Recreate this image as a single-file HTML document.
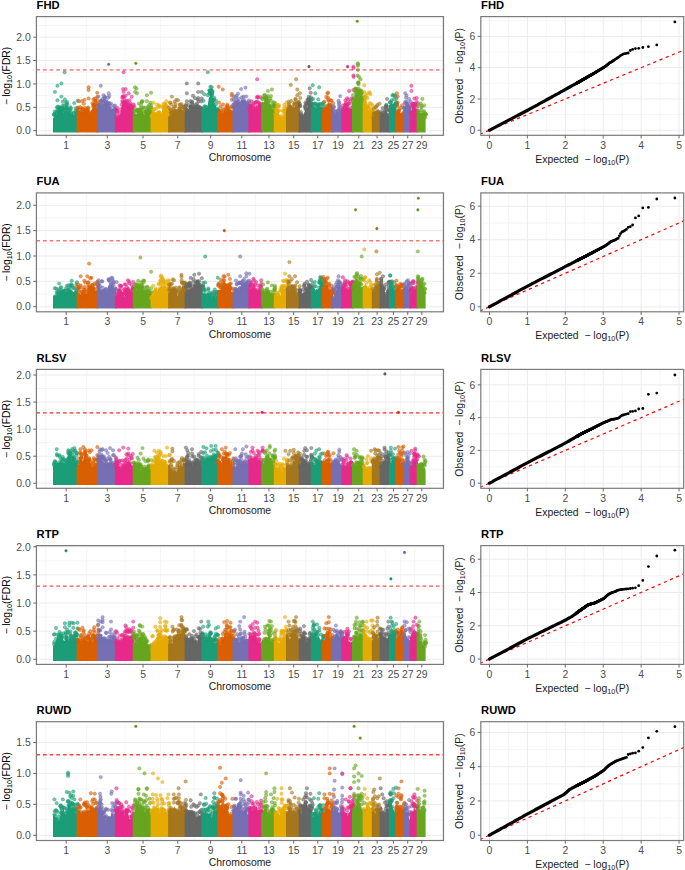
<!DOCTYPE html>
<html><head><meta charset="utf-8"><style>html,body{margin:0;padding:0;background:#fff;}svg{display:block;}.p circle{r:1.7px;fill-opacity:.6;stroke-opacity:.6;stroke-width:.6px}</style></head>
<body><svg width="685" height="870" viewBox="0 0 685 870">
<rect width="685" height="870" fill="#fff"/>
<rect x="36.4" y="16.6" width="407.1" height="118.70000000000002" fill="#fff"/>
<line x1="36.4" x2="443.5" y1="119.01" y2="119.01" stroke="#EBEBEB" stroke-width="0.5"/>
<line x1="36.4" x2="443.5" y1="95.62" y2="95.62" stroke="#EBEBEB" stroke-width="0.5"/>
<line x1="36.4" x2="443.5" y1="72.24" y2="72.24" stroke="#EBEBEB" stroke-width="0.5"/>
<line x1="36.4" x2="443.5" y1="48.85" y2="48.85" stroke="#EBEBEB" stroke-width="0.5"/>
<line x1="36.4" x2="443.5" y1="25.47" y2="25.47" stroke="#EBEBEB" stroke-width="0.5"/>
<line x1="45.70" x2="45.70" y1="16.6" y2="135.3" stroke="#EBEBEB" stroke-width="0.5"/>
<line x1="86.75" x2="86.75" y1="16.6" y2="135.3" stroke="#EBEBEB" stroke-width="0.5"/>
<line x1="125.16" x2="125.16" y1="16.6" y2="135.3" stroke="#EBEBEB" stroke-width="0.5"/>
<line x1="160.39" x2="160.39" y1="16.6" y2="135.3" stroke="#EBEBEB" stroke-width="0.5"/>
<line x1="194.19" x2="194.19" y1="16.6" y2="135.3" stroke="#EBEBEB" stroke-width="0.5"/>
<line x1="226.24" x2="226.24" y1="16.6" y2="135.3" stroke="#EBEBEB" stroke-width="0.5"/>
<line x1="255.38" x2="255.38" y1="16.6" y2="135.3" stroke="#EBEBEB" stroke-width="0.5"/>
<line x1="281.34" x2="281.34" y1="16.6" y2="135.3" stroke="#EBEBEB" stroke-width="0.5"/>
<line x1="305.76" x2="305.76" y1="16.6" y2="135.3" stroke="#EBEBEB" stroke-width="0.5"/>
<line x1="327.88" x2="327.88" y1="16.6" y2="135.3" stroke="#EBEBEB" stroke-width="0.5"/>
<line x1="348.37" x2="348.37" y1="16.6" y2="135.3" stroke="#EBEBEB" stroke-width="0.5"/>
<line x1="367.94" x2="367.94" y1="16.6" y2="135.3" stroke="#EBEBEB" stroke-width="0.5"/>
<line x1="385.28" x2="385.28" y1="16.6" y2="135.3" stroke="#EBEBEB" stroke-width="0.5"/>
<line x1="400.58" x2="400.58" y1="16.6" y2="135.3" stroke="#EBEBEB" stroke-width="0.5"/>
<line x1="414.75" x2="414.75" y1="16.6" y2="135.3" stroke="#EBEBEB" stroke-width="0.5"/>
<line x1="442.32" x2="442.32" y1="16.6" y2="135.3" stroke="#EBEBEB" stroke-width="0.5"/>
<line x1="36.4" x2="443.5" y1="130.70" y2="130.70" stroke="#EBEBEB" stroke-width="1"/>
<line x1="36.4" x2="443.5" y1="107.31" y2="107.31" stroke="#EBEBEB" stroke-width="1"/>
<line x1="36.4" x2="443.5" y1="83.93" y2="83.93" stroke="#EBEBEB" stroke-width="1"/>
<line x1="36.4" x2="443.5" y1="60.54" y2="60.54" stroke="#EBEBEB" stroke-width="1"/>
<line x1="36.4" x2="443.5" y1="37.16" y2="37.16" stroke="#EBEBEB" stroke-width="1"/>
<path d="M53.0,132.4 L53.0,118.3 L54.4,116.8 L55.4,115.3 L56.4,114.5 L57.4,112.4 L58.4,110.7 L59.4,111.7 L60.4,112.0 L61.4,108.5 L62.4,108.1 L63.4,113.3 L64.4,111.2 L65.4,111.1 L66.4,110.2 L67.4,108.4 L68.4,110.9 L69.4,112.3 L70.4,113.6 L71.4,113.9 L72.4,111.9 L73.4,114.9 L74.4,114.5 L75.4,114.4 L76.4,112.0 L77.4,109.2 L78.0,111.9 L78.0,111.9 L78.0,132.4Z" fill="#1B9E77"/><g class="p" fill="#1B9E77" stroke="#1B9E77"><circle cx="70.1" cy="110.1"/><circle cx="75.0" cy="112.2"/><circle cx="71.4" cy="112.1"/><circle cx="67.0" cy="108.8"/><circle cx="59.4" cy="112.1"/><circle cx="77.9" cy="111.8"/><circle cx="57.9" cy="111.7"/><circle cx="59.2" cy="108.5"/><circle cx="76.1" cy="112.8"/><circle cx="63.5" cy="112.6"/><circle cx="75.8" cy="110.5"/><circle cx="68.3" cy="109.6"/><circle cx="74.1" cy="113.2"/><circle cx="59.3" cy="111.4"/><circle cx="65.5" cy="108.4"/><circle cx="78.1" cy="112.8"/><circle cx="57.6" cy="110.4"/><circle cx="62.9" cy="108.3"/><circle cx="55.1" cy="115.5"/><circle cx="62.9" cy="110.7"/><circle cx="59.6" cy="112.2"/><circle cx="66.1" cy="107.8"/><circle cx="59.6" cy="107.8"/><circle cx="54.5" cy="114.4"/><circle cx="59.4" cy="111.3"/><circle cx="61.5" cy="107.6"/><circle cx="65.3" cy="110.4"/><circle cx="54.0" cy="114.8"/><circle cx="58.9" cy="106.9"/><circle cx="77.3" cy="109.3"/><circle cx="61.0" cy="108.8"/><circle cx="54.1" cy="114.2"/><circle cx="70.2" cy="113.9"/><circle cx="62.5" cy="105.7"/><circle cx="55.7" cy="112.6"/><circle cx="61.7" cy="108.9"/><circle cx="67.2" cy="107.5"/><circle cx="58.4" cy="111.6"/><circle cx="64.9" cy="110.0"/><circle cx="62.4" cy="108.9"/><circle cx="56.7" cy="112.8"/><circle cx="75.7" cy="114.3"/><circle cx="58.5" cy="108.7"/><circle cx="68.6" cy="110.8"/><circle cx="70.1" cy="113.4"/><circle cx="62.4" cy="108.5"/><circle cx="60.6" cy="109.5"/><circle cx="57.7" cy="106.6"/><circle cx="64.2" cy="106.0"/><circle cx="70.5" cy="107.3"/><circle cx="62.8" cy="101.7"/><circle cx="66.3" cy="104.7"/><circle cx="75.9" cy="108.1"/><circle cx="56.9" cy="107.6"/><circle cx="54.7" cy="111.4"/><circle cx="66.2" cy="103.0"/><circle cx="71.1" cy="108.5"/><circle cx="67.1" cy="101.9"/><circle cx="64.6" cy="72.2"/><circle cx="61.4" cy="83.5"/><circle cx="57.5" cy="85.8"/><circle cx="54.9" cy="91.9"/><circle cx="61.4" cy="96.6"/><circle cx="64.9" cy="99.4"/><circle cx="57.5" cy="100.3"/><circle cx="74.2" cy="103.1"/><circle cx="77.7" cy="100.8"/><circle cx="67.5" cy="104.5"/></g>
<path d="M76.6,132.4 L76.6,114.9 L78.0,113.4 L79.0,112.2 L80.0,112.6 L81.0,113.3 L82.0,109.5 L83.0,112.2 L84.0,109.8 L85.0,110.3 L86.0,110.6 L87.0,112.1 L88.0,113.0 L89.0,114.1 L90.0,114.8 L91.0,110.4 L92.0,109.1 L93.0,107.6 L94.0,105.1 L95.0,105.9 L96.0,106.6 L97.0,109.3 L98.0,106.1 L98.3,108.0 L98.3,108.0 L98.3,132.4Z" fill="#D95F02"/><g class="p" fill="#D95F02" stroke="#D95F02"><circle cx="93.3" cy="105.3"/><circle cx="98.8" cy="105.6"/><circle cx="87.3" cy="112.7"/><circle cx="77.6" cy="112.3"/><circle cx="86.5" cy="111.4"/><circle cx="92.5" cy="103.3"/><circle cx="80.9" cy="113.1"/><circle cx="85.0" cy="110.1"/><circle cx="86.6" cy="110.5"/><circle cx="97.9" cy="105.8"/><circle cx="89.2" cy="112.2"/><circle cx="94.2" cy="105.0"/><circle cx="79.9" cy="112.4"/><circle cx="93.3" cy="106.9"/><circle cx="94.4" cy="104.8"/><circle cx="82.8" cy="111.3"/><circle cx="96.1" cy="107.0"/><circle cx="79.7" cy="113.4"/><circle cx="98.0" cy="103.9"/><circle cx="87.5" cy="108.4"/><circle cx="86.1" cy="109.6"/><circle cx="88.8" cy="112.5"/><circle cx="89.8" cy="115.6"/><circle cx="90.0" cy="114.1"/><circle cx="82.1" cy="108.1"/><circle cx="98.0" cy="103.4"/><circle cx="87.2" cy="111.3"/><circle cx="82.1" cy="109.2"/><circle cx="87.6" cy="112.6"/><circle cx="85.2" cy="108.0"/><circle cx="78.9" cy="113.1"/><circle cx="87.2" cy="110.8"/><circle cx="88.2" cy="109.4"/><circle cx="97.0" cy="110.2"/><circle cx="95.0" cy="101.2"/><circle cx="95.2" cy="103.9"/><circle cx="82.8" cy="109.4"/><circle cx="79.7" cy="113.3"/><circle cx="79.8" cy="109.6"/><circle cx="98.1" cy="107.8"/><circle cx="77.7" cy="108.2"/><circle cx="84.5" cy="99.9"/><circle cx="95.2" cy="100.6"/><circle cx="95.0" cy="98.5"/><circle cx="88.2" cy="107.4"/><circle cx="93.5" cy="99.2"/><circle cx="80.1" cy="107.2"/><circle cx="78.3" cy="107.7"/><circle cx="81.9" cy="101.1"/><circle cx="83.9" cy="103.7"/><circle cx="88.6" cy="87.2"/><circle cx="88.6" cy="90.0"/><circle cx="88.6" cy="98.4"/><circle cx="97.3" cy="92.8"/><circle cx="97.3" cy="97.0"/><circle cx="97.3" cy="100.8"/><circle cx="78.9" cy="101.2"/><circle cx="93.8" cy="104.5"/></g>
<path d="M96.9,132.4 L96.9,107.4 L98.3,105.9 L99.3,105.0 L100.3,103.0 L101.3,104.4 L102.3,104.2 L103.3,103.7 L104.3,103.4 L105.3,103.5 L106.3,104.3 L107.3,103.4 L108.3,104.5 L109.3,104.3 L110.3,105.6 L111.3,110.4 L112.3,109.3 L113.3,111.8 L114.3,112.3 L115.3,112.2 L116.3,111.8 L116.3,111.8 L116.3,132.4Z" fill="#7570B3"/><g class="p" fill="#7570B3" stroke="#7570B3"><circle cx="106.5" cy="103.6"/><circle cx="106.9" cy="102.2"/><circle cx="115.1" cy="108.9"/><circle cx="108.9" cy="103.2"/><circle cx="105.8" cy="100.3"/><circle cx="103.6" cy="102.3"/><circle cx="106.0" cy="103.3"/><circle cx="99.0" cy="106.0"/><circle cx="106.7" cy="102.9"/><circle cx="104.0" cy="100.7"/><circle cx="101.0" cy="101.8"/><circle cx="114.8" cy="113.0"/><circle cx="100.6" cy="100.6"/><circle cx="104.2" cy="100.6"/><circle cx="116.0" cy="109.7"/><circle cx="106.6" cy="105.0"/><circle cx="105.1" cy="102.7"/><circle cx="114.5" cy="111.6"/><circle cx="111.7" cy="110.9"/><circle cx="114.5" cy="109.0"/><circle cx="101.5" cy="104.7"/><circle cx="107.8" cy="104.7"/><circle cx="101.3" cy="100.8"/><circle cx="111.0" cy="109.1"/><circle cx="99.3" cy="104.8"/><circle cx="107.2" cy="104.0"/><circle cx="111.7" cy="110.8"/><circle cx="101.5" cy="102.0"/><circle cx="115.2" cy="109.1"/><circle cx="110.8" cy="106.2"/><circle cx="98.3" cy="105.7"/><circle cx="115.6" cy="110.1"/><circle cx="109.4" cy="103.2"/><circle cx="113.7" cy="110.9"/><circle cx="113.0" cy="110.9"/><circle cx="111.1" cy="103.6"/><circle cx="113.9" cy="106.0"/><circle cx="102.6" cy="98.8"/><circle cx="108.3" cy="97.7"/><circle cx="115.0" cy="105.4"/><circle cx="104.9" cy="97.5"/><circle cx="104.8" cy="97.5"/><circle cx="104.8" cy="96.8"/><circle cx="100.8" cy="85.8"/><circle cx="108.7" cy="93.3"/><circle cx="103.5" cy="95.2"/><circle cx="98.4" cy="96.6"/><circle cx="109.2" cy="96.1"/></g>
<path d="M114.9,132.4 L114.9,118.8 L116.3,117.3 L117.3,115.8 L118.3,117.1 L119.3,114.4 L120.3,114.0 L121.3,107.4 L122.3,103.7 L123.3,98.9 L124.3,102.7 L125.3,105.4 L126.3,106.0 L127.3,104.5 L128.3,103.0 L129.3,104.5 L130.3,105.6 L131.3,106.3 L132.3,107.4 L133.3,107.5 L134.1,107.6 L134.1,107.6 L134.1,132.4Z" fill="#E7298A"/><g class="p" fill="#E7298A" stroke="#E7298A"><circle cx="130.6" cy="103.4"/><circle cx="122.4" cy="101.1"/><circle cx="127.8" cy="103.7"/><circle cx="129.6" cy="100.2"/><circle cx="121.7" cy="104.7"/><circle cx="116.3" cy="118.2"/><circle cx="124.6" cy="100.9"/><circle cx="124.9" cy="105.0"/><circle cx="130.1" cy="105.0"/><circle cx="126.2" cy="105.9"/><circle cx="124.4" cy="102.9"/><circle cx="127.7" cy="105.2"/><circle cx="130.7" cy="105.6"/><circle cx="127.3" cy="101.5"/><circle cx="131.8" cy="106.9"/><circle cx="124.4" cy="102.6"/><circle cx="119.5" cy="112.6"/><circle cx="126.9" cy="105.0"/><circle cx="125.1" cy="104.1"/><circle cx="132.7" cy="106.7"/><circle cx="132.1" cy="107.6"/><circle cx="118.1" cy="116.5"/><circle cx="123.0" cy="96.2"/><circle cx="117.6" cy="115.8"/><circle cx="126.3" cy="104.2"/><circle cx="125.1" cy="102.4"/><circle cx="130.7" cy="106.6"/><circle cx="120.9" cy="109.3"/><circle cx="126.2" cy="102.8"/><circle cx="123.3" cy="96.8"/><circle cx="134.0" cy="106.3"/><circle cx="117.2" cy="112.3"/><circle cx="122.6" cy="102.1"/><circle cx="126.1" cy="105.3"/><circle cx="133.7" cy="104.5"/><circle cx="117.0" cy="110.7"/><circle cx="123.1" cy="89.1"/><circle cx="122.2" cy="97.5"/><circle cx="126.3" cy="100.5"/><circle cx="117.0" cy="110.0"/><circle cx="124.0" cy="97.5"/><circle cx="128.7" cy="93.4"/><circle cx="131.7" cy="96.7"/><circle cx="123.6" cy="72.2"/><circle cx="125.7" cy="89.1"/><circle cx="123.6" cy="91.9"/><circle cx="125.7" cy="95.6"/><circle cx="117.1" cy="107.8"/></g>
<path d="M132.7,132.4 L132.7,113.5 L134.1,112.0 L135.1,112.9 L136.1,114.2 L137.1,112.9 L138.1,112.0 L139.1,109.5 L140.1,112.5 L141.1,113.1 L142.1,111.1 L143.1,112.9 L144.1,115.0 L145.1,111.2 L146.1,111.2 L147.1,112.5 L148.1,111.0 L149.1,110.8 L150.1,109.9 L151.1,109.7 L152.0,111.5 L152.0,111.5 L152.0,132.4Z" fill="#66A61E"/><g class="p" fill="#66A61E" stroke="#66A61E"><circle cx="138.3" cy="112.5"/><circle cx="145.8" cy="111.1"/><circle cx="151.0" cy="107.4"/><circle cx="147.2" cy="113.0"/><circle cx="146.9" cy="110.8"/><circle cx="148.0" cy="106.8"/><circle cx="141.3" cy="113.5"/><circle cx="151.3" cy="105.4"/><circle cx="148.5" cy="109.8"/><circle cx="151.4" cy="108.5"/><circle cx="142.3" cy="111.0"/><circle cx="142.5" cy="108.4"/><circle cx="138.6" cy="111.1"/><circle cx="146.7" cy="113.2"/><circle cx="145.6" cy="111.4"/><circle cx="140.8" cy="111.9"/><circle cx="137.1" cy="110.2"/><circle cx="145.8" cy="111.9"/><circle cx="142.8" cy="113.8"/><circle cx="148.6" cy="107.5"/><circle cx="148.0" cy="109.8"/><circle cx="138.2" cy="109.7"/><circle cx="134.3" cy="111.2"/><circle cx="139.8" cy="110.4"/><circle cx="152.0" cy="111.8"/><circle cx="150.0" cy="110.4"/><circle cx="137.1" cy="110.1"/><circle cx="138.2" cy="111.1"/><circle cx="139.6" cy="109.7"/><circle cx="135.1" cy="109.1"/><circle cx="139.9" cy="110.4"/><circle cx="148.4" cy="111.7"/><circle cx="139.2" cy="110.1"/><circle cx="145.2" cy="107.7"/><circle cx="136.2" cy="111.1"/><circle cx="138.9" cy="103.6"/><circle cx="141.8" cy="102.2"/><circle cx="142.5" cy="101.1"/><circle cx="143.6" cy="107.4"/><circle cx="141.8" cy="101.6"/><circle cx="150.8" cy="102.8"/><circle cx="140.9" cy="107.8"/><circle cx="149.3" cy="104.7"/><circle cx="135.0" cy="87.2"/><circle cx="136.5" cy="88.6"/><circle cx="135.0" cy="91.9"/><circle cx="137.0" cy="93.3"/><circle cx="146.9" cy="95.2"/><circle cx="151.1" cy="92.8"/><circle cx="146.9" cy="101.2"/><circle cx="141.0" cy="105.0"/></g>
<path d="M150.6,132.4 L150.6,116.9 L152.0,115.4 L153.0,115.8 L154.0,114.8 L155.0,115.1 L156.0,112.8 L157.0,113.1 L158.0,112.5 L159.0,113.7 L160.0,114.1 L161.0,114.3 L162.0,110.8 L163.0,108.6 L164.0,108.3 L165.0,109.6 L166.0,107.4 L167.0,108.8 L168.0,109.8 L169.0,107.0 L169.5,109.6 L169.5,109.6 L169.5,132.4Z" fill="#E6AB02"/><g class="p" fill="#E6AB02" stroke="#E6AB02"><circle cx="158.5" cy="112.5"/><circle cx="169.6" cy="110.5"/><circle cx="152.9" cy="114.1"/><circle cx="162.2" cy="106.4"/><circle cx="163.5" cy="103.8"/><circle cx="151.9" cy="116.2"/><circle cx="154.2" cy="114.0"/><circle cx="153.9" cy="113.1"/><circle cx="152.0" cy="115.6"/><circle cx="164.5" cy="109.9"/><circle cx="159.1" cy="112.6"/><circle cx="164.1" cy="107.4"/><circle cx="165.6" cy="107.2"/><circle cx="164.5" cy="106.6"/><circle cx="154.7" cy="115.7"/><circle cx="153.3" cy="113.3"/><circle cx="153.4" cy="116.1"/><circle cx="151.6" cy="116.1"/><circle cx="166.1" cy="105.9"/><circle cx="166.8" cy="106.7"/><circle cx="167.3" cy="106.6"/><circle cx="165.0" cy="107.5"/><circle cx="154.7" cy="113.8"/><circle cx="159.6" cy="113.5"/><circle cx="166.7" cy="107.0"/><circle cx="159.0" cy="113.0"/><circle cx="165.1" cy="108.4"/><circle cx="153.3" cy="114.9"/><circle cx="165.7" cy="104.8"/><circle cx="157.2" cy="113.5"/><circle cx="158.7" cy="112.2"/><circle cx="164.8" cy="108.8"/><circle cx="155.9" cy="108.8"/><circle cx="163.2" cy="108.0"/><circle cx="152.0" cy="115.6"/><circle cx="152.9" cy="110.1"/><circle cx="166.3" cy="101.3"/><circle cx="154.2" cy="109.2"/><circle cx="156.8" cy="104.4"/><circle cx="164.8" cy="104.0"/><circle cx="158.2" cy="107.2"/><circle cx="169.9" cy="102.7"/><circle cx="158.8" cy="105.3"/><circle cx="153.5" cy="102.6"/><circle cx="165.0" cy="105.0"/><circle cx="160.0" cy="106.4"/></g>
<path d="M168.1,132.4 L168.1,117.1 L169.5,115.6 L170.5,115.2 L171.5,113.0 L172.5,113.4 L173.5,109.1 L174.5,114.0 L175.5,112.4 L176.5,114.0 L177.5,111.3 L178.5,111.1 L179.5,107.7 L180.5,107.6 L181.5,109.3 L182.5,110.0 L183.5,111.0 L184.5,112.0 L185.5,113.7 L186.0,112.8 L186.0,112.8 L186.0,132.4Z" fill="#A6761D"/><g class="p" fill="#A6761D" stroke="#A6761D"><circle cx="186.0" cy="109.0"/><circle cx="174.1" cy="112.2"/><circle cx="176.8" cy="111.7"/><circle cx="171.3" cy="112.9"/><circle cx="182.5" cy="109.8"/><circle cx="177.6" cy="111.5"/><circle cx="185.8" cy="109.4"/><circle cx="171.1" cy="112.2"/><circle cx="175.3" cy="110.8"/><circle cx="176.8" cy="115.0"/><circle cx="179.3" cy="108.4"/><circle cx="174.0" cy="106.7"/><circle cx="171.1" cy="113.6"/><circle cx="179.9" cy="104.8"/><circle cx="174.6" cy="112.6"/><circle cx="170.8" cy="116.0"/><circle cx="173.3" cy="109.0"/><circle cx="183.2" cy="106.7"/><circle cx="177.6" cy="111.3"/><circle cx="174.5" cy="111.4"/><circle cx="176.3" cy="113.0"/><circle cx="176.5" cy="111.4"/><circle cx="174.8" cy="110.8"/><circle cx="171.0" cy="111.2"/><circle cx="179.5" cy="108.1"/><circle cx="184.5" cy="112.7"/><circle cx="186.5" cy="111.1"/><circle cx="184.7" cy="110.6"/><circle cx="184.5" cy="108.0"/><circle cx="180.1" cy="104.8"/><circle cx="174.4" cy="113.1"/><circle cx="182.7" cy="106.6"/><circle cx="175.4" cy="106.6"/><circle cx="171.0" cy="109.4"/><circle cx="181.5" cy="104.1"/><circle cx="175.6" cy="104.1"/><circle cx="185.6" cy="106.4"/><circle cx="171.4" cy="104.4"/><circle cx="185.8" cy="106.0"/><circle cx="169.0" cy="107.8"/><circle cx="171.9" cy="96.6"/><circle cx="176.3" cy="99.8"/><circle cx="174.5" cy="101.7"/><circle cx="170.1" cy="102.6"/><circle cx="183.3" cy="107.3"/><circle cx="178.0" cy="100.3"/></g>
<path d="M184.6,132.4 L184.6,111.9 L186.0,110.4 L187.0,110.3 L188.0,110.8 L189.0,113.2 L190.0,111.1 L191.0,107.8 L192.0,106.6 L193.0,105.5 L194.0,106.6 L195.0,105.9 L196.0,106.5 L197.0,108.0 L198.0,106.8 L199.0,110.0 L200.0,108.9 L201.0,107.6 L202.0,109.1 L202.8,109.1 L202.8,109.1 L202.8,132.4Z" fill="#666666"/><g class="p" fill="#666666" stroke="#666666"><circle cx="196.3" cy="106.8"/><circle cx="197.0" cy="106.6"/><circle cx="189.9" cy="110.1"/><circle cx="189.4" cy="113.4"/><circle cx="189.3" cy="110.5"/><circle cx="200.3" cy="109.4"/><circle cx="187.5" cy="110.6"/><circle cx="191.1" cy="107.4"/><circle cx="200.1" cy="108.6"/><circle cx="197.0" cy="103.6"/><circle cx="190.6" cy="106.8"/><circle cx="191.6" cy="107.1"/><circle cx="199.5" cy="108.1"/><circle cx="197.2" cy="106.7"/><circle cx="201.5" cy="108.5"/><circle cx="192.1" cy="102.4"/><circle cx="196.2" cy="107.5"/><circle cx="198.2" cy="106.2"/><circle cx="199.1" cy="107.4"/><circle cx="190.6" cy="107.1"/><circle cx="200.0" cy="107.3"/><circle cx="199.7" cy="109.4"/><circle cx="191.9" cy="104.0"/><circle cx="189.0" cy="111.0"/><circle cx="190.4" cy="107.4"/><circle cx="194.3" cy="106.4"/><circle cx="192.7" cy="104.8"/><circle cx="186.1" cy="109.0"/><circle cx="189.2" cy="113.8"/><circle cx="199.7" cy="109.3"/><circle cx="190.9" cy="106.7"/><circle cx="195.7" cy="104.6"/><circle cx="201.9" cy="108.4"/><circle cx="197.8" cy="99.6"/><circle cx="198.6" cy="101.4"/><circle cx="192.0" cy="101.4"/><circle cx="185.9" cy="104.8"/><circle cx="195.0" cy="98.2"/><circle cx="201.3" cy="101.3"/><circle cx="188.4" cy="104.9"/><circle cx="193.0" cy="95.7"/><circle cx="186.8" cy="83.5"/><circle cx="186.8" cy="93.3"/><circle cx="198.2" cy="83.5"/><circle cx="198.2" cy="91.9"/><circle cx="201.7" cy="91.9"/><circle cx="186.8" cy="101.2"/><circle cx="190.3" cy="101.2"/><circle cx="198.2" cy="98.0"/><circle cx="201.7" cy="98.4"/></g>
<path d="M201.4,132.4 L201.4,113.7 L202.8,112.2 L203.8,108.6 L204.8,108.7 L205.8,108.7 L206.8,109.5 L207.8,104.7 L208.8,98.0 L209.8,96.3 L210.8,93.1 L211.8,94.4 L212.8,97.8 L213.8,99.6 L214.8,103.2 L215.8,105.3 L216.8,109.3 L217.8,111.7 L218.5,113.3 L218.5,113.3 L218.5,132.4Z" fill="#1B9E77"/><g class="p" fill="#1B9E77" stroke="#1B9E77"><circle cx="211.6" cy="90.3"/><circle cx="202.8" cy="110.1"/><circle cx="206.7" cy="109.4"/><circle cx="204.5" cy="106.3"/><circle cx="209.2" cy="93.4"/><circle cx="207.3" cy="109.1"/><circle cx="218.2" cy="109.4"/><circle cx="206.6" cy="109.6"/><circle cx="214.3" cy="97.7"/><circle cx="210.3" cy="93.1"/><circle cx="212.1" cy="92.8"/><circle cx="218.5" cy="110.3"/><circle cx="211.6" cy="94.8"/><circle cx="211.9" cy="93.4"/><circle cx="216.8" cy="108.6"/><circle cx="213.8" cy="99.7"/><circle cx="206.2" cy="107.0"/><circle cx="218.1" cy="111.2"/><circle cx="211.0" cy="90.6"/><circle cx="217.1" cy="110.0"/><circle cx="202.8" cy="110.3"/><circle cx="207.0" cy="108.2"/><circle cx="214.0" cy="99.6"/><circle cx="204.5" cy="108.6"/><circle cx="211.0" cy="90.5"/><circle cx="211.8" cy="92.3"/><circle cx="205.2" cy="106.4"/><circle cx="210.1" cy="92.9"/><circle cx="211.4" cy="95.1"/><circle cx="216.0" cy="104.3"/><circle cx="211.9" cy="95.1"/><circle cx="203.5" cy="100.7"/><circle cx="209.5" cy="90.6"/><circle cx="209.5" cy="90.3"/><circle cx="207.7" cy="95.2"/><circle cx="212.6" cy="91.5"/><circle cx="211.7" cy="87.2"/><circle cx="216.2" cy="100.9"/><circle cx="207.8" cy="72.2"/><circle cx="210.4" cy="86.7"/><circle cx="204.3" cy="94.2"/><circle cx="210.4" cy="90.9"/></g>
<path d="M217.1,132.4 L217.1,115.7 L218.5,114.2 L219.5,111.6 L220.5,113.7 L221.5,112.2 L222.5,113.2 L223.5,114.3 L224.5,115.8 L225.5,113.5 L226.5,112.7 L227.5,110.7 L228.5,113.0 L229.5,110.8 L230.5,110.6 L231.5,113.0 L232.5,113.9 L233.5,113.1 L233.9,114.8 L233.9,114.8 L233.9,132.4Z" fill="#D95F02"/><g class="p" fill="#D95F02" stroke="#D95F02"><circle cx="229.4" cy="111.3"/><circle cx="228.6" cy="112.5"/><circle cx="230.9" cy="107.5"/><circle cx="227.6" cy="109.6"/><circle cx="229.3" cy="111.7"/><circle cx="227.6" cy="108.0"/><circle cx="225.0" cy="109.9"/><circle cx="225.1" cy="113.2"/><circle cx="219.3" cy="111.4"/><circle cx="231.5" cy="112.6"/><circle cx="225.7" cy="113.5"/><circle cx="225.0" cy="114.5"/><circle cx="226.8" cy="110.9"/><circle cx="224.7" cy="114.4"/><circle cx="226.4" cy="111.2"/><circle cx="231.6" cy="111.8"/><circle cx="229.5" cy="110.6"/><circle cx="223.0" cy="109.2"/><circle cx="228.1" cy="113.1"/><circle cx="218.5" cy="112.9"/><circle cx="224.9" cy="111.8"/><circle cx="229.1" cy="111.4"/><circle cx="221.8" cy="113.0"/><circle cx="232.8" cy="112.6"/><circle cx="226.4" cy="110.6"/><circle cx="221.2" cy="110.4"/><circle cx="219.5" cy="112.5"/><circle cx="233.8" cy="115.3"/><circle cx="222.1" cy="113.0"/><circle cx="232.6" cy="113.1"/><circle cx="231.9" cy="106.2"/><circle cx="228.2" cy="107.1"/><circle cx="233.5" cy="107.5"/><circle cx="227.3" cy="104.6"/><circle cx="220.6" cy="106.4"/><circle cx="226.1" cy="107.4"/><circle cx="223.0" cy="104.5"/><circle cx="218.7" cy="86.7"/><circle cx="222.7" cy="89.5"/><circle cx="219.2" cy="102.6"/><circle cx="227.1" cy="105.9"/><circle cx="231.8" cy="93.8"/><circle cx="231.8" cy="95.6"/><circle cx="231.8" cy="99.8"/></g>
<path d="M232.5,132.4 L232.5,106.6 L233.9,105.1 L234.9,106.0 L235.9,103.3 L236.9,102.1 L237.9,103.3 L238.9,104.0 L239.9,103.4 L240.9,99.5 L241.9,99.5 L242.9,102.2 L243.9,101.9 L244.9,101.5 L245.9,103.6 L246.9,105.1 L247.9,105.4 L248.9,104.0 L249.8,105.1 L249.8,105.1 L249.8,132.4Z" fill="#7570B3"/><g class="p" fill="#7570B3" stroke="#7570B3"><circle cx="249.0" cy="104.2"/><circle cx="247.0" cy="102.6"/><circle cx="243.6" cy="99.5"/><circle cx="234.8" cy="106.8"/><circle cx="235.3" cy="102.7"/><circle cx="249.2" cy="102.1"/><circle cx="234.1" cy="103.6"/><circle cx="246.6" cy="102.9"/><circle cx="243.3" cy="103.0"/><circle cx="242.7" cy="102.7"/><circle cx="247.1" cy="104.8"/><circle cx="243.4" cy="102.1"/><circle cx="238.6" cy="101.7"/><circle cx="236.7" cy="99.8"/><circle cx="238.3" cy="102.3"/><circle cx="238.3" cy="103.6"/><circle cx="234.8" cy="106.5"/><circle cx="248.9" cy="100.4"/><circle cx="238.3" cy="103.8"/><circle cx="247.5" cy="105.2"/><circle cx="233.4" cy="104.8"/><circle cx="236.3" cy="101.6"/><circle cx="235.9" cy="102.7"/><circle cx="234.6" cy="105.8"/><circle cx="239.6" cy="104.1"/><circle cx="244.9" cy="102.4"/><circle cx="244.4" cy="102.4"/><circle cx="244.4" cy="101.1"/><circle cx="242.7" cy="101.8"/><circle cx="241.8" cy="97.4"/><circle cx="246.4" cy="105.3"/><circle cx="235.9" cy="97.1"/><circle cx="233.8" cy="99.7"/><circle cx="233.9" cy="96.4"/><circle cx="238.0" cy="93.6"/><circle cx="246.3" cy="96.5"/><circle cx="238.9" cy="98.6"/><circle cx="243.4" cy="96.5"/><circle cx="241.1" cy="89.1"/><circle cx="245.5" cy="87.7"/><circle cx="236.7" cy="95.6"/></g>
<path d="M248.4,132.4 L248.4,111.2 L249.8,109.7 L250.8,109.7 L251.8,107.5 L252.8,110.5 L253.8,107.4 L254.8,106.0 L255.8,108.0 L256.8,106.4 L257.8,106.3 L258.8,103.5 L259.8,104.5 L260.8,105.7 L261.8,105.7 L262.7,106.6 L262.7,106.6 L262.7,132.4Z" fill="#E7298A"/><g class="p" fill="#E7298A" stroke="#E7298A"><circle cx="260.2" cy="104.6"/><circle cx="253.5" cy="103.1"/><circle cx="252.8" cy="110.8"/><circle cx="255.2" cy="103.1"/><circle cx="249.9" cy="105.7"/><circle cx="255.7" cy="107.1"/><circle cx="250.8" cy="105.5"/><circle cx="251.4" cy="105.7"/><circle cx="259.2" cy="103.0"/><circle cx="257.7" cy="101.6"/><circle cx="249.5" cy="109.7"/><circle cx="249.5" cy="108.1"/><circle cx="252.4" cy="108.6"/><circle cx="250.2" cy="109.2"/><circle cx="249.8" cy="108.1"/><circle cx="259.6" cy="105.4"/><circle cx="251.7" cy="106.1"/><circle cx="259.7" cy="104.3"/><circle cx="262.0" cy="104.0"/><circle cx="262.7" cy="106.9"/><circle cx="257.5" cy="106.4"/><circle cx="253.0" cy="107.2"/><circle cx="251.2" cy="109.6"/><circle cx="250.2" cy="109.4"/><circle cx="262.6" cy="106.1"/><circle cx="258.2" cy="97.6"/><circle cx="260.3" cy="97.2"/><circle cx="256.8" cy="97.4"/><circle cx="255.9" cy="102.3"/><circle cx="256.3" cy="102.2"/><circle cx="252.9" cy="105.0"/><circle cx="257.2" cy="79.3"/><circle cx="251.6" cy="101.2"/><circle cx="257.8" cy="96.6"/></g>
<path d="M261.3,132.4 L261.3,103.2 L262.7,101.7 L263.7,102.5 L264.7,100.7 L265.7,100.3 L266.7,103.0 L267.7,101.1 L268.7,104.3 L269.7,104.3 L270.7,104.0 L271.7,107.4 L272.7,109.0 L273.7,108.3 L274.7,106.5 L275.2,107.9 L275.2,107.9 L275.2,132.4Z" fill="#66A61E"/><g class="p" fill="#66A61E" stroke="#66A61E"><circle cx="269.3" cy="105.0"/><circle cx="266.0" cy="100.2"/><circle cx="265.9" cy="98.1"/><circle cx="273.2" cy="106.2"/><circle cx="274.3" cy="105.6"/><circle cx="267.3" cy="101.4"/><circle cx="275.1" cy="105.7"/><circle cx="262.7" cy="98.1"/><circle cx="271.8" cy="107.3"/><circle cx="268.3" cy="103.0"/><circle cx="266.4" cy="103.1"/><circle cx="266.1" cy="99.7"/><circle cx="265.9" cy="97.9"/><circle cx="262.3" cy="99.2"/><circle cx="275.5" cy="108.1"/><circle cx="264.5" cy="98.2"/><circle cx="267.3" cy="98.8"/><circle cx="273.4" cy="106.3"/><circle cx="268.8" cy="100.9"/><circle cx="275.4" cy="103.5"/><circle cx="266.4" cy="103.1"/><circle cx="271.3" cy="105.9"/><circle cx="266.0" cy="97.5"/><circle cx="270.9" cy="100.8"/><circle cx="273.0" cy="103.4"/><circle cx="267.8" cy="96.0"/><circle cx="266.5" cy="97.0"/><circle cx="264.8" cy="95.0"/><circle cx="270.2" cy="98.4"/><circle cx="273.9" cy="102.3"/><circle cx="267.9" cy="90.9"/><circle cx="271.9" cy="89.5"/><circle cx="264.0" cy="95.6"/><circle cx="271.0" cy="96.1"/></g>
<path d="M273.8,132.4 L273.8,115.2 L275.2,113.7 L276.2,113.5 L277.2,114.3 L278.2,112.1 L279.2,114.9 L280.2,115.8 L281.2,116.9 L282.2,116.3 L283.2,116.0 L284.2,111.8 L285.2,112.7 L286.2,110.9 L287.2,111.8 L287.4,110.2 L287.4,110.2 L287.4,132.4Z" fill="#E6AB02"/><g class="p" fill="#E6AB02" stroke="#E6AB02"><circle cx="281.2" cy="117.6"/><circle cx="285.7" cy="109.0"/><circle cx="283.0" cy="114.9"/><circle cx="287.8" cy="110.7"/><circle cx="279.2" cy="110.7"/><circle cx="284.2" cy="107.8"/><circle cx="278.0" cy="111.1"/><circle cx="274.9" cy="113.9"/><circle cx="287.4" cy="112.5"/><circle cx="287.0" cy="107.1"/><circle cx="276.3" cy="114.4"/><circle cx="277.1" cy="114.7"/><circle cx="275.4" cy="109.9"/><circle cx="287.3" cy="112.7"/><circle cx="276.3" cy="111.3"/><circle cx="285.0" cy="111.9"/><circle cx="284.8" cy="110.8"/><circle cx="283.7" cy="111.1"/><circle cx="287.3" cy="109.6"/><circle cx="287.4" cy="109.8"/><circle cx="287.2" cy="111.4"/><circle cx="277.1" cy="113.4"/><circle cx="277.2" cy="110.8"/><circle cx="279.7" cy="116.1"/><circle cx="278.5" cy="106.9"/><circle cx="277.0" cy="107.5"/><circle cx="284.3" cy="104.7"/><circle cx="279.0" cy="105.2"/><circle cx="282.6" cy="110.7"/><circle cx="278.1" cy="106.4"/><circle cx="277.7" cy="105.0"/><circle cx="286.4" cy="102.6"/></g>
<path d="M286.0,132.4 L286.0,110.4 L287.4,108.9 L288.4,108.2 L289.4,110.5 L290.4,108.2 L291.4,108.1 L292.4,108.4 L293.4,105.8 L294.4,107.5 L295.4,105.8 L296.4,105.4 L297.4,104.5 L298.4,104.7 L299.4,105.2 L300.1,105.2 L300.1,105.2 L300.1,132.4Z" fill="#A6761D"/><g class="p" fill="#A6761D" stroke="#A6761D"><circle cx="299.2" cy="105.2"/><circle cx="291.1" cy="108.0"/><circle cx="289.9" cy="107.0"/><circle cx="299.0" cy="105.3"/><circle cx="297.8" cy="103.1"/><circle cx="290.5" cy="107.9"/><circle cx="288.7" cy="104.9"/><circle cx="294.0" cy="104.0"/><circle cx="296.4" cy="105.8"/><circle cx="298.4" cy="103.5"/><circle cx="298.1" cy="104.2"/><circle cx="292.4" cy="106.7"/><circle cx="294.8" cy="104.3"/><circle cx="299.9" cy="106.0"/><circle cx="297.4" cy="103.8"/><circle cx="296.3" cy="103.7"/><circle cx="298.9" cy="101.8"/><circle cx="298.3" cy="102.3"/><circle cx="290.0" cy="106.9"/><circle cx="288.3" cy="108.4"/><circle cx="289.1" cy="107.8"/><circle cx="297.9" cy="103.5"/><circle cx="289.3" cy="111.0"/><circle cx="290.8" cy="107.9"/><circle cx="299.6" cy="105.7"/><circle cx="295.3" cy="98.9"/><circle cx="294.8" cy="102.2"/><circle cx="291.1" cy="101.0"/><circle cx="295.7" cy="99.4"/><circle cx="289.3" cy="104.1"/><circle cx="288.7" cy="101.6"/><circle cx="296.1" cy="79.3"/><circle cx="290.8" cy="84.9"/><circle cx="297.3" cy="89.5"/><circle cx="299.9" cy="93.3"/><circle cx="297.3" cy="95.2"/><circle cx="300.3" cy="98.0"/></g>
<path d="M298.7,132.4 L298.7,115.3 L300.1,113.8 L301.1,114.9 L302.1,113.5 L303.1,115.1 L304.1,112.8 L305.1,110.6 L306.1,108.6 L307.1,108.2 L308.1,103.6 L309.1,98.9 L310.1,95.0 L311.1,102.3 L312.1,109.0 L312.2,110.3 L312.2,110.3 L312.2,132.4Z" fill="#666666"/><g class="p" fill="#666666" stroke="#666666"><circle cx="311.6" cy="104.9"/><circle cx="311.3" cy="103.3"/><circle cx="310.9" cy="97.4"/><circle cx="312.2" cy="111.2"/><circle cx="308.5" cy="98.9"/><circle cx="305.7" cy="109.1"/><circle cx="305.4" cy="107.3"/><circle cx="311.9" cy="106.6"/><circle cx="308.3" cy="102.0"/><circle cx="310.9" cy="99.9"/><circle cx="300.5" cy="114.3"/><circle cx="307.3" cy="104.4"/><circle cx="305.9" cy="105.0"/><circle cx="301.0" cy="112.1"/><circle cx="312.0" cy="107.0"/><circle cx="304.7" cy="106.3"/><circle cx="308.7" cy="96.8"/><circle cx="308.6" cy="99.4"/><circle cx="311.2" cy="103.2"/><circle cx="307.2" cy="103.4"/><circle cx="308.4" cy="101.6"/><circle cx="305.5" cy="108.8"/><circle cx="308.9" cy="100.3"/><circle cx="301.4" cy="114.6"/><circle cx="309.7" cy="88.3"/><circle cx="299.9" cy="104.0"/><circle cx="306.6" cy="103.2"/><circle cx="310.7" cy="92.8"/><circle cx="307.5" cy="99.8"/><circle cx="299.9" cy="106.1"/><circle cx="305.5" cy="102.6"/></g>
<path d="M310.8,132.4 L310.8,107.5 L312.2,106.0 L313.2,105.8 L314.2,105.9 L315.2,107.0 L316.2,109.0 L317.2,107.1 L318.2,107.9 L319.2,108.3 L320.2,107.6 L321.2,110.0 L322.2,110.4 L323.2,111.9 L323.4,111.6 L323.4,111.6 L323.4,132.4Z" fill="#1B9E77"/><g class="p" fill="#1B9E77" stroke="#1B9E77"><circle cx="323.3" cy="106.7"/><circle cx="317.1" cy="107.1"/><circle cx="318.1" cy="107.7"/><circle cx="320.5" cy="107.7"/><circle cx="316.7" cy="106.3"/><circle cx="315.0" cy="104.1"/><circle cx="322.1" cy="111.2"/><circle cx="313.1" cy="104.5"/><circle cx="320.6" cy="104.1"/><circle cx="318.1" cy="104.7"/><circle cx="323.6" cy="112.2"/><circle cx="323.0" cy="109.1"/><circle cx="320.8" cy="108.4"/><circle cx="319.8" cy="104.2"/><circle cx="319.0" cy="108.4"/><circle cx="314.6" cy="103.4"/><circle cx="323.1" cy="111.8"/><circle cx="318.4" cy="104.5"/><circle cx="312.6" cy="103.7"/><circle cx="321.2" cy="110.8"/><circle cx="318.0" cy="105.5"/><circle cx="321.7" cy="109.4"/><circle cx="311.8" cy="99.4"/><circle cx="322.2" cy="103.9"/><circle cx="316.2" cy="103.6"/><circle cx="323.9" cy="104.8"/><circle cx="323.4" cy="102.5"/><circle cx="312.7" cy="85.3"/><circle cx="319.2" cy="87.2"/><circle cx="315.3" cy="93.3"/><circle cx="313.0" cy="98.9"/><circle cx="318.3" cy="99.4"/></g>
<path d="M322.0,132.4 L322.0,113.6 L323.4,112.1 L324.4,110.6 L325.4,108.8 L326.4,106.8 L327.4,107.4 L328.4,102.6 L329.4,104.9 L330.4,106.6 L331.4,108.5 L332.4,109.6 L333.2,109.1 L333.2,109.1 L333.2,132.4Z" fill="#D95F02"/><g class="p" fill="#D95F02" stroke="#D95F02"><circle cx="331.0" cy="108.5"/><circle cx="332.8" cy="108.1"/><circle cx="327.4" cy="108.2"/><circle cx="325.7" cy="109.1"/><circle cx="329.9" cy="106.4"/><circle cx="330.6" cy="105.4"/><circle cx="330.6" cy="106.9"/><circle cx="328.0" cy="97.6"/><circle cx="324.2" cy="109.2"/><circle cx="326.8" cy="107.1"/><circle cx="323.5" cy="112.5"/><circle cx="328.8" cy="100.8"/><circle cx="327.3" cy="105.8"/><circle cx="323.1" cy="110.0"/><circle cx="329.6" cy="105.2"/><circle cx="328.0" cy="99.6"/><circle cx="329.2" cy="104.3"/><circle cx="332.1" cy="109.4"/><circle cx="330.5" cy="105.3"/><circle cx="331.5" cy="100.7"/><circle cx="328.1" cy="92.7"/><circle cx="330.7" cy="100.3"/><circle cx="333.1" cy="103.1"/><circle cx="327.4" cy="93.3"/><circle cx="326.2" cy="97.0"/><circle cx="324.4" cy="101.7"/></g>
<path d="M331.8,132.4 L331.8,112.9 L333.2,111.4 L334.2,111.1 L335.2,114.0 L336.2,110.9 L337.2,110.5 L338.2,111.4 L339.2,111.3 L340.2,110.5 L341.2,112.3 L342.2,113.5 L342.7,109.8 L342.7,109.8 L342.7,132.4Z" fill="#7570B3"/><g class="p" fill="#7570B3" stroke="#7570B3"><circle cx="337.4" cy="110.9"/><circle cx="342.6" cy="109.5"/><circle cx="339.0" cy="109.0"/><circle cx="332.9" cy="110.3"/><circle cx="340.4" cy="107.4"/><circle cx="335.6" cy="111.3"/><circle cx="341.8" cy="111.2"/><circle cx="334.9" cy="114.6"/><circle cx="342.6" cy="113.1"/><circle cx="334.0" cy="107.2"/><circle cx="342.5" cy="110.5"/><circle cx="339.1" cy="109.9"/><circle cx="335.5" cy="111.8"/><circle cx="340.4" cy="109.9"/><circle cx="342.8" cy="109.1"/><circle cx="341.2" cy="112.7"/><circle cx="342.4" cy="113.3"/><circle cx="332.8" cy="110.2"/><circle cx="342.3" cy="114.2"/><circle cx="339.2" cy="106.1"/><circle cx="338.8" cy="104.1"/><circle cx="333.6" cy="106.0"/><circle cx="339.4" cy="102.7"/><circle cx="340.2" cy="96.1"/><circle cx="338.5" cy="100.8"/></g>
<path d="M341.3,132.4 L341.3,110.3 L342.7,108.8 L343.7,110.1 L344.7,109.7 L345.7,104.5 L346.7,105.3 L347.7,105.7 L348.7,109.1 L349.7,108.9 L350.7,108.6 L351.7,108.4 L352.7,106.0 L353.4,106.8 L353.4,106.8 L353.4,132.4Z" fill="#E7298A"/><g class="p" fill="#E7298A" stroke="#E7298A"><circle cx="353.1" cy="106.3"/><circle cx="350.9" cy="107.9"/><circle cx="345.5" cy="100.2"/><circle cx="344.9" cy="108.5"/><circle cx="353.2" cy="104.0"/><circle cx="345.7" cy="104.6"/><circle cx="345.7" cy="103.0"/><circle cx="347.2" cy="105.9"/><circle cx="348.4" cy="109.4"/><circle cx="345.2" cy="104.9"/><circle cx="342.8" cy="105.4"/><circle cx="345.5" cy="104.8"/><circle cx="348.4" cy="109.6"/><circle cx="347.6" cy="104.6"/><circle cx="344.5" cy="107.5"/><circle cx="348.5" cy="109.4"/><circle cx="344.8" cy="108.6"/><circle cx="346.6" cy="106.0"/><circle cx="344.2" cy="107.7"/><circle cx="348.2" cy="103.8"/><circle cx="343.5" cy="110.5"/><circle cx="348.2" cy="99.8"/><circle cx="347.1" cy="98.3"/><circle cx="353.1" cy="98.7"/><circle cx="350.4" cy="101.5"/><circle cx="349.1" cy="103.6"/><circle cx="353.4" cy="66.6"/><circle cx="353.4" cy="68.0"/><circle cx="353.4" cy="75.5"/><circle cx="353.7" cy="76.9"/><circle cx="349.1" cy="90.9"/><circle cx="353.4" cy="90.0"/><circle cx="351.4" cy="98.4"/></g>
<path d="M352.0,132.4 L352.0,102.8 L353.4,101.3 L354.4,98.6 L355.4,92.4 L356.4,89.7 L357.4,92.4 L358.4,89.5 L359.4,91.8 L360.4,93.8 L361.4,93.1 L362.4,99.0 L363.4,102.8 L364.1,103.4 L364.1,103.4 L364.1,132.4Z" fill="#66A61E"/><g class="p" fill="#66A61E" stroke="#66A61E"><circle cx="357.0" cy="91.3"/><circle cx="360.2" cy="90.6"/><circle cx="355.5" cy="92.6"/><circle cx="363.4" cy="98.1"/><circle cx="364.5" cy="102.3"/><circle cx="358.5" cy="88.5"/><circle cx="355.7" cy="89.0"/><circle cx="362.6" cy="99.8"/><circle cx="361.6" cy="93.3"/><circle cx="362.7" cy="98.4"/><circle cx="355.4" cy="88.4"/><circle cx="361.6" cy="92.8"/><circle cx="353.0" cy="100.7"/><circle cx="361.2" cy="90.6"/><circle cx="355.3" cy="91.1"/><circle cx="364.1" cy="104.3"/><circle cx="358.7" cy="90.8"/><circle cx="353.1" cy="100.3"/><circle cx="354.6" cy="98.1"/><circle cx="355.4" cy="89.8"/><circle cx="362.1" cy="96.1"/><circle cx="364.1" cy="97.4"/><circle cx="353.1" cy="95.2"/><circle cx="358.2" cy="82.4"/><circle cx="362.2" cy="92.3"/><circle cx="358.4" cy="82.8"/><circle cx="357.9" cy="63.4"/><circle cx="357.9" cy="64.3"/><circle cx="357.9" cy="65.7"/><circle cx="357.9" cy="69.9"/><circle cx="357.5" cy="75.5"/><circle cx="359.0" cy="76.9"/><circle cx="360.5" cy="79.3"/><circle cx="358.2" cy="83.0"/><circle cx="358.5" cy="84.4"/><circle cx="356.7" cy="89.1"/><circle cx="359.7" cy="90.5"/></g>
<path d="M362.7,132.4 L362.7,102.2 L364.1,100.7 L365.1,97.9 L366.1,98.4 L367.1,104.4 L368.1,110.2 L369.1,111.1 L370.1,109.8 L371.1,111.3 L372.1,112.5 L373.1,112.9 L373.2,108.7 L373.2,108.7 L373.2,132.4Z" fill="#E6AB02"/><g class="p" fill="#E6AB02" stroke="#E6AB02"><circle cx="365.8" cy="95.0"/><circle cx="365.0" cy="98.4"/><circle cx="371.1" cy="110.5"/><circle cx="367.6" cy="105.4"/><circle cx="373.2" cy="107.8"/><circle cx="365.7" cy="97.6"/><circle cx="370.5" cy="109.0"/><circle cx="372.0" cy="113.1"/><circle cx="367.8" cy="109.7"/><circle cx="365.0" cy="96.9"/><circle cx="368.8" cy="107.0"/><circle cx="370.8" cy="111.9"/><circle cx="371.0" cy="111.5"/><circle cx="367.8" cy="106.8"/><circle cx="365.6" cy="96.6"/><circle cx="372.6" cy="111.7"/><circle cx="367.8" cy="106.8"/><circle cx="371.1" cy="110.3"/><circle cx="372.6" cy="105.3"/><circle cx="371.0" cy="103.7"/><circle cx="367.6" cy="98.0"/><circle cx="369.8" cy="103.2"/><circle cx="364.3" cy="85.3"/><circle cx="364.3" cy="91.9"/><circle cx="369.6" cy="92.3"/><circle cx="370.4" cy="94.2"/><circle cx="368.1" cy="93.3"/></g>
<path d="M371.8,132.4 L371.8,118.2 L373.2,116.7 L374.2,115.8 L375.2,114.6 L376.2,113.4 L377.2,111.7 L378.2,111.9 L379.2,113.3 L380.2,114.3 L381.0,113.3 L381.0,113.3 L381.0,132.4Z" fill="#A6761D"/><g class="p" fill="#A6761D" stroke="#A6761D"><circle cx="375.9" cy="113.1"/><circle cx="378.4" cy="112.3"/><circle cx="377.7" cy="111.0"/><circle cx="375.8" cy="112.7"/><circle cx="373.8" cy="113.3"/><circle cx="374.0" cy="113.6"/><circle cx="377.2" cy="111.9"/><circle cx="374.7" cy="113.3"/><circle cx="380.1" cy="113.6"/><circle cx="373.2" cy="117.0"/><circle cx="375.6" cy="115.1"/><circle cx="379.3" cy="114.1"/><circle cx="380.5" cy="113.9"/><circle cx="374.2" cy="115.2"/><circle cx="379.8" cy="114.3"/><circle cx="377.4" cy="105.0"/><circle cx="374.1" cy="109.0"/><circle cx="375.6" cy="107.4"/><circle cx="379.5" cy="103.6"/><circle cx="376.4" cy="106.4"/></g>
<path d="M379.6,132.4 L379.6,116.3 L381.0,114.8 L382.0,114.8 L383.0,113.0 L384.0,115.5 L385.0,111.9 L386.0,108.0 L387.0,112.2 L388.0,114.0 L389.0,116.6 L390.0,117.1 L390.3,112.0 L390.3,112.0 L390.3,132.4Z" fill="#666666"/><g class="p" fill="#666666" stroke="#666666"><circle cx="382.9" cy="113.7"/><circle cx="384.2" cy="116.3"/><circle cx="381.7" cy="114.8"/><circle cx="384.8" cy="110.9"/><circle cx="383.1" cy="112.3"/><circle cx="389.3" cy="116.8"/><circle cx="390.5" cy="109.8"/><circle cx="386.3" cy="105.9"/><circle cx="386.3" cy="104.7"/><circle cx="380.8" cy="111.9"/><circle cx="386.2" cy="109.0"/><circle cx="388.9" cy="115.0"/><circle cx="383.6" cy="115.1"/><circle cx="384.2" cy="114.6"/><circle cx="382.7" cy="108.3"/><circle cx="388.9" cy="114.9"/><circle cx="385.5" cy="111.8"/><circle cx="386.0" cy="107.9"/><circle cx="389.7" cy="109.8"/><circle cx="387.0" cy="106.6"/><circle cx="388.9" cy="110.6"/><circle cx="389.1" cy="110.3"/><circle cx="387.1" cy="98.9"/><circle cx="385.5" cy="106.4"/></g>
<path d="M388.9,132.4 L388.9,105.4 L390.3,103.9 L391.3,103.8 L392.3,103.9 L393.3,104.6 L394.3,101.7 L395.3,103.9 L396.3,105.1 L396.6,104.3 L396.6,104.3 L396.6,132.4Z" fill="#1B9E77"/><g class="p" fill="#1B9E77" stroke="#1B9E77"><circle cx="390.0" cy="102.3"/><circle cx="396.3" cy="103.3"/><circle cx="391.3" cy="102.5"/><circle cx="396.3" cy="102.3"/><circle cx="395.2" cy="104.0"/><circle cx="393.7" cy="105.5"/><circle cx="396.5" cy="105.4"/><circle cx="391.5" cy="100.3"/><circle cx="397.0" cy="104.2"/><circle cx="396.7" cy="103.3"/><circle cx="394.1" cy="99.3"/><circle cx="390.1" cy="102.5"/><circle cx="396.6" cy="98.6"/><circle cx="395.6" cy="96.1"/><circle cx="393.2" cy="94.7"/><circle cx="392.4" cy="95.6"/><circle cx="394.7" cy="95.6"/></g>
<path d="M395.2,132.4 L395.2,114.1 L396.6,112.6 L397.6,111.2 L398.6,111.7 L399.6,110.2 L400.6,113.9 L401.6,115.2 L402.6,114.8 L403.6,113.5 L404.3,112.5 L404.3,112.5 L404.3,132.4Z" fill="#D95F02"/><g class="p" fill="#D95F02" stroke="#D95F02"><circle cx="398.8" cy="111.1"/><circle cx="404.4" cy="112.2"/><circle cx="396.9" cy="113.1"/><circle cx="404.6" cy="112.6"/><circle cx="401.6" cy="114.7"/><circle cx="402.5" cy="115.1"/><circle cx="399.0" cy="110.8"/><circle cx="402.0" cy="114.2"/><circle cx="404.2" cy="113.1"/><circle cx="399.3" cy="109.2"/><circle cx="397.6" cy="111.8"/><circle cx="396.8" cy="113.0"/><circle cx="402.5" cy="114.5"/><circle cx="402.4" cy="115.0"/><circle cx="404.5" cy="111.9"/><circle cx="401.2" cy="107.7"/><circle cx="402.2" cy="105.2"/><circle cx="397.7" cy="106.0"/><circle cx="396.9" cy="93.3"/><circle cx="397.7" cy="96.6"/><circle cx="397.7" cy="102.6"/></g>
<path d="M402.9,132.4 L402.9,110.6 L404.3,109.1 L405.3,106.0 L406.3,103.4 L407.3,105.5 L408.3,104.1 L409.3,105.8 L410.3,105.2 L411.1,108.9 L411.1,108.9 L411.1,132.4Z" fill="#7570B3"/><g class="p" fill="#7570B3" stroke="#7570B3"><circle cx="406.6" cy="104.3"/><circle cx="411.3" cy="107.3"/><circle cx="404.9" cy="102.9"/><circle cx="406.7" cy="102.0"/><circle cx="404.3" cy="107.9"/><circle cx="404.5" cy="109.2"/><circle cx="405.4" cy="102.0"/><circle cx="408.6" cy="103.6"/><circle cx="404.9" cy="107.4"/><circle cx="411.3" cy="106.9"/><circle cx="410.6" cy="101.4"/><circle cx="406.8" cy="104.1"/><circle cx="404.3" cy="107.9"/><circle cx="406.6" cy="95.5"/><circle cx="406.0" cy="97.7"/><circle cx="409.0" cy="98.9"/><circle cx="405.3" cy="93.3"/></g>
<path d="M409.7,132.4 L409.7,113.0 L411.1,111.5 L412.1,107.5 L413.1,105.0 L414.1,104.2 L415.1,105.8 L416.1,108.7 L417.1,109.1 L418.0,111.5 L418.0,111.5 L418.0,132.4Z" fill="#E7298A"/><g class="p" fill="#E7298A" stroke="#E7298A"><circle cx="412.5" cy="103.6"/><circle cx="414.5" cy="105.0"/><circle cx="417.7" cy="110.7"/><circle cx="414.3" cy="103.6"/><circle cx="413.7" cy="105.2"/><circle cx="414.8" cy="105.3"/><circle cx="413.0" cy="104.0"/><circle cx="415.2" cy="105.4"/><circle cx="410.6" cy="111.9"/><circle cx="414.5" cy="104.5"/><circle cx="417.3" cy="106.9"/><circle cx="415.1" cy="104.4"/><circle cx="414.3" cy="104.8"/><circle cx="411.2" cy="104.9"/><circle cx="414.4" cy="98.5"/><circle cx="417.7" cy="103.6"/><circle cx="411.4" cy="85.8"/><circle cx="411.4" cy="90.9"/><circle cx="416.7" cy="98.0"/><circle cx="416.7" cy="101.7"/></g>
<path d="M416.6,132.4 L416.6,116.5 L418.0,115.0 L419.0,113.1 L420.0,113.1 L421.0,113.3 L422.0,113.2 L423.0,113.8 L424.0,115.0 L425.0,116.7 L425.6,114.1 L425.6,114.1 L425.6,132.4Z" fill="#66A61E"/><g class="p" fill="#66A61E" stroke="#66A61E"><circle cx="425.5" cy="113.8"/><circle cx="423.6" cy="112.3"/><circle cx="421.1" cy="110.1"/><circle cx="425.1" cy="114.7"/><circle cx="426.1" cy="114.3"/><circle cx="424.1" cy="111.3"/><circle cx="420.8" cy="112.5"/><circle cx="423.9" cy="115.2"/><circle cx="418.8" cy="113.4"/><circle cx="423.0" cy="114.5"/><circle cx="417.9" cy="112.7"/><circle cx="417.9" cy="111.0"/><circle cx="425.2" cy="117.5"/><circle cx="425.7" cy="114.3"/><circle cx="418.2" cy="115.5"/><circle cx="421.4" cy="107.5"/><circle cx="420.8" cy="103.5"/><circle cx="421.6" cy="105.7"/><circle cx="422.4" cy="98.9"/><circle cx="418.2" cy="105.0"/><circle cx="424.3" cy="105.4"/></g>
<circle cx="108.70" cy="64.29" r="1.3" fill="#6B67A4" stroke="#6B67A4" stroke-width="0.4"/>
<circle cx="135.80" cy="63.35" r="1.3" fill="#5D981B" stroke="#5D981B" stroke-width="0.4"/>
<circle cx="309.00" cy="66.63" r="1.3" fill="#5D5D5D" stroke="#5D5D5D" stroke-width="0.4"/>
<circle cx="347.60" cy="66.63" r="1.3" fill="#D4257E" stroke="#D4257E" stroke-width="0.4"/>
<circle cx="357.20" cy="21.26" r="1.3" fill="#5D981B" stroke="#5D981B" stroke-width="0.4"/>
<line x1="36.4" x2="443.5" y1="69.85" y2="69.85" stroke="#FF0000" stroke-opacity="0.45" stroke-width="1.9" stroke-dasharray="3.7 2.96" stroke-dashoffset="0.1"/>
<rect x="36.4" y="16.6" width="407.1" height="118.70000000000002" fill="none" stroke="#7A7A7A" stroke-width="1.2"/>
<line x1="33.3" x2="36.4" y1="130.70" y2="130.70" stroke="#666" stroke-width="1"/>
<text x="30.8" y="134.45" text-anchor="end" font-size="10.4" fill="#4D4D4D" font-family="Liberation Sans, sans-serif">0.0</text>
<line x1="33.3" x2="36.4" y1="107.31" y2="107.31" stroke="#666" stroke-width="1"/>
<text x="30.8" y="111.06" text-anchor="end" font-size="10.4" fill="#4D4D4D" font-family="Liberation Sans, sans-serif">0.5</text>
<line x1="33.3" x2="36.4" y1="83.93" y2="83.93" stroke="#666" stroke-width="1"/>
<text x="30.8" y="87.68" text-anchor="end" font-size="10.4" fill="#4D4D4D" font-family="Liberation Sans, sans-serif">1.0</text>
<line x1="33.3" x2="36.4" y1="60.54" y2="60.54" stroke="#666" stroke-width="1"/>
<text x="30.8" y="64.29" text-anchor="end" font-size="10.4" fill="#4D4D4D" font-family="Liberation Sans, sans-serif">1.5</text>
<line x1="33.3" x2="36.4" y1="37.16" y2="37.16" stroke="#666" stroke-width="1"/>
<text x="30.8" y="40.91" text-anchor="end" font-size="10.4" fill="#4D4D4D" font-family="Liberation Sans, sans-serif">2.0</text>
<line x1="66.23" x2="66.23" y1="135.3" y2="138.4" stroke="#666" stroke-width="1"/>
<text x="66.23" y="148.70" text-anchor="middle" font-size="10.4" fill="#4D4D4D" font-family="Liberation Sans, sans-serif">1</text>
<line x1="107.28" x2="107.28" y1="135.3" y2="138.4" stroke="#666" stroke-width="1"/>
<text x="107.28" y="148.70" text-anchor="middle" font-size="10.4" fill="#4D4D4D" font-family="Liberation Sans, sans-serif">3</text>
<line x1="143.05" x2="143.05" y1="135.3" y2="138.4" stroke="#666" stroke-width="1"/>
<text x="143.05" y="148.70" text-anchor="middle" font-size="10.4" fill="#4D4D4D" font-family="Liberation Sans, sans-serif">5</text>
<line x1="177.73" x2="177.73" y1="135.3" y2="138.4" stroke="#666" stroke-width="1"/>
<text x="177.73" y="148.70" text-anchor="middle" font-size="10.4" fill="#4D4D4D" font-family="Liberation Sans, sans-serif">7</text>
<line x1="210.65" x2="210.65" y1="135.3" y2="138.4" stroke="#666" stroke-width="1"/>
<text x="210.65" y="148.70" text-anchor="middle" font-size="10.4" fill="#4D4D4D" font-family="Liberation Sans, sans-serif">9</text>
<line x1="241.82" x2="241.82" y1="135.3" y2="138.4" stroke="#666" stroke-width="1"/>
<text x="241.82" y="148.70" text-anchor="middle" font-size="10.4" fill="#4D4D4D" font-family="Liberation Sans, sans-serif">11</text>
<line x1="268.95" x2="268.95" y1="135.3" y2="138.4" stroke="#666" stroke-width="1"/>
<text x="268.95" y="148.70" text-anchor="middle" font-size="10.4" fill="#4D4D4D" font-family="Liberation Sans, sans-serif">13</text>
<line x1="293.73" x2="293.73" y1="135.3" y2="138.4" stroke="#666" stroke-width="1"/>
<text x="293.73" y="148.70" text-anchor="middle" font-size="10.4" fill="#4D4D4D" font-family="Liberation Sans, sans-serif">15</text>
<line x1="317.79" x2="317.79" y1="135.3" y2="138.4" stroke="#666" stroke-width="1"/>
<text x="317.79" y="148.70" text-anchor="middle" font-size="10.4" fill="#4D4D4D" font-family="Liberation Sans, sans-serif">17</text>
<line x1="337.97" x2="337.97" y1="135.3" y2="138.4" stroke="#666" stroke-width="1"/>
<text x="337.97" y="148.70" text-anchor="middle" font-size="10.4" fill="#4D4D4D" font-family="Liberation Sans, sans-serif">19</text>
<line x1="358.76" x2="358.76" y1="135.3" y2="138.4" stroke="#666" stroke-width="1"/>
<text x="358.76" y="148.70" text-anchor="middle" font-size="10.4" fill="#4D4D4D" font-family="Liberation Sans, sans-serif">21</text>
<line x1="377.12" x2="377.12" y1="135.3" y2="138.4" stroke="#666" stroke-width="1"/>
<text x="377.12" y="148.70" text-anchor="middle" font-size="10.4" fill="#4D4D4D" font-family="Liberation Sans, sans-serif">23</text>
<line x1="393.44" x2="393.44" y1="135.3" y2="138.4" stroke="#666" stroke-width="1"/>
<text x="393.44" y="148.70" text-anchor="middle" font-size="10.4" fill="#4D4D4D" font-family="Liberation Sans, sans-serif">25</text>
<line x1="407.72" x2="407.72" y1="135.3" y2="138.4" stroke="#666" stroke-width="1"/>
<text x="407.72" y="148.70" text-anchor="middle" font-size="10.4" fill="#4D4D4D" font-family="Liberation Sans, sans-serif">27</text>
<line x1="421.79" x2="421.79" y1="135.3" y2="138.4" stroke="#666" stroke-width="1"/>
<text x="421.79" y="148.70" text-anchor="middle" font-size="10.4" fill="#4D4D4D" font-family="Liberation Sans, sans-serif">29</text>
<text x="239.95" y="161.00" text-anchor="middle" font-size="10.4" fill="#1A1A1A" font-family="Liberation Sans, sans-serif">Chromosome</text>
<text transform="translate(9.7,75.95) rotate(-90)" text-anchor="middle" font-size="10.3" fill="#000" font-family="Liberation Sans, sans-serif">−<tspan dx="2.4">log</tspan><tspan font-size="7.3" dy="2.2">10</tspan><tspan dy="-2.2">(FDR)</tspan></text>
<text x="36.6" y="9.10" font-size="11.2" font-weight="bold" fill="#000" font-family="Liberation Sans, sans-serif">FHD</text>
<rect x="480.8" y="16.6" width="202.90000000000003" height="118.70000000000002" fill="#fff"/>
<line x1="480.8" x2="683.7" y1="114.61" y2="114.61" stroke="#EBEBEB" stroke-width="0.5"/>
<line x1="480.8" x2="683.7" y1="83.33" y2="83.33" stroke="#EBEBEB" stroke-width="0.5"/>
<line x1="480.8" x2="683.7" y1="52.05" y2="52.05" stroke="#EBEBEB" stroke-width="0.5"/>
<line x1="480.8" x2="683.7" y1="20.77" y2="20.77" stroke="#EBEBEB" stroke-width="0.5"/>
<line x1="508.41" x2="508.41" y1="16.6" y2="135.3" stroke="#EBEBEB" stroke-width="0.5"/>
<line x1="546.33" x2="546.33" y1="16.6" y2="135.3" stroke="#EBEBEB" stroke-width="0.5"/>
<line x1="584.25" x2="584.25" y1="16.6" y2="135.3" stroke="#EBEBEB" stroke-width="0.5"/>
<line x1="622.17" x2="622.17" y1="16.6" y2="135.3" stroke="#EBEBEB" stroke-width="0.5"/>
<line x1="660.09" x2="660.09" y1="16.6" y2="135.3" stroke="#EBEBEB" stroke-width="0.5"/>
<line x1="480.8" x2="683.7" y1="130.25" y2="130.25" stroke="#EBEBEB" stroke-width="1"/>
<line x1="480.8" x2="683.7" y1="98.97" y2="98.97" stroke="#EBEBEB" stroke-width="1"/>
<line x1="480.8" x2="683.7" y1="67.69" y2="67.69" stroke="#EBEBEB" stroke-width="1"/>
<line x1="480.8" x2="683.7" y1="36.41" y2="36.41" stroke="#EBEBEB" stroke-width="1"/>
<line x1="489.45" x2="489.45" y1="16.6" y2="135.3" stroke="#EBEBEB" stroke-width="1"/>
<line x1="527.37" x2="527.37" y1="16.6" y2="135.3" stroke="#EBEBEB" stroke-width="1"/>
<line x1="565.29" x2="565.29" y1="16.6" y2="135.3" stroke="#EBEBEB" stroke-width="1"/>
<line x1="603.21" x2="603.21" y1="16.6" y2="135.3" stroke="#EBEBEB" stroke-width="1"/>
<line x1="641.13" x2="641.13" y1="16.6" y2="135.3" stroke="#EBEBEB" stroke-width="1"/>
<line x1="679.05" x2="679.05" y1="16.6" y2="135.3" stroke="#EBEBEB" stroke-width="1"/>
<clipPath id="qc0"><rect x="480.8" y="16.6" width="202.90000000000003" height="118.70000000000002"/></clipPath>
<line clip-path="url(#qc0)" x1="470.49" y1="138.07" x2="698.01" y2="44.23" stroke="#FF0000" stroke-width="1.2" stroke-dasharray="3.2 3.5" stroke-dashoffset="3.2"/>
<polyline points="577.4,82.8 575.5,83.9 573.6,84.9 571.7,85.9 569.8,87.0 567.9,88.0 566.0,89.1 564.2,90.1 562.3,91.2 560.4,92.2 558.5,93.3 556.6,94.3 554.7,95.4 552.8,96.4 550.9,97.5 549.0,98.5 547.1,99.5 545.2,100.6 543.3,101.6 541.4,102.7 539.5,103.7 537.6,104.8 535.7,105.8 533.8,106.8 531.9,107.9 530.0,108.9 528.1,110.0 526.2,111.0 524.3,112.0 522.4,113.0 520.5,114.0 518.6,115.0 516.8,115.9 514.9,116.9 513.0,117.9 511.1,118.9 509.2,119.9 507.3,120.9 505.4,121.9 503.5,122.9 501.6,123.9 499.7,124.9 497.8,125.9 495.9,126.9 494.0,127.9 492.1,128.9 490.2,129.9 489.4,130.2" fill="none" stroke="#000" stroke-width="3.2" stroke-linecap="round" stroke-linejoin="round"/>
<g fill="#000"><circle cx="674.9" cy="21.9" r="1.4"/><circle cx="656.8" cy="44.9" r="1.4"/><circle cx="648.4" cy="46.7" r="1.4"/><circle cx="642.8" cy="47.5" r="1.4"/><circle cx="638.7" cy="48.3" r="1.4"/><circle cx="635.4" cy="48.6" r="1.4"/><circle cx="632.6" cy="49.4" r="1.4"/><circle cx="630.3" cy="50.5" r="1.4"/><circle cx="628.2" cy="53.0" r="1.4"/><circle cx="626.4" cy="53.4" r="1.4"/><circle cx="624.7" cy="53.7" r="1.4"/><circle cx="623.2" cy="54.1" r="1.4"/><circle cx="621.9" cy="54.8" r="1.4"/><circle cx="620.6" cy="55.6" r="1.4"/><circle cx="619.4" cy="56.6" r="1.4"/><circle cx="618.3" cy="57.4" r="1.4"/><circle cx="617.3" cy="58.0" r="1.4"/><circle cx="616.3" cy="58.6" r="1.4"/><circle cx="615.4" cy="59.3" r="1.4"/><circle cx="614.5" cy="59.9" r="1.4"/><circle cx="613.7" cy="60.5" r="1.4"/><circle cx="612.9" cy="61.0" r="1.4"/><circle cx="612.2" cy="61.5" r="1.4"/><circle cx="611.5" cy="61.9" r="1.4"/><circle cx="610.8" cy="62.3" r="1.4"/><circle cx="610.1" cy="62.7" r="1.4"/><circle cx="609.5" cy="63.0" r="1.4"/><circle cx="608.9" cy="63.5" r="1.4"/><circle cx="608.3" cy="64.0" r="1.4"/><circle cx="607.7" cy="64.5" r="1.4"/><circle cx="607.2" cy="65.0" r="1.4"/><circle cx="606.6" cy="65.4" r="1.4"/><circle cx="606.1" cy="65.9" r="1.4"/><circle cx="605.6" cy="66.3" r="1.4"/><circle cx="605.1" cy="66.6" r="1.4"/><circle cx="604.7" cy="66.8" r="1.4"/><circle cx="604.2" cy="67.1" r="1.4"/><circle cx="603.8" cy="67.4" r="1.4"/><circle cx="603.3" cy="67.7" r="1.4"/><circle cx="602.9" cy="67.9" r="1.4"/><circle cx="602.5" cy="68.2" r="1.4"/><circle cx="602.1" cy="68.4" r="1.4"/><circle cx="601.7" cy="68.6" r="1.4"/><circle cx="601.3" cy="68.9" r="1.4"/><circle cx="601.0" cy="69.1" r="1.4"/><circle cx="600.6" cy="69.3" r="1.4"/><circle cx="600.2" cy="69.5" r="1.4"/><circle cx="599.9" cy="69.8" r="1.4"/><circle cx="599.5" cy="70.0" r="1.4"/><circle cx="599.2" cy="70.2" r="1.4"/><circle cx="598.9" cy="70.4" r="1.4"/><circle cx="598.5" cy="70.6" r="1.4"/><circle cx="598.2" cy="70.8" r="1.4"/><circle cx="597.9" cy="70.9" r="1.4"/><circle cx="597.6" cy="71.1" r="1.4"/><circle cx="597.3" cy="71.3" r="1.4"/><circle cx="597.0" cy="71.5" r="1.4"/><circle cx="596.7" cy="71.7" r="1.4"/><circle cx="596.4" cy="71.8" r="1.4"/><circle cx="596.2" cy="72.0" r="1.4"/><circle cx="595.9" cy="72.2" r="1.4"/><circle cx="595.6" cy="72.3" r="1.4"/><circle cx="595.4" cy="72.5" r="1.4"/><circle cx="595.1" cy="72.6" r="1.4"/><circle cx="594.8" cy="72.8" r="1.4"/><circle cx="594.6" cy="73.0" r="1.4"/><circle cx="594.3" cy="73.1" r="1.4"/><circle cx="594.1" cy="73.3" r="1.4"/><circle cx="593.8" cy="73.4" r="1.4"/><circle cx="593.6" cy="73.5" r="1.4"/><circle cx="593.4" cy="73.7" r="1.4"/><circle cx="593.1" cy="73.8" r="1.4"/><circle cx="592.9" cy="73.9" r="1.4"/><circle cx="592.7" cy="74.1" r="1.4"/><circle cx="592.5" cy="74.2" r="1.4"/><circle cx="592.2" cy="74.3" r="1.4"/><circle cx="592.0" cy="74.5" r="1.4"/><circle cx="591.8" cy="74.6" r="1.4"/><circle cx="591.6" cy="74.7" r="1.4"/><circle cx="591.4" cy="74.8" r="1.4"/><circle cx="591.2" cy="74.9" r="1.4"/><circle cx="591.0" cy="75.1" r="1.4"/><circle cx="590.8" cy="75.2" r="1.4"/><circle cx="590.6" cy="75.3" r="1.4"/><circle cx="590.4" cy="75.4" r="1.4"/><circle cx="590.2" cy="75.5" r="1.4"/><circle cx="590.0" cy="75.6" r="1.4"/><circle cx="589.8" cy="75.7" r="1.4"/><circle cx="589.6" cy="75.8" r="1.4"/><circle cx="589.4" cy="75.9" r="1.4"/><circle cx="589.3" cy="76.0" r="1.4"/><circle cx="589.1" cy="76.2" r="1.4"/><circle cx="588.9" cy="76.3" r="1.4"/><circle cx="588.7" cy="76.4" r="1.4"/><circle cx="588.6" cy="76.5" r="1.4"/><circle cx="588.4" cy="76.6" r="1.4"/><circle cx="588.2" cy="76.7" r="1.4"/><circle cx="588.0" cy="76.8" r="1.4"/><circle cx="587.9" cy="76.8" r="1.4"/><circle cx="587.7" cy="76.9" r="1.4"/><circle cx="587.5" cy="77.0" r="1.4"/><circle cx="587.4" cy="77.1" r="1.4"/><circle cx="587.2" cy="77.2" r="1.4"/><circle cx="587.1" cy="77.3" r="1.4"/><circle cx="586.9" cy="77.4" r="1.4"/><circle cx="586.7" cy="77.5" r="1.4"/><circle cx="586.6" cy="77.6" r="1.4"/><circle cx="586.4" cy="77.7" r="1.4"/><circle cx="586.3" cy="77.8" r="1.4"/><circle cx="586.1" cy="77.9" r="1.4"/><circle cx="586.0" cy="77.9" r="1.4"/><circle cx="585.8" cy="78.0" r="1.4"/><circle cx="585.7" cy="78.1" r="1.4"/><circle cx="585.5" cy="78.2" r="1.4"/><circle cx="585.4" cy="78.3" r="1.4"/><circle cx="585.2" cy="78.4" r="1.4"/><circle cx="585.1" cy="78.4" r="1.4"/><circle cx="585.0" cy="78.5" r="1.4"/><circle cx="584.8" cy="78.6" r="1.4"/><circle cx="584.7" cy="78.7" r="1.4"/><circle cx="584.5" cy="78.8" r="1.4"/><circle cx="584.4" cy="78.8" r="1.4"/><circle cx="584.3" cy="78.9" r="1.4"/><circle cx="584.1" cy="79.0" r="1.4"/><circle cx="584.0" cy="79.1" r="1.4"/><circle cx="583.9" cy="79.1" r="1.4"/><circle cx="583.7" cy="79.2" r="1.4"/><circle cx="583.6" cy="79.3" r="1.4"/><circle cx="583.5" cy="79.4" r="1.4"/><circle cx="583.4" cy="79.4" r="1.4"/><circle cx="583.2" cy="79.5" r="1.4"/><circle cx="583.1" cy="79.6" r="1.4"/><circle cx="583.0" cy="79.7" r="1.4"/><circle cx="582.9" cy="79.7" r="1.4"/><circle cx="582.7" cy="79.8" r="1.4"/><circle cx="582.6" cy="79.9" r="1.4"/><circle cx="582.5" cy="79.9" r="1.4"/><circle cx="582.4" cy="80.0" r="1.4"/><circle cx="582.3" cy="80.1" r="1.4"/><circle cx="582.1" cy="80.1" r="1.4"/><circle cx="582.0" cy="80.2" r="1.4"/><circle cx="581.9" cy="80.3" r="1.4"/><circle cx="581.8" cy="80.3" r="1.4"/><circle cx="581.7" cy="80.4" r="1.4"/><circle cx="581.6" cy="80.5" r="1.4"/><circle cx="581.4" cy="80.5" r="1.4"/><circle cx="581.3" cy="80.6" r="1.4"/><circle cx="581.2" cy="80.7" r="1.4"/><circle cx="581.1" cy="80.7" r="1.4"/><circle cx="581.0" cy="80.8" r="1.4"/><circle cx="580.9" cy="80.9" r="1.4"/><circle cx="580.8" cy="80.9" r="1.4"/><circle cx="580.7" cy="81.0" r="1.4"/><circle cx="580.6" cy="81.1" r="1.4"/><circle cx="580.5" cy="81.1" r="1.4"/><circle cx="580.3" cy="81.2" r="1.4"/><circle cx="580.2" cy="81.2" r="1.4"/><circle cx="580.1" cy="81.3" r="1.4"/><circle cx="580.0" cy="81.4" r="1.4"/><circle cx="579.9" cy="81.4" r="1.4"/><circle cx="579.8" cy="81.5" r="1.4"/><circle cx="579.7" cy="81.5" r="1.4"/><circle cx="579.6" cy="81.6" r="1.4"/><circle cx="579.5" cy="81.7" r="1.4"/><circle cx="579.4" cy="81.7" r="1.4"/><circle cx="579.3" cy="81.8" r="1.4"/><circle cx="579.2" cy="81.8" r="1.4"/><circle cx="579.1" cy="81.9" r="1.4"/><circle cx="579.0" cy="81.9" r="1.4"/><circle cx="578.9" cy="82.0" r="1.4"/><circle cx="578.8" cy="82.0" r="1.4"/><circle cx="578.7" cy="82.1" r="1.4"/><circle cx="578.6" cy="82.1" r="1.4"/><circle cx="578.5" cy="82.2" r="1.4"/><circle cx="578.4" cy="82.2" r="1.4"/><circle cx="578.4" cy="82.3" r="1.4"/><circle cx="578.3" cy="82.3" r="1.4"/><circle cx="578.2" cy="82.4" r="1.4"/><circle cx="578.1" cy="82.5" r="1.4"/><circle cx="578.0" cy="82.5" r="1.4"/><circle cx="577.9" cy="82.6" r="1.4"/><circle cx="577.8" cy="82.6" r="1.4"/><circle cx="577.7" cy="82.7" r="1.4"/><circle cx="577.6" cy="82.7" r="1.4"/><circle cx="577.5" cy="82.7" r="1.4"/><circle cx="577.4" cy="82.8" r="1.4"/><circle cx="577.4" cy="82.8" r="1.4"/><circle cx="577.3" cy="82.9" r="1.4"/><circle cx="577.2" cy="82.9" r="1.4"/><circle cx="577.1" cy="83.0" r="1.4"/><circle cx="577.0" cy="83.0" r="1.4"/><circle cx="576.9" cy="83.1" r="1.4"/><circle cx="576.8" cy="83.1" r="1.4"/><circle cx="576.7" cy="83.2" r="1.4"/></g>
<rect x="480.8" y="16.6" width="202.90000000000003" height="118.70000000000002" fill="none" stroke="#7A7A7A" stroke-width="1.2"/>
<line x1="477.7" x2="480.8" y1="130.25" y2="130.25" stroke="#666" stroke-width="1"/>
<text x="475.40" y="134.00" text-anchor="end" font-size="10.4" fill="#4D4D4D" font-family="Liberation Sans, sans-serif">0</text>
<line x1="477.7" x2="480.8" y1="98.97" y2="98.97" stroke="#666" stroke-width="1"/>
<text x="475.40" y="102.72" text-anchor="end" font-size="10.4" fill="#4D4D4D" font-family="Liberation Sans, sans-serif">2</text>
<line x1="477.7" x2="480.8" y1="67.69" y2="67.69" stroke="#666" stroke-width="1"/>
<text x="475.40" y="71.44" text-anchor="end" font-size="10.4" fill="#4D4D4D" font-family="Liberation Sans, sans-serif">4</text>
<line x1="477.7" x2="480.8" y1="36.41" y2="36.41" stroke="#666" stroke-width="1"/>
<text x="475.40" y="40.16" text-anchor="end" font-size="10.4" fill="#4D4D4D" font-family="Liberation Sans, sans-serif">6</text>
<line x1="489.45" x2="489.45" y1="135.3" y2="138.4" stroke="#666" stroke-width="1"/>
<text x="489.45" y="148.70" text-anchor="middle" font-size="10.4" fill="#4D4D4D" font-family="Liberation Sans, sans-serif">0</text>
<line x1="527.37" x2="527.37" y1="135.3" y2="138.4" stroke="#666" stroke-width="1"/>
<text x="527.37" y="148.70" text-anchor="middle" font-size="10.4" fill="#4D4D4D" font-family="Liberation Sans, sans-serif">1</text>
<line x1="565.29" x2="565.29" y1="135.3" y2="138.4" stroke="#666" stroke-width="1"/>
<text x="565.29" y="148.70" text-anchor="middle" font-size="10.4" fill="#4D4D4D" font-family="Liberation Sans, sans-serif">2</text>
<line x1="603.21" x2="603.21" y1="135.3" y2="138.4" stroke="#666" stroke-width="1"/>
<text x="603.21" y="148.70" text-anchor="middle" font-size="10.4" fill="#4D4D4D" font-family="Liberation Sans, sans-serif">3</text>
<line x1="641.13" x2="641.13" y1="135.3" y2="138.4" stroke="#666" stroke-width="1"/>
<text x="641.13" y="148.70" text-anchor="middle" font-size="10.4" fill="#4D4D4D" font-family="Liberation Sans, sans-serif">4</text>
<line x1="679.05" x2="679.05" y1="135.3" y2="138.4" stroke="#666" stroke-width="1"/>
<text x="679.05" y="148.70" text-anchor="middle" font-size="10.4" fill="#4D4D4D" font-family="Liberation Sans, sans-serif">5</text>
<text x="582.25" y="162.50" text-anchor="middle" font-size="10.4" fill="#1A1A1A" font-family="Liberation Sans, sans-serif" xml:space="preserve">Expected  − log<tspan font-size="7.3" dy="2.2">10</tspan><tspan dy="-2.2">(P)</tspan></text>
<text transform="translate(462.5,75.95) rotate(-90)" text-anchor="middle" font-size="10.4" fill="#1A1A1A" font-family="Liberation Sans, sans-serif" xml:space="preserve">Observed  − log<tspan font-size="7.3" dy="2.2">10</tspan><tspan dy="-2.2">(P)</tspan></text>
<text x="481.1" y="9.10" font-size="11.2" font-weight="bold" fill="#000" font-family="Liberation Sans, sans-serif">FHD</text>
<rect x="36.4" y="192.9" width="407.1" height="118.9" fill="#fff"/>
<line x1="36.4" x2="443.5" y1="294.02" y2="294.02" stroke="#EBEBEB" stroke-width="0.5"/>
<line x1="36.4" x2="443.5" y1="268.67" y2="268.67" stroke="#EBEBEB" stroke-width="0.5"/>
<line x1="36.4" x2="443.5" y1="243.32" y2="243.32" stroke="#EBEBEB" stroke-width="0.5"/>
<line x1="36.4" x2="443.5" y1="217.97" y2="217.97" stroke="#EBEBEB" stroke-width="0.5"/>
<line x1="45.70" x2="45.70" y1="192.9" y2="311.8" stroke="#EBEBEB" stroke-width="0.5"/>
<line x1="86.75" x2="86.75" y1="192.9" y2="311.8" stroke="#EBEBEB" stroke-width="0.5"/>
<line x1="125.16" x2="125.16" y1="192.9" y2="311.8" stroke="#EBEBEB" stroke-width="0.5"/>
<line x1="160.39" x2="160.39" y1="192.9" y2="311.8" stroke="#EBEBEB" stroke-width="0.5"/>
<line x1="194.19" x2="194.19" y1="192.9" y2="311.8" stroke="#EBEBEB" stroke-width="0.5"/>
<line x1="226.24" x2="226.24" y1="192.9" y2="311.8" stroke="#EBEBEB" stroke-width="0.5"/>
<line x1="255.38" x2="255.38" y1="192.9" y2="311.8" stroke="#EBEBEB" stroke-width="0.5"/>
<line x1="281.34" x2="281.34" y1="192.9" y2="311.8" stroke="#EBEBEB" stroke-width="0.5"/>
<line x1="305.76" x2="305.76" y1="192.9" y2="311.8" stroke="#EBEBEB" stroke-width="0.5"/>
<line x1="327.88" x2="327.88" y1="192.9" y2="311.8" stroke="#EBEBEB" stroke-width="0.5"/>
<line x1="348.37" x2="348.37" y1="192.9" y2="311.8" stroke="#EBEBEB" stroke-width="0.5"/>
<line x1="367.94" x2="367.94" y1="192.9" y2="311.8" stroke="#EBEBEB" stroke-width="0.5"/>
<line x1="385.28" x2="385.28" y1="192.9" y2="311.8" stroke="#EBEBEB" stroke-width="0.5"/>
<line x1="400.58" x2="400.58" y1="192.9" y2="311.8" stroke="#EBEBEB" stroke-width="0.5"/>
<line x1="414.75" x2="414.75" y1="192.9" y2="311.8" stroke="#EBEBEB" stroke-width="0.5"/>
<line x1="442.32" x2="442.32" y1="192.9" y2="311.8" stroke="#EBEBEB" stroke-width="0.5"/>
<line x1="36.4" x2="443.5" y1="306.70" y2="306.70" stroke="#EBEBEB" stroke-width="1"/>
<line x1="36.4" x2="443.5" y1="281.35" y2="281.35" stroke="#EBEBEB" stroke-width="1"/>
<line x1="36.4" x2="443.5" y1="256.00" y2="256.00" stroke="#EBEBEB" stroke-width="1"/>
<line x1="36.4" x2="443.5" y1="230.65" y2="230.65" stroke="#EBEBEB" stroke-width="1"/>
<line x1="36.4" x2="443.5" y1="205.30" y2="205.30" stroke="#EBEBEB" stroke-width="1"/>
<path d="M53.0,308.4 L53.0,297.1 L54.4,295.6 L55.4,297.5 L56.4,295.6 L57.4,294.7 L58.4,295.3 L59.4,293.0 L60.4,292.6 L61.4,291.8 L62.4,294.0 L63.4,293.6 L64.4,294.1 L65.4,291.8 L66.4,291.6 L67.4,292.0 L68.4,292.4 L69.4,290.8 L70.4,291.6 L71.4,291.5 L72.4,293.3 L73.4,293.1 L74.4,294.1 L75.4,293.3 L76.4,291.7 L77.4,290.3 L78.0,295.1 L78.0,295.1 L78.0,308.4Z" fill="#1B9E77"/><g class="p" fill="#1B9E77" stroke="#1B9E77"><circle cx="70.9" cy="292.1"/><circle cx="68.6" cy="289.0"/><circle cx="72.4" cy="293.9"/><circle cx="63.5" cy="290.6"/><circle cx="58.4" cy="293.7"/><circle cx="56.6" cy="292.1"/><circle cx="64.1" cy="293.5"/><circle cx="57.3" cy="293.6"/><circle cx="59.0" cy="289.8"/><circle cx="67.3" cy="290.3"/><circle cx="71.0" cy="292.2"/><circle cx="63.5" cy="293.2"/><circle cx="68.5" cy="292.2"/><circle cx="58.4" cy="293.6"/><circle cx="77.5" cy="289.3"/><circle cx="64.5" cy="291.1"/><circle cx="62.5" cy="293.3"/><circle cx="70.1" cy="292.3"/><circle cx="76.6" cy="290.6"/><circle cx="63.3" cy="293.8"/><circle cx="55.6" cy="297.6"/><circle cx="74.1" cy="294.4"/><circle cx="61.6" cy="292.8"/><circle cx="72.4" cy="294.0"/><circle cx="77.9" cy="295.9"/><circle cx="55.0" cy="296.3"/><circle cx="55.1" cy="298.0"/><circle cx="68.8" cy="293.1"/><circle cx="75.6" cy="292.4"/><circle cx="63.0" cy="291.4"/><circle cx="71.0" cy="288.8"/><circle cx="61.4" cy="291.1"/><circle cx="61.0" cy="292.0"/><circle cx="55.7" cy="296.9"/><circle cx="61.5" cy="292.6"/><circle cx="75.8" cy="292.4"/><circle cx="61.2" cy="287.3"/><circle cx="73.1" cy="293.7"/><circle cx="64.2" cy="291.1"/><circle cx="74.9" cy="294.1"/><circle cx="58.0" cy="290.9"/><circle cx="65.9" cy="288.5"/><circle cx="68.8" cy="291.8"/><circle cx="68.9" cy="292.1"/><circle cx="68.0" cy="289.8"/><circle cx="62.0" cy="294.8"/><circle cx="75.0" cy="293.6"/><circle cx="74.1" cy="287.9"/><circle cx="59.1" cy="283.6"/><circle cx="71.4" cy="285.8"/><circle cx="74.3" cy="288.1"/><circle cx="76.9" cy="282.3"/><circle cx="70.4" cy="286.0"/><circle cx="72.1" cy="285.5"/><circle cx="54.8" cy="288.2"/><circle cx="66.9" cy="285.7"/><circle cx="56.3" cy="288.4"/><circle cx="71.7" cy="280.8"/><circle cx="60.5" cy="287.9"/><circle cx="68.4" cy="285.4"/><circle cx="71.0" cy="284.4"/><circle cx="76.3" cy="284.4"/></g>
<path d="M76.6,308.4 L76.6,292.4 L78.0,290.9 L79.0,294.4 L80.0,296.3 L81.0,293.8 L82.0,291.8 L83.0,292.7 L84.0,290.7 L85.0,293.7 L86.0,295.1 L87.0,293.1 L88.0,288.6 L89.0,284.5 L90.0,288.7 L91.0,287.4 L92.0,286.0 L93.0,288.7 L94.0,291.1 L95.0,290.3 L96.0,291.0 L97.0,290.0 L98.0,288.7 L98.3,290.9 L98.3,290.9 L98.3,308.4Z" fill="#D95F02"/><g class="p" fill="#D95F02" stroke="#D95F02"><circle cx="93.5" cy="288.7"/><circle cx="92.8" cy="289.1"/><circle cx="97.3" cy="288.3"/><circle cx="93.1" cy="287.6"/><circle cx="83.1" cy="292.5"/><circle cx="85.3" cy="293.3"/><circle cx="80.3" cy="295.0"/><circle cx="98.5" cy="284.9"/><circle cx="92.5" cy="285.2"/><circle cx="91.8" cy="285.4"/><circle cx="93.8" cy="288.9"/><circle cx="98.1" cy="287.6"/><circle cx="84.7" cy="294.9"/><circle cx="88.3" cy="287.4"/><circle cx="92.1" cy="285.3"/><circle cx="90.5" cy="288.1"/><circle cx="88.6" cy="282.5"/><circle cx="89.6" cy="288.7"/><circle cx="96.1" cy="291.9"/><circle cx="86.5" cy="291.3"/><circle cx="88.1" cy="284.9"/><circle cx="89.6" cy="287.7"/><circle cx="79.3" cy="291.4"/><circle cx="77.6" cy="286.6"/><circle cx="86.1" cy="295.6"/><circle cx="93.8" cy="291.7"/><circle cx="83.4" cy="292.9"/><circle cx="81.1" cy="291.4"/><circle cx="89.7" cy="288.0"/><circle cx="82.9" cy="292.4"/><circle cx="85.7" cy="295.4"/><circle cx="78.6" cy="294.8"/><circle cx="98.3" cy="291.4"/><circle cx="79.6" cy="296.8"/><circle cx="90.5" cy="287.2"/><circle cx="86.3" cy="290.1"/><circle cx="93.4" cy="289.3"/><circle cx="84.2" cy="289.8"/><circle cx="78.3" cy="288.3"/><circle cx="83.7" cy="289.4"/><circle cx="78.8" cy="288.0"/><circle cx="94.4" cy="283.5"/><circle cx="90.2" cy="278.3"/><circle cx="84.4" cy="280.6"/><circle cx="97.8" cy="282.3"/><circle cx="85.3" cy="282.6"/><circle cx="80.8" cy="287.2"/><circle cx="84.5" cy="287.0"/><circle cx="87.8" cy="282.4"/><circle cx="78.2" cy="284.6"/><circle cx="89.1" cy="263.6"/><circle cx="80.7" cy="276.3"/><circle cx="87.3" cy="276.3"/><circle cx="91.4" cy="277.8"/><circle cx="80.7" cy="285.4"/><circle cx="95.6" cy="284.4"/><circle cx="97.3" cy="281.9"/></g>
<path d="M96.9,308.4 L96.9,290.1 L98.3,288.6 L99.3,287.7 L100.3,288.3 L101.3,292.2 L102.3,291.0 L103.3,292.4 L104.3,293.3 L105.3,294.0 L106.3,294.1 L107.3,290.5 L108.3,286.3 L109.3,286.1 L110.3,286.4 L111.3,285.6 L112.3,283.5 L113.3,285.1 L114.3,289.2 L115.3,288.8 L116.3,291.6 L116.3,291.6 L116.3,308.4Z" fill="#7570B3"/><g class="p" fill="#7570B3" stroke="#7570B3"><circle cx="106.5" cy="294.8"/><circle cx="110.8" cy="284.3"/><circle cx="105.8" cy="292.1"/><circle cx="104.3" cy="293.9"/><circle cx="102.2" cy="291.2"/><circle cx="113.3" cy="282.6"/><circle cx="102.9" cy="292.0"/><circle cx="103.7" cy="291.6"/><circle cx="110.1" cy="286.3"/><circle cx="105.1" cy="290.1"/><circle cx="115.8" cy="289.4"/><circle cx="101.2" cy="291.3"/><circle cx="113.6" cy="285.0"/><circle cx="104.8" cy="294.5"/><circle cx="105.8" cy="289.4"/><circle cx="107.2" cy="289.3"/><circle cx="106.7" cy="291.9"/><circle cx="102.8" cy="287.8"/><circle cx="112.8" cy="280.4"/><circle cx="115.4" cy="288.7"/><circle cx="98.0" cy="285.6"/><circle cx="102.8" cy="291.9"/><circle cx="98.2" cy="285.1"/><circle cx="103.7" cy="292.0"/><circle cx="104.4" cy="293.7"/><circle cx="111.6" cy="285.4"/><circle cx="105.7" cy="289.2"/><circle cx="103.7" cy="293.1"/><circle cx="101.3" cy="291.6"/><circle cx="104.0" cy="291.3"/><circle cx="115.7" cy="288.4"/><circle cx="100.5" cy="286.4"/><circle cx="99.1" cy="288.0"/><circle cx="99.1" cy="283.8"/><circle cx="110.7" cy="286.5"/><circle cx="112.5" cy="278.0"/><circle cx="116.7" cy="282.1"/><circle cx="101.9" cy="281.3"/><circle cx="109.2" cy="280.4"/><circle cx="102.1" cy="281.4"/><circle cx="111.2" cy="277.9"/><circle cx="108.6" cy="279.2"/><circle cx="108.7" cy="279.9"/><circle cx="98.5" cy="280.3"/><circle cx="110.5" cy="282.4"/><circle cx="114.0" cy="281.9"/></g>
<path d="M114.9,308.4 L114.9,297.3 L116.3,295.8 L117.3,293.5 L118.3,295.2 L119.3,292.9 L120.3,293.6 L121.3,294.4 L122.3,294.0 L123.3,293.6 L124.3,296.7 L125.3,293.3 L126.3,293.1 L127.3,291.8 L128.3,290.5 L129.3,289.8 L130.3,292.5 L131.3,291.1 L132.3,287.6 L133.3,289.6 L134.1,291.1 L134.1,291.1 L134.1,308.4Z" fill="#E7298A"/><g class="p" fill="#E7298A" stroke="#E7298A"><circle cx="126.4" cy="290.5"/><circle cx="129.7" cy="290.5"/><circle cx="118.5" cy="291.0"/><circle cx="130.1" cy="291.4"/><circle cx="120.1" cy="292.7"/><circle cx="123.5" cy="293.5"/><circle cx="119.6" cy="292.9"/><circle cx="125.3" cy="291.1"/><circle cx="125.8" cy="291.3"/><circle cx="117.7" cy="293.6"/><circle cx="118.4" cy="295.6"/><circle cx="125.5" cy="292.5"/><circle cx="120.1" cy="292.8"/><circle cx="126.5" cy="291.4"/><circle cx="126.2" cy="293.3"/><circle cx="126.9" cy="287.2"/><circle cx="133.4" cy="287.0"/><circle cx="133.0" cy="289.0"/><circle cx="123.0" cy="294.1"/><circle cx="118.0" cy="295.6"/><circle cx="133.1" cy="288.5"/><circle cx="127.6" cy="289.9"/><circle cx="126.5" cy="293.3"/><circle cx="120.9" cy="292.3"/><circle cx="127.2" cy="289.8"/><circle cx="120.1" cy="290.6"/><circle cx="122.0" cy="293.8"/><circle cx="130.3" cy="293.1"/><circle cx="119.3" cy="290.1"/><circle cx="119.2" cy="290.7"/><circle cx="128.1" cy="288.8"/><circle cx="123.6" cy="293.8"/><circle cx="118.0" cy="292.8"/><circle cx="132.6" cy="288.3"/><circle cx="126.3" cy="290.3"/><circle cx="124.4" cy="289.3"/><circle cx="125.9" cy="284.4"/><circle cx="120.8" cy="285.7"/><circle cx="120.3" cy="287.4"/><circle cx="124.1" cy="289.6"/><circle cx="129.1" cy="281.7"/><circle cx="121.2" cy="286.2"/><circle cx="129.4" cy="283.4"/><circle cx="128.0" cy="280.3"/><circle cx="124.5" cy="284.4"/><circle cx="119.7" cy="285.4"/><circle cx="133.2" cy="281.9"/><circle cx="131.5" cy="284.9"/></g>
<path d="M132.7,308.4 L132.7,294.0 L134.1,292.5 L135.1,294.3 L136.1,290.8 L137.1,290.2 L138.1,287.0 L139.1,288.5 L140.1,290.5 L141.1,288.1 L142.1,286.9 L143.1,288.4 L144.1,290.6 L145.1,290.4 L146.1,291.7 L147.1,289.2 L148.1,292.7 L149.1,292.0 L150.1,292.1 L151.1,294.0 L152.0,291.6 L152.0,291.6 L152.0,308.4Z" fill="#66A61E"/><g class="p" fill="#66A61E" stroke="#66A61E"><circle cx="142.4" cy="287.8"/><circle cx="148.5" cy="290.4"/><circle cx="136.4" cy="288.2"/><circle cx="147.0" cy="286.8"/><circle cx="135.3" cy="294.9"/><circle cx="139.6" cy="289.1"/><circle cx="149.2" cy="292.2"/><circle cx="136.3" cy="289.0"/><circle cx="148.8" cy="290.7"/><circle cx="145.6" cy="291.2"/><circle cx="134.3" cy="290.2"/><circle cx="146.2" cy="291.6"/><circle cx="139.1" cy="285.3"/><circle cx="141.6" cy="287.1"/><circle cx="133.9" cy="291.3"/><circle cx="138.1" cy="287.0"/><circle cx="135.3" cy="295.1"/><circle cx="147.6" cy="287.3"/><circle cx="144.7" cy="287.5"/><circle cx="138.2" cy="286.1"/><circle cx="135.1" cy="291.7"/><circle cx="143.1" cy="289.0"/><circle cx="136.6" cy="285.5"/><circle cx="138.9" cy="285.3"/><circle cx="136.1" cy="287.5"/><circle cx="135.5" cy="293.9"/><circle cx="152.4" cy="292.3"/><circle cx="140.2" cy="288.5"/><circle cx="139.1" cy="287.8"/><circle cx="134.7" cy="292.2"/><circle cx="140.2" cy="287.6"/><circle cx="142.0" cy="285.8"/><circle cx="150.9" cy="292.6"/><circle cx="146.3" cy="290.5"/><circle cx="140.7" cy="288.3"/><circle cx="138.2" cy="280.8"/><circle cx="151.1" cy="288.2"/><circle cx="143.6" cy="282.2"/><circle cx="135.6" cy="284.8"/><circle cx="136.5" cy="284.3"/><circle cx="141.3" cy="282.3"/><circle cx="143.4" cy="280.6"/><circle cx="144.1" cy="280.6"/><circle cx="140.4" cy="257.5"/><circle cx="151.1" cy="271.7"/><circle cx="142.0" cy="284.4"/><circle cx="135.0" cy="284.4"/></g>
<path d="M150.6,308.4 L150.6,299.8 L152.0,298.3 L153.0,296.4 L154.0,297.2 L155.0,293.0 L156.0,295.5 L157.0,292.9 L158.0,289.8 L159.0,285.8 L160.0,288.0 L161.0,283.0 L162.0,285.7 L163.0,287.7 L164.0,286.4 L165.0,283.9 L166.0,286.8 L167.0,289.2 L168.0,288.3 L169.0,288.7 L169.5,290.1 L169.5,290.1 L169.5,308.4Z" fill="#E6AB02"/><g class="p" fill="#E6AB02" stroke="#E6AB02"><circle cx="168.3" cy="284.0"/><circle cx="154.2" cy="297.3"/><circle cx="156.0" cy="294.8"/><circle cx="168.5" cy="289.3"/><circle cx="155.0" cy="293.2"/><circle cx="155.3" cy="290.2"/><circle cx="156.5" cy="292.2"/><circle cx="165.6" cy="284.2"/><circle cx="169.2" cy="286.9"/><circle cx="153.0" cy="296.5"/><circle cx="161.2" cy="283.0"/><circle cx="156.8" cy="292.6"/><circle cx="160.6" cy="280.2"/><circle cx="152.7" cy="296.0"/><circle cx="169.4" cy="290.0"/><circle cx="151.7" cy="297.9"/><circle cx="168.3" cy="287.4"/><circle cx="151.9" cy="296.9"/><circle cx="154.2" cy="297.5"/><circle cx="169.2" cy="289.2"/><circle cx="160.6" cy="280.4"/><circle cx="168.6" cy="285.5"/><circle cx="158.8" cy="284.2"/><circle cx="153.3" cy="293.0"/><circle cx="168.3" cy="284.1"/><circle cx="151.5" cy="297.7"/><circle cx="155.4" cy="289.9"/><circle cx="159.0" cy="283.6"/><circle cx="162.8" cy="287.2"/><circle cx="162.9" cy="285.9"/><circle cx="151.5" cy="298.7"/><circle cx="163.5" cy="283.1"/><circle cx="156.3" cy="295.1"/><circle cx="166.8" cy="288.5"/><circle cx="156.4" cy="293.3"/><circle cx="169.2" cy="280.9"/><circle cx="163.8" cy="280.9"/><circle cx="168.0" cy="280.2"/><circle cx="161.1" cy="275.5"/><circle cx="155.9" cy="288.7"/><circle cx="163.0" cy="281.6"/><circle cx="153.2" cy="285.7"/><circle cx="160.8" cy="276.7"/><circle cx="162.3" cy="277.8"/><circle cx="163.1" cy="279.3"/><circle cx="165.8" cy="281.9"/></g>
<path d="M168.1,308.4 L168.1,293.3 L169.5,291.8 L170.5,292.1 L171.5,291.6 L172.5,290.1 L173.5,289.5 L174.5,290.9 L175.5,290.3 L176.5,292.1 L177.5,296.6 L178.5,294.1 L179.5,291.8 L180.5,290.2 L181.5,289.2 L182.5,285.6 L183.5,287.9 L184.5,288.8 L185.5,290.3 L186.0,291.2 L186.0,291.2 L186.0,308.4Z" fill="#A6761D"/><g class="p" fill="#A6761D" stroke="#A6761D"><circle cx="174.3" cy="288.6"/><circle cx="169.6" cy="290.5"/><circle cx="177.4" cy="294.1"/><circle cx="174.0" cy="290.1"/><circle cx="175.4" cy="290.8"/><circle cx="175.7" cy="291.4"/><circle cx="169.4" cy="289.0"/><circle cx="178.5" cy="291.4"/><circle cx="176.2" cy="287.7"/><circle cx="180.8" cy="290.6"/><circle cx="183.2" cy="288.6"/><circle cx="186.0" cy="290.4"/><circle cx="182.0" cy="282.8"/><circle cx="172.3" cy="290.6"/><circle cx="173.1" cy="289.4"/><circle cx="185.6" cy="290.5"/><circle cx="171.9" cy="290.9"/><circle cx="184.3" cy="286.9"/><circle cx="170.3" cy="287.1"/><circle cx="186.0" cy="288.6"/><circle cx="179.8" cy="287.3"/><circle cx="179.2" cy="288.4"/><circle cx="185.4" cy="287.3"/><circle cx="185.7" cy="287.9"/><circle cx="185.9" cy="287.3"/><circle cx="182.1" cy="282.8"/><circle cx="172.4" cy="291.0"/><circle cx="173.4" cy="290.3"/><circle cx="173.4" cy="288.1"/><circle cx="178.6" cy="292.5"/><circle cx="175.6" cy="290.9"/><circle cx="183.7" cy="285.0"/><circle cx="184.3" cy="283.1"/><circle cx="170.8" cy="284.1"/><circle cx="169.4" cy="284.5"/><circle cx="184.8" cy="282.5"/><circle cx="186.0" cy="283.4"/><circle cx="172.0" cy="283.7"/><circle cx="177.1" cy="290.4"/><circle cx="172.7" cy="279.4"/><circle cx="181.5" cy="274.8"/><circle cx="181.5" cy="276.8"/><circle cx="174.0" cy="280.3"/><circle cx="181.5" cy="280.3"/><circle cx="183.3" cy="282.9"/></g>
<path d="M184.6,308.4 L184.6,292.9 L186.0,291.4 L187.0,291.5 L188.0,292.2 L189.0,291.9 L190.0,289.0 L191.0,288.4 L192.0,286.7 L193.0,288.8 L194.0,283.6 L195.0,286.8 L196.0,285.6 L197.0,285.0 L198.0,284.6 L199.0,284.0 L200.0,287.8 L201.0,288.3 L202.0,288.2 L202.8,287.1 L202.8,287.1 L202.8,308.4Z" fill="#666666"/><g class="p" fill="#666666" stroke="#666666"><circle cx="188.0" cy="291.0"/><circle cx="200.9" cy="287.2"/><circle cx="189.3" cy="292.2"/><circle cx="203.2" cy="286.8"/><circle cx="199.2" cy="285.0"/><circle cx="201.8" cy="286.7"/><circle cx="189.5" cy="286.4"/><circle cx="188.9" cy="289.8"/><circle cx="192.5" cy="289.6"/><circle cx="200.1" cy="286.6"/><circle cx="192.8" cy="286.0"/><circle cx="194.9" cy="286.0"/><circle cx="189.7" cy="284.5"/><circle cx="195.6" cy="285.6"/><circle cx="195.7" cy="284.0"/><circle cx="198.3" cy="284.3"/><circle cx="189.8" cy="285.7"/><circle cx="189.4" cy="291.9"/><circle cx="202.2" cy="289.2"/><circle cx="200.5" cy="285.9"/><circle cx="197.0" cy="285.3"/><circle cx="201.7" cy="286.7"/><circle cx="195.7" cy="281.4"/><circle cx="186.9" cy="291.9"/><circle cx="199.7" cy="284.7"/><circle cx="197.6" cy="281.3"/><circle cx="190.3" cy="284.8"/><circle cx="197.5" cy="282.8"/><circle cx="203.3" cy="285.4"/><circle cx="197.3" cy="282.2"/><circle cx="185.5" cy="286.9"/><circle cx="197.4" cy="282.7"/><circle cx="190.7" cy="287.8"/><circle cx="188.3" cy="285.8"/><circle cx="189.5" cy="283.3"/><circle cx="193.5" cy="278.9"/><circle cx="186.9" cy="284.2"/><circle cx="189.2" cy="284.4"/><circle cx="189.7" cy="282.6"/><circle cx="190.7" cy="277.9"/><circle cx="201.8" cy="278.3"/><circle cx="194.3" cy="274.8"/><circle cx="199.0" cy="273.7"/><circle cx="199.0" cy="281.3"/><circle cx="193.0" cy="281.9"/><circle cx="187.1" cy="285.4"/></g>
<path d="M201.4,308.4 L201.4,294.9 L202.8,293.4 L203.8,296.6 L204.8,295.4 L205.8,296.5 L206.8,296.2 L207.8,295.4 L208.8,293.6 L209.8,298.1 L210.8,299.3 L211.8,299.8 L212.8,295.4 L213.8,295.5 L214.8,295.4 L215.8,298.0 L216.8,295.2 L217.8,293.7 L218.5,295.5 L218.5,295.5 L218.5,308.4Z" fill="#1B9E77"/><g class="p" fill="#1B9E77" stroke="#1B9E77"><circle cx="211.1" cy="297.3"/><circle cx="216.4" cy="295.2"/><circle cx="212.1" cy="294.7"/><circle cx="208.5" cy="289.7"/><circle cx="202.9" cy="294.2"/><circle cx="206.9" cy="295.4"/><circle cx="210.2" cy="296.0"/><circle cx="209.1" cy="292.7"/><circle cx="214.6" cy="294.5"/><circle cx="212.2" cy="299.2"/><circle cx="217.2" cy="292.1"/><circle cx="214.8" cy="292.0"/><circle cx="205.6" cy="295.9"/><circle cx="207.6" cy="295.3"/><circle cx="217.5" cy="291.8"/><circle cx="205.2" cy="291.0"/><circle cx="204.4" cy="295.4"/><circle cx="209.6" cy="298.5"/><circle cx="209.6" cy="294.7"/><circle cx="216.2" cy="298.3"/><circle cx="210.7" cy="297.7"/><circle cx="215.6" cy="296.6"/><circle cx="212.6" cy="292.2"/><circle cx="217.1" cy="292.9"/><circle cx="210.5" cy="299.4"/><circle cx="214.3" cy="293.1"/><circle cx="208.0" cy="294.7"/><circle cx="204.5" cy="294.6"/><circle cx="210.9" cy="296.3"/><circle cx="203.8" cy="295.7"/><circle cx="203.6" cy="296.5"/><circle cx="203.3" cy="287.3"/><circle cx="203.7" cy="288.3"/><circle cx="210.9" cy="293.6"/><circle cx="203.4" cy="289.6"/><circle cx="203.3" cy="282.8"/><circle cx="214.7" cy="289.4"/><circle cx="204.6" cy="289.7"/><circle cx="205.2" cy="256.5"/><circle cx="205.2" cy="282.4"/><circle cx="208.3" cy="288.4"/><circle cx="217.8" cy="277.8"/><circle cx="218.3" cy="283.9"/></g>
<path d="M217.1,308.4 L217.1,293.7 L218.5,292.2 L219.5,291.1 L220.5,289.3 L221.5,286.6 L222.5,285.7 L223.5,285.8 L224.5,284.8 L225.5,287.7 L226.5,283.4 L227.5,285.2 L228.5,286.1 L229.5,287.0 L230.5,288.6 L231.5,291.5 L232.5,293.8 L233.5,292.6 L233.9,289.5 L233.9,289.5 L233.9,308.4Z" fill="#D95F02"/><g class="p" fill="#D95F02" stroke="#D95F02"><circle cx="229.7" cy="284.0"/><circle cx="230.4" cy="288.5"/><circle cx="228.6" cy="285.3"/><circle cx="233.3" cy="293.1"/><circle cx="225.5" cy="286.2"/><circle cx="226.0" cy="285.7"/><circle cx="230.1" cy="287.8"/><circle cx="234.0" cy="290.3"/><circle cx="218.9" cy="291.5"/><circle cx="224.7" cy="284.8"/><circle cx="228.3" cy="285.5"/><circle cx="223.5" cy="282.9"/><circle cx="224.1" cy="280.4"/><circle cx="229.7" cy="286.8"/><circle cx="230.8" cy="283.7"/><circle cx="223.5" cy="285.4"/><circle cx="230.5" cy="288.7"/><circle cx="224.1" cy="284.6"/><circle cx="234.0" cy="293.7"/><circle cx="220.2" cy="287.4"/><circle cx="232.5" cy="294.8"/><circle cx="227.5" cy="285.5"/><circle cx="232.7" cy="288.5"/><circle cx="221.6" cy="286.6"/><circle cx="221.6" cy="284.4"/><circle cx="228.6" cy="286.5"/><circle cx="224.3" cy="284.1"/><circle cx="223.1" cy="286.8"/><circle cx="219.2" cy="291.8"/><circle cx="221.0" cy="286.9"/><circle cx="223.5" cy="280.1"/><circle cx="218.8" cy="284.8"/><circle cx="218.1" cy="285.8"/><circle cx="221.0" cy="279.6"/><circle cx="220.3" cy="282.8"/><circle cx="224.6" cy="276.6"/><circle cx="229.9" cy="278.9"/><circle cx="228.3" cy="274.8"/><circle cx="223.6" cy="276.3"/></g>
<path d="M232.5,308.4 L232.5,292.9 L233.9,291.4 L234.9,290.2 L235.9,289.9 L236.9,290.8 L237.9,292.9 L238.9,290.4 L239.9,287.6 L240.9,286.1 L241.9,283.5 L242.9,284.9 L243.9,287.5 L244.9,286.8 L245.9,283.8 L246.9,283.3 L247.9,285.6 L248.9,283.5 L249.8,287.0 L249.8,287.0 L249.8,308.4Z" fill="#7570B3"/><g class="p" fill="#7570B3" stroke="#7570B3"><circle cx="240.9" cy="282.7"/><circle cx="244.8" cy="286.8"/><circle cx="249.3" cy="284.6"/><circle cx="242.6" cy="281.8"/><circle cx="246.5" cy="283.8"/><circle cx="237.4" cy="293.1"/><circle cx="238.5" cy="289.9"/><circle cx="248.4" cy="280.6"/><circle cx="235.9" cy="290.3"/><circle cx="243.1" cy="284.9"/><circle cx="237.4" cy="293.7"/><circle cx="235.4" cy="288.8"/><circle cx="237.7" cy="291.7"/><circle cx="244.6" cy="285.1"/><circle cx="243.9" cy="288.3"/><circle cx="240.0" cy="288.1"/><circle cx="242.8" cy="284.7"/><circle cx="246.9" cy="281.8"/><circle cx="239.6" cy="288.3"/><circle cx="244.3" cy="286.2"/><circle cx="247.7" cy="282.5"/><circle cx="237.0" cy="290.1"/><circle cx="242.9" cy="280.7"/><circle cx="245.1" cy="286.0"/><circle cx="245.8" cy="283.5"/><circle cx="236.0" cy="289.1"/><circle cx="245.6" cy="283.7"/><circle cx="250.1" cy="284.7"/><circle cx="241.5" cy="283.6"/><circle cx="238.9" cy="290.3"/><circle cx="238.6" cy="291.6"/><circle cx="246.3" cy="273.3"/><circle cx="239.3" cy="283.2"/><circle cx="236.0" cy="280.4"/><circle cx="250.1" cy="281.2"/><circle cx="236.6" cy="283.8"/><circle cx="244.2" cy="279.0"/><circle cx="239.0" cy="283.0"/><circle cx="240.2" cy="256.5"/><circle cx="240.2" cy="276.3"/><circle cx="246.4" cy="276.3"/><circle cx="249.5" cy="273.7"/><circle cx="237.0" cy="284.4"/><circle cx="239.6" cy="282.4"/></g>
<path d="M248.4,308.4 L248.4,291.4 L249.8,289.9 L250.8,289.1 L251.8,288.0 L252.8,288.8 L253.8,289.1 L254.8,290.5 L255.8,292.0 L256.8,293.6 L257.8,291.8 L258.8,289.2 L259.8,290.2 L260.8,289.4 L261.8,290.8 L262.7,289.0 L262.7,289.0 L262.7,308.4Z" fill="#E7298A"/><g class="p" fill="#E7298A" stroke="#E7298A"><circle cx="260.9" cy="285.8"/><circle cx="255.4" cy="291.1"/><circle cx="254.3" cy="291.2"/><circle cx="250.6" cy="285.6"/><circle cx="259.8" cy="289.5"/><circle cx="257.5" cy="292.0"/><circle cx="260.0" cy="291.0"/><circle cx="250.1" cy="288.2"/><circle cx="254.8" cy="289.4"/><circle cx="258.0" cy="292.1"/><circle cx="252.7" cy="288.8"/><circle cx="261.1" cy="287.5"/><circle cx="255.7" cy="291.6"/><circle cx="254.6" cy="290.6"/><circle cx="253.8" cy="287.0"/><circle cx="253.1" cy="288.9"/><circle cx="253.8" cy="285.8"/><circle cx="257.9" cy="291.9"/><circle cx="253.0" cy="284.8"/><circle cx="249.5" cy="289.7"/><circle cx="250.5" cy="286.0"/><circle cx="260.5" cy="286.2"/><circle cx="255.5" cy="291.9"/><circle cx="254.5" cy="289.3"/><circle cx="258.0" cy="289.2"/><circle cx="250.7" cy="283.5"/><circle cx="257.7" cy="285.5"/><circle cx="255.2" cy="284.2"/><circle cx="251.4" cy="282.5"/><circle cx="261.2" cy="283.8"/><circle cx="254.1" cy="280.4"/><circle cx="253.4" cy="278.8"/><circle cx="261.2" cy="280.3"/><circle cx="256.0" cy="281.9"/></g>
<path d="M261.3,308.4 L261.3,292.8 L262.7,291.3 L263.7,290.8 L264.7,292.8 L265.7,293.1 L266.7,293.0 L267.7,291.4 L268.7,294.1 L269.7,295.8 L270.7,293.9 L271.7,296.3 L272.7,295.0 L273.7,293.9 L274.7,296.2 L275.2,298.1 L275.2,298.1 L275.2,308.4Z" fill="#66A61E"/><g class="p" fill="#66A61E" stroke="#66A61E"><circle cx="274.8" cy="296.2"/><circle cx="267.9" cy="291.1"/><circle cx="266.4" cy="289.6"/><circle cx="272.8" cy="295.7"/><circle cx="269.6" cy="294.2"/><circle cx="274.7" cy="294.8"/><circle cx="267.1" cy="293.8"/><circle cx="266.5" cy="291.7"/><circle cx="262.6" cy="292.2"/><circle cx="262.3" cy="289.3"/><circle cx="269.3" cy="295.6"/><circle cx="267.5" cy="291.9"/><circle cx="270.6" cy="291.8"/><circle cx="275.4" cy="297.5"/><circle cx="263.9" cy="290.8"/><circle cx="273.1" cy="294.4"/><circle cx="266.0" cy="294.1"/><circle cx="264.8" cy="292.8"/><circle cx="267.8" cy="292.4"/><circle cx="273.9" cy="290.7"/><circle cx="267.3" cy="288.8"/><circle cx="269.7" cy="294.9"/><circle cx="269.5" cy="294.2"/><circle cx="272.4" cy="294.3"/><circle cx="274.8" cy="285.6"/><circle cx="263.2" cy="284.4"/><circle cx="274.6" cy="289.6"/><circle cx="274.4" cy="288.7"/><circle cx="275.3" cy="287.5"/><circle cx="274.8" cy="290.6"/><circle cx="267.9" cy="282.4"/><circle cx="271.9" cy="285.4"/></g>
<path d="M273.8,308.4 L273.8,296.5 L275.2,295.0 L276.2,294.5 L277.2,296.1 L278.2,294.4 L279.2,292.6 L280.2,295.7 L281.2,291.8 L282.2,288.6 L283.2,286.4 L284.2,289.2 L285.2,288.3 L286.2,288.9 L287.2,287.6 L287.4,287.7 L287.4,287.7 L287.4,308.4Z" fill="#E6AB02"/><g class="p" fill="#E6AB02" stroke="#E6AB02"><circle cx="275.9" cy="295.6"/><circle cx="277.5" cy="295.2"/><circle cx="277.1" cy="292.5"/><circle cx="287.2" cy="288.3"/><circle cx="286.4" cy="288.9"/><circle cx="279.3" cy="292.1"/><circle cx="281.5" cy="289.9"/><circle cx="281.0" cy="291.0"/><circle cx="275.9" cy="294.9"/><circle cx="282.9" cy="286.1"/><circle cx="282.2" cy="289.4"/><circle cx="285.7" cy="286.5"/><circle cx="287.6" cy="283.6"/><circle cx="276.9" cy="294.9"/><circle cx="281.6" cy="287.6"/><circle cx="287.0" cy="287.6"/><circle cx="283.6" cy="286.0"/><circle cx="281.7" cy="289.1"/><circle cx="285.7" cy="289.8"/><circle cx="281.6" cy="286.2"/><circle cx="276.5" cy="295.1"/><circle cx="276.7" cy="294.4"/><circle cx="286.8" cy="286.0"/><circle cx="281.4" cy="290.9"/><circle cx="286.9" cy="281.4"/><circle cx="283.1" cy="280.7"/><circle cx="284.0" cy="281.3"/><circle cx="286.2" cy="280.3"/><circle cx="287.8" cy="280.2"/><circle cx="280.4" cy="289.1"/><circle cx="285.0" cy="273.7"/></g>
<path d="M286.0,308.4 L286.0,290.8 L287.4,289.3 L288.4,290.6 L289.4,290.8 L290.4,288.3 L291.4,287.3 L292.4,291.2 L293.4,291.0 L294.4,290.6 L295.4,291.4 L296.4,295.1 L297.4,292.6 L298.4,291.5 L299.4,293.6 L300.1,292.2 L300.1,292.2 L300.1,308.4Z" fill="#A6761D"/><g class="p" fill="#A6761D" stroke="#A6761D"><circle cx="288.5" cy="288.4"/><circle cx="291.8" cy="286.6"/><circle cx="299.0" cy="293.5"/><circle cx="294.6" cy="286.9"/><circle cx="289.7" cy="287.8"/><circle cx="287.9" cy="289.0"/><circle cx="294.8" cy="288.7"/><circle cx="295.5" cy="292.3"/><circle cx="292.6" cy="286.6"/><circle cx="296.0" cy="294.0"/><circle cx="287.7" cy="289.9"/><circle cx="296.4" cy="295.2"/><circle cx="295.6" cy="289.7"/><circle cx="299.0" cy="293.2"/><circle cx="295.3" cy="290.9"/><circle cx="293.4" cy="289.2"/><circle cx="287.9" cy="289.9"/><circle cx="292.7" cy="288.5"/><circle cx="293.0" cy="289.1"/><circle cx="293.0" cy="286.2"/><circle cx="292.2" cy="291.7"/><circle cx="293.3" cy="291.4"/><circle cx="288.7" cy="286.5"/><circle cx="291.6" cy="286.1"/><circle cx="298.9" cy="289.4"/><circle cx="299.7" cy="286.2"/><circle cx="288.4" cy="281.7"/><circle cx="289.8" cy="281.4"/><circle cx="288.9" cy="283.4"/><circle cx="297.1" cy="282.3"/><circle cx="291.8" cy="279.2"/><circle cx="289.4" cy="262.1"/><circle cx="289.4" cy="276.3"/><circle cx="295.0" cy="276.3"/><circle cx="295.5" cy="285.4"/></g>
<path d="M298.7,308.4 L298.7,293.3 L300.1,291.8 L301.1,294.2 L302.1,294.1 L303.1,292.8 L304.1,292.1 L305.1,290.9 L306.1,290.2 L307.1,291.0 L308.1,291.0 L309.1,292.3 L310.1,289.7 L311.1,288.3 L312.1,289.2 L312.2,292.5 L312.2,292.5 L312.2,308.4Z" fill="#666666"/><g class="p" fill="#666666" stroke="#666666"><circle cx="300.5" cy="291.5"/><circle cx="300.9" cy="294.2"/><circle cx="308.9" cy="289.2"/><circle cx="306.1" cy="289.1"/><circle cx="303.2" cy="289.2"/><circle cx="308.5" cy="289.3"/><circle cx="310.0" cy="289.2"/><circle cx="300.6" cy="293.3"/><circle cx="299.6" cy="291.1"/><circle cx="309.0" cy="291.7"/><circle cx="306.4" cy="288.8"/><circle cx="307.6" cy="290.5"/><circle cx="311.0" cy="287.0"/><circle cx="312.5" cy="287.8"/><circle cx="310.5" cy="286.9"/><circle cx="305.5" cy="288.0"/><circle cx="308.4" cy="287.8"/><circle cx="312.1" cy="289.8"/><circle cx="305.1" cy="291.2"/><circle cx="310.5" cy="289.8"/><circle cx="300.1" cy="290.3"/><circle cx="300.2" cy="290.2"/><circle cx="308.4" cy="289.6"/><circle cx="311.7" cy="291.2"/><circle cx="311.1" cy="279.9"/><circle cx="308.8" cy="284.7"/><circle cx="307.0" cy="281.8"/><circle cx="304.0" cy="286.0"/><circle cx="309.1" cy="285.8"/><circle cx="304.8" cy="283.8"/><circle cx="304.3" cy="284.9"/><circle cx="308.7" cy="284.9"/><circle cx="311.3" cy="285.9"/></g>
<path d="M310.8,308.4 L310.8,292.4 L312.2,290.9 L313.2,291.0 L314.2,292.4 L315.2,293.4 L316.2,288.9 L317.2,290.1 L318.2,289.6 L319.2,287.5 L320.2,283.8 L321.2,283.0 L322.2,281.7 L323.2,286.5 L323.4,284.7 L323.4,284.7 L323.4,308.4Z" fill="#1B9E77"/><g class="p" fill="#1B9E77" stroke="#1B9E77"><circle cx="315.4" cy="292.6"/><circle cx="323.6" cy="285.1"/><circle cx="319.1" cy="282.7"/><circle cx="323.7" cy="281.3"/><circle cx="314.0" cy="291.0"/><circle cx="317.3" cy="290.8"/><circle cx="322.6" cy="278.9"/><circle cx="312.6" cy="289.7"/><circle cx="320.8" cy="278.8"/><circle cx="321.8" cy="282.4"/><circle cx="320.8" cy="283.6"/><circle cx="311.8" cy="290.6"/><circle cx="314.2" cy="292.7"/><circle cx="315.2" cy="292.4"/><circle cx="319.9" cy="281.3"/><circle cx="312.7" cy="290.2"/><circle cx="319.9" cy="282.5"/><circle cx="323.2" cy="285.0"/><circle cx="313.3" cy="289.9"/><circle cx="319.2" cy="287.5"/><circle cx="321.4" cy="283.8"/><circle cx="315.3" cy="294.1"/><circle cx="315.7" cy="286.4"/><circle cx="312.6" cy="283.2"/><circle cx="314.6" cy="285.9"/><circle cx="319.5" cy="280.7"/><circle cx="320.2" cy="277.0"/><circle cx="321.0" cy="277.8"/><circle cx="314.8" cy="281.9"/></g>
<path d="M322.0,308.4 L322.0,287.2 L323.4,285.7 L324.4,284.1 L325.4,284.7 L326.4,285.1 L327.4,283.9 L328.4,287.7 L329.4,290.3 L330.4,290.8 L331.4,291.1 L332.4,293.1 L333.2,292.5 L333.2,292.5 L333.2,308.4Z" fill="#D95F02"/><g class="p" fill="#D95F02" stroke="#D95F02"><circle cx="325.8" cy="282.1"/><circle cx="332.8" cy="289.8"/><circle cx="330.2" cy="291.6"/><circle cx="331.8" cy="285.9"/><circle cx="332.7" cy="290.5"/><circle cx="333.5" cy="292.9"/><circle cx="332.6" cy="291.9"/><circle cx="331.6" cy="291.8"/><circle cx="324.6" cy="280.0"/><circle cx="331.0" cy="289.0"/><circle cx="325.9" cy="284.8"/><circle cx="332.6" cy="291.5"/><circle cx="332.6" cy="292.5"/><circle cx="326.1" cy="282.6"/><circle cx="333.2" cy="290.3"/><circle cx="324.3" cy="281.7"/><circle cx="333.0" cy="293.2"/><circle cx="328.8" cy="286.9"/><circle cx="329.8" cy="291.2"/><circle cx="326.6" cy="279.1"/><circle cx="329.4" cy="283.8"/><circle cx="323.3" cy="276.9"/><circle cx="327.8" cy="277.7"/><circle cx="324.4" cy="278.8"/><circle cx="328.8" cy="284.9"/></g>
<path d="M331.8,308.4 L331.8,299.5 L333.2,298.0 L334.2,294.4 L335.2,291.9 L336.2,289.9 L337.2,288.3 L338.2,286.8 L339.2,284.7 L340.2,286.2 L341.2,287.5 L342.2,288.3 L342.7,286.8 L342.7,286.8 L342.7,308.4Z" fill="#7570B3"/><g class="p" fill="#7570B3" stroke="#7570B3"><circle cx="334.4" cy="289.5"/><circle cx="342.4" cy="286.0"/><circle cx="339.5" cy="282.0"/><circle cx="334.3" cy="289.3"/><circle cx="335.2" cy="291.4"/><circle cx="332.9" cy="297.6"/><circle cx="339.0" cy="282.2"/><circle cx="340.8" cy="287.5"/><circle cx="340.0" cy="282.7"/><circle cx="342.4" cy="284.2"/><circle cx="337.9" cy="286.9"/><circle cx="337.6" cy="287.6"/><circle cx="341.7" cy="288.9"/><circle cx="337.1" cy="286.5"/><circle cx="338.7" cy="284.9"/><circle cx="336.5" cy="287.4"/><circle cx="333.5" cy="298.8"/><circle cx="343.1" cy="286.6"/><circle cx="339.1" cy="284.7"/><circle cx="338.0" cy="280.2"/><circle cx="333.6" cy="287.6"/><circle cx="337.0" cy="282.4"/><circle cx="338.6" cy="276.3"/><circle cx="335.8" cy="284.4"/></g>
<path d="M341.3,308.4 L341.3,291.0 L342.7,289.5 L343.7,288.9 L344.7,288.2 L345.7,289.2 L346.7,287.6 L347.7,290.1 L348.7,290.3 L349.7,287.6 L350.7,284.4 L351.7,286.4 L352.7,289.2 L353.4,288.2 L353.4,288.2 L353.4,308.4Z" fill="#E7298A"/><g class="p" fill="#E7298A" stroke="#E7298A"><circle cx="343.3" cy="289.5"/><circle cx="343.2" cy="286.1"/><circle cx="352.5" cy="287.3"/><circle cx="344.7" cy="285.1"/><circle cx="342.9" cy="290.4"/><circle cx="349.4" cy="283.3"/><circle cx="350.3" cy="284.3"/><circle cx="343.1" cy="288.2"/><circle cx="353.0" cy="287.7"/><circle cx="348.2" cy="289.1"/><circle cx="344.8" cy="283.4"/><circle cx="351.9" cy="287.0"/><circle cx="346.4" cy="286.5"/><circle cx="350.7" cy="284.8"/><circle cx="353.3" cy="289.2"/><circle cx="344.1" cy="289.1"/><circle cx="348.9" cy="289.3"/><circle cx="351.3" cy="287.2"/><circle cx="345.7" cy="284.9"/><circle cx="350.7" cy="285.4"/><circle cx="344.5" cy="288.3"/><circle cx="352.8" cy="281.8"/><circle cx="352.8" cy="283.3"/><circle cx="353.1" cy="281.6"/><circle cx="348.6" cy="282.6"/><circle cx="345.1" cy="282.3"/><circle cx="342.8" cy="277.3"/><circle cx="347.6" cy="281.3"/><circle cx="351.6" cy="282.4"/><circle cx="345.0" cy="280.3"/></g>
<path d="M352.0,308.4 L352.0,290.1 L353.4,288.6 L354.4,285.5 L355.4,284.0 L356.4,281.5 L357.4,283.8 L358.4,285.4 L359.4,284.3 L360.4,285.7 L361.4,287.5 L362.4,286.9 L363.4,285.8 L364.1,286.4 L364.1,286.4 L364.1,308.4Z" fill="#66A61E"/><g class="p" fill="#66A61E" stroke="#66A61E"><circle cx="358.8" cy="284.9"/><circle cx="353.1" cy="286.2"/><circle cx="361.5" cy="288.5"/><circle cx="359.8" cy="281.2"/><circle cx="356.2" cy="280.8"/><circle cx="355.2" cy="285.0"/><circle cx="359.8" cy="283.5"/><circle cx="356.9" cy="281.1"/><circle cx="355.8" cy="282.3"/><circle cx="354.4" cy="283.6"/><circle cx="356.4" cy="278.9"/><circle cx="355.2" cy="284.4"/><circle cx="353.0" cy="288.9"/><circle cx="359.0" cy="283.8"/><circle cx="353.8" cy="287.0"/><circle cx="361.4" cy="284.2"/><circle cx="357.2" cy="284.3"/><circle cx="358.1" cy="284.9"/><circle cx="360.3" cy="284.1"/><circle cx="357.7" cy="282.7"/><circle cx="355.1" cy="283.2"/><circle cx="360.9" cy="275.9"/><circle cx="355.9" cy="276.8"/><circle cx="363.3" cy="279.2"/><circle cx="363.3" cy="278.9"/><circle cx="359.8" cy="278.5"/><circle cx="361.7" cy="256.5"/><circle cx="356.7" cy="274.3"/><circle cx="358.2" cy="276.3"/><circle cx="354.4" cy="276.8"/><circle cx="357.0" cy="273.2"/><circle cx="361.0" cy="278.8"/></g>
<path d="M362.7,308.4 L362.7,287.8 L364.1,286.3 L365.1,283.3 L366.1,284.6 L367.1,287.3 L368.1,290.3 L369.1,290.3 L370.1,288.5 L371.1,287.3 L372.1,288.7 L373.1,291.4 L373.2,288.7 L373.2,288.7 L373.2,308.4Z" fill="#E6AB02"/><g class="p" fill="#E6AB02" stroke="#E6AB02"><circle cx="371.3" cy="286.1"/><circle cx="373.6" cy="284.7"/><circle cx="368.6" cy="290.5"/><circle cx="369.7" cy="287.8"/><circle cx="372.8" cy="292.1"/><circle cx="368.7" cy="290.4"/><circle cx="372.9" cy="289.5"/><circle cx="372.9" cy="292.3"/><circle cx="373.0" cy="291.3"/><circle cx="371.1" cy="285.0"/><circle cx="368.7" cy="290.2"/><circle cx="372.9" cy="291.6"/><circle cx="366.8" cy="287.6"/><circle cx="373.1" cy="292.2"/><circle cx="367.6" cy="289.6"/><circle cx="368.8" cy="289.8"/><circle cx="368.5" cy="290.6"/><circle cx="366.4" cy="282.6"/><circle cx="365.0" cy="277.3"/><circle cx="365.3" cy="277.5"/><circle cx="370.3" cy="282.0"/><circle cx="363.8" cy="280.3"/><circle cx="364.3" cy="249.4"/><circle cx="369.2" cy="280.3"/></g>
<path d="M371.8,308.4 L371.8,292.0 L373.2,290.5 L374.2,292.7 L375.2,291.6 L376.2,287.7 L377.2,288.3 L378.2,284.8 L379.2,285.0 L380.2,285.5 L381.0,286.4 L381.0,286.4 L381.0,308.4Z" fill="#A6761D"/><g class="p" fill="#A6761D" stroke="#A6761D"><circle cx="378.5" cy="283.1"/><circle cx="375.4" cy="290.7"/><circle cx="373.0" cy="288.8"/><circle cx="377.5" cy="286.9"/><circle cx="376.3" cy="287.3"/><circle cx="381.0" cy="285.0"/><circle cx="378.9" cy="285.1"/><circle cx="376.6" cy="287.9"/><circle cx="375.0" cy="292.3"/><circle cx="375.7" cy="288.2"/><circle cx="377.0" cy="285.8"/><circle cx="376.2" cy="287.3"/><circle cx="380.2" cy="284.4"/><circle cx="379.7" cy="283.4"/><circle cx="374.0" cy="290.4"/><circle cx="376.8" cy="281.5"/><circle cx="375.5" cy="284.4"/><circle cx="376.7" cy="279.9"/><circle cx="376.4" cy="251.4"/><circle cx="379.8" cy="272.7"/><circle cx="376.9" cy="274.3"/><circle cx="377.0" cy="278.8"/></g>
<path d="M379.6,308.4 L379.6,287.6 L381.0,286.1 L382.0,288.0 L383.0,287.7 L384.0,288.0 L385.0,291.8 L386.0,295.1 L387.0,290.3 L388.0,291.1 L389.0,288.9 L390.0,284.8 L390.3,285.5 L390.3,285.5 L390.3,308.4Z" fill="#666666"/><g class="p" fill="#666666" stroke="#666666"><circle cx="390.0" cy="281.7"/><circle cx="387.9" cy="292.1"/><circle cx="384.3" cy="289.2"/><circle cx="381.7" cy="286.7"/><circle cx="383.3" cy="288.7"/><circle cx="381.3" cy="282.1"/><circle cx="383.0" cy="287.5"/><circle cx="388.3" cy="291.1"/><circle cx="388.8" cy="288.1"/><circle cx="390.5" cy="282.2"/><circle cx="381.3" cy="281.2"/><circle cx="381.4" cy="285.6"/><circle cx="384.6" cy="287.3"/><circle cx="385.8" cy="294.0"/><circle cx="388.2" cy="291.1"/><circle cx="388.6" cy="285.5"/><circle cx="382.1" cy="284.8"/><circle cx="389.1" cy="289.6"/><circle cx="386.0" cy="284.4"/><circle cx="388.6" cy="282.4"/><circle cx="389.1" cy="281.8"/><circle cx="381.3" cy="279.2"/><circle cx="381.0" cy="278.8"/><circle cx="383.0" cy="276.3"/></g>
<path d="M388.9,308.4 L388.9,287.7 L390.3,286.2 L391.3,286.1 L392.3,288.3 L393.3,287.7 L394.3,288.9 L395.3,290.4 L396.3,289.5 L396.6,291.4 L396.6,291.4 L396.6,308.4Z" fill="#1B9E77"/><g class="p" fill="#1B9E77" stroke="#1B9E77"><circle cx="396.4" cy="290.3"/><circle cx="393.4" cy="287.6"/><circle cx="391.1" cy="285.4"/><circle cx="391.5" cy="285.5"/><circle cx="392.8" cy="287.4"/><circle cx="391.1" cy="285.3"/><circle cx="391.7" cy="282.3"/><circle cx="397.1" cy="289.6"/><circle cx="393.8" cy="287.0"/><circle cx="396.7" cy="287.2"/><circle cx="391.8" cy="285.0"/><circle cx="390.6" cy="284.2"/><circle cx="390.1" cy="275.5"/><circle cx="394.1" cy="282.5"/><circle cx="390.2" cy="275.5"/><circle cx="392.0" cy="281.3"/></g>
<path d="M395.2,308.4 L395.2,289.6 L396.6,288.1 L397.6,288.9 L398.6,289.2 L399.6,289.2 L400.6,289.6 L401.6,290.6 L402.6,293.2 L403.6,293.2 L404.3,292.7 L404.3,292.7 L404.3,308.4Z" fill="#D95F02"/><g class="p" fill="#D95F02" stroke="#D95F02"><circle cx="403.4" cy="293.9"/><circle cx="396.3" cy="285.2"/><circle cx="403.4" cy="290.2"/><circle cx="399.0" cy="287.8"/><circle cx="396.7" cy="285.4"/><circle cx="401.7" cy="286.0"/><circle cx="404.0" cy="292.2"/><circle cx="401.1" cy="286.4"/><circle cx="400.0" cy="287.8"/><circle cx="404.8" cy="289.4"/><circle cx="399.2" cy="286.6"/><circle cx="402.9" cy="291.0"/><circle cx="398.4" cy="290.1"/><circle cx="398.6" cy="287.1"/><circle cx="401.7" cy="290.8"/><circle cx="403.9" cy="286.6"/><circle cx="401.3" cy="284.6"/><circle cx="396.4" cy="280.6"/><circle cx="400.0" cy="283.9"/><circle cx="402.0" cy="284.4"/></g>
<path d="M402.9,308.4 L402.9,292.6 L404.3,291.1 L405.3,289.8 L406.3,289.4 L407.3,287.6 L408.3,289.6 L409.3,285.7 L410.3,288.8 L411.1,289.1 L411.1,289.1 L411.1,308.4Z" fill="#7570B3"/><g class="p" fill="#7570B3" stroke="#7570B3"><circle cx="409.1" cy="285.0"/><circle cx="409.0" cy="283.5"/><circle cx="406.3" cy="286.9"/><circle cx="407.6" cy="285.9"/><circle cx="407.3" cy="288.6"/><circle cx="405.0" cy="288.5"/><circle cx="408.8" cy="283.3"/><circle cx="411.1" cy="290.1"/><circle cx="405.3" cy="290.4"/><circle cx="404.2" cy="292.1"/><circle cx="407.3" cy="287.0"/><circle cx="411.1" cy="286.8"/><circle cx="405.2" cy="288.5"/><circle cx="404.2" cy="284.8"/><circle cx="405.0" cy="283.4"/><circle cx="410.4" cy="282.9"/><circle cx="406.8" cy="281.3"/><circle cx="408.0" cy="280.3"/></g>
<path d="M409.7,308.4 L409.7,293.9 L411.1,292.4 L412.1,289.9 L413.1,288.5 L414.1,289.5 L415.1,288.4 L416.1,288.7 L417.1,288.0 L418.0,286.7 L418.0,286.7 L418.0,308.4Z" fill="#E7298A"/><g class="p" fill="#E7298A" stroke="#E7298A"><circle cx="418.0" cy="284.6"/><circle cx="417.5" cy="289.0"/><circle cx="413.0" cy="288.2"/><circle cx="417.3" cy="287.1"/><circle cx="411.0" cy="291.3"/><circle cx="415.8" cy="287.3"/><circle cx="410.8" cy="289.5"/><circle cx="417.9" cy="287.4"/><circle cx="413.6" cy="288.4"/><circle cx="411.6" cy="287.9"/><circle cx="417.8" cy="282.6"/><circle cx="410.9" cy="290.2"/><circle cx="412.0" cy="289.2"/><circle cx="418.2" cy="280.9"/><circle cx="413.0" cy="281.2"/><circle cx="413.7" cy="283.1"/><circle cx="413.6" cy="281.3"/><circle cx="412.0" cy="283.4"/></g>
<path d="M416.6,308.4 L416.6,286.3 L418.0,284.8 L419.0,283.1 L420.0,284.4 L421.0,283.1 L422.0,283.4 L423.0,286.9 L424.0,291.2 L425.0,292.4 L425.6,292.0 L425.6,292.0 L425.6,308.4Z" fill="#66A61E"/><g class="p" fill="#66A61E" stroke="#66A61E"><circle cx="424.7" cy="292.7"/><circle cx="418.0" cy="282.0"/><circle cx="423.3" cy="285.0"/><circle cx="423.9" cy="291.8"/><circle cx="419.1" cy="279.6"/><circle cx="423.2" cy="287.8"/><circle cx="420.9" cy="283.1"/><circle cx="425.1" cy="289.0"/><circle cx="422.7" cy="287.2"/><circle cx="424.7" cy="289.2"/><circle cx="421.2" cy="282.7"/><circle cx="421.7" cy="279.6"/><circle cx="420.3" cy="283.9"/><circle cx="421.0" cy="284.0"/><circle cx="421.9" cy="281.1"/><circle cx="418.4" cy="277.2"/><circle cx="424.4" cy="283.7"/><circle cx="417.8" cy="278.9"/><circle cx="417.9" cy="251.4"/><circle cx="417.9" cy="276.3"/><circle cx="422.5" cy="278.8"/></g>
<circle cx="224.30" cy="230.65" r="1.3" fill="#C75701" stroke="#C75701" stroke-width="0.4"/>
<circle cx="355.60" cy="209.86" r="1.3" fill="#5D981B" stroke="#5D981B" stroke-width="0.4"/>
<circle cx="376.90" cy="228.62" r="1.3" fill="#986C1A" stroke="#986C1A" stroke-width="0.4"/>
<circle cx="418.30" cy="198.20" r="1.3" fill="#5D981B" stroke="#5D981B" stroke-width="0.4"/>
<circle cx="417.90" cy="209.86" r="1.3" fill="#5D981B" stroke="#5D981B" stroke-width="0.4"/>
<line x1="36.4" x2="443.5" y1="240.74" y2="240.74" stroke="#FF0000" stroke-opacity="0.55" stroke-width="1.7" stroke-dasharray="3.7 2.96" stroke-dashoffset="0.1"/>
<rect x="36.4" y="192.9" width="407.1" height="118.9" fill="none" stroke="#7A7A7A" stroke-width="1.2"/>
<line x1="33.3" x2="36.4" y1="306.70" y2="306.70" stroke="#666" stroke-width="1"/>
<text x="30.8" y="310.45" text-anchor="end" font-size="10.4" fill="#4D4D4D" font-family="Liberation Sans, sans-serif">0.0</text>
<line x1="33.3" x2="36.4" y1="281.35" y2="281.35" stroke="#666" stroke-width="1"/>
<text x="30.8" y="285.10" text-anchor="end" font-size="10.4" fill="#4D4D4D" font-family="Liberation Sans, sans-serif">0.5</text>
<line x1="33.3" x2="36.4" y1="256.00" y2="256.00" stroke="#666" stroke-width="1"/>
<text x="30.8" y="259.75" text-anchor="end" font-size="10.4" fill="#4D4D4D" font-family="Liberation Sans, sans-serif">1.0</text>
<line x1="33.3" x2="36.4" y1="230.65" y2="230.65" stroke="#666" stroke-width="1"/>
<text x="30.8" y="234.40" text-anchor="end" font-size="10.4" fill="#4D4D4D" font-family="Liberation Sans, sans-serif">1.5</text>
<line x1="33.3" x2="36.4" y1="205.30" y2="205.30" stroke="#666" stroke-width="1"/>
<text x="30.8" y="209.05" text-anchor="end" font-size="10.4" fill="#4D4D4D" font-family="Liberation Sans, sans-serif">2.0</text>
<line x1="66.23" x2="66.23" y1="311.8" y2="314.90000000000003" stroke="#666" stroke-width="1"/>
<text x="66.23" y="325.20" text-anchor="middle" font-size="10.4" fill="#4D4D4D" font-family="Liberation Sans, sans-serif">1</text>
<line x1="107.28" x2="107.28" y1="311.8" y2="314.90000000000003" stroke="#666" stroke-width="1"/>
<text x="107.28" y="325.20" text-anchor="middle" font-size="10.4" fill="#4D4D4D" font-family="Liberation Sans, sans-serif">3</text>
<line x1="143.05" x2="143.05" y1="311.8" y2="314.90000000000003" stroke="#666" stroke-width="1"/>
<text x="143.05" y="325.20" text-anchor="middle" font-size="10.4" fill="#4D4D4D" font-family="Liberation Sans, sans-serif">5</text>
<line x1="177.73" x2="177.73" y1="311.8" y2="314.90000000000003" stroke="#666" stroke-width="1"/>
<text x="177.73" y="325.20" text-anchor="middle" font-size="10.4" fill="#4D4D4D" font-family="Liberation Sans, sans-serif">7</text>
<line x1="210.65" x2="210.65" y1="311.8" y2="314.90000000000003" stroke="#666" stroke-width="1"/>
<text x="210.65" y="325.20" text-anchor="middle" font-size="10.4" fill="#4D4D4D" font-family="Liberation Sans, sans-serif">9</text>
<line x1="241.82" x2="241.82" y1="311.8" y2="314.90000000000003" stroke="#666" stroke-width="1"/>
<text x="241.82" y="325.20" text-anchor="middle" font-size="10.4" fill="#4D4D4D" font-family="Liberation Sans, sans-serif">11</text>
<line x1="268.95" x2="268.95" y1="311.8" y2="314.90000000000003" stroke="#666" stroke-width="1"/>
<text x="268.95" y="325.20" text-anchor="middle" font-size="10.4" fill="#4D4D4D" font-family="Liberation Sans, sans-serif">13</text>
<line x1="293.73" x2="293.73" y1="311.8" y2="314.90000000000003" stroke="#666" stroke-width="1"/>
<text x="293.73" y="325.20" text-anchor="middle" font-size="10.4" fill="#4D4D4D" font-family="Liberation Sans, sans-serif">15</text>
<line x1="317.79" x2="317.79" y1="311.8" y2="314.90000000000003" stroke="#666" stroke-width="1"/>
<text x="317.79" y="325.20" text-anchor="middle" font-size="10.4" fill="#4D4D4D" font-family="Liberation Sans, sans-serif">17</text>
<line x1="337.97" x2="337.97" y1="311.8" y2="314.90000000000003" stroke="#666" stroke-width="1"/>
<text x="337.97" y="325.20" text-anchor="middle" font-size="10.4" fill="#4D4D4D" font-family="Liberation Sans, sans-serif">19</text>
<line x1="358.76" x2="358.76" y1="311.8" y2="314.90000000000003" stroke="#666" stroke-width="1"/>
<text x="358.76" y="325.20" text-anchor="middle" font-size="10.4" fill="#4D4D4D" font-family="Liberation Sans, sans-serif">21</text>
<line x1="377.12" x2="377.12" y1="311.8" y2="314.90000000000003" stroke="#666" stroke-width="1"/>
<text x="377.12" y="325.20" text-anchor="middle" font-size="10.4" fill="#4D4D4D" font-family="Liberation Sans, sans-serif">23</text>
<line x1="393.44" x2="393.44" y1="311.8" y2="314.90000000000003" stroke="#666" stroke-width="1"/>
<text x="393.44" y="325.20" text-anchor="middle" font-size="10.4" fill="#4D4D4D" font-family="Liberation Sans, sans-serif">25</text>
<line x1="407.72" x2="407.72" y1="311.8" y2="314.90000000000003" stroke="#666" stroke-width="1"/>
<text x="407.72" y="325.20" text-anchor="middle" font-size="10.4" fill="#4D4D4D" font-family="Liberation Sans, sans-serif">27</text>
<line x1="421.79" x2="421.79" y1="311.8" y2="314.90000000000003" stroke="#666" stroke-width="1"/>
<text x="421.79" y="325.20" text-anchor="middle" font-size="10.4" fill="#4D4D4D" font-family="Liberation Sans, sans-serif">29</text>
<text x="239.95" y="337.50" text-anchor="middle" font-size="10.4" fill="#1A1A1A" font-family="Liberation Sans, sans-serif">Chromosome</text>
<text transform="translate(9.7,252.35) rotate(-90)" text-anchor="middle" font-size="10.3" fill="#000" font-family="Liberation Sans, sans-serif">−<tspan dx="2.4">log</tspan><tspan font-size="7.3" dy="2.2">10</tspan><tspan dy="-2.2">(FDR)</tspan></text>
<text x="36.6" y="185.40" font-size="11.2" font-weight="bold" fill="#000" font-family="Liberation Sans, sans-serif">FUA</text>
<rect x="480.8" y="192.9" width="202.90000000000003" height="118.9" fill="#fff"/>
<line x1="480.8" x2="683.7" y1="290.03" y2="290.03" stroke="#EBEBEB" stroke-width="0.5"/>
<line x1="480.8" x2="683.7" y1="256.49" y2="256.49" stroke="#EBEBEB" stroke-width="0.5"/>
<line x1="480.8" x2="683.7" y1="222.95" y2="222.95" stroke="#EBEBEB" stroke-width="0.5"/>
<line x1="508.41" x2="508.41" y1="192.9" y2="311.8" stroke="#EBEBEB" stroke-width="0.5"/>
<line x1="546.33" x2="546.33" y1="192.9" y2="311.8" stroke="#EBEBEB" stroke-width="0.5"/>
<line x1="584.25" x2="584.25" y1="192.9" y2="311.8" stroke="#EBEBEB" stroke-width="0.5"/>
<line x1="622.17" x2="622.17" y1="192.9" y2="311.8" stroke="#EBEBEB" stroke-width="0.5"/>
<line x1="660.09" x2="660.09" y1="192.9" y2="311.8" stroke="#EBEBEB" stroke-width="0.5"/>
<line x1="480.8" x2="683.7" y1="306.80" y2="306.80" stroke="#EBEBEB" stroke-width="1"/>
<line x1="480.8" x2="683.7" y1="273.26" y2="273.26" stroke="#EBEBEB" stroke-width="1"/>
<line x1="480.8" x2="683.7" y1="239.72" y2="239.72" stroke="#EBEBEB" stroke-width="1"/>
<line x1="480.8" x2="683.7" y1="206.18" y2="206.18" stroke="#EBEBEB" stroke-width="1"/>
<line x1="489.45" x2="489.45" y1="192.9" y2="311.8" stroke="#EBEBEB" stroke-width="1"/>
<line x1="527.37" x2="527.37" y1="192.9" y2="311.8" stroke="#EBEBEB" stroke-width="1"/>
<line x1="565.29" x2="565.29" y1="192.9" y2="311.8" stroke="#EBEBEB" stroke-width="1"/>
<line x1="603.21" x2="603.21" y1="192.9" y2="311.8" stroke="#EBEBEB" stroke-width="1"/>
<line x1="641.13" x2="641.13" y1="192.9" y2="311.8" stroke="#EBEBEB" stroke-width="1"/>
<line x1="679.05" x2="679.05" y1="192.9" y2="311.8" stroke="#EBEBEB" stroke-width="1"/>
<clipPath id="qc1"><rect x="480.8" y="192.9" width="202.90000000000003" height="118.9"/></clipPath>
<line clip-path="url(#qc1)" x1="470.49" y1="315.19" x2="698.01" y2="214.56" stroke="#FF0000" stroke-width="1.2" stroke-dasharray="3.2 3.5" stroke-dashoffset="3.2"/>
<polyline points="577.4,260.4 575.5,261.4 573.6,262.4 571.7,263.3 569.8,264.3 567.9,265.2 566.0,266.2 564.2,267.2 562.3,268.2 560.4,269.1 558.5,270.1 556.6,271.1 554.7,272.1 552.8,273.1 550.9,274.0 549.0,275.0 547.1,276.0 545.2,277.0 543.3,278.0 541.4,278.9 539.5,279.9 537.6,280.9 535.7,281.9 533.8,282.9 531.9,283.8 530.0,284.8 528.1,285.8 526.2,286.8 524.3,287.9 522.4,288.9 520.5,289.9 518.6,290.9 516.8,292.0 514.9,293.0 513.0,294.0 511.1,295.1 509.2,296.1 507.3,297.1 505.4,298.2 503.5,299.2 501.6,300.2 499.7,301.2 497.8,302.3 495.9,303.3 494.0,304.3 492.1,305.4 490.2,306.4 489.4,306.8" fill="none" stroke="#000" stroke-width="3.2" stroke-linecap="round" stroke-linejoin="round"/>
<g fill="#000"><circle cx="674.9" cy="198.0" r="1.4"/><circle cx="656.8" cy="199.0" r="1.4"/><circle cx="648.4" cy="207.4" r="1.4"/><circle cx="642.8" cy="207.9" r="1.4"/><circle cx="638.7" cy="215.9" r="1.4"/><circle cx="635.4" cy="217.9" r="1.4"/><circle cx="632.6" cy="225.0" r="1.4"/><circle cx="630.3" cy="226.7" r="1.4"/><circle cx="628.2" cy="227.4" r="1.4"/><circle cx="626.4" cy="229.4" r="1.4"/><circle cx="624.7" cy="230.5" r="1.4"/><circle cx="623.2" cy="231.4" r="1.4"/><circle cx="621.9" cy="232.0" r="1.4"/><circle cx="620.6" cy="233.6" r="1.4"/><circle cx="619.4" cy="235.8" r="1.4"/><circle cx="618.3" cy="238.1" r="1.4"/><circle cx="617.3" cy="238.7" r="1.4"/><circle cx="616.3" cy="239.3" r="1.4"/><circle cx="615.4" cy="239.8" r="1.4"/><circle cx="614.5" cy="240.2" r="1.4"/><circle cx="613.7" cy="240.5" r="1.4"/><circle cx="612.9" cy="240.8" r="1.4"/><circle cx="612.2" cy="241.1" r="1.4"/><circle cx="611.5" cy="241.3" r="1.4"/><circle cx="610.8" cy="241.6" r="1.4"/><circle cx="610.1" cy="242.1" r="1.4"/><circle cx="609.5" cy="242.7" r="1.4"/><circle cx="608.9" cy="243.2" r="1.4"/><circle cx="608.3" cy="243.7" r="1.4"/><circle cx="607.7" cy="244.1" r="1.4"/><circle cx="607.2" cy="244.5" r="1.4"/><circle cx="606.6" cy="244.9" r="1.4"/><circle cx="606.1" cy="245.2" r="1.4"/><circle cx="605.6" cy="245.5" r="1.4"/><circle cx="605.1" cy="245.8" r="1.4"/><circle cx="604.7" cy="246.1" r="1.4"/><circle cx="604.2" cy="246.4" r="1.4"/><circle cx="603.8" cy="246.7" r="1.4"/><circle cx="603.3" cy="246.9" r="1.4"/><circle cx="602.9" cy="247.1" r="1.4"/><circle cx="602.5" cy="247.3" r="1.4"/><circle cx="602.1" cy="247.6" r="1.4"/><circle cx="601.7" cy="247.8" r="1.4"/><circle cx="601.3" cy="248.0" r="1.4"/><circle cx="601.0" cy="248.2" r="1.4"/><circle cx="600.6" cy="248.4" r="1.4"/><circle cx="600.2" cy="248.5" r="1.4"/><circle cx="599.9" cy="248.7" r="1.4"/><circle cx="599.5" cy="248.9" r="1.4"/><circle cx="599.2" cy="249.1" r="1.4"/><circle cx="598.9" cy="249.3" r="1.4"/><circle cx="598.5" cy="249.4" r="1.4"/><circle cx="598.2" cy="249.6" r="1.4"/><circle cx="597.9" cy="249.8" r="1.4"/><circle cx="597.6" cy="249.9" r="1.4"/><circle cx="597.3" cy="250.1" r="1.4"/><circle cx="597.0" cy="250.2" r="1.4"/><circle cx="596.7" cy="250.4" r="1.4"/><circle cx="596.4" cy="250.5" r="1.4"/><circle cx="596.2" cy="250.7" r="1.4"/><circle cx="595.9" cy="250.8" r="1.4"/><circle cx="595.6" cy="251.0" r="1.4"/><circle cx="595.4" cy="251.1" r="1.4"/><circle cx="595.1" cy="251.3" r="1.4"/><circle cx="594.8" cy="251.4" r="1.4"/><circle cx="594.6" cy="251.5" r="1.4"/><circle cx="594.3" cy="251.7" r="1.4"/><circle cx="594.1" cy="251.8" r="1.4"/><circle cx="593.8" cy="251.9" r="1.4"/><circle cx="593.6" cy="252.0" r="1.4"/><circle cx="593.4" cy="252.2" r="1.4"/><circle cx="593.1" cy="252.3" r="1.4"/><circle cx="592.9" cy="252.4" r="1.4"/><circle cx="592.7" cy="252.5" r="1.4"/><circle cx="592.5" cy="252.6" r="1.4"/><circle cx="592.2" cy="252.8" r="1.4"/><circle cx="592.0" cy="252.9" r="1.4"/><circle cx="591.8" cy="253.0" r="1.4"/><circle cx="591.6" cy="253.1" r="1.4"/><circle cx="591.4" cy="253.2" r="1.4"/><circle cx="591.2" cy="253.3" r="1.4"/><circle cx="591.0" cy="253.4" r="1.4"/><circle cx="590.8" cy="253.5" r="1.4"/><circle cx="590.6" cy="253.6" r="1.4"/><circle cx="590.4" cy="253.7" r="1.4"/><circle cx="590.2" cy="253.8" r="1.4"/><circle cx="590.0" cy="253.9" r="1.4"/><circle cx="589.8" cy="254.0" r="1.4"/><circle cx="589.6" cy="254.1" r="1.4"/><circle cx="589.4" cy="254.2" r="1.4"/><circle cx="589.3" cy="254.3" r="1.4"/><circle cx="589.1" cy="254.4" r="1.4"/><circle cx="588.9" cy="254.5" r="1.4"/><circle cx="588.7" cy="254.6" r="1.4"/><circle cx="588.6" cy="254.7" r="1.4"/><circle cx="588.4" cy="254.8" r="1.4"/><circle cx="588.2" cy="254.9" r="1.4"/><circle cx="588.0" cy="255.0" r="1.4"/><circle cx="587.9" cy="255.1" r="1.4"/><circle cx="587.7" cy="255.2" r="1.4"/><circle cx="587.5" cy="255.3" r="1.4"/><circle cx="587.4" cy="255.3" r="1.4"/><circle cx="587.2" cy="255.4" r="1.4"/><circle cx="587.1" cy="255.5" r="1.4"/><circle cx="586.9" cy="255.6" r="1.4"/><circle cx="586.7" cy="255.7" r="1.4"/><circle cx="586.6" cy="255.8" r="1.4"/><circle cx="586.4" cy="255.8" r="1.4"/><circle cx="586.3" cy="255.9" r="1.4"/><circle cx="586.1" cy="256.0" r="1.4"/><circle cx="586.0" cy="256.1" r="1.4"/><circle cx="585.8" cy="256.2" r="1.4"/><circle cx="585.7" cy="256.2" r="1.4"/><circle cx="585.5" cy="256.3" r="1.4"/><circle cx="585.4" cy="256.4" r="1.4"/><circle cx="585.2" cy="256.5" r="1.4"/><circle cx="585.1" cy="256.5" r="1.4"/><circle cx="585.0" cy="256.6" r="1.4"/><circle cx="584.8" cy="256.7" r="1.4"/><circle cx="584.7" cy="256.8" r="1.4"/><circle cx="584.5" cy="256.8" r="1.4"/><circle cx="584.4" cy="256.9" r="1.4"/><circle cx="584.3" cy="257.0" r="1.4"/><circle cx="584.1" cy="257.0" r="1.4"/><circle cx="584.0" cy="257.1" r="1.4"/><circle cx="583.9" cy="257.2" r="1.4"/><circle cx="583.7" cy="257.2" r="1.4"/><circle cx="583.6" cy="257.3" r="1.4"/><circle cx="583.5" cy="257.4" r="1.4"/><circle cx="583.4" cy="257.4" r="1.4"/><circle cx="583.2" cy="257.5" r="1.4"/><circle cx="583.1" cy="257.6" r="1.4"/><circle cx="583.0" cy="257.6" r="1.4"/><circle cx="582.9" cy="257.7" r="1.4"/><circle cx="582.7" cy="257.8" r="1.4"/><circle cx="582.6" cy="257.8" r="1.4"/><circle cx="582.5" cy="257.9" r="1.4"/><circle cx="582.4" cy="257.9" r="1.4"/><circle cx="582.3" cy="258.0" r="1.4"/><circle cx="582.1" cy="258.1" r="1.4"/><circle cx="582.0" cy="258.1" r="1.4"/><circle cx="581.9" cy="258.2" r="1.4"/><circle cx="581.8" cy="258.2" r="1.4"/><circle cx="581.7" cy="258.3" r="1.4"/><circle cx="581.6" cy="258.4" r="1.4"/><circle cx="581.4" cy="258.4" r="1.4"/><circle cx="581.3" cy="258.5" r="1.4"/><circle cx="581.2" cy="258.5" r="1.4"/><circle cx="581.1" cy="258.6" r="1.4"/><circle cx="581.0" cy="258.6" r="1.4"/><circle cx="580.9" cy="258.7" r="1.4"/><circle cx="580.8" cy="258.7" r="1.4"/><circle cx="580.7" cy="258.8" r="1.4"/><circle cx="580.6" cy="258.9" r="1.4"/><circle cx="580.5" cy="258.9" r="1.4"/><circle cx="580.3" cy="259.0" r="1.4"/><circle cx="580.2" cy="259.0" r="1.4"/><circle cx="580.1" cy="259.1" r="1.4"/><circle cx="580.0" cy="259.1" r="1.4"/><circle cx="579.9" cy="259.2" r="1.4"/><circle cx="579.8" cy="259.2" r="1.4"/><circle cx="579.7" cy="259.3" r="1.4"/><circle cx="579.6" cy="259.3" r="1.4"/><circle cx="579.5" cy="259.4" r="1.4"/><circle cx="579.4" cy="259.4" r="1.4"/><circle cx="579.3" cy="259.5" r="1.4"/><circle cx="579.2" cy="259.5" r="1.4"/><circle cx="579.1" cy="259.6" r="1.4"/><circle cx="579.0" cy="259.6" r="1.4"/><circle cx="578.9" cy="259.7" r="1.4"/><circle cx="578.8" cy="259.7" r="1.4"/><circle cx="578.7" cy="259.8" r="1.4"/><circle cx="578.6" cy="259.8" r="1.4"/><circle cx="578.5" cy="259.9" r="1.4"/><circle cx="578.4" cy="259.9" r="1.4"/><circle cx="578.4" cy="260.0" r="1.4"/><circle cx="578.3" cy="260.0" r="1.4"/><circle cx="578.2" cy="260.1" r="1.4"/><circle cx="578.1" cy="260.1" r="1.4"/><circle cx="578.0" cy="260.2" r="1.4"/><circle cx="577.9" cy="260.2" r="1.4"/><circle cx="577.8" cy="260.3" r="1.4"/><circle cx="577.7" cy="260.3" r="1.4"/><circle cx="577.6" cy="260.3" r="1.4"/><circle cx="577.5" cy="260.4" r="1.4"/><circle cx="577.4" cy="260.4" r="1.4"/><circle cx="577.4" cy="260.5" r="1.4"/><circle cx="577.3" cy="260.5" r="1.4"/><circle cx="577.2" cy="260.6" r="1.4"/><circle cx="577.1" cy="260.6" r="1.4"/><circle cx="577.0" cy="260.7" r="1.4"/><circle cx="576.9" cy="260.7" r="1.4"/><circle cx="576.8" cy="260.7" r="1.4"/><circle cx="576.7" cy="260.8" r="1.4"/></g>
<rect x="480.8" y="192.9" width="202.90000000000003" height="118.9" fill="none" stroke="#7A7A7A" stroke-width="1.2"/>
<line x1="477.7" x2="480.8" y1="306.80" y2="306.80" stroke="#666" stroke-width="1"/>
<text x="475.40" y="310.55" text-anchor="end" font-size="10.4" fill="#4D4D4D" font-family="Liberation Sans, sans-serif">0</text>
<line x1="477.7" x2="480.8" y1="273.26" y2="273.26" stroke="#666" stroke-width="1"/>
<text x="475.40" y="277.01" text-anchor="end" font-size="10.4" fill="#4D4D4D" font-family="Liberation Sans, sans-serif">2</text>
<line x1="477.7" x2="480.8" y1="239.72" y2="239.72" stroke="#666" stroke-width="1"/>
<text x="475.40" y="243.47" text-anchor="end" font-size="10.4" fill="#4D4D4D" font-family="Liberation Sans, sans-serif">4</text>
<line x1="477.7" x2="480.8" y1="206.18" y2="206.18" stroke="#666" stroke-width="1"/>
<text x="475.40" y="209.93" text-anchor="end" font-size="10.4" fill="#4D4D4D" font-family="Liberation Sans, sans-serif">6</text>
<line x1="489.45" x2="489.45" y1="311.8" y2="314.90000000000003" stroke="#666" stroke-width="1"/>
<text x="489.45" y="325.20" text-anchor="middle" font-size="10.4" fill="#4D4D4D" font-family="Liberation Sans, sans-serif">0</text>
<line x1="527.37" x2="527.37" y1="311.8" y2="314.90000000000003" stroke="#666" stroke-width="1"/>
<text x="527.37" y="325.20" text-anchor="middle" font-size="10.4" fill="#4D4D4D" font-family="Liberation Sans, sans-serif">1</text>
<line x1="565.29" x2="565.29" y1="311.8" y2="314.90000000000003" stroke="#666" stroke-width="1"/>
<text x="565.29" y="325.20" text-anchor="middle" font-size="10.4" fill="#4D4D4D" font-family="Liberation Sans, sans-serif">2</text>
<line x1="603.21" x2="603.21" y1="311.8" y2="314.90000000000003" stroke="#666" stroke-width="1"/>
<text x="603.21" y="325.20" text-anchor="middle" font-size="10.4" fill="#4D4D4D" font-family="Liberation Sans, sans-serif">3</text>
<line x1="641.13" x2="641.13" y1="311.8" y2="314.90000000000003" stroke="#666" stroke-width="1"/>
<text x="641.13" y="325.20" text-anchor="middle" font-size="10.4" fill="#4D4D4D" font-family="Liberation Sans, sans-serif">4</text>
<line x1="679.05" x2="679.05" y1="311.8" y2="314.90000000000003" stroke="#666" stroke-width="1"/>
<text x="679.05" y="325.20" text-anchor="middle" font-size="10.4" fill="#4D4D4D" font-family="Liberation Sans, sans-serif">5</text>
<text x="582.25" y="339.00" text-anchor="middle" font-size="10.4" fill="#1A1A1A" font-family="Liberation Sans, sans-serif" xml:space="preserve">Expected  − log<tspan font-size="7.3" dy="2.2">10</tspan><tspan dy="-2.2">(P)</tspan></text>
<text transform="translate(462.5,252.35) rotate(-90)" text-anchor="middle" font-size="10.4" fill="#1A1A1A" font-family="Liberation Sans, sans-serif" xml:space="preserve">Observed  − log<tspan font-size="7.3" dy="2.2">10</tspan><tspan dy="-2.2">(P)</tspan></text>
<text x="481.1" y="185.40" font-size="11.2" font-weight="bold" fill="#000" font-family="Liberation Sans, sans-serif">FUA</text>
<rect x="36.4" y="369.4" width="407.1" height="118.90000000000003" fill="#fff"/>
<line x1="36.4" x2="443.5" y1="469.76" y2="469.76" stroke="#EBEBEB" stroke-width="0.5"/>
<line x1="36.4" x2="443.5" y1="442.69" y2="442.69" stroke="#EBEBEB" stroke-width="0.5"/>
<line x1="36.4" x2="443.5" y1="415.61" y2="415.61" stroke="#EBEBEB" stroke-width="0.5"/>
<line x1="36.4" x2="443.5" y1="388.54" y2="388.54" stroke="#EBEBEB" stroke-width="0.5"/>
<line x1="45.70" x2="45.70" y1="369.4" y2="488.3" stroke="#EBEBEB" stroke-width="0.5"/>
<line x1="86.75" x2="86.75" y1="369.4" y2="488.3" stroke="#EBEBEB" stroke-width="0.5"/>
<line x1="125.16" x2="125.16" y1="369.4" y2="488.3" stroke="#EBEBEB" stroke-width="0.5"/>
<line x1="160.39" x2="160.39" y1="369.4" y2="488.3" stroke="#EBEBEB" stroke-width="0.5"/>
<line x1="194.19" x2="194.19" y1="369.4" y2="488.3" stroke="#EBEBEB" stroke-width="0.5"/>
<line x1="226.24" x2="226.24" y1="369.4" y2="488.3" stroke="#EBEBEB" stroke-width="0.5"/>
<line x1="255.38" x2="255.38" y1="369.4" y2="488.3" stroke="#EBEBEB" stroke-width="0.5"/>
<line x1="281.34" x2="281.34" y1="369.4" y2="488.3" stroke="#EBEBEB" stroke-width="0.5"/>
<line x1="305.76" x2="305.76" y1="369.4" y2="488.3" stroke="#EBEBEB" stroke-width="0.5"/>
<line x1="327.88" x2="327.88" y1="369.4" y2="488.3" stroke="#EBEBEB" stroke-width="0.5"/>
<line x1="348.37" x2="348.37" y1="369.4" y2="488.3" stroke="#EBEBEB" stroke-width="0.5"/>
<line x1="367.94" x2="367.94" y1="369.4" y2="488.3" stroke="#EBEBEB" stroke-width="0.5"/>
<line x1="385.28" x2="385.28" y1="369.4" y2="488.3" stroke="#EBEBEB" stroke-width="0.5"/>
<line x1="400.58" x2="400.58" y1="369.4" y2="488.3" stroke="#EBEBEB" stroke-width="0.5"/>
<line x1="414.75" x2="414.75" y1="369.4" y2="488.3" stroke="#EBEBEB" stroke-width="0.5"/>
<line x1="442.32" x2="442.32" y1="369.4" y2="488.3" stroke="#EBEBEB" stroke-width="0.5"/>
<line x1="36.4" x2="443.5" y1="483.30" y2="483.30" stroke="#EBEBEB" stroke-width="1"/>
<line x1="36.4" x2="443.5" y1="456.23" y2="456.23" stroke="#EBEBEB" stroke-width="1"/>
<line x1="36.4" x2="443.5" y1="429.15" y2="429.15" stroke="#EBEBEB" stroke-width="1"/>
<line x1="36.4" x2="443.5" y1="402.08" y2="402.08" stroke="#EBEBEB" stroke-width="1"/>
<line x1="36.4" x2="443.5" y1="375.00" y2="375.00" stroke="#EBEBEB" stroke-width="1"/>
<path d="M53.0,485.0 L53.0,466.5 L54.4,465.0 L55.4,465.5 L56.4,463.0 L57.4,462.4 L58.4,463.0 L59.4,462.1 L60.4,465.4 L61.4,465.2 L62.4,464.9 L63.4,464.2 L64.4,464.9 L65.4,464.5 L66.4,464.2 L67.4,462.0 L68.4,459.5 L69.4,458.4 L70.4,456.6 L71.4,459.5 L72.4,456.0 L73.4,458.0 L74.4,457.7 L75.4,461.8 L76.4,460.5 L77.4,461.5 L78.0,462.0 L78.0,462.0 L78.0,485.0Z" fill="#1B9E77"/><g class="p" fill="#1B9E77" stroke="#1B9E77"><circle cx="54.5" cy="461.9"/><circle cx="68.8" cy="459.6"/><circle cx="64.5" cy="459.9"/><circle cx="72.8" cy="455.2"/><circle cx="54.9" cy="464.7"/><circle cx="54.0" cy="463.9"/><circle cx="54.2" cy="463.7"/><circle cx="68.4" cy="458.3"/><circle cx="61.4" cy="463.2"/><circle cx="62.2" cy="464.0"/><circle cx="67.2" cy="462.4"/><circle cx="64.2" cy="464.7"/><circle cx="65.3" cy="464.3"/><circle cx="69.5" cy="457.8"/><circle cx="55.2" cy="461.1"/><circle cx="75.0" cy="461.5"/><circle cx="65.0" cy="461.6"/><circle cx="73.5" cy="457.6"/><circle cx="59.1" cy="462.5"/><circle cx="76.5" cy="455.3"/><circle cx="77.4" cy="462.0"/><circle cx="68.2" cy="458.5"/><circle cx="69.7" cy="456.5"/><circle cx="69.2" cy="453.8"/><circle cx="66.2" cy="464.3"/><circle cx="70.7" cy="456.5"/><circle cx="61.8" cy="461.6"/><circle cx="68.6" cy="460.1"/><circle cx="70.1" cy="452.8"/><circle cx="74.5" cy="458.7"/><circle cx="73.7" cy="457.7"/><circle cx="61.5" cy="466.3"/><circle cx="55.5" cy="462.4"/><circle cx="66.3" cy="460.7"/><circle cx="54.1" cy="465.5"/><circle cx="59.6" cy="456.8"/><circle cx="77.8" cy="461.8"/><circle cx="69.4" cy="455.0"/><circle cx="74.9" cy="458.7"/><circle cx="66.9" cy="461.5"/><circle cx="71.2" cy="457.5"/><circle cx="72.0" cy="452.6"/><circle cx="55.8" cy="465.2"/><circle cx="70.0" cy="454.2"/><circle cx="64.0" cy="464.9"/><circle cx="60.9" cy="465.3"/><circle cx="61.3" cy="463.2"/><circle cx="62.7" cy="457.0"/><circle cx="72.4" cy="448.9"/><circle cx="76.1" cy="453.2"/><circle cx="56.8" cy="454.1"/><circle cx="77.1" cy="453.0"/><circle cx="60.9" cy="459.6"/><circle cx="68.4" cy="451.8"/><circle cx="57.2" cy="455.5"/><circle cx="64.0" cy="459.2"/><circle cx="68.3" cy="453.3"/><circle cx="74.4" cy="450.9"/><circle cx="56.7" cy="449.2"/><circle cx="68.4" cy="450.3"/><circle cx="74.5" cy="448.1"/><circle cx="75.4" cy="450.8"/><circle cx="59.6" cy="455.1"/><circle cx="62.3" cy="458.9"/><circle cx="71.0" cy="450.8"/></g>
<path d="M76.6,485.0 L76.6,466.8 L78.0,465.3 L79.0,461.2 L80.0,455.7 L81.0,457.4 L82.0,460.7 L83.0,461.2 L84.0,457.1 L85.0,456.0 L86.0,457.9 L87.0,460.1 L88.0,462.8 L89.0,461.4 L90.0,462.7 L91.0,463.1 L92.0,467.3 L93.0,467.4 L94.0,465.1 L95.0,466.1 L96.0,468.1 L97.0,467.0 L98.0,466.0 L98.3,470.0 L98.3,470.0 L98.3,485.0Z" fill="#D95F02"/><g class="p" fill="#D95F02" stroke="#D95F02"><circle cx="81.5" cy="454.9"/><circle cx="89.5" cy="459.7"/><circle cx="81.4" cy="458.2"/><circle cx="93.1" cy="466.7"/><circle cx="95.6" cy="465.2"/><circle cx="97.9" cy="470.0"/><circle cx="97.2" cy="464.5"/><circle cx="98.0" cy="465.1"/><circle cx="87.4" cy="461.7"/><circle cx="86.6" cy="455.5"/><circle cx="78.8" cy="458.8"/><circle cx="84.8" cy="451.9"/><circle cx="89.1" cy="458.2"/><circle cx="94.1" cy="460.4"/><circle cx="91.9" cy="465.8"/><circle cx="86.0" cy="458.3"/><circle cx="85.5" cy="458.4"/><circle cx="85.3" cy="452.7"/><circle cx="80.1" cy="452.4"/><circle cx="97.9" cy="466.9"/><circle cx="85.7" cy="455.6"/><circle cx="96.4" cy="467.3"/><circle cx="98.1" cy="468.8"/><circle cx="86.8" cy="459.7"/><circle cx="88.2" cy="460.4"/><circle cx="84.7" cy="454.3"/><circle cx="82.3" cy="461.6"/><circle cx="96.1" cy="466.1"/><circle cx="81.0" cy="457.7"/><circle cx="96.4" cy="467.5"/><circle cx="85.3" cy="454.9"/><circle cx="89.8" cy="460.3"/><circle cx="96.1" cy="463.9"/><circle cx="81.5" cy="457.5"/><circle cx="85.6" cy="455.9"/><circle cx="80.4" cy="453.8"/><circle cx="90.3" cy="462.3"/><circle cx="93.4" cy="463.0"/><circle cx="92.8" cy="463.1"/><circle cx="88.1" cy="459.1"/><circle cx="97.7" cy="459.9"/><circle cx="85.5" cy="451.3"/><circle cx="81.8" cy="453.7"/><circle cx="97.3" cy="459.7"/><circle cx="93.9" cy="458.2"/><circle cx="94.9" cy="459.5"/><circle cx="89.8" cy="452.2"/><circle cx="84.8" cy="449.2"/><circle cx="88.9" cy="450.4"/><circle cx="80.4" cy="449.3"/><circle cx="83.3" cy="447.0"/><circle cx="91.5" cy="450.3"/><circle cx="97.3" cy="447.0"/><circle cx="97.3" cy="455.1"/><circle cx="97.3" cy="460.0"/></g>
<path d="M96.9,485.0 L96.9,458.8 L98.3,457.3 L99.3,456.5 L100.3,457.0 L101.3,457.1 L102.3,460.7 L103.3,461.1 L104.3,463.0 L105.3,461.0 L106.3,464.3 L107.3,462.3 L108.3,464.5 L109.3,466.4 L110.3,463.3 L111.3,463.8 L112.3,465.6 L113.3,465.6 L114.3,463.6 L115.3,461.7 L116.3,466.2 L116.3,466.2 L116.3,485.0Z" fill="#7570B3"/><g class="p" fill="#7570B3" stroke="#7570B3"><circle cx="110.4" cy="464.1"/><circle cx="100.5" cy="457.2"/><circle cx="116.7" cy="461.6"/><circle cx="110.1" cy="459.4"/><circle cx="106.0" cy="463.5"/><circle cx="102.3" cy="460.4"/><circle cx="112.8" cy="465.0"/><circle cx="109.2" cy="465.4"/><circle cx="107.8" cy="464.5"/><circle cx="103.5" cy="458.6"/><circle cx="110.7" cy="464.4"/><circle cx="101.5" cy="456.9"/><circle cx="101.5" cy="454.4"/><circle cx="99.5" cy="457.4"/><circle cx="98.7" cy="457.5"/><circle cx="105.8" cy="461.1"/><circle cx="102.3" cy="456.3"/><circle cx="98.1" cy="456.9"/><circle cx="104.4" cy="459.1"/><circle cx="99.5" cy="451.5"/><circle cx="110.7" cy="460.7"/><circle cx="104.8" cy="459.5"/><circle cx="100.9" cy="457.2"/><circle cx="113.0" cy="465.7"/><circle cx="114.0" cy="462.5"/><circle cx="111.8" cy="463.2"/><circle cx="112.0" cy="465.3"/><circle cx="106.3" cy="460.8"/><circle cx="98.8" cy="454.9"/><circle cx="103.1" cy="457.2"/><circle cx="112.1" cy="465.2"/><circle cx="108.2" cy="464.0"/><circle cx="111.0" cy="464.3"/><circle cx="113.6" cy="465.0"/><circle cx="110.2" cy="463.4"/><circle cx="101.9" cy="449.9"/><circle cx="104.0" cy="456.5"/><circle cx="109.2" cy="457.0"/><circle cx="116.4" cy="458.8"/><circle cx="116.1" cy="460.0"/><circle cx="113.9" cy="455.2"/><circle cx="107.7" cy="453.1"/><circle cx="100.1" cy="449.4"/><circle cx="102.6" cy="449.2"/><circle cx="110.0" cy="448.1"/><circle cx="113.1" cy="450.3"/><circle cx="106.0" cy="450.3"/><circle cx="113.1" cy="455.1"/><circle cx="107.0" cy="458.9"/><circle cx="110.5" cy="458.9"/></g>
<path d="M114.9,485.0 L114.9,467.4 L116.3,465.9 L117.3,467.3 L118.3,467.1 L119.3,468.0 L120.3,468.9 L121.3,469.4 L122.3,468.1 L123.3,468.7 L124.3,465.1 L125.3,465.1 L126.3,462.6 L127.3,462.7 L128.3,459.7 L129.3,462.5 L130.3,462.8 L131.3,464.6 L132.3,465.2 L133.3,466.2 L134.1,463.3 L134.1,463.3 L134.1,485.0Z" fill="#E7298A"/><g class="p" fill="#E7298A" stroke="#E7298A"><circle cx="116.3" cy="463.2"/><circle cx="125.5" cy="462.7"/><circle cx="119.4" cy="468.9"/><circle cx="121.0" cy="464.4"/><circle cx="126.8" cy="458.5"/><circle cx="124.2" cy="464.8"/><circle cx="123.7" cy="468.8"/><circle cx="128.8" cy="463.6"/><circle cx="118.6" cy="467.8"/><circle cx="127.8" cy="455.1"/><circle cx="123.4" cy="467.5"/><circle cx="124.2" cy="465.2"/><circle cx="127.2" cy="462.2"/><circle cx="118.0" cy="467.7"/><circle cx="122.5" cy="468.1"/><circle cx="116.1" cy="465.7"/><circle cx="134.3" cy="463.9"/><circle cx="117.1" cy="465.0"/><circle cx="115.9" cy="465.3"/><circle cx="116.6" cy="463.6"/><circle cx="124.2" cy="465.9"/><circle cx="118.5" cy="467.2"/><circle cx="130.3" cy="462.9"/><circle cx="120.0" cy="468.9"/><circle cx="125.5" cy="459.7"/><circle cx="116.3" cy="463.8"/><circle cx="124.0" cy="461.1"/><circle cx="118.5" cy="463.1"/><circle cx="116.6" cy="461.7"/><circle cx="121.1" cy="467.9"/><circle cx="123.3" cy="469.6"/><circle cx="116.5" cy="464.5"/><circle cx="123.3" cy="466.0"/><circle cx="129.5" cy="459.3"/><circle cx="128.9" cy="463.6"/><circle cx="130.5" cy="455.7"/><circle cx="126.5" cy="454.3"/><circle cx="115.8" cy="457.5"/><circle cx="119.6" cy="460.8"/><circle cx="122.2" cy="460.4"/><circle cx="131.9" cy="458.6"/><circle cx="119.2" cy="461.3"/><circle cx="132.7" cy="454.0"/><circle cx="123.2" cy="447.6"/><circle cx="119.2" cy="450.3"/><circle cx="128.3" cy="448.6"/><circle cx="128.3" cy="453.5"/><circle cx="131.5" cy="457.3"/></g>
<path d="M132.7,485.0 L132.7,467.3 L134.1,465.8 L135.1,464.6 L136.1,465.3 L137.1,466.4 L138.1,466.9 L139.1,467.4 L140.1,470.0 L141.1,469.0 L142.1,467.0 L143.1,467.1 L144.1,469.0 L145.1,468.7 L146.1,469.7 L147.1,469.8 L148.1,467.7 L149.1,468.0 L150.1,467.4 L151.1,465.6 L152.0,466.3 L152.0,466.3 L152.0,485.0Z" fill="#66A61E"/><g class="p" fill="#66A61E" stroke="#66A61E"><circle cx="133.8" cy="463.1"/><circle cx="138.3" cy="464.8"/><circle cx="143.9" cy="469.3"/><circle cx="149.7" cy="467.2"/><circle cx="135.3" cy="464.0"/><circle cx="148.6" cy="465.4"/><circle cx="145.1" cy="469.8"/><circle cx="144.5" cy="466.8"/><circle cx="136.8" cy="467.2"/><circle cx="148.0" cy="466.5"/><circle cx="134.0" cy="462.4"/><circle cx="149.8" cy="466.3"/><circle cx="140.2" cy="467.3"/><circle cx="147.6" cy="470.2"/><circle cx="138.4" cy="464.3"/><circle cx="139.2" cy="467.8"/><circle cx="140.6" cy="466.2"/><circle cx="151.7" cy="467.0"/><circle cx="148.4" cy="467.1"/><circle cx="140.8" cy="466.2"/><circle cx="140.9" cy="464.7"/><circle cx="152.2" cy="467.2"/><circle cx="136.3" cy="465.3"/><circle cx="136.6" cy="463.1"/><circle cx="145.2" cy="468.7"/><circle cx="147.5" cy="468.3"/><circle cx="146.1" cy="470.5"/><circle cx="137.4" cy="465.7"/><circle cx="138.3" cy="465.6"/><circle cx="140.4" cy="469.4"/><circle cx="137.8" cy="467.6"/><circle cx="136.6" cy="466.1"/><circle cx="144.9" cy="469.2"/><circle cx="152.4" cy="465.9"/><circle cx="140.2" cy="466.0"/><circle cx="138.8" cy="459.9"/><circle cx="137.5" cy="457.7"/><circle cx="145.3" cy="461.0"/><circle cx="147.9" cy="461.2"/><circle cx="143.5" cy="458.6"/><circle cx="139.6" cy="463.6"/><circle cx="148.3" cy="459.4"/><circle cx="151.7" cy="460.1"/><circle cx="142.5" cy="448.1"/><circle cx="140.6" cy="453.5"/><circle cx="148.1" cy="460.6"/></g>
<path d="M150.6,485.0 L150.6,469.8 L152.0,468.3 L153.0,464.5 L154.0,464.4 L155.0,461.1 L156.0,460.7 L157.0,459.8 L158.0,462.5 L159.0,463.3 L160.0,461.7 L161.0,459.6 L162.0,461.1 L163.0,462.0 L164.0,463.7 L165.0,464.4 L166.0,467.4 L167.0,467.7 L168.0,465.3 L169.0,464.2 L169.5,463.7 L169.5,463.7 L169.5,485.0Z" fill="#E6AB02"/><g class="p" fill="#E6AB02" stroke="#E6AB02"><circle cx="155.6" cy="459.0"/><circle cx="151.7" cy="466.7"/><circle cx="151.9" cy="464.1"/><circle cx="166.4" cy="466.6"/><circle cx="166.6" cy="465.5"/><circle cx="160.2" cy="460.9"/><circle cx="165.9" cy="464.6"/><circle cx="157.5" cy="462.6"/><circle cx="156.1" cy="461.4"/><circle cx="156.8" cy="458.3"/><circle cx="164.5" cy="463.5"/><circle cx="160.4" cy="462.2"/><circle cx="164.1" cy="462.4"/><circle cx="164.3" cy="462.3"/><circle cx="161.8" cy="461.0"/><circle cx="157.3" cy="456.7"/><circle cx="167.5" cy="466.2"/><circle cx="157.3" cy="460.3"/><circle cx="154.8" cy="457.1"/><circle cx="163.7" cy="463.3"/><circle cx="169.4" cy="462.1"/><circle cx="156.5" cy="457.2"/><circle cx="162.4" cy="460.8"/><circle cx="158.2" cy="458.7"/><circle cx="152.1" cy="467.5"/><circle cx="155.0" cy="461.5"/><circle cx="158.3" cy="462.6"/><circle cx="164.6" cy="461.6"/><circle cx="158.8" cy="463.5"/><circle cx="153.9" cy="461.1"/><circle cx="158.7" cy="464.0"/><circle cx="157.5" cy="463.1"/><circle cx="165.0" cy="462.1"/><circle cx="159.2" cy="458.8"/><circle cx="151.5" cy="467.8"/><circle cx="169.8" cy="454.7"/><circle cx="166.0" cy="456.1"/><circle cx="156.8" cy="452.8"/><circle cx="160.6" cy="451.9"/><circle cx="163.3" cy="455.9"/><circle cx="160.7" cy="453.5"/><circle cx="159.4" cy="455.4"/><circle cx="169.4" cy="455.2"/><circle cx="167.0" cy="447.6"/><circle cx="154.4" cy="450.8"/><circle cx="158.8" cy="450.8"/><circle cx="159.6" cy="455.1"/><circle cx="157.9" cy="458.9"/></g>
<path d="M168.1,485.0 L168.1,465.6 L169.5,464.1 L170.5,467.9 L171.5,467.2 L172.5,471.0 L173.5,470.4 L174.5,469.8 L175.5,470.8 L176.5,472.8 L177.5,470.1 L178.5,468.2 L179.5,468.5 L180.5,469.0 L181.5,467.9 L182.5,465.4 L183.5,461.3 L184.5,465.7 L185.5,468.6 L186.0,467.2 L186.0,467.2 L186.0,485.0Z" fill="#A6761D"/><g class="p" fill="#A6761D" stroke="#A6761D"><circle cx="176.1" cy="474.3"/><circle cx="176.2" cy="472.5"/><circle cx="185.9" cy="469.5"/><circle cx="183.9" cy="460.4"/><circle cx="179.7" cy="465.4"/><circle cx="185.2" cy="469.0"/><circle cx="177.2" cy="467.2"/><circle cx="171.4" cy="461.9"/><circle cx="180.2" cy="467.8"/><circle cx="177.3" cy="465.3"/><circle cx="182.1" cy="465.5"/><circle cx="185.7" cy="469.2"/><circle cx="173.0" cy="472.2"/><circle cx="177.7" cy="469.7"/><circle cx="171.4" cy="466.4"/><circle cx="169.9" cy="460.9"/><circle cx="185.6" cy="464.1"/><circle cx="185.7" cy="467.3"/><circle cx="183.4" cy="459.7"/><circle cx="171.2" cy="465.2"/><circle cx="186.0" cy="467.0"/><circle cx="181.1" cy="469.1"/><circle cx="183.7" cy="460.7"/><circle cx="186.0" cy="465.2"/><circle cx="186.4" cy="467.9"/><circle cx="180.9" cy="468.6"/><circle cx="174.2" cy="468.6"/><circle cx="173.8" cy="469.4"/><circle cx="179.6" cy="467.0"/><circle cx="186.1" cy="468.2"/><circle cx="185.8" cy="468.1"/><circle cx="180.9" cy="469.3"/><circle cx="180.9" cy="462.5"/><circle cx="172.0" cy="458.9"/><circle cx="174.0" cy="461.0"/><circle cx="177.6" cy="463.0"/><circle cx="171.6" cy="459.6"/><circle cx="184.8" cy="459.3"/><circle cx="179.4" cy="461.9"/><circle cx="182.0" cy="458.1"/><circle cx="172.4" cy="448.6"/><circle cx="172.4" cy="451.4"/><circle cx="181.5" cy="460.0"/><circle cx="185.0" cy="460.0"/></g>
<path d="M184.6,485.0 L184.6,464.5 L186.0,463.0 L187.0,464.0 L188.0,463.9 L189.0,462.8 L190.0,464.3 L191.0,462.6 L192.0,463.4 L193.0,465.8 L194.0,463.2 L195.0,463.5 L196.0,462.2 L197.0,460.6 L198.0,461.8 L199.0,463.0 L200.0,462.9 L201.0,465.2 L202.0,467.2 L202.8,464.6 L202.8,464.6 L202.8,485.0Z" fill="#666666"/><g class="p" fill="#666666" stroke="#666666"><circle cx="195.2" cy="459.3"/><circle cx="189.8" cy="464.0"/><circle cx="190.0" cy="462.8"/><circle cx="189.1" cy="459.9"/><circle cx="196.0" cy="460.1"/><circle cx="188.8" cy="463.1"/><circle cx="186.0" cy="464.1"/><circle cx="187.2" cy="461.2"/><circle cx="201.1" cy="465.7"/><circle cx="186.5" cy="464.7"/><circle cx="201.8" cy="463.6"/><circle cx="192.9" cy="466.0"/><circle cx="195.4" cy="463.3"/><circle cx="202.2" cy="467.3"/><circle cx="192.4" cy="462.3"/><circle cx="199.3" cy="463.7"/><circle cx="187.1" cy="463.9"/><circle cx="197.3" cy="459.6"/><circle cx="197.3" cy="460.4"/><circle cx="195.0" cy="464.1"/><circle cx="187.9" cy="463.2"/><circle cx="195.6" cy="462.2"/><circle cx="195.5" cy="463.2"/><circle cx="197.6" cy="461.2"/><circle cx="200.2" cy="461.2"/><circle cx="189.2" cy="462.1"/><circle cx="193.3" cy="463.8"/><circle cx="201.3" cy="462.3"/><circle cx="187.1" cy="463.8"/><circle cx="199.4" cy="461.4"/><circle cx="193.9" cy="462.5"/><circle cx="186.5" cy="460.3"/><circle cx="190.0" cy="465.1"/><circle cx="192.1" cy="456.5"/><circle cx="187.5" cy="456.6"/><circle cx="194.1" cy="456.5"/><circle cx="201.2" cy="457.3"/><circle cx="186.9" cy="457.2"/><circle cx="201.0" cy="458.1"/><circle cx="188.0" cy="455.5"/><circle cx="198.7" cy="454.1"/><circle cx="185.9" cy="447.6"/><circle cx="187.3" cy="450.3"/><circle cx="192.0" cy="449.2"/><circle cx="192.0" cy="453.5"/><circle cx="188.2" cy="453.0"/><circle cx="198.7" cy="455.7"/><circle cx="201.2" cy="451.9"/></g>
<path d="M201.4,485.0 L201.4,462.4 L202.8,460.9 L203.8,460.1 L204.8,461.3 L205.8,459.7 L206.8,459.5 L207.8,460.3 L208.8,460.2 L209.8,458.6 L210.8,458.5 L211.8,460.3 L212.8,459.4 L213.8,457.8 L214.8,458.3 L215.8,456.6 L216.8,457.0 L217.8,460.4 L218.5,457.7 L218.5,457.7 L218.5,485.0Z" fill="#1B9E77"/><g class="p" fill="#1B9E77" stroke="#1B9E77"><circle cx="213.8" cy="454.4"/><circle cx="213.4" cy="458.0"/><circle cx="207.9" cy="461.2"/><circle cx="207.7" cy="459.0"/><circle cx="203.4" cy="460.6"/><circle cx="212.7" cy="456.9"/><circle cx="216.2" cy="455.7"/><circle cx="213.2" cy="459.5"/><circle cx="207.7" cy="459.9"/><circle cx="218.3" cy="455.3"/><circle cx="211.5" cy="461.1"/><circle cx="206.9" cy="455.5"/><circle cx="209.2" cy="460.5"/><circle cx="212.3" cy="458.8"/><circle cx="215.7" cy="457.0"/><circle cx="211.5" cy="460.1"/><circle cx="203.2" cy="459.0"/><circle cx="204.8" cy="461.0"/><circle cx="206.5" cy="459.1"/><circle cx="210.4" cy="456.8"/><circle cx="211.6" cy="460.0"/><circle cx="202.9" cy="460.6"/><circle cx="209.4" cy="457.8"/><circle cx="216.3" cy="456.3"/><circle cx="202.7" cy="459.7"/><circle cx="214.3" cy="457.7"/><circle cx="203.9" cy="457.5"/><circle cx="214.4" cy="455.6"/><circle cx="211.8" cy="457.7"/><circle cx="204.7" cy="462.1"/><circle cx="207.6" cy="458.8"/><circle cx="210.8" cy="451.1"/><circle cx="206.5" cy="448.3"/><circle cx="213.5" cy="449.8"/><circle cx="204.9" cy="452.3"/><circle cx="203.1" cy="453.1"/><circle cx="217.5" cy="452.5"/><circle cx="216.0" cy="449.9"/><circle cx="203.4" cy="447.0"/><circle cx="211.3" cy="445.9"/><circle cx="215.7" cy="445.9"/><circle cx="218.3" cy="453.0"/></g>
<path d="M217.1,485.0 L217.1,464.6 L218.5,463.1 L219.5,462.0 L220.5,459.9 L221.5,462.6 L222.5,461.7 L223.5,460.0 L224.5,459.0 L225.5,455.0 L226.5,454.0 L227.5,457.6 L228.5,461.8 L229.5,459.4 L230.5,464.6 L231.5,461.5 L232.5,465.3 L233.5,467.7 L233.9,463.7 L233.9,463.7 L233.9,485.0Z" fill="#D95F02"/><g class="p" fill="#D95F02" stroke="#D95F02"><circle cx="228.1" cy="459.3"/><circle cx="218.3" cy="462.5"/><circle cx="223.2" cy="459.9"/><circle cx="223.8" cy="457.6"/><circle cx="233.6" cy="468.8"/><circle cx="230.4" cy="462.1"/><circle cx="224.1" cy="461.4"/><circle cx="232.6" cy="461.0"/><circle cx="228.0" cy="459.9"/><circle cx="223.7" cy="458.7"/><circle cx="225.8" cy="453.8"/><circle cx="233.6" cy="464.1"/><circle cx="233.5" cy="468.6"/><circle cx="228.6" cy="462.3"/><circle cx="229.8" cy="460.1"/><circle cx="232.8" cy="463.6"/><circle cx="221.0" cy="457.0"/><circle cx="228.6" cy="462.9"/><circle cx="224.6" cy="459.6"/><circle cx="218.2" cy="461.3"/><circle cx="224.0" cy="459.3"/><circle cx="227.2" cy="454.4"/><circle cx="223.5" cy="458.5"/><circle cx="223.2" cy="460.5"/><circle cx="233.2" cy="468.1"/><circle cx="223.4" cy="460.2"/><circle cx="226.9" cy="454.0"/><circle cx="218.6" cy="458.8"/><circle cx="218.3" cy="464.1"/><circle cx="218.5" cy="461.9"/><circle cx="224.7" cy="451.7"/><circle cx="219.2" cy="455.9"/><circle cx="219.1" cy="454.8"/><circle cx="223.7" cy="453.6"/><circle cx="228.9" cy="454.7"/><circle cx="229.9" cy="453.0"/><circle cx="233.4" cy="458.4"/><circle cx="221.8" cy="449.2"/><circle cx="225.7" cy="447.6"/><circle cx="227.1" cy="455.1"/></g>
<path d="M232.5,485.0 L232.5,469.8 L233.9,468.3 L234.9,469.0 L235.9,466.8 L236.9,463.9 L237.9,463.1 L238.9,467.2 L239.9,463.3 L240.9,463.3 L241.9,463.9 L242.9,463.5 L243.9,464.9 L244.9,463.3 L245.9,464.2 L246.9,463.1 L247.9,463.0 L248.9,461.9 L249.8,460.9 L249.8,460.9 L249.8,485.0Z" fill="#7570B3"/><g class="p" fill="#7570B3" stroke="#7570B3"><circle cx="244.6" cy="461.2"/><circle cx="238.1" cy="460.8"/><circle cx="249.6" cy="461.8"/><circle cx="237.1" cy="463.6"/><circle cx="238.4" cy="464.6"/><circle cx="241.0" cy="464.3"/><circle cx="250.2" cy="461.5"/><circle cx="242.7" cy="463.4"/><circle cx="249.7" cy="460.7"/><circle cx="247.2" cy="464.1"/><circle cx="242.7" cy="462.6"/><circle cx="240.0" cy="462.8"/><circle cx="248.1" cy="460.7"/><circle cx="238.7" cy="467.3"/><circle cx="240.0" cy="461.0"/><circle cx="243.6" cy="464.9"/><circle cx="239.1" cy="465.2"/><circle cx="245.5" cy="461.2"/><circle cx="237.5" cy="461.3"/><circle cx="244.5" cy="463.8"/><circle cx="248.7" cy="462.5"/><circle cx="241.0" cy="462.9"/><circle cx="246.5" cy="457.4"/><circle cx="250.0" cy="456.1"/><circle cx="244.0" cy="465.7"/><circle cx="236.6" cy="460.3"/><circle cx="233.9" cy="466.3"/><circle cx="241.1" cy="459.4"/><circle cx="245.6" cy="463.3"/><circle cx="238.2" cy="464.2"/><circle cx="234.9" cy="467.9"/><circle cx="241.4" cy="455.7"/><circle cx="240.9" cy="456.2"/><circle cx="248.0" cy="456.7"/><circle cx="233.9" cy="460.0"/><circle cx="234.9" cy="462.5"/><circle cx="245.7" cy="454.3"/><circle cx="240.0" cy="456.7"/><circle cx="235.3" cy="449.2"/><circle cx="242.9" cy="449.2"/><circle cx="246.4" cy="446.5"/><circle cx="242.0" cy="453.5"/><circle cx="235.8" cy="458.4"/></g>
<path d="M248.4,485.0 L248.4,462.3 L249.8,460.8 L250.8,462.1 L251.8,462.5 L252.8,463.1 L253.8,462.2 L254.8,461.4 L255.8,458.1 L256.8,460.4 L257.8,461.2 L258.8,459.3 L259.8,459.4 L260.8,461.0 L261.8,461.6 L262.7,457.1 L262.7,457.1 L262.7,485.0Z" fill="#E7298A"/><g class="p" fill="#E7298A" stroke="#E7298A"><circle cx="258.5" cy="459.9"/><circle cx="261.0" cy="459.8"/><circle cx="250.3" cy="461.5"/><circle cx="251.3" cy="459.7"/><circle cx="251.1" cy="460.4"/><circle cx="253.4" cy="460.6"/><circle cx="250.6" cy="461.7"/><circle cx="252.9" cy="463.5"/><circle cx="255.3" cy="459.5"/><circle cx="259.6" cy="457.6"/><circle cx="252.7" cy="458.0"/><circle cx="254.4" cy="459.5"/><circle cx="256.0" cy="455.8"/><circle cx="253.3" cy="461.4"/><circle cx="250.0" cy="457.9"/><circle cx="256.8" cy="461.3"/><circle cx="255.5" cy="459.2"/><circle cx="252.4" cy="462.7"/><circle cx="256.0" cy="457.7"/><circle cx="251.5" cy="463.1"/><circle cx="256.4" cy="458.8"/><circle cx="253.5" cy="460.2"/><circle cx="252.7" cy="462.5"/><circle cx="259.5" cy="454.0"/><circle cx="250.1" cy="460.8"/><circle cx="253.8" cy="453.1"/><circle cx="258.2" cy="455.1"/><circle cx="258.7" cy="452.1"/><circle cx="250.8" cy="451.9"/><circle cx="263.2" cy="450.6"/><circle cx="262.5" cy="450.8"/><circle cx="252.5" cy="447.6"/><circle cx="252.5" cy="450.8"/><circle cx="262.6" cy="447.6"/><circle cx="257.7" cy="450.8"/><circle cx="262.1" cy="451.4"/></g>
<path d="M261.3,485.0 L261.3,465.2 L262.7,463.7 L263.7,463.1 L264.7,460.0 L265.7,458.2 L266.7,457.7 L267.7,458.9 L268.7,460.9 L269.7,461.2 L270.7,461.5 L271.7,462.9 L272.7,463.8 L273.7,458.4 L274.7,458.5 L275.2,458.8 L275.2,458.8 L275.2,485.0Z" fill="#66A61E"/><g class="p" fill="#66A61E" stroke="#66A61E"><circle cx="270.9" cy="460.2"/><circle cx="268.9" cy="460.9"/><circle cx="269.5" cy="461.9"/><circle cx="271.6" cy="462.8"/><circle cx="263.1" cy="460.3"/><circle cx="275.2" cy="457.3"/><circle cx="271.5" cy="463.5"/><circle cx="273.7" cy="456.8"/><circle cx="262.8" cy="462.1"/><circle cx="269.1" cy="458.6"/><circle cx="267.2" cy="456.7"/><circle cx="267.3" cy="456.8"/><circle cx="264.5" cy="459.8"/><circle cx="274.9" cy="457.2"/><circle cx="266.4" cy="458.2"/><circle cx="274.9" cy="455.1"/><circle cx="268.8" cy="461.2"/><circle cx="270.0" cy="459.8"/><circle cx="268.9" cy="460.1"/><circle cx="272.0" cy="462.9"/><circle cx="274.1" cy="457.6"/><circle cx="274.7" cy="458.5"/><circle cx="267.6" cy="455.8"/><circle cx="271.0" cy="460.2"/><circle cx="272.5" cy="455.3"/><circle cx="274.5" cy="451.0"/><circle cx="265.0" cy="451.9"/><circle cx="265.0" cy="453.2"/><circle cx="266.9" cy="450.5"/><circle cx="275.2" cy="449.7"/><circle cx="269.8" cy="445.9"/><circle cx="269.8" cy="447.6"/><circle cx="269.3" cy="453.5"/><circle cx="272.8" cy="456.2"/></g>
<path d="M273.8,485.0 L273.8,469.4 L275.2,467.9 L276.2,467.8 L277.2,466.9 L278.2,471.0 L279.2,471.4 L280.2,473.3 L281.2,470.4 L282.2,471.6 L283.2,471.0 L284.2,468.4 L285.2,468.2 L286.2,465.8 L287.2,461.2 L287.4,464.0 L287.4,464.0 L287.4,485.0Z" fill="#E6AB02"/><g class="p" fill="#E6AB02" stroke="#E6AB02"><circle cx="278.2" cy="470.0"/><circle cx="283.9" cy="468.9"/><circle cx="280.9" cy="466.4"/><circle cx="276.8" cy="464.4"/><circle cx="285.8" cy="464.7"/><circle cx="280.2" cy="471.3"/><circle cx="284.0" cy="469.0"/><circle cx="283.0" cy="471.1"/><circle cx="275.1" cy="467.3"/><circle cx="282.4" cy="470.8"/><circle cx="287.5" cy="460.4"/><circle cx="278.2" cy="470.9"/><circle cx="284.2" cy="468.1"/><circle cx="279.2" cy="468.4"/><circle cx="280.1" cy="471.8"/><circle cx="287.1" cy="461.8"/><circle cx="279.1" cy="471.6"/><circle cx="279.7" cy="469.8"/><circle cx="277.5" cy="467.8"/><circle cx="287.3" cy="461.9"/><circle cx="282.3" cy="469.0"/><circle cx="274.8" cy="464.2"/><circle cx="286.8" cy="459.5"/><circle cx="279.4" cy="470.7"/><circle cx="284.0" cy="458.8"/><circle cx="282.5" cy="464.1"/><circle cx="280.6" cy="466.1"/><circle cx="282.8" cy="465.2"/><circle cx="279.6" cy="463.9"/><circle cx="277.8" cy="463.9"/><circle cx="276.3" cy="460.6"/></g>
<path d="M286.0,485.0 L286.0,467.7 L287.4,466.2 L288.4,468.1 L289.4,468.3 L290.4,466.1 L291.4,467.3 L292.4,463.6 L293.4,460.5 L294.4,460.4 L295.4,457.7 L296.4,457.8 L297.4,461.3 L298.4,459.4 L299.4,456.6 L300.1,462.0 L300.1,462.0 L300.1,485.0Z" fill="#A6761D"/><g class="p" fill="#A6761D" stroke="#A6761D"><circle cx="298.1" cy="457.2"/><circle cx="299.8" cy="462.6"/><circle cx="297.2" cy="461.6"/><circle cx="296.6" cy="458.2"/><circle cx="298.1" cy="455.2"/><circle cx="291.1" cy="464.4"/><circle cx="287.9" cy="467.0"/><circle cx="288.1" cy="466.1"/><circle cx="295.6" cy="458.5"/><circle cx="292.6" cy="461.5"/><circle cx="296.4" cy="455.7"/><circle cx="293.1" cy="458.1"/><circle cx="299.3" cy="456.0"/><circle cx="290.7" cy="466.0"/><circle cx="298.4" cy="457.9"/><circle cx="297.0" cy="460.0"/><circle cx="296.6" cy="457.9"/><circle cx="296.1" cy="458.4"/><circle cx="296.2" cy="457.5"/><circle cx="300.5" cy="461.1"/><circle cx="291.1" cy="467.3"/><circle cx="296.2" cy="456.7"/><circle cx="287.5" cy="464.4"/><circle cx="295.7" cy="456.3"/><circle cx="287.9" cy="466.9"/><circle cx="293.8" cy="449.8"/><circle cx="289.4" cy="460.5"/><circle cx="299.9" cy="453.7"/><circle cx="293.8" cy="453.0"/><circle cx="298.2" cy="452.5"/><circle cx="292.6" cy="457.3"/><circle cx="285.4" cy="450.8"/><circle cx="290.3" cy="450.8"/><circle cx="288.5" cy="454.1"/><circle cx="294.7" cy="456.2"/><circle cx="292.0" cy="458.4"/></g>
<path d="M298.7,485.0 L298.7,468.5 L300.1,467.0 L301.1,466.7 L302.1,465.8 L303.1,463.7 L304.1,462.5 L305.1,460.6 L306.1,460.6 L307.1,464.1 L308.1,464.0 L309.1,464.2 L310.1,462.1 L311.1,462.2 L312.1,464.1 L312.2,461.1 L312.2,461.1 L312.2,485.0Z" fill="#666666"/><g class="p" fill="#666666" stroke="#666666"><circle cx="300.4" cy="466.7"/><circle cx="305.8" cy="461.7"/><circle cx="309.3" cy="464.0"/><circle cx="311.8" cy="464.8"/><circle cx="311.7" cy="457.7"/><circle cx="308.4" cy="463.8"/><circle cx="301.8" cy="464.4"/><circle cx="300.4" cy="465.1"/><circle cx="303.3" cy="464.6"/><circle cx="300.9" cy="466.4"/><circle cx="299.9" cy="467.0"/><circle cx="303.2" cy="463.4"/><circle cx="310.8" cy="459.8"/><circle cx="302.5" cy="464.8"/><circle cx="306.3" cy="456.6"/><circle cx="303.7" cy="461.2"/><circle cx="312.1" cy="457.3"/><circle cx="303.9" cy="460.9"/><circle cx="308.6" cy="463.3"/><circle cx="302.3" cy="461.5"/><circle cx="305.8" cy="460.2"/><circle cx="310.9" cy="461.6"/><circle cx="304.4" cy="462.9"/><circle cx="303.3" cy="463.8"/><circle cx="301.7" cy="459.2"/><circle cx="301.8" cy="457.4"/><circle cx="300.7" cy="459.3"/><circle cx="302.4" cy="459.4"/><circle cx="307.4" cy="456.8"/><circle cx="311.4" cy="455.8"/><circle cx="305.2" cy="448.1"/><circle cx="311.3" cy="448.1"/><circle cx="304.3" cy="450.8"/><circle cx="306.9" cy="450.3"/><circle cx="311.3" cy="454.6"/><circle cx="304.0" cy="454.6"/></g>
<path d="M310.8,485.0 L310.8,465.4 L312.2,463.9 L313.2,463.9 L314.2,465.0 L315.2,464.3 L316.2,462.0 L317.2,462.9 L318.2,462.9 L319.2,461.2 L320.2,463.9 L321.2,463.4 L322.2,462.4 L323.2,466.9 L323.4,465.7 L323.4,465.7 L323.4,485.0Z" fill="#1B9E77"/><g class="p" fill="#1B9E77" stroke="#1B9E77"><circle cx="318.7" cy="463.8"/><circle cx="316.5" cy="459.9"/><circle cx="321.2" cy="463.4"/><circle cx="311.9" cy="463.5"/><circle cx="317.8" cy="461.6"/><circle cx="319.4" cy="460.7"/><circle cx="317.9" cy="463.7"/><circle cx="312.2" cy="464.4"/><circle cx="319.3" cy="461.8"/><circle cx="316.9" cy="461.1"/><circle cx="322.0" cy="462.4"/><circle cx="315.1" cy="459.0"/><circle cx="320.4" cy="462.2"/><circle cx="319.2" cy="457.0"/><circle cx="315.7" cy="464.4"/><circle cx="318.0" cy="461.6"/><circle cx="316.0" cy="460.6"/><circle cx="318.0" cy="461.7"/><circle cx="317.6" cy="463.7"/><circle cx="314.6" cy="461.9"/><circle cx="321.5" cy="462.6"/><circle cx="311.9" cy="463.9"/><circle cx="319.8" cy="457.7"/><circle cx="312.3" cy="456.9"/><circle cx="313.8" cy="459.0"/><circle cx="316.4" cy="450.5"/><circle cx="320.8" cy="454.1"/><circle cx="319.2" cy="449.2"/><circle cx="314.8" cy="453.5"/><circle cx="322.3" cy="453.5"/></g>
<path d="M322.0,485.0 L322.0,462.0 L323.4,460.5 L324.4,462.0 L325.4,461.7 L326.4,461.5 L327.4,463.0 L328.4,460.5 L329.4,462.1 L330.4,465.2 L331.4,466.4 L332.4,465.4 L333.2,464.1 L333.2,464.1 L333.2,485.0Z" fill="#D95F02"/><g class="p" fill="#D95F02" stroke="#D95F02"><circle cx="327.3" cy="461.2"/><circle cx="327.0" cy="461.0"/><circle cx="323.9" cy="462.4"/><circle cx="325.1" cy="459.9"/><circle cx="331.8" cy="465.6"/><circle cx="328.9" cy="459.7"/><circle cx="324.0" cy="462.8"/><circle cx="328.6" cy="460.3"/><circle cx="326.2" cy="456.1"/><circle cx="328.7" cy="455.7"/><circle cx="329.8" cy="459.0"/><circle cx="331.8" cy="466.6"/><circle cx="330.1" cy="463.8"/><circle cx="330.1" cy="464.9"/><circle cx="330.4" cy="464.9"/><circle cx="332.3" cy="461.3"/><circle cx="328.3" cy="460.3"/><circle cx="331.1" cy="466.3"/><circle cx="333.3" cy="464.1"/><circle cx="329.7" cy="455.0"/><circle cx="327.2" cy="454.5"/><circle cx="333.4" cy="453.2"/><circle cx="328.0" cy="451.7"/><circle cx="328.0" cy="452.4"/><circle cx="324.4" cy="453.5"/></g>
<path d="M331.8,485.0 L331.8,466.0 L333.2,464.5 L334.2,464.7 L335.2,464.0 L336.2,462.0 L337.2,464.7 L338.2,462.4 L339.2,462.9 L340.2,463.9 L341.2,464.9 L342.2,466.4 L342.7,462.1 L342.7,462.1 L342.7,485.0Z" fill="#7570B3"/><g class="p" fill="#7570B3" stroke="#7570B3"><circle cx="342.4" cy="466.4"/><circle cx="334.7" cy="463.8"/><circle cx="335.1" cy="461.2"/><circle cx="337.7" cy="463.5"/><circle cx="336.6" cy="461.0"/><circle cx="337.0" cy="464.4"/><circle cx="335.8" cy="461.0"/><circle cx="342.5" cy="466.4"/><circle cx="333.1" cy="463.3"/><circle cx="335.6" cy="463.7"/><circle cx="338.1" cy="461.2"/><circle cx="333.8" cy="465.2"/><circle cx="333.1" cy="462.4"/><circle cx="339.3" cy="460.5"/><circle cx="335.0" cy="461.4"/><circle cx="335.9" cy="459.5"/><circle cx="338.8" cy="464.0"/><circle cx="338.6" cy="457.5"/><circle cx="334.0" cy="464.8"/><circle cx="341.7" cy="459.5"/><circle cx="338.4" cy="455.3"/><circle cx="340.5" cy="457.3"/><circle cx="342.3" cy="459.7"/><circle cx="339.3" cy="449.7"/><circle cx="339.3" cy="451.9"/></g>
<path d="M341.3,485.0 L341.3,468.9 L342.7,467.4 L343.7,467.1 L344.7,467.3 L345.7,466.7 L346.7,466.4 L347.7,463.8 L348.7,467.3 L349.7,466.1 L350.7,465.3 L351.7,466.7 L352.7,469.1 L353.4,468.3 L353.4,468.3 L353.4,485.0Z" fill="#E7298A"/><g class="p" fill="#E7298A" stroke="#E7298A"><circle cx="349.4" cy="466.9"/><circle cx="350.9" cy="466.4"/><circle cx="351.8" cy="463.0"/><circle cx="346.4" cy="467.5"/><circle cx="344.7" cy="463.9"/><circle cx="345.5" cy="467.1"/><circle cx="343.3" cy="462.7"/><circle cx="343.9" cy="467.2"/><circle cx="351.1" cy="462.4"/><circle cx="350.7" cy="462.3"/><circle cx="349.1" cy="467.1"/><circle cx="350.9" cy="462.8"/><circle cx="348.8" cy="463.4"/><circle cx="353.3" cy="468.8"/><circle cx="342.5" cy="464.4"/><circle cx="353.7" cy="466.7"/><circle cx="347.9" cy="463.7"/><circle cx="344.9" cy="467.7"/><circle cx="350.6" cy="464.0"/><circle cx="347.9" cy="464.7"/><circle cx="350.0" cy="467.3"/><circle cx="343.9" cy="460.8"/><circle cx="346.2" cy="460.2"/><circle cx="347.3" cy="457.1"/><circle cx="346.6" cy="455.1"/><circle cx="350.6" cy="458.8"/><circle cx="344.0" cy="458.9"/></g>
<path d="M352.0,485.0 L352.0,465.1 L353.4,463.6 L354.4,464.2 L355.4,463.8 L356.4,466.2 L357.4,462.5 L358.4,464.5 L359.4,464.7 L360.4,464.2 L361.4,464.9 L362.4,461.4 L363.4,467.7 L364.1,469.8 L364.1,469.8 L364.1,485.0Z" fill="#66A61E"/><g class="p" fill="#66A61E" stroke="#66A61E"><circle cx="361.2" cy="460.8"/><circle cx="359.5" cy="464.4"/><circle cx="356.3" cy="466.7"/><circle cx="361.0" cy="465.2"/><circle cx="358.0" cy="463.1"/><circle cx="355.4" cy="464.7"/><circle cx="361.4" cy="465.2"/><circle cx="364.5" cy="469.6"/><circle cx="356.7" cy="463.0"/><circle cx="363.0" cy="465.0"/><circle cx="360.0" cy="462.9"/><circle cx="362.7" cy="458.3"/><circle cx="363.5" cy="468.3"/><circle cx="362.5" cy="461.9"/><circle cx="353.3" cy="464.5"/><circle cx="364.4" cy="469.4"/><circle cx="356.4" cy="462.2"/><circle cx="358.5" cy="462.7"/><circle cx="361.9" cy="464.8"/><circle cx="363.4" cy="468.2"/><circle cx="360.3" cy="461.6"/><circle cx="356.8" cy="454.7"/><circle cx="359.4" cy="456.9"/><circle cx="355.2" cy="457.3"/><circle cx="354.7" cy="457.9"/><circle cx="361.8" cy="458.8"/><circle cx="354.0" cy="449.2"/><circle cx="356.7" cy="450.8"/><circle cx="354.0" cy="453.5"/><circle cx="355.2" cy="456.2"/><circle cx="359.7" cy="457.8"/><circle cx="362.0" cy="457.3"/></g>
<path d="M362.7,485.0 L362.7,467.7 L364.1,466.2 L365.1,466.0 L366.1,470.1 L367.1,469.0 L368.1,470.0 L369.1,470.0 L370.1,469.3 L371.1,469.9 L372.1,469.9 L373.1,470.1 L373.2,468.3 L373.2,468.3 L373.2,485.0Z" fill="#E6AB02"/><g class="p" fill="#E6AB02" stroke="#E6AB02"><circle cx="371.8" cy="469.2"/><circle cx="369.3" cy="469.0"/><circle cx="368.7" cy="468.8"/><circle cx="373.6" cy="465.8"/><circle cx="372.8" cy="470.6"/><circle cx="372.0" cy="468.8"/><circle cx="368.6" cy="468.0"/><circle cx="373.5" cy="468.0"/><circle cx="363.9" cy="466.4"/><circle cx="366.4" cy="469.3"/><circle cx="371.1" cy="470.8"/><circle cx="373.6" cy="468.9"/><circle cx="370.2" cy="468.2"/><circle cx="370.6" cy="468.4"/><circle cx="363.8" cy="466.8"/><circle cx="371.3" cy="469.2"/><circle cx="371.4" cy="468.6"/><circle cx="367.2" cy="468.3"/><circle cx="367.4" cy="462.8"/><circle cx="371.1" cy="461.0"/><circle cx="372.8" cy="461.8"/><circle cx="366.5" cy="463.6"/><circle cx="367.8" cy="456.2"/><circle cx="371.1" cy="458.4"/><circle cx="366.6" cy="459.5"/></g>
<path d="M371.8,485.0 L371.8,462.8 L373.2,461.3 L374.2,462.4 L375.2,460.3 L376.2,458.9 L377.2,457.6 L378.2,458.0 L379.2,461.4 L380.2,461.2 L381.0,460.7 L381.0,460.7 L381.0,485.0Z" fill="#A6761D"/><g class="p" fill="#A6761D" stroke="#A6761D"><circle cx="372.9" cy="462.2"/><circle cx="379.5" cy="459.8"/><circle cx="378.8" cy="457.8"/><circle cx="373.2" cy="461.2"/><circle cx="372.8" cy="461.0"/><circle cx="380.9" cy="458.4"/><circle cx="377.6" cy="457.3"/><circle cx="379.5" cy="458.5"/><circle cx="379.6" cy="458.2"/><circle cx="378.2" cy="457.3"/><circle cx="379.6" cy="462.0"/><circle cx="373.2" cy="461.9"/><circle cx="374.4" cy="458.4"/><circle cx="373.5" cy="459.9"/><circle cx="375.8" cy="459.4"/><circle cx="378.0" cy="450.3"/><circle cx="379.0" cy="455.0"/><circle cx="375.8" cy="450.3"/><circle cx="374.6" cy="449.2"/><circle cx="371.1" cy="450.8"/><circle cx="379.2" cy="450.8"/><circle cx="375.2" cy="453.5"/><circle cx="377.2" cy="455.1"/></g>
<path d="M379.6,485.0 L379.6,467.6 L381.0,466.1 L382.0,463.5 L383.0,462.7 L384.0,462.6 L385.0,459.4 L386.0,459.8 L387.0,461.1 L388.0,459.3 L389.0,458.0 L390.0,458.4 L390.3,458.6 L390.3,458.6 L390.3,485.0Z" fill="#666666"/><g class="p" fill="#666666" stroke="#666666"><circle cx="381.2" cy="466.6"/><circle cx="381.1" cy="467.1"/><circle cx="382.1" cy="463.9"/><circle cx="388.3" cy="455.4"/><circle cx="388.6" cy="458.7"/><circle cx="385.7" cy="457.2"/><circle cx="382.8" cy="460.9"/><circle cx="383.7" cy="463.2"/><circle cx="387.9" cy="456.2"/><circle cx="387.8" cy="458.0"/><circle cx="387.9" cy="457.7"/><circle cx="383.6" cy="462.9"/><circle cx="388.1" cy="459.4"/><circle cx="382.1" cy="463.7"/><circle cx="384.9" cy="456.3"/><circle cx="385.7" cy="457.9"/><circle cx="384.2" cy="463.1"/><circle cx="386.1" cy="459.9"/><circle cx="384.6" cy="449.5"/><circle cx="386.6" cy="451.4"/><circle cx="381.7" cy="456.1"/><circle cx="388.4" cy="452.8"/><circle cx="384.5" cy="447.6"/><circle cx="381.0" cy="453.5"/><circle cx="384.8" cy="454.1"/><circle cx="388.3" cy="455.1"/></g>
<path d="M388.9,485.0 L388.9,464.3 L390.3,462.8 L391.3,462.8 L392.3,459.0 L393.3,459.2 L394.3,460.4 L395.3,460.8 L396.3,462.5 L396.6,464.3 L396.6,464.3 L396.6,485.0Z" fill="#1B9E77"/><g class="p" fill="#1B9E77" stroke="#1B9E77"><circle cx="393.0" cy="458.4"/><circle cx="395.3" cy="461.0"/><circle cx="396.7" cy="464.8"/><circle cx="396.5" cy="463.5"/><circle cx="396.6" cy="461.5"/><circle cx="391.4" cy="463.0"/><circle cx="395.6" cy="459.1"/><circle cx="395.6" cy="461.9"/><circle cx="390.8" cy="460.0"/><circle cx="395.7" cy="460.6"/><circle cx="394.1" cy="458.4"/><circle cx="392.8" cy="454.2"/><circle cx="390.4" cy="455.5"/><circle cx="389.9" cy="455.0"/><circle cx="396.1" cy="457.5"/><circle cx="390.9" cy="447.6"/><circle cx="395.0" cy="448.6"/><circle cx="390.9" cy="450.8"/><circle cx="390.9" cy="453.5"/><circle cx="393.1" cy="457.8"/></g>
<path d="M395.2,485.0 L395.2,462.4 L396.6,460.9 L397.6,462.7 L398.6,459.6 L399.6,462.0 L400.6,463.5 L401.6,461.2 L402.6,462.8 L403.6,459.7 L404.3,461.7 L404.3,461.7 L404.3,485.0Z" fill="#D95F02"/><g class="p" fill="#D95F02" stroke="#D95F02"><circle cx="399.5" cy="461.1"/><circle cx="399.5" cy="460.6"/><circle cx="398.1" cy="458.0"/><circle cx="399.8" cy="459.5"/><circle cx="404.5" cy="462.4"/><circle cx="403.4" cy="460.4"/><circle cx="400.4" cy="463.0"/><circle cx="396.5" cy="460.1"/><circle cx="401.8" cy="459.5"/><circle cx="397.8" cy="461.3"/><circle cx="399.1" cy="457.9"/><circle cx="398.2" cy="454.6"/><circle cx="397.5" cy="460.9"/><circle cx="397.8" cy="462.0"/><circle cx="401.6" cy="455.8"/><circle cx="401.2" cy="454.0"/><circle cx="403.4" cy="453.3"/><circle cx="400.0" cy="452.8"/><circle cx="398.4" cy="447.0"/><circle cx="402.2" cy="447.6"/><circle cx="403.5" cy="446.5"/><circle cx="399.2" cy="450.8"/><circle cx="402.2" cy="450.8"/></g>
<path d="M402.9,485.0 L402.9,465.9 L404.3,464.4 L405.3,464.1 L406.3,461.3 L407.3,460.5 L408.3,462.0 L409.3,463.2 L410.3,464.1 L411.1,464.8 L411.1,464.8 L411.1,485.0Z" fill="#7570B3"/><g class="p" fill="#7570B3" stroke="#7570B3"><circle cx="410.9" cy="464.1"/><circle cx="409.6" cy="462.3"/><circle cx="407.5" cy="459.5"/><circle cx="408.0" cy="456.4"/><circle cx="407.9" cy="462.9"/><circle cx="407.4" cy="458.8"/><circle cx="409.0" cy="462.8"/><circle cx="407.3" cy="458.4"/><circle cx="404.1" cy="463.6"/><circle cx="407.6" cy="460.6"/><circle cx="407.7" cy="457.8"/><circle cx="406.9" cy="460.5"/><circle cx="404.1" cy="464.5"/><circle cx="407.6" cy="452.2"/><circle cx="406.2" cy="455.4"/><circle cx="404.9" cy="452.8"/><circle cx="409.8" cy="453.5"/></g>
<path d="M409.7,485.0 L409.7,467.1 L411.1,465.6 L412.1,463.0 L413.1,460.6 L414.1,457.9 L415.1,460.9 L416.1,458.7 L417.1,459.5 L418.0,462.7 L418.0,462.7 L418.0,485.0Z" fill="#E7298A"/><g class="p" fill="#E7298A" stroke="#E7298A"><circle cx="416.0" cy="454.5"/><circle cx="414.5" cy="453.5"/><circle cx="417.1" cy="459.2"/><circle cx="414.3" cy="456.8"/><circle cx="415.8" cy="456.5"/><circle cx="416.9" cy="456.6"/><circle cx="412.7" cy="462.4"/><circle cx="416.5" cy="459.9"/><circle cx="414.9" cy="460.4"/><circle cx="413.3" cy="460.9"/><circle cx="413.3" cy="459.9"/><circle cx="414.3" cy="454.0"/><circle cx="414.0" cy="454.1"/><circle cx="417.5" cy="454.5"/><circle cx="417.6" cy="455.6"/><circle cx="415.1" cy="450.4"/><circle cx="411.4" cy="450.8"/><circle cx="415.2" cy="448.6"/><circle cx="415.5" cy="456.2"/><circle cx="419.0" cy="456.2"/></g>
<path d="M416.6,485.0 L416.6,467.4 L418.0,465.9 L419.0,465.1 L420.0,465.7 L421.0,464.8 L422.0,464.9 L423.0,466.9 L424.0,468.0 L425.0,468.1 L425.6,470.5 L425.6,470.5 L425.6,485.0Z" fill="#66A61E"/><g class="p" fill="#66A61E" stroke="#66A61E"><circle cx="417.7" cy="464.9"/><circle cx="422.2" cy="465.6"/><circle cx="425.1" cy="462.3"/><circle cx="422.3" cy="464.0"/><circle cx="422.0" cy="465.0"/><circle cx="422.2" cy="465.7"/><circle cx="422.3" cy="465.5"/><circle cx="421.2" cy="464.3"/><circle cx="421.2" cy="465.2"/><circle cx="419.9" cy="465.5"/><circle cx="422.8" cy="467.7"/><circle cx="424.7" cy="465.5"/><circle cx="420.6" cy="464.5"/><circle cx="418.9" cy="465.9"/><circle cx="424.4" cy="464.4"/><circle cx="423.5" cy="456.5"/><circle cx="424.7" cy="459.7"/><circle cx="425.4" cy="461.3"/></g>
<circle cx="262.10" cy="412.36" r="1.3" fill="#D4257E" stroke="#D4257E" stroke-width="0.4"/>
<circle cx="384.90" cy="373.92" r="1.3" fill="#5D5D5D" stroke="#5D5D5D" stroke-width="0.4"/>
<circle cx="398.40" cy="412.36" r="1.3" fill="#C75701" stroke="#C75701" stroke-width="0.4"/>
<line x1="36.4" x2="443.5" y1="412.85" y2="412.85" stroke="#FF0000" stroke-opacity="0.62" stroke-width="1.55" stroke-dasharray="3.7 2.96" stroke-dashoffset="0.1"/>
<rect x="36.4" y="369.4" width="407.1" height="118.90000000000003" fill="none" stroke="#7A7A7A" stroke-width="1.2"/>
<line x1="33.3" x2="36.4" y1="483.30" y2="483.30" stroke="#666" stroke-width="1"/>
<text x="30.8" y="487.05" text-anchor="end" font-size="10.4" fill="#4D4D4D" font-family="Liberation Sans, sans-serif">0.0</text>
<line x1="33.3" x2="36.4" y1="456.23" y2="456.23" stroke="#666" stroke-width="1"/>
<text x="30.8" y="459.98" text-anchor="end" font-size="10.4" fill="#4D4D4D" font-family="Liberation Sans, sans-serif">0.5</text>
<line x1="33.3" x2="36.4" y1="429.15" y2="429.15" stroke="#666" stroke-width="1"/>
<text x="30.8" y="432.90" text-anchor="end" font-size="10.4" fill="#4D4D4D" font-family="Liberation Sans, sans-serif">1.0</text>
<line x1="33.3" x2="36.4" y1="402.08" y2="402.08" stroke="#666" stroke-width="1"/>
<text x="30.8" y="405.83" text-anchor="end" font-size="10.4" fill="#4D4D4D" font-family="Liberation Sans, sans-serif">1.5</text>
<line x1="33.3" x2="36.4" y1="375.00" y2="375.00" stroke="#666" stroke-width="1"/>
<text x="30.8" y="378.75" text-anchor="end" font-size="10.4" fill="#4D4D4D" font-family="Liberation Sans, sans-serif">2.0</text>
<line x1="66.23" x2="66.23" y1="488.3" y2="491.40000000000003" stroke="#666" stroke-width="1"/>
<text x="66.23" y="501.70" text-anchor="middle" font-size="10.4" fill="#4D4D4D" font-family="Liberation Sans, sans-serif">1</text>
<line x1="107.28" x2="107.28" y1="488.3" y2="491.40000000000003" stroke="#666" stroke-width="1"/>
<text x="107.28" y="501.70" text-anchor="middle" font-size="10.4" fill="#4D4D4D" font-family="Liberation Sans, sans-serif">3</text>
<line x1="143.05" x2="143.05" y1="488.3" y2="491.40000000000003" stroke="#666" stroke-width="1"/>
<text x="143.05" y="501.70" text-anchor="middle" font-size="10.4" fill="#4D4D4D" font-family="Liberation Sans, sans-serif">5</text>
<line x1="177.73" x2="177.73" y1="488.3" y2="491.40000000000003" stroke="#666" stroke-width="1"/>
<text x="177.73" y="501.70" text-anchor="middle" font-size="10.4" fill="#4D4D4D" font-family="Liberation Sans, sans-serif">7</text>
<line x1="210.65" x2="210.65" y1="488.3" y2="491.40000000000003" stroke="#666" stroke-width="1"/>
<text x="210.65" y="501.70" text-anchor="middle" font-size="10.4" fill="#4D4D4D" font-family="Liberation Sans, sans-serif">9</text>
<line x1="241.82" x2="241.82" y1="488.3" y2="491.40000000000003" stroke="#666" stroke-width="1"/>
<text x="241.82" y="501.70" text-anchor="middle" font-size="10.4" fill="#4D4D4D" font-family="Liberation Sans, sans-serif">11</text>
<line x1="268.95" x2="268.95" y1="488.3" y2="491.40000000000003" stroke="#666" stroke-width="1"/>
<text x="268.95" y="501.70" text-anchor="middle" font-size="10.4" fill="#4D4D4D" font-family="Liberation Sans, sans-serif">13</text>
<line x1="293.73" x2="293.73" y1="488.3" y2="491.40000000000003" stroke="#666" stroke-width="1"/>
<text x="293.73" y="501.70" text-anchor="middle" font-size="10.4" fill="#4D4D4D" font-family="Liberation Sans, sans-serif">15</text>
<line x1="317.79" x2="317.79" y1="488.3" y2="491.40000000000003" stroke="#666" stroke-width="1"/>
<text x="317.79" y="501.70" text-anchor="middle" font-size="10.4" fill="#4D4D4D" font-family="Liberation Sans, sans-serif">17</text>
<line x1="337.97" x2="337.97" y1="488.3" y2="491.40000000000003" stroke="#666" stroke-width="1"/>
<text x="337.97" y="501.70" text-anchor="middle" font-size="10.4" fill="#4D4D4D" font-family="Liberation Sans, sans-serif">19</text>
<line x1="358.76" x2="358.76" y1="488.3" y2="491.40000000000003" stroke="#666" stroke-width="1"/>
<text x="358.76" y="501.70" text-anchor="middle" font-size="10.4" fill="#4D4D4D" font-family="Liberation Sans, sans-serif">21</text>
<line x1="377.12" x2="377.12" y1="488.3" y2="491.40000000000003" stroke="#666" stroke-width="1"/>
<text x="377.12" y="501.70" text-anchor="middle" font-size="10.4" fill="#4D4D4D" font-family="Liberation Sans, sans-serif">23</text>
<line x1="393.44" x2="393.44" y1="488.3" y2="491.40000000000003" stroke="#666" stroke-width="1"/>
<text x="393.44" y="501.70" text-anchor="middle" font-size="10.4" fill="#4D4D4D" font-family="Liberation Sans, sans-serif">25</text>
<line x1="407.72" x2="407.72" y1="488.3" y2="491.40000000000003" stroke="#666" stroke-width="1"/>
<text x="407.72" y="501.70" text-anchor="middle" font-size="10.4" fill="#4D4D4D" font-family="Liberation Sans, sans-serif">27</text>
<line x1="421.79" x2="421.79" y1="488.3" y2="491.40000000000003" stroke="#666" stroke-width="1"/>
<text x="421.79" y="501.70" text-anchor="middle" font-size="10.4" fill="#4D4D4D" font-family="Liberation Sans, sans-serif">29</text>
<text x="239.95" y="514.00" text-anchor="middle" font-size="10.4" fill="#1A1A1A" font-family="Liberation Sans, sans-serif">Chromosome</text>
<text transform="translate(9.7,428.85) rotate(-90)" text-anchor="middle" font-size="10.3" fill="#000" font-family="Liberation Sans, sans-serif">−<tspan dx="2.4">log</tspan><tspan font-size="7.3" dy="2.2">10</tspan><tspan dy="-2.2">(FDR)</tspan></text>
<text x="36.6" y="361.90" font-size="11.2" font-weight="bold" fill="#000" font-family="Liberation Sans, sans-serif">RLSV</text>
<rect x="480.8" y="369.4" width="202.90000000000003" height="118.90000000000003" fill="#fff"/>
<line x1="480.8" x2="683.7" y1="466.81" y2="466.81" stroke="#EBEBEB" stroke-width="0.5"/>
<line x1="480.8" x2="683.7" y1="434.03" y2="434.03" stroke="#EBEBEB" stroke-width="0.5"/>
<line x1="480.8" x2="683.7" y1="401.25" y2="401.25" stroke="#EBEBEB" stroke-width="0.5"/>
<line x1="508.41" x2="508.41" y1="369.4" y2="488.3" stroke="#EBEBEB" stroke-width="0.5"/>
<line x1="546.33" x2="546.33" y1="369.4" y2="488.3" stroke="#EBEBEB" stroke-width="0.5"/>
<line x1="584.25" x2="584.25" y1="369.4" y2="488.3" stroke="#EBEBEB" stroke-width="0.5"/>
<line x1="622.17" x2="622.17" y1="369.4" y2="488.3" stroke="#EBEBEB" stroke-width="0.5"/>
<line x1="660.09" x2="660.09" y1="369.4" y2="488.3" stroke="#EBEBEB" stroke-width="0.5"/>
<line x1="480.8" x2="683.7" y1="483.20" y2="483.20" stroke="#EBEBEB" stroke-width="1"/>
<line x1="480.8" x2="683.7" y1="450.42" y2="450.42" stroke="#EBEBEB" stroke-width="1"/>
<line x1="480.8" x2="683.7" y1="417.64" y2="417.64" stroke="#EBEBEB" stroke-width="1"/>
<line x1="480.8" x2="683.7" y1="384.86" y2="384.86" stroke="#EBEBEB" stroke-width="1"/>
<line x1="489.45" x2="489.45" y1="369.4" y2="488.3" stroke="#EBEBEB" stroke-width="1"/>
<line x1="527.37" x2="527.37" y1="369.4" y2="488.3" stroke="#EBEBEB" stroke-width="1"/>
<line x1="565.29" x2="565.29" y1="369.4" y2="488.3" stroke="#EBEBEB" stroke-width="1"/>
<line x1="603.21" x2="603.21" y1="369.4" y2="488.3" stroke="#EBEBEB" stroke-width="1"/>
<line x1="641.13" x2="641.13" y1="369.4" y2="488.3" stroke="#EBEBEB" stroke-width="1"/>
<line x1="679.05" x2="679.05" y1="369.4" y2="488.3" stroke="#EBEBEB" stroke-width="1"/>
<clipPath id="qc2"><rect x="480.8" y="369.4" width="202.90000000000003" height="118.90000000000003"/></clipPath>
<line clip-path="url(#qc2)" x1="470.49" y1="491.39" x2="698.01" y2="393.05" stroke="#FF0000" stroke-width="1.2" stroke-dasharray="3.2 3.5" stroke-dashoffset="3.2"/>
<polyline points="577.4,436.1 575.5,437.2 573.6,438.3 571.7,439.4 569.8,440.5 567.9,441.6 566.0,442.7 564.2,443.7 562.3,444.7 560.4,445.6 558.5,446.6 556.6,447.6 554.7,448.6 552.8,449.6 550.9,450.6 549.0,451.5 547.1,452.5 545.2,453.5 543.3,454.5 541.4,455.5 539.5,456.5 537.6,457.4 535.7,458.4 533.8,459.4 531.9,460.4 530.0,461.4 528.1,462.4 526.2,463.4 524.3,464.4 522.4,465.4 520.5,466.4 518.6,467.5 516.8,468.5 514.9,469.5 513.0,470.5 511.1,471.5 509.2,472.6 507.3,473.6 505.4,474.6 503.5,475.6 501.6,476.7 499.7,477.7 497.8,478.7 495.9,479.7 494.0,480.7 492.1,481.8 490.2,482.8 489.4,483.2" fill="none" stroke="#000" stroke-width="3.2" stroke-linecap="round" stroke-linejoin="round"/>
<g fill="#000"><circle cx="674.9" cy="375.0" r="1.4"/><circle cx="656.8" cy="393.1" r="1.4"/><circle cx="648.4" cy="394.3" r="1.4"/><circle cx="642.8" cy="408.5" r="1.4"/><circle cx="638.7" cy="409.0" r="1.4"/><circle cx="635.4" cy="410.9" r="1.4"/><circle cx="632.6" cy="411.4" r="1.4"/><circle cx="630.3" cy="411.6" r="1.4"/><circle cx="628.2" cy="413.7" r="1.4"/><circle cx="626.4" cy="414.1" r="1.4"/><circle cx="624.7" cy="414.6" r="1.4"/><circle cx="623.2" cy="415.0" r="1.4"/><circle cx="621.9" cy="415.4" r="1.4"/><circle cx="620.6" cy="416.3" r="1.4"/><circle cx="619.4" cy="417.5" r="1.4"/><circle cx="618.3" cy="418.1" r="1.4"/><circle cx="617.3" cy="418.4" r="1.4"/><circle cx="616.3" cy="418.7" r="1.4"/><circle cx="615.4" cy="418.9" r="1.4"/><circle cx="614.5" cy="419.1" r="1.4"/><circle cx="613.7" cy="419.2" r="1.4"/><circle cx="612.9" cy="419.4" r="1.4"/><circle cx="612.2" cy="419.5" r="1.4"/><circle cx="611.5" cy="419.6" r="1.4"/><circle cx="610.8" cy="419.8" r="1.4"/><circle cx="610.1" cy="420.0" r="1.4"/><circle cx="609.5" cy="420.3" r="1.4"/><circle cx="608.9" cy="420.6" r="1.4"/><circle cx="608.3" cy="420.8" r="1.4"/><circle cx="607.7" cy="421.0" r="1.4"/><circle cx="607.2" cy="421.3" r="1.4"/><circle cx="606.6" cy="421.5" r="1.4"/><circle cx="606.1" cy="421.7" r="1.4"/><circle cx="605.6" cy="421.9" r="1.4"/><circle cx="605.1" cy="422.1" r="1.4"/><circle cx="604.7" cy="422.3" r="1.4"/><circle cx="604.2" cy="422.5" r="1.4"/><circle cx="603.8" cy="422.6" r="1.4"/><circle cx="603.3" cy="422.8" r="1.4"/><circle cx="602.9" cy="423.1" r="1.4"/><circle cx="602.5" cy="423.3" r="1.4"/><circle cx="602.1" cy="423.5" r="1.4"/><circle cx="601.7" cy="423.7" r="1.4"/><circle cx="601.3" cy="423.9" r="1.4"/><circle cx="601.0" cy="424.1" r="1.4"/><circle cx="600.6" cy="424.3" r="1.4"/><circle cx="600.2" cy="424.4" r="1.4"/><circle cx="599.9" cy="424.6" r="1.4"/><circle cx="599.5" cy="424.8" r="1.4"/><circle cx="599.2" cy="425.0" r="1.4"/><circle cx="598.9" cy="425.1" r="1.4"/><circle cx="598.5" cy="425.3" r="1.4"/><circle cx="598.2" cy="425.5" r="1.4"/><circle cx="597.9" cy="425.6" r="1.4"/><circle cx="597.6" cy="425.8" r="1.4"/><circle cx="597.3" cy="425.9" r="1.4"/><circle cx="597.0" cy="426.1" r="1.4"/><circle cx="596.7" cy="426.2" r="1.4"/><circle cx="596.4" cy="426.4" r="1.4"/><circle cx="596.2" cy="426.5" r="1.4"/><circle cx="595.9" cy="426.7" r="1.4"/><circle cx="595.6" cy="426.8" r="1.4"/><circle cx="595.4" cy="426.9" r="1.4"/><circle cx="595.1" cy="427.1" r="1.4"/><circle cx="594.8" cy="427.2" r="1.4"/><circle cx="594.6" cy="427.3" r="1.4"/><circle cx="594.3" cy="427.5" r="1.4"/><circle cx="594.1" cy="427.6" r="1.4"/><circle cx="593.8" cy="427.7" r="1.4"/><circle cx="593.6" cy="427.8" r="1.4"/><circle cx="593.4" cy="428.0" r="1.4"/><circle cx="593.1" cy="428.1" r="1.4"/><circle cx="592.9" cy="428.2" r="1.4"/><circle cx="592.7" cy="428.3" r="1.4"/><circle cx="592.5" cy="428.4" r="1.4"/><circle cx="592.2" cy="428.5" r="1.4"/><circle cx="592.0" cy="428.7" r="1.4"/><circle cx="591.8" cy="428.8" r="1.4"/><circle cx="591.6" cy="428.9" r="1.4"/><circle cx="591.4" cy="429.0" r="1.4"/><circle cx="591.2" cy="429.1" r="1.4"/><circle cx="591.0" cy="429.2" r="1.4"/><circle cx="590.8" cy="429.3" r="1.4"/><circle cx="590.6" cy="429.4" r="1.4"/><circle cx="590.4" cy="429.5" r="1.4"/><circle cx="590.2" cy="429.6" r="1.4"/><circle cx="590.0" cy="429.7" r="1.4"/><circle cx="589.8" cy="429.7" r="1.4"/><circle cx="589.6" cy="429.8" r="1.4"/><circle cx="589.4" cy="429.9" r="1.4"/><circle cx="589.3" cy="430.0" r="1.4"/><circle cx="589.1" cy="430.1" r="1.4"/><circle cx="588.9" cy="430.2" r="1.4"/><circle cx="588.7" cy="430.3" r="1.4"/><circle cx="588.6" cy="430.4" r="1.4"/><circle cx="588.4" cy="430.4" r="1.4"/><circle cx="588.2" cy="430.5" r="1.4"/><circle cx="588.0" cy="430.6" r="1.4"/><circle cx="587.9" cy="430.7" r="1.4"/><circle cx="587.7" cy="430.8" r="1.4"/><circle cx="587.5" cy="430.8" r="1.4"/><circle cx="587.4" cy="430.9" r="1.4"/><circle cx="587.2" cy="431.0" r="1.4"/><circle cx="587.1" cy="431.1" r="1.4"/><circle cx="586.9" cy="431.2" r="1.4"/><circle cx="586.7" cy="431.2" r="1.4"/><circle cx="586.6" cy="431.3" r="1.4"/><circle cx="586.4" cy="431.4" r="1.4"/><circle cx="586.3" cy="431.5" r="1.4"/><circle cx="586.1" cy="431.5" r="1.4"/><circle cx="586.0" cy="431.6" r="1.4"/><circle cx="585.8" cy="431.7" r="1.4"/><circle cx="585.7" cy="431.7" r="1.4"/><circle cx="585.5" cy="431.8" r="1.4"/><circle cx="585.4" cy="431.9" r="1.4"/><circle cx="585.2" cy="432.0" r="1.4"/><circle cx="585.1" cy="432.0" r="1.4"/><circle cx="585.0" cy="432.1" r="1.4"/><circle cx="584.8" cy="432.2" r="1.4"/><circle cx="584.7" cy="432.2" r="1.4"/><circle cx="584.5" cy="432.3" r="1.4"/><circle cx="584.4" cy="432.4" r="1.4"/><circle cx="584.3" cy="432.4" r="1.4"/><circle cx="584.1" cy="432.5" r="1.4"/><circle cx="584.0" cy="432.6" r="1.4"/><circle cx="583.9" cy="432.6" r="1.4"/><circle cx="583.7" cy="432.7" r="1.4"/><circle cx="583.6" cy="432.7" r="1.4"/><circle cx="583.5" cy="432.8" r="1.4"/><circle cx="583.4" cy="432.9" r="1.4"/><circle cx="583.2" cy="432.9" r="1.4"/><circle cx="583.1" cy="433.0" r="1.4"/><circle cx="583.0" cy="433.0" r="1.4"/><circle cx="582.9" cy="433.1" r="1.4"/><circle cx="582.7" cy="433.2" r="1.4"/><circle cx="582.6" cy="433.2" r="1.4"/><circle cx="582.5" cy="433.3" r="1.4"/><circle cx="582.4" cy="433.3" r="1.4"/><circle cx="582.3" cy="433.4" r="1.4"/><circle cx="582.1" cy="433.5" r="1.4"/><circle cx="582.0" cy="433.5" r="1.4"/><circle cx="581.9" cy="433.6" r="1.4"/><circle cx="581.8" cy="433.6" r="1.4"/><circle cx="581.7" cy="433.7" r="1.4"/><circle cx="581.6" cy="433.8" r="1.4"/><circle cx="581.4" cy="433.8" r="1.4"/><circle cx="581.3" cy="433.9" r="1.4"/><circle cx="581.2" cy="434.0" r="1.4"/><circle cx="581.1" cy="434.0" r="1.4"/><circle cx="581.0" cy="434.1" r="1.4"/><circle cx="580.9" cy="434.2" r="1.4"/><circle cx="580.8" cy="434.2" r="1.4"/><circle cx="580.7" cy="434.3" r="1.4"/><circle cx="580.6" cy="434.3" r="1.4"/><circle cx="580.5" cy="434.4" r="1.4"/><circle cx="580.3" cy="434.5" r="1.4"/><circle cx="580.2" cy="434.5" r="1.4"/><circle cx="580.1" cy="434.6" r="1.4"/><circle cx="580.0" cy="434.7" r="1.4"/><circle cx="579.9" cy="434.7" r="1.4"/><circle cx="579.8" cy="434.8" r="1.4"/><circle cx="579.7" cy="434.8" r="1.4"/><circle cx="579.6" cy="434.9" r="1.4"/><circle cx="579.5" cy="434.9" r="1.4"/><circle cx="579.4" cy="435.0" r="1.4"/><circle cx="579.3" cy="435.1" r="1.4"/><circle cx="579.2" cy="435.1" r="1.4"/><circle cx="579.1" cy="435.2" r="1.4"/><circle cx="579.0" cy="435.2" r="1.4"/><circle cx="578.9" cy="435.3" r="1.4"/><circle cx="578.8" cy="435.3" r="1.4"/><circle cx="578.7" cy="435.4" r="1.4"/><circle cx="578.6" cy="435.4" r="1.4"/><circle cx="578.5" cy="435.5" r="1.4"/><circle cx="578.4" cy="435.6" r="1.4"/><circle cx="578.4" cy="435.6" r="1.4"/><circle cx="578.3" cy="435.7" r="1.4"/><circle cx="578.2" cy="435.7" r="1.4"/><circle cx="578.1" cy="435.8" r="1.4"/><circle cx="578.0" cy="435.8" r="1.4"/><circle cx="577.9" cy="435.9" r="1.4"/><circle cx="577.8" cy="435.9" r="1.4"/><circle cx="577.7" cy="436.0" r="1.4"/><circle cx="577.6" cy="436.0" r="1.4"/><circle cx="577.5" cy="436.1" r="1.4"/><circle cx="577.4" cy="436.1" r="1.4"/><circle cx="577.4" cy="436.2" r="1.4"/><circle cx="577.3" cy="436.2" r="1.4"/><circle cx="577.2" cy="436.3" r="1.4"/><circle cx="577.1" cy="436.3" r="1.4"/><circle cx="577.0" cy="436.4" r="1.4"/><circle cx="576.9" cy="436.4" r="1.4"/><circle cx="576.8" cy="436.5" r="1.4"/><circle cx="576.7" cy="436.5" r="1.4"/></g>
<rect x="480.8" y="369.4" width="202.90000000000003" height="118.90000000000003" fill="none" stroke="#7A7A7A" stroke-width="1.2"/>
<line x1="477.7" x2="480.8" y1="483.20" y2="483.20" stroke="#666" stroke-width="1"/>
<text x="475.40" y="486.95" text-anchor="end" font-size="10.4" fill="#4D4D4D" font-family="Liberation Sans, sans-serif">0</text>
<line x1="477.7" x2="480.8" y1="450.42" y2="450.42" stroke="#666" stroke-width="1"/>
<text x="475.40" y="454.17" text-anchor="end" font-size="10.4" fill="#4D4D4D" font-family="Liberation Sans, sans-serif">2</text>
<line x1="477.7" x2="480.8" y1="417.64" y2="417.64" stroke="#666" stroke-width="1"/>
<text x="475.40" y="421.39" text-anchor="end" font-size="10.4" fill="#4D4D4D" font-family="Liberation Sans, sans-serif">4</text>
<line x1="477.7" x2="480.8" y1="384.86" y2="384.86" stroke="#666" stroke-width="1"/>
<text x="475.40" y="388.61" text-anchor="end" font-size="10.4" fill="#4D4D4D" font-family="Liberation Sans, sans-serif">6</text>
<line x1="489.45" x2="489.45" y1="488.3" y2="491.40000000000003" stroke="#666" stroke-width="1"/>
<text x="489.45" y="501.70" text-anchor="middle" font-size="10.4" fill="#4D4D4D" font-family="Liberation Sans, sans-serif">0</text>
<line x1="527.37" x2="527.37" y1="488.3" y2="491.40000000000003" stroke="#666" stroke-width="1"/>
<text x="527.37" y="501.70" text-anchor="middle" font-size="10.4" fill="#4D4D4D" font-family="Liberation Sans, sans-serif">1</text>
<line x1="565.29" x2="565.29" y1="488.3" y2="491.40000000000003" stroke="#666" stroke-width="1"/>
<text x="565.29" y="501.70" text-anchor="middle" font-size="10.4" fill="#4D4D4D" font-family="Liberation Sans, sans-serif">2</text>
<line x1="603.21" x2="603.21" y1="488.3" y2="491.40000000000003" stroke="#666" stroke-width="1"/>
<text x="603.21" y="501.70" text-anchor="middle" font-size="10.4" fill="#4D4D4D" font-family="Liberation Sans, sans-serif">3</text>
<line x1="641.13" x2="641.13" y1="488.3" y2="491.40000000000003" stroke="#666" stroke-width="1"/>
<text x="641.13" y="501.70" text-anchor="middle" font-size="10.4" fill="#4D4D4D" font-family="Liberation Sans, sans-serif">4</text>
<line x1="679.05" x2="679.05" y1="488.3" y2="491.40000000000003" stroke="#666" stroke-width="1"/>
<text x="679.05" y="501.70" text-anchor="middle" font-size="10.4" fill="#4D4D4D" font-family="Liberation Sans, sans-serif">5</text>
<text x="582.25" y="515.50" text-anchor="middle" font-size="10.4" fill="#1A1A1A" font-family="Liberation Sans, sans-serif" xml:space="preserve">Expected  − log<tspan font-size="7.3" dy="2.2">10</tspan><tspan dy="-2.2">(P)</tspan></text>
<text transform="translate(462.5,428.85) rotate(-90)" text-anchor="middle" font-size="10.4" fill="#1A1A1A" font-family="Liberation Sans, sans-serif" xml:space="preserve">Observed  − log<tspan font-size="7.3" dy="2.2">10</tspan><tspan dy="-2.2">(P)</tspan></text>
<text x="481.1" y="361.90" font-size="11.2" font-weight="bold" fill="#000" font-family="Liberation Sans, sans-serif">RLSV</text>
<rect x="36.4" y="545.6" width="407.1" height="118.79999999999995" fill="#fff"/>
<line x1="36.4" x2="443.5" y1="645.24" y2="645.24" stroke="#EBEBEB" stroke-width="0.5"/>
<line x1="36.4" x2="443.5" y1="617.11" y2="617.11" stroke="#EBEBEB" stroke-width="0.5"/>
<line x1="36.4" x2="443.5" y1="588.99" y2="588.99" stroke="#EBEBEB" stroke-width="0.5"/>
<line x1="36.4" x2="443.5" y1="560.86" y2="560.86" stroke="#EBEBEB" stroke-width="0.5"/>
<line x1="45.70" x2="45.70" y1="545.6" y2="664.4" stroke="#EBEBEB" stroke-width="0.5"/>
<line x1="86.75" x2="86.75" y1="545.6" y2="664.4" stroke="#EBEBEB" stroke-width="0.5"/>
<line x1="125.16" x2="125.16" y1="545.6" y2="664.4" stroke="#EBEBEB" stroke-width="0.5"/>
<line x1="160.39" x2="160.39" y1="545.6" y2="664.4" stroke="#EBEBEB" stroke-width="0.5"/>
<line x1="194.19" x2="194.19" y1="545.6" y2="664.4" stroke="#EBEBEB" stroke-width="0.5"/>
<line x1="226.24" x2="226.24" y1="545.6" y2="664.4" stroke="#EBEBEB" stroke-width="0.5"/>
<line x1="255.38" x2="255.38" y1="545.6" y2="664.4" stroke="#EBEBEB" stroke-width="0.5"/>
<line x1="281.34" x2="281.34" y1="545.6" y2="664.4" stroke="#EBEBEB" stroke-width="0.5"/>
<line x1="305.76" x2="305.76" y1="545.6" y2="664.4" stroke="#EBEBEB" stroke-width="0.5"/>
<line x1="327.88" x2="327.88" y1="545.6" y2="664.4" stroke="#EBEBEB" stroke-width="0.5"/>
<line x1="348.37" x2="348.37" y1="545.6" y2="664.4" stroke="#EBEBEB" stroke-width="0.5"/>
<line x1="367.94" x2="367.94" y1="545.6" y2="664.4" stroke="#EBEBEB" stroke-width="0.5"/>
<line x1="385.28" x2="385.28" y1="545.6" y2="664.4" stroke="#EBEBEB" stroke-width="0.5"/>
<line x1="400.58" x2="400.58" y1="545.6" y2="664.4" stroke="#EBEBEB" stroke-width="0.5"/>
<line x1="414.75" x2="414.75" y1="545.6" y2="664.4" stroke="#EBEBEB" stroke-width="0.5"/>
<line x1="442.32" x2="442.32" y1="545.6" y2="664.4" stroke="#EBEBEB" stroke-width="0.5"/>
<line x1="36.4" x2="443.5" y1="659.30" y2="659.30" stroke="#EBEBEB" stroke-width="1"/>
<line x1="36.4" x2="443.5" y1="631.17" y2="631.17" stroke="#EBEBEB" stroke-width="1"/>
<line x1="36.4" x2="443.5" y1="603.05" y2="603.05" stroke="#EBEBEB" stroke-width="1"/>
<line x1="36.4" x2="443.5" y1="574.92" y2="574.92" stroke="#EBEBEB" stroke-width="1"/>
<line x1="36.4" x2="443.5" y1="546.80" y2="546.80" stroke="#EBEBEB" stroke-width="1"/>
<path d="M53.0,661.0 L53.0,646.0 L54.4,644.5 L55.4,641.7 L56.4,639.6 L57.4,636.1 L58.4,638.0 L59.4,634.9 L60.4,636.9 L61.4,638.2 L62.4,638.0 L63.4,639.9 L64.4,641.1 L65.4,638.4 L66.4,637.7 L67.4,637.9 L68.4,640.3 L69.4,641.0 L70.4,637.0 L71.4,639.6 L72.4,640.6 L73.4,639.9 L74.4,640.5 L75.4,635.4 L76.4,642.4 L77.4,642.3 L78.0,641.6 L78.0,641.6 L78.0,661.0Z" fill="#1B9E77"/><g class="p" fill="#1B9E77" stroke="#1B9E77"><circle cx="56.1" cy="638.8"/><circle cx="66.7" cy="637.1"/><circle cx="77.9" cy="640.9"/><circle cx="71.9" cy="638.4"/><circle cx="76.0" cy="640.3"/><circle cx="59.8" cy="635.7"/><circle cx="73.3" cy="637.1"/><circle cx="78.3" cy="641.0"/><circle cx="69.5" cy="640.9"/><circle cx="74.4" cy="641.4"/><circle cx="57.6" cy="634.7"/><circle cx="77.6" cy="641.7"/><circle cx="61.4" cy="636.0"/><circle cx="73.5" cy="637.2"/><circle cx="70.7" cy="636.7"/><circle cx="61.8" cy="636.0"/><circle cx="61.6" cy="637.1"/><circle cx="59.6" cy="632.0"/><circle cx="68.8" cy="638.7"/><circle cx="75.3" cy="634.9"/><circle cx="76.2" cy="641.6"/><circle cx="77.7" cy="640.0"/><circle cx="74.5" cy="639.4"/><circle cx="77.6" cy="641.5"/><circle cx="58.9" cy="636.5"/><circle cx="74.0" cy="635.9"/><circle cx="75.1" cy="632.8"/><circle cx="76.1" cy="637.4"/><circle cx="54.3" cy="642.0"/><circle cx="70.5" cy="634.4"/><circle cx="61.7" cy="637.4"/><circle cx="65.5" cy="634.2"/><circle cx="72.6" cy="640.3"/><circle cx="70.8" cy="635.5"/><circle cx="70.3" cy="631.5"/><circle cx="75.3" cy="635.4"/><circle cx="72.8" cy="640.6"/><circle cx="64.9" cy="638.0"/><circle cx="66.4" cy="637.9"/><circle cx="71.0" cy="639.5"/><circle cx="75.6" cy="632.2"/><circle cx="67.6" cy="632.9"/><circle cx="75.3" cy="635.8"/><circle cx="60.8" cy="634.0"/><circle cx="54.0" cy="643.9"/><circle cx="59.1" cy="634.9"/><circle cx="66.4" cy="636.6"/><circle cx="76.3" cy="634.7"/><circle cx="63.5" cy="633.4"/><circle cx="77.7" cy="635.0"/><circle cx="76.1" cy="635.4"/><circle cx="67.1" cy="629.5"/><circle cx="68.0" cy="631.8"/><circle cx="65.9" cy="632.2"/><circle cx="54.6" cy="634.1"/><circle cx="76.4" cy="633.7"/><circle cx="56.0" cy="628.0"/><circle cx="54.0" cy="634.6"/><circle cx="64.9" cy="623.3"/><circle cx="69.3" cy="622.7"/><circle cx="71.9" cy="622.7"/><circle cx="73.7" cy="623.3"/><circle cx="77.5" cy="622.7"/><circle cx="64.9" cy="627.2"/><circle cx="69.3" cy="625.5"/><circle cx="73.3" cy="627.8"/><circle cx="77.5" cy="628.4"/></g>
<path d="M76.6,661.0 L76.6,643.7 L78.0,642.2 L79.0,642.3 L80.0,641.7 L81.0,641.2 L82.0,643.8 L83.0,638.9 L84.0,640.6 L85.0,640.2 L86.0,640.0 L87.0,640.8 L88.0,640.5 L89.0,642.0 L90.0,639.8 L91.0,641.0 L92.0,642.1 L93.0,643.1 L94.0,638.3 L95.0,639.9 L96.0,640.4 L97.0,638.4 L98.0,637.0 L98.3,634.0 L98.3,634.0 L98.3,661.0Z" fill="#D95F02"/><g class="p" fill="#D95F02" stroke="#D95F02"><circle cx="92.3" cy="638.6"/><circle cx="89.9" cy="638.7"/><circle cx="86.0" cy="638.6"/><circle cx="80.6" cy="637.7"/><circle cx="82.1" cy="641.3"/><circle cx="98.4" cy="635.6"/><circle cx="82.6" cy="639.7"/><circle cx="95.3" cy="635.6"/><circle cx="95.7" cy="639.2"/><circle cx="84.4" cy="638.1"/><circle cx="81.1" cy="635.9"/><circle cx="84.0" cy="637.7"/><circle cx="90.1" cy="639.9"/><circle cx="85.2" cy="641.5"/><circle cx="92.2" cy="639.1"/><circle cx="78.1" cy="640.0"/><circle cx="88.0" cy="636.5"/><circle cx="96.1" cy="640.9"/><circle cx="88.3" cy="636.1"/><circle cx="98.0" cy="633.6"/><circle cx="92.2" cy="642.4"/><circle cx="92.1" cy="641.3"/><circle cx="83.9" cy="640.4"/><circle cx="95.6" cy="638.7"/><circle cx="89.5" cy="638.8"/><circle cx="87.9" cy="636.6"/><circle cx="98.5" cy="631.1"/><circle cx="84.6" cy="634.7"/><circle cx="96.8" cy="639.5"/><circle cx="94.7" cy="636.8"/><circle cx="94.9" cy="637.8"/><circle cx="89.1" cy="642.7"/><circle cx="94.2" cy="635.9"/><circle cx="79.0" cy="641.6"/><circle cx="80.7" cy="640.8"/><circle cx="87.1" cy="637.9"/><circle cx="82.1" cy="642.3"/><circle cx="87.9" cy="638.6"/><circle cx="87.4" cy="640.1"/><circle cx="77.6" cy="640.6"/><circle cx="81.2" cy="635.0"/><circle cx="94.3" cy="631.9"/><circle cx="83.5" cy="631.9"/><circle cx="98.4" cy="629.4"/><circle cx="89.2" cy="633.8"/><circle cx="79.9" cy="629.9"/><circle cx="83.7" cy="630.5"/><circle cx="98.0" cy="625.2"/><circle cx="93.3" cy="636.1"/><circle cx="92.8" cy="636.0"/><circle cx="78.6" cy="628.9"/><circle cx="82.4" cy="627.8"/><circle cx="90.3" cy="631.2"/><circle cx="93.8" cy="630.0"/><circle cx="94.3" cy="627.2"/><circle cx="92.0" cy="634.5"/></g>
<path d="M96.9,661.0 L96.9,641.2 L98.3,639.7 L99.3,637.4 L100.3,638.2 L101.3,638.9 L102.3,639.1 L103.3,637.7 L104.3,639.5 L105.3,638.6 L106.3,639.8 L107.3,639.3 L108.3,640.5 L109.3,642.8 L110.3,641.8 L111.3,641.7 L112.3,641.3 L113.3,640.5 L114.3,639.1 L115.3,639.8 L116.3,639.6 L116.3,639.6 L116.3,661.0Z" fill="#7570B3"/><g class="p" fill="#7570B3" stroke="#7570B3"><circle cx="111.6" cy="641.8"/><circle cx="101.5" cy="638.8"/><circle cx="113.8" cy="637.0"/><circle cx="98.3" cy="635.5"/><circle cx="101.0" cy="639.5"/><circle cx="100.7" cy="635.9"/><circle cx="110.1" cy="642.4"/><circle cx="108.9" cy="642.8"/><circle cx="108.2" cy="640.4"/><circle cx="100.7" cy="637.9"/><circle cx="110.5" cy="641.7"/><circle cx="113.2" cy="640.3"/><circle cx="114.3" cy="637.4"/><circle cx="97.8" cy="638.6"/><circle cx="98.9" cy="638.4"/><circle cx="114.3" cy="638.9"/><circle cx="103.7" cy="638.5"/><circle cx="111.7" cy="638.9"/><circle cx="100.2" cy="635.8"/><circle cx="109.8" cy="640.8"/><circle cx="101.7" cy="639.0"/><circle cx="100.3" cy="635.5"/><circle cx="112.1" cy="640.6"/><circle cx="110.1" cy="641.1"/><circle cx="108.7" cy="641.5"/><circle cx="105.4" cy="639.3"/><circle cx="111.6" cy="637.5"/><circle cx="110.5" cy="636.8"/><circle cx="100.5" cy="638.7"/><circle cx="115.1" cy="640.5"/><circle cx="98.2" cy="640.0"/><circle cx="108.9" cy="640.9"/><circle cx="104.4" cy="638.1"/><circle cx="107.4" cy="638.6"/><circle cx="114.5" cy="635.2"/><circle cx="115.2" cy="631.9"/><circle cx="106.1" cy="632.8"/><circle cx="99.7" cy="630.1"/><circle cx="100.2" cy="630.4"/><circle cx="99.2" cy="630.6"/><circle cx="112.2" cy="634.2"/><circle cx="109.6" cy="632.2"/><circle cx="109.2" cy="636.4"/><circle cx="102.6" cy="617.1"/><circle cx="102.6" cy="619.9"/><circle cx="102.6" cy="622.2"/><circle cx="100.8" cy="621.6"/><circle cx="98.2" cy="620.5"/><circle cx="98.2" cy="624.4"/><circle cx="102.6" cy="627.2"/><circle cx="111.0" cy="621.6"/><circle cx="111.0" cy="629.5"/><circle cx="106.0" cy="632.9"/></g>
<path d="M114.9,661.0 L114.9,643.3 L116.3,641.8 L117.3,639.8 L118.3,641.4 L119.3,639.7 L120.3,641.9 L121.3,642.6 L122.3,641.0 L123.3,638.2 L124.3,633.7 L125.3,637.4 L126.3,637.2 L127.3,638.2 L128.3,638.1 L129.3,635.7 L130.3,639.7 L131.3,636.7 L132.3,637.4 L133.3,639.5 L134.1,640.1 L134.1,640.1 L134.1,661.0Z" fill="#E7298A"/><g class="p" fill="#E7298A" stroke="#E7298A"><circle cx="128.2" cy="637.4"/><circle cx="116.6" cy="640.5"/><circle cx="131.2" cy="637.2"/><circle cx="134.5" cy="636.4"/><circle cx="122.2" cy="640.3"/><circle cx="133.8" cy="636.3"/><circle cx="115.9" cy="642.7"/><circle cx="133.6" cy="637.5"/><circle cx="118.6" cy="642.3"/><circle cx="119.7" cy="635.6"/><circle cx="120.0" cy="642.7"/><circle cx="118.3" cy="642.5"/><circle cx="127.9" cy="632.0"/><circle cx="128.5" cy="637.3"/><circle cx="134.2" cy="638.7"/><circle cx="123.6" cy="637.0"/><circle cx="126.0" cy="635.4"/><circle cx="125.6" cy="637.2"/><circle cx="122.4" cy="635.1"/><circle cx="122.2" cy="641.3"/><circle cx="120.4" cy="642.7"/><circle cx="125.0" cy="637.7"/><circle cx="129.6" cy="631.0"/><circle cx="128.3" cy="638.6"/><circle cx="124.7" cy="633.3"/><circle cx="121.0" cy="639.6"/><circle cx="131.0" cy="637.4"/><circle cx="127.9" cy="639.0"/><circle cx="132.6" cy="633.4"/><circle cx="118.2" cy="641.4"/><circle cx="117.3" cy="638.3"/><circle cx="132.3" cy="637.7"/><circle cx="129.7" cy="631.9"/><circle cx="127.0" cy="638.3"/><circle cx="131.5" cy="637.6"/><circle cx="127.4" cy="630.3"/><circle cx="129.3" cy="629.3"/><circle cx="127.9" cy="630.9"/><circle cx="125.4" cy="625.5"/><circle cx="125.2" cy="631.1"/><circle cx="126.6" cy="631.2"/><circle cx="131.4" cy="630.4"/><circle cx="116.9" cy="632.8"/><circle cx="126.2" cy="627.2"/><circle cx="130.6" cy="631.2"/><circle cx="133.2" cy="621.6"/><circle cx="133.2" cy="627.8"/><circle cx="116.2" cy="631.2"/><circle cx="121.8" cy="635.1"/></g>
<path d="M132.7,661.0 L132.7,643.2 L134.1,641.7 L135.1,642.3 L136.1,643.4 L137.1,641.5 L138.1,640.6 L139.1,638.4 L140.1,636.9 L141.1,641.5 L142.1,638.0 L143.1,639.1 L144.1,640.9 L145.1,638.6 L146.1,640.7 L147.1,643.8 L148.1,644.7 L149.1,646.4 L150.1,651.4 L151.1,648.1 L152.0,645.0 L152.0,645.0 L152.0,661.0Z" fill="#66A61E"/><g class="p" fill="#66A61E" stroke="#66A61E"><circle cx="136.6" cy="641.7"/><circle cx="141.4" cy="639.1"/><circle cx="147.4" cy="641.1"/><circle cx="138.2" cy="641.1"/><circle cx="135.9" cy="641.8"/><circle cx="149.7" cy="647.5"/><circle cx="141.1" cy="640.4"/><circle cx="143.3" cy="638.3"/><circle cx="148.9" cy="646.2"/><circle cx="143.1" cy="634.5"/><circle cx="133.9" cy="637.2"/><circle cx="134.0" cy="638.8"/><circle cx="150.3" cy="650.7"/><circle cx="141.7" cy="635.6"/><circle cx="144.7" cy="638.7"/><circle cx="151.5" cy="646.3"/><circle cx="136.8" cy="639.3"/><circle cx="146.1" cy="640.2"/><circle cx="151.4" cy="646.9"/><circle cx="146.0" cy="641.9"/><circle cx="141.4" cy="638.8"/><circle cx="139.7" cy="632.1"/><circle cx="146.2" cy="641.4"/><circle cx="150.8" cy="648.2"/><circle cx="146.8" cy="644.4"/><circle cx="150.7" cy="645.3"/><circle cx="139.1" cy="638.7"/><circle cx="140.9" cy="638.7"/><circle cx="139.5" cy="639.1"/><circle cx="140.2" cy="634.0"/><circle cx="142.9" cy="634.0"/><circle cx="142.3" cy="637.0"/><circle cx="137.9" cy="636.0"/><circle cx="145.5" cy="638.5"/><circle cx="137.2" cy="639.9"/><circle cx="138.9" cy="630.5"/><circle cx="139.7" cy="625.1"/><circle cx="133.9" cy="631.8"/><circle cx="136.6" cy="634.6"/><circle cx="142.3" cy="626.6"/><circle cx="140.1" cy="625.8"/><circle cx="136.1" cy="636.7"/><circle cx="133.8" cy="634.0"/><circle cx="136.7" cy="635.7"/><circle cx="144.6" cy="636.2"/></g>
<path d="M150.6,661.0 L150.6,646.3 L152.0,644.8 L153.0,644.8 L154.0,643.4 L155.0,646.3 L156.0,645.0 L157.0,641.7 L158.0,639.4 L159.0,636.4 L160.0,638.0 L161.0,634.9 L162.0,636.8 L163.0,637.9 L164.0,639.7 L165.0,637.5 L166.0,638.3 L167.0,638.1 L168.0,640.7 L169.0,639.8 L169.5,638.5 L169.5,638.5 L169.5,661.0Z" fill="#E6AB02"/><g class="p" fill="#E6AB02" stroke="#E6AB02"><circle cx="168.9" cy="639.1"/><circle cx="159.0" cy="635.3"/><circle cx="166.4" cy="638.1"/><circle cx="165.0" cy="636.2"/><circle cx="159.0" cy="635.0"/><circle cx="154.9" cy="644.8"/><circle cx="156.5" cy="640.8"/><circle cx="158.5" cy="638.1"/><circle cx="158.1" cy="638.0"/><circle cx="157.2" cy="639.7"/><circle cx="159.7" cy="638.8"/><circle cx="166.3" cy="638.4"/><circle cx="159.7" cy="638.5"/><circle cx="156.5" cy="643.6"/><circle cx="166.0" cy="637.5"/><circle cx="152.4" cy="644.4"/><circle cx="160.7" cy="632.1"/><circle cx="165.2" cy="638.2"/><circle cx="159.8" cy="633.5"/><circle cx="162.2" cy="637.7"/><circle cx="169.4" cy="638.1"/><circle cx="160.6" cy="635.7"/><circle cx="158.5" cy="638.7"/><circle cx="154.7" cy="642.3"/><circle cx="165.5" cy="638.3"/><circle cx="153.3" cy="644.3"/><circle cx="158.7" cy="635.1"/><circle cx="154.8" cy="642.8"/><circle cx="164.0" cy="638.4"/><circle cx="161.8" cy="636.1"/><circle cx="168.1" cy="641.7"/><circle cx="158.5" cy="639.2"/><circle cx="157.2" cy="641.2"/><circle cx="155.2" cy="645.3"/><circle cx="158.6" cy="635.2"/><circle cx="166.7" cy="631.0"/><circle cx="165.4" cy="630.2"/><circle cx="157.3" cy="630.9"/><circle cx="157.4" cy="630.2"/><circle cx="152.7" cy="636.1"/><circle cx="152.4" cy="636.2"/><circle cx="165.1" cy="625.9"/><circle cx="165.6" cy="626.5"/><circle cx="160.2" cy="618.2"/><circle cx="160.2" cy="622.2"/><circle cx="164.9" cy="621.6"/><circle cx="166.6" cy="622.2"/><circle cx="155.3" cy="626.7"/><circle cx="160.2" cy="626.7"/><circle cx="161.4" cy="630.0"/><circle cx="164.9" cy="630.0"/><circle cx="167.5" cy="630.0"/></g>
<path d="M168.1,661.0 L168.1,645.0 L169.5,643.5 L170.5,642.5 L171.5,643.3 L172.5,643.3 L173.5,638.4 L174.5,638.4 L175.5,638.7 L176.5,637.9 L177.5,635.0 L178.5,635.6 L179.5,635.0 L180.5,633.8 L181.5,632.5 L182.5,630.5 L183.5,632.0 L184.5,631.5 L185.5,635.2 L186.0,636.4 L186.0,636.4 L186.0,661.0Z" fill="#A6761D"/><g class="p" fill="#A6761D" stroke="#A6761D"><circle cx="174.2" cy="637.6"/><circle cx="176.7" cy="638.3"/><circle cx="184.2" cy="628.4"/><circle cx="175.7" cy="636.2"/><circle cx="178.7" cy="635.6"/><circle cx="179.2" cy="636.3"/><circle cx="184.8" cy="631.0"/><circle cx="184.9" cy="631.7"/><circle cx="184.2" cy="630.2"/><circle cx="184.2" cy="630.8"/><circle cx="175.8" cy="638.6"/><circle cx="178.4" cy="631.7"/><circle cx="178.7" cy="630.9"/><circle cx="174.2" cy="636.6"/><circle cx="169.9" cy="643.7"/><circle cx="180.9" cy="633.0"/><circle cx="172.8" cy="640.1"/><circle cx="183.4" cy="631.2"/><circle cx="177.3" cy="636.2"/><circle cx="183.3" cy="630.3"/><circle cx="177.0" cy="639.3"/><circle cx="178.2" cy="635.1"/><circle cx="186.3" cy="635.5"/><circle cx="174.4" cy="639.1"/><circle cx="170.4" cy="637.3"/><circle cx="182.9" cy="627.9"/><circle cx="178.7" cy="633.1"/><circle cx="170.2" cy="640.7"/><circle cx="180.4" cy="630.3"/><circle cx="171.1" cy="641.5"/><circle cx="175.6" cy="637.5"/><circle cx="177.2" cy="636.6"/><circle cx="179.2" cy="625.2"/><circle cx="169.5" cy="637.2"/><circle cx="173.3" cy="629.9"/><circle cx="172.8" cy="631.5"/><circle cx="181.4" cy="624.7"/><circle cx="182.2" cy="620.3"/><circle cx="181.3" cy="626.0"/><circle cx="177.2" cy="629.5"/><circle cx="181.5" cy="617.1"/><circle cx="181.5" cy="619.9"/><circle cx="182.4" cy="626.7"/><circle cx="172.4" cy="626.7"/><circle cx="174.2" cy="629.5"/><circle cx="187.1" cy="629.5"/></g>
<path d="M184.6,661.0 L184.6,642.5 L186.0,641.0 L187.0,639.0 L188.0,640.2 L189.0,641.1 L190.0,638.3 L191.0,640.5 L192.0,641.8 L193.0,640.2 L194.0,641.3 L195.0,640.4 L196.0,637.7 L197.0,644.5 L198.0,640.9 L199.0,638.8 L200.0,639.8 L201.0,641.2 L202.0,642.0 L202.8,637.9 L202.8,637.9 L202.8,661.0Z" fill="#666666"/><g class="p" fill="#666666" stroke="#666666"><circle cx="185.8" cy="640.3"/><circle cx="193.2" cy="641.1"/><circle cx="190.8" cy="638.8"/><circle cx="193.9" cy="641.7"/><circle cx="198.1" cy="637.3"/><circle cx="192.1" cy="641.2"/><circle cx="199.3" cy="636.9"/><circle cx="199.7" cy="640.5"/><circle cx="202.4" cy="633.3"/><circle cx="199.2" cy="637.1"/><circle cx="200.0" cy="638.4"/><circle cx="201.7" cy="643.1"/><circle cx="186.6" cy="639.2"/><circle cx="191.0" cy="640.8"/><circle cx="199.7" cy="639.5"/><circle cx="201.8" cy="639.9"/><circle cx="200.3" cy="636.3"/><circle cx="188.3" cy="639.9"/><circle cx="202.8" cy="635.1"/><circle cx="196.5" cy="642.5"/><circle cx="187.0" cy="639.3"/><circle cx="202.9" cy="638.8"/><circle cx="197.0" cy="641.9"/><circle cx="188.7" cy="639.7"/><circle cx="186.3" cy="637.0"/><circle cx="191.5" cy="638.2"/><circle cx="199.6" cy="636.9"/><circle cx="193.6" cy="638.7"/><circle cx="191.1" cy="640.7"/><circle cx="202.4" cy="638.9"/><circle cx="192.1" cy="638.8"/><circle cx="199.9" cy="638.9"/><circle cx="202.4" cy="638.4"/><circle cx="193.9" cy="631.1"/><circle cx="200.2" cy="629.0"/><circle cx="189.4" cy="634.3"/><circle cx="200.4" cy="632.7"/><circle cx="186.4" cy="629.3"/><circle cx="201.5" cy="634.4"/><circle cx="198.7" cy="628.2"/><circle cx="196.6" cy="634.4"/><circle cx="201.3" cy="621.6"/><circle cx="192.0" cy="635.7"/><circle cx="195.5" cy="636.2"/></g>
<path d="M201.4,661.0 L201.4,644.0 L202.8,642.5 L203.8,641.5 L204.8,640.6 L205.8,639.4 L206.8,639.1 L207.8,637.5 L208.8,633.6 L209.8,633.7 L210.8,635.7 L211.8,637.5 L212.8,639.5 L213.8,642.5 L214.8,643.0 L215.8,642.6 L216.8,642.2 L217.8,640.6 L218.5,638.9 L218.5,638.9 L218.5,661.0Z" fill="#1B9E77"/><g class="p" fill="#1B9E77" stroke="#1B9E77"><circle cx="215.3" cy="639.7"/><circle cx="205.9" cy="634.4"/><circle cx="210.2" cy="634.2"/><circle cx="210.9" cy="633.5"/><circle cx="203.6" cy="638.0"/><circle cx="213.9" cy="642.1"/><circle cx="210.1" cy="633.4"/><circle cx="205.0" cy="640.1"/><circle cx="202.6" cy="642.3"/><circle cx="213.2" cy="640.3"/><circle cx="203.3" cy="641.4"/><circle cx="204.7" cy="640.3"/><circle cx="218.1" cy="635.0"/><circle cx="214.5" cy="637.6"/><circle cx="203.7" cy="638.8"/><circle cx="216.6" cy="640.9"/><circle cx="207.2" cy="640.1"/><circle cx="213.5" cy="641.0"/><circle cx="214.4" cy="639.7"/><circle cx="216.4" cy="639.5"/><circle cx="212.6" cy="639.4"/><circle cx="210.4" cy="632.2"/><circle cx="203.6" cy="641.2"/><circle cx="202.9" cy="641.0"/><circle cx="207.6" cy="638.5"/><circle cx="215.4" cy="639.7"/><circle cx="211.0" cy="633.1"/><circle cx="207.6" cy="636.2"/><circle cx="205.5" cy="637.1"/><circle cx="205.3" cy="638.8"/><circle cx="206.2" cy="639.0"/><circle cx="215.9" cy="633.8"/><circle cx="214.7" cy="636.3"/><circle cx="209.1" cy="624.9"/><circle cx="218.2" cy="627.1"/><circle cx="202.8" cy="635.3"/><circle cx="216.9" cy="635.3"/><circle cx="203.3" cy="633.9"/><circle cx="208.3" cy="621.6"/><circle cx="203.1" cy="626.7"/><circle cx="207.8" cy="626.7"/><circle cx="215.7" cy="628.4"/><circle cx="217.4" cy="634.5"/></g>
<path d="M217.1,661.0 L217.1,643.1 L218.5,641.6 L219.5,643.9 L220.5,645.8 L221.5,640.2 L222.5,638.3 L223.5,640.5 L224.5,633.3 L225.5,634.8 L226.5,636.8 L227.5,635.9 L228.5,634.3 L229.5,635.7 L230.5,634.9 L231.5,635.2 L232.5,637.2 L233.5,639.0 L233.9,639.0 L233.9,639.0 L233.9,661.0Z" fill="#D95F02"/><g class="p" fill="#D95F02" stroke="#D95F02"><circle cx="219.8" cy="644.4"/><circle cx="223.0" cy="640.4"/><circle cx="225.3" cy="629.8"/><circle cx="231.4" cy="630.8"/><circle cx="227.3" cy="633.1"/><circle cx="233.1" cy="638.7"/><circle cx="223.4" cy="639.8"/><circle cx="226.3" cy="633.4"/><circle cx="229.8" cy="632.5"/><circle cx="234.2" cy="640.0"/><circle cx="223.4" cy="640.9"/><circle cx="230.9" cy="635.0"/><circle cx="231.2" cy="631.1"/><circle cx="222.8" cy="638.4"/><circle cx="219.7" cy="641.3"/><circle cx="233.9" cy="639.6"/><circle cx="222.0" cy="641.4"/><circle cx="219.4" cy="638.8"/><circle cx="222.1" cy="638.8"/><circle cx="229.7" cy="635.7"/><circle cx="227.1" cy="636.5"/><circle cx="232.0" cy="635.5"/><circle cx="229.2" cy="634.4"/><circle cx="234.0" cy="635.7"/><circle cx="225.8" cy="634.9"/><circle cx="233.1" cy="638.5"/><circle cx="220.3" cy="643.6"/><circle cx="218.3" cy="641.7"/><circle cx="234.3" cy="639.4"/><circle cx="224.3" cy="632.3"/><circle cx="230.3" cy="626.9"/><circle cx="227.1" cy="627.5"/><circle cx="224.2" cy="622.1"/><circle cx="233.9" cy="632.0"/><circle cx="234.2" cy="631.0"/><circle cx="226.7" cy="624.9"/><circle cx="226.8" cy="630.0"/><circle cx="227.1" cy="621.0"/><circle cx="230.6" cy="622.7"/><circle cx="227.1" cy="626.1"/><circle cx="229.7" cy="627.8"/><circle cx="222.7" cy="634.0"/></g>
<path d="M232.5,661.0 L232.5,639.3 L233.9,637.8 L234.9,639.4 L235.9,642.1 L236.9,640.7 L237.9,641.6 L238.9,642.5 L239.9,642.5 L240.9,640.0 L241.9,639.3 L242.9,640.7 L243.9,639.9 L244.9,640.9 L245.9,641.1 L246.9,643.3 L247.9,643.9 L248.9,644.2 L249.8,645.0 L249.8,645.0 L249.8,661.0Z" fill="#7570B3"/><g class="p" fill="#7570B3" stroke="#7570B3"><circle cx="247.0" cy="642.6"/><circle cx="246.2" cy="640.5"/><circle cx="237.3" cy="641.7"/><circle cx="246.3" cy="640.7"/><circle cx="242.7" cy="641.7"/><circle cx="242.9" cy="641.7"/><circle cx="248.2" cy="643.4"/><circle cx="246.8" cy="640.7"/><circle cx="241.8" cy="640.1"/><circle cx="238.8" cy="643.5"/><circle cx="247.5" cy="642.5"/><circle cx="238.0" cy="639.2"/><circle cx="250.2" cy="643.7"/><circle cx="243.5" cy="640.1"/><circle cx="248.4" cy="642.3"/><circle cx="239.2" cy="639.2"/><circle cx="247.8" cy="640.8"/><circle cx="241.9" cy="638.4"/><circle cx="236.6" cy="640.7"/><circle cx="236.4" cy="639.6"/><circle cx="241.9" cy="638.9"/><circle cx="243.1" cy="637.6"/><circle cx="248.6" cy="641.1"/><circle cx="235.7" cy="639.8"/><circle cx="250.2" cy="645.9"/><circle cx="242.9" cy="641.6"/><circle cx="249.5" cy="645.4"/><circle cx="243.1" cy="637.6"/><circle cx="243.3" cy="640.7"/><circle cx="239.2" cy="643.1"/><circle cx="241.0" cy="640.8"/><circle cx="244.7" cy="633.9"/><circle cx="249.2" cy="633.9"/><circle cx="239.1" cy="636.2"/><circle cx="237.3" cy="634.2"/><circle cx="244.5" cy="631.8"/><circle cx="241.0" cy="633.4"/><circle cx="235.0" cy="629.6"/><circle cx="244.1" cy="617.1"/><circle cx="240.2" cy="621.6"/><circle cx="239.3" cy="626.1"/><circle cx="240.2" cy="629.5"/><circle cx="240.2" cy="634.0"/><circle cx="245.5" cy="636.8"/></g>
<path d="M248.4,661.0 L248.4,637.1 L249.8,635.6 L250.8,636.7 L251.8,638.1 L252.8,636.1 L253.8,636.4 L254.8,637.4 L255.8,639.1 L256.8,642.9 L257.8,642.5 L258.8,642.7 L259.8,641.2 L260.8,643.3 L261.8,647.9 L262.7,645.6 L262.7,645.6 L262.7,661.0Z" fill="#E7298A"/><g class="p" fill="#E7298A" stroke="#E7298A"><circle cx="258.8" cy="643.5"/><circle cx="253.7" cy="637.1"/><circle cx="254.7" cy="633.6"/><circle cx="256.1" cy="634.9"/><circle cx="254.3" cy="638.5"/><circle cx="253.9" cy="636.9"/><circle cx="251.2" cy="637.5"/><circle cx="252.0" cy="637.4"/><circle cx="257.3" cy="639.3"/><circle cx="262.9" cy="645.5"/><circle cx="256.4" cy="641.6"/><circle cx="259.6" cy="639.2"/><circle cx="259.3" cy="640.9"/><circle cx="250.7" cy="635.4"/><circle cx="254.5" cy="638.4"/><circle cx="255.1" cy="637.7"/><circle cx="253.8" cy="632.4"/><circle cx="262.3" cy="643.9"/><circle cx="255.3" cy="639.3"/><circle cx="256.7" cy="642.2"/><circle cx="253.1" cy="634.6"/><circle cx="253.4" cy="637.5"/><circle cx="250.4" cy="634.0"/><circle cx="257.4" cy="642.6"/><circle cx="258.8" cy="639.2"/><circle cx="258.4" cy="630.8"/><circle cx="252.6" cy="624.3"/><circle cx="259.3" cy="633.7"/><circle cx="252.0" cy="629.3"/><circle cx="258.3" cy="634.7"/><circle cx="250.1" cy="626.3"/><circle cx="255.1" cy="621.6"/><circle cx="257.2" cy="622.7"/><circle cx="251.1" cy="627.8"/><circle cx="255.1" cy="627.8"/><circle cx="257.7" cy="627.8"/><circle cx="255.1" cy="634.0"/></g>
<path d="M261.3,661.0 L261.3,641.2 L262.7,639.7 L263.7,639.9 L264.7,638.0 L265.7,637.6 L266.7,639.5 L267.7,639.4 L268.7,633.7 L269.7,635.6 L270.7,641.2 L271.7,641.4 L272.7,643.3 L273.7,642.7 L274.7,643.6 L275.2,639.2 L275.2,639.2 L275.2,661.0Z" fill="#66A61E"/><g class="p" fill="#66A61E" stroke="#66A61E"><circle cx="269.7" cy="635.9"/><circle cx="273.0" cy="641.9"/><circle cx="266.4" cy="638.6"/><circle cx="265.1" cy="638.6"/><circle cx="269.7" cy="630.9"/><circle cx="266.5" cy="640.7"/><circle cx="273.8" cy="640.4"/><circle cx="274.8" cy="639.5"/><circle cx="272.1" cy="642.6"/><circle cx="268.3" cy="634.0"/><circle cx="275.4" cy="637.8"/><circle cx="274.4" cy="641.7"/><circle cx="270.8" cy="642.2"/><circle cx="267.4" cy="640.0"/><circle cx="275.6" cy="638.4"/><circle cx="266.6" cy="639.6"/><circle cx="268.2" cy="639.3"/><circle cx="268.9" cy="633.5"/><circle cx="270.1" cy="635.5"/><circle cx="269.1" cy="630.1"/><circle cx="263.9" cy="639.7"/><circle cx="264.5" cy="632.9"/><circle cx="270.4" cy="639.4"/><circle cx="273.1" cy="639.6"/><circle cx="274.7" cy="633.9"/><circle cx="275.3" cy="631.4"/><circle cx="271.7" cy="632.9"/><circle cx="265.0" cy="626.6"/><circle cx="268.0" cy="631.9"/><circle cx="270.1" cy="628.0"/><circle cx="269.3" cy="621.0"/><circle cx="271.0" cy="621.6"/><circle cx="267.5" cy="625.5"/><circle cx="271.9" cy="626.1"/><circle cx="265.4" cy="629.5"/><circle cx="271.0" cy="629.5"/><circle cx="269.0" cy="625.5"/></g>
<path d="M273.8,661.0 L273.8,643.7 L275.2,642.2 L276.2,641.6 L277.2,643.8 L278.2,643.4 L279.2,644.2 L280.2,641.5 L281.2,639.8 L282.2,637.9 L283.2,635.7 L284.2,637.5 L285.2,635.4 L286.2,637.0 L287.2,638.5 L287.4,639.1 L287.4,639.1 L287.4,661.0Z" fill="#E6AB02"/><g class="p" fill="#E6AB02" stroke="#E6AB02"><circle cx="275.3" cy="638.7"/><circle cx="284.7" cy="635.3"/><circle cx="282.0" cy="633.0"/><circle cx="287.6" cy="634.0"/><circle cx="279.8" cy="639.5"/><circle cx="284.9" cy="634.4"/><circle cx="286.9" cy="637.6"/><circle cx="279.2" cy="644.8"/><circle cx="283.5" cy="631.0"/><circle cx="275.4" cy="642.1"/><circle cx="281.0" cy="636.2"/><circle cx="277.6" cy="639.9"/><circle cx="277.3" cy="643.5"/><circle cx="283.5" cy="631.8"/><circle cx="287.8" cy="637.9"/><circle cx="287.5" cy="639.0"/><circle cx="281.1" cy="639.8"/><circle cx="287.4" cy="636.4"/><circle cx="278.2" cy="642.6"/><circle cx="287.5" cy="638.9"/><circle cx="279.3" cy="639.2"/><circle cx="286.3" cy="636.4"/><circle cx="287.0" cy="638.7"/><circle cx="275.7" cy="641.6"/><circle cx="275.2" cy="635.7"/><circle cx="276.2" cy="629.9"/><circle cx="281.2" cy="633.3"/><circle cx="285.9" cy="630.1"/><circle cx="286.0" cy="630.3"/><circle cx="281.7" cy="630.8"/><circle cx="285.0" cy="617.1"/><circle cx="285.9" cy="626.7"/><circle cx="281.5" cy="631.2"/></g>
<path d="M286.0,661.0 L286.0,635.2 L287.4,633.7 L288.4,636.3 L289.4,640.2 L290.4,639.0 L291.4,636.5 L292.4,636.2 L293.4,634.4 L294.4,632.9 L295.4,631.7 L296.4,634.3 L297.4,634.3 L298.4,637.3 L299.4,640.9 L300.1,638.8 L300.1,638.8 L300.1,661.0Z" fill="#A6761D"/><g class="p" fill="#A6761D" stroke="#A6761D"><circle cx="298.4" cy="634.0"/><circle cx="292.9" cy="635.6"/><circle cx="289.4" cy="635.1"/><circle cx="289.9" cy="639.9"/><circle cx="292.2" cy="636.3"/><circle cx="294.7" cy="632.5"/><circle cx="291.0" cy="634.7"/><circle cx="295.7" cy="632.1"/><circle cx="289.4" cy="640.5"/><circle cx="300.4" cy="639.6"/><circle cx="291.1" cy="635.8"/><circle cx="292.2" cy="635.9"/><circle cx="294.8" cy="630.2"/><circle cx="292.9" cy="632.2"/><circle cx="297.3" cy="632.4"/><circle cx="292.8" cy="636.1"/><circle cx="294.6" cy="632.0"/><circle cx="299.5" cy="640.0"/><circle cx="292.1" cy="634.4"/><circle cx="295.7" cy="630.7"/><circle cx="292.0" cy="636.1"/><circle cx="291.1" cy="632.8"/><circle cx="300.1" cy="635.9"/><circle cx="287.8" cy="632.4"/><circle cx="293.7" cy="632.5"/><circle cx="290.8" cy="629.8"/><circle cx="294.7" cy="620.9"/><circle cx="288.6" cy="629.9"/><circle cx="298.0" cy="629.4"/><circle cx="292.3" cy="629.4"/><circle cx="293.2" cy="626.7"/><circle cx="296.1" cy="617.1"/><circle cx="293.8" cy="621.0"/><circle cx="288.5" cy="621.6"/><circle cx="295.5" cy="622.2"/><circle cx="289.4" cy="625.5"/><circle cx="295.5" cy="626.1"/><circle cx="296.4" cy="628.4"/><circle cx="297.3" cy="630.6"/></g>
<path d="M298.7,661.0 L298.7,639.9 L300.1,638.4 L301.1,639.6 L302.1,641.7 L303.1,639.9 L304.1,640.1 L305.1,642.5 L306.1,639.7 L307.1,642.3 L308.1,641.1 L309.1,640.0 L310.1,638.3 L311.1,640.2 L312.1,640.9 L312.2,640.4 L312.2,640.4 L312.2,661.0Z" fill="#666666"/><g class="p" fill="#666666" stroke="#666666"><circle cx="305.4" cy="643.3"/><circle cx="305.2" cy="639.5"/><circle cx="308.4" cy="639.1"/><circle cx="303.5" cy="640.3"/><circle cx="304.4" cy="637.7"/><circle cx="308.6" cy="639.4"/><circle cx="312.4" cy="640.0"/><circle cx="310.1" cy="639.1"/><circle cx="301.1" cy="640.7"/><circle cx="303.1" cy="637.2"/><circle cx="304.3" cy="640.3"/><circle cx="304.4" cy="640.9"/><circle cx="308.7" cy="640.9"/><circle cx="308.6" cy="640.5"/><circle cx="301.5" cy="639.7"/><circle cx="312.0" cy="636.8"/><circle cx="302.9" cy="639.3"/><circle cx="303.1" cy="636.7"/><circle cx="310.0" cy="633.0"/><circle cx="303.2" cy="637.1"/><circle cx="305.6" cy="638.1"/><circle cx="310.0" cy="637.5"/><circle cx="301.5" cy="635.8"/><circle cx="311.4" cy="637.3"/><circle cx="304.8" cy="633.5"/><circle cx="300.1" cy="631.2"/><circle cx="300.3" cy="628.7"/><circle cx="304.9" cy="633.8"/><circle cx="301.8" cy="633.8"/><circle cx="304.1" cy="632.5"/><circle cx="304.0" cy="626.1"/><circle cx="309.5" cy="634.0"/></g>
<path d="M310.8,661.0 L310.8,638.2 L312.2,636.7 L313.2,633.1 L314.2,635.9 L315.2,635.3 L316.2,636.1 L317.2,638.8 L318.2,636.0 L319.2,637.2 L320.2,640.3 L321.2,640.1 L322.2,639.7 L323.2,637.6 L323.4,638.5 L323.4,638.5 L323.4,661.0Z" fill="#1B9E77"/><g class="p" fill="#1B9E77" stroke="#1B9E77"><circle cx="316.5" cy="631.9"/><circle cx="318.1" cy="635.1"/><circle cx="312.1" cy="634.3"/><circle cx="323.5" cy="636.5"/><circle cx="323.3" cy="637.6"/><circle cx="312.8" cy="627.8"/><circle cx="316.4" cy="633.9"/><circle cx="314.7" cy="636.6"/><circle cx="321.0" cy="634.4"/><circle cx="313.2" cy="633.9"/><circle cx="317.0" cy="638.3"/><circle cx="316.0" cy="634.6"/><circle cx="313.1" cy="630.6"/><circle cx="314.2" cy="636.2"/><circle cx="321.6" cy="640.7"/><circle cx="317.7" cy="638.7"/><circle cx="323.7" cy="636.0"/><circle cx="323.3" cy="635.9"/><circle cx="312.0" cy="635.0"/><circle cx="315.6" cy="633.6"/><circle cx="315.9" cy="634.0"/><circle cx="323.1" cy="639.2"/><circle cx="314.2" cy="624.1"/><circle cx="319.3" cy="628.0"/><circle cx="317.6" cy="631.7"/><circle cx="319.4" cy="630.6"/><circle cx="313.5" cy="625.4"/><circle cx="312.7" cy="621.6"/><circle cx="317.1" cy="624.4"/><circle cx="313.9" cy="625.5"/><circle cx="314.5" cy="629.5"/><circle cx="316.6" cy="633.4"/></g>
<path d="M322.0,661.0 L322.0,642.2 L323.4,640.7 L324.4,641.2 L325.4,637.9 L326.4,635.1 L327.4,635.8 L328.4,635.2 L329.4,635.5 L330.4,640.1 L331.4,639.5 L332.4,637.4 L333.2,642.5 L333.2,642.5 L333.2,661.0Z" fill="#D95F02"/><g class="p" fill="#D95F02" stroke="#D95F02"><circle cx="330.0" cy="636.2"/><circle cx="332.4" cy="634.9"/><circle cx="326.1" cy="635.7"/><circle cx="332.0" cy="638.1"/><circle cx="330.1" cy="640.9"/><circle cx="331.9" cy="640.6"/><circle cx="333.5" cy="642.7"/><circle cx="328.5" cy="632.7"/><circle cx="330.4" cy="638.4"/><circle cx="333.0" cy="640.8"/><circle cx="329.8" cy="633.9"/><circle cx="324.2" cy="641.9"/><circle cx="332.4" cy="638.1"/><circle cx="326.7" cy="635.1"/><circle cx="324.3" cy="641.7"/><circle cx="330.8" cy="641.3"/><circle cx="327.5" cy="633.6"/><circle cx="327.6" cy="632.5"/><circle cx="325.3" cy="636.1"/><circle cx="326.4" cy="623.2"/><circle cx="329.0" cy="628.6"/><circle cx="326.5" cy="628.8"/><circle cx="330.6" cy="629.5"/><circle cx="328.8" cy="617.1"/><circle cx="328.8" cy="622.2"/><circle cx="324.4" cy="628.4"/><circle cx="329.7" cy="631.7"/></g>
<path d="M331.8,661.0 L331.8,639.7 L333.2,638.2 L334.2,639.2 L335.2,635.5 L336.2,633.6 L337.2,634.7 L338.2,635.3 L339.2,638.2 L340.2,634.3 L341.2,632.9 L342.2,640.7 L342.7,639.0 L342.7,639.0 L342.7,661.0Z" fill="#7570B3"/><g class="p" fill="#7570B3" stroke="#7570B3"><circle cx="337.0" cy="630.6"/><circle cx="343.2" cy="637.1"/><circle cx="340.1" cy="635.2"/><circle cx="341.0" cy="631.1"/><circle cx="342.6" cy="641.4"/><circle cx="334.5" cy="636.6"/><circle cx="341.9" cy="635.7"/><circle cx="339.3" cy="638.9"/><circle cx="343.1" cy="638.9"/><circle cx="340.6" cy="632.0"/><circle cx="337.9" cy="634.2"/><circle cx="333.3" cy="638.7"/><circle cx="335.1" cy="636.4"/><circle cx="342.4" cy="641.2"/><circle cx="340.4" cy="632.2"/><circle cx="337.1" cy="635.7"/><circle cx="337.0" cy="632.5"/><circle cx="341.8" cy="641.3"/><circle cx="339.5" cy="638.0"/><circle cx="342.4" cy="633.8"/><circle cx="335.9" cy="625.6"/><circle cx="333.7" cy="629.8"/><circle cx="341.9" cy="633.2"/><circle cx="335.0" cy="631.2"/><circle cx="340.6" cy="632.3"/></g>
<path d="M341.3,661.0 L341.3,639.6 L342.7,638.1 L343.7,640.4 L344.7,638.4 L345.7,639.8 L346.7,638.0 L347.7,636.4 L348.7,641.4 L349.7,641.5 L350.7,643.2 L351.7,645.6 L352.7,644.6 L353.4,647.1 L353.4,647.1 L353.4,661.0Z" fill="#E7298A"/><g class="p" fill="#E7298A" stroke="#E7298A"><circle cx="351.4" cy="645.3"/><circle cx="350.6" cy="643.1"/><circle cx="353.0" cy="644.8"/><circle cx="343.6" cy="637.9"/><circle cx="344.0" cy="639.1"/><circle cx="350.7" cy="638.8"/><circle cx="343.4" cy="640.8"/><circle cx="347.1" cy="634.3"/><circle cx="348.4" cy="638.5"/><circle cx="352.6" cy="643.5"/><circle cx="351.9" cy="644.3"/><circle cx="353.1" cy="647.6"/><circle cx="346.9" cy="637.1"/><circle cx="345.4" cy="638.0"/><circle cx="346.9" cy="634.2"/><circle cx="347.4" cy="634.4"/><circle cx="347.7" cy="635.8"/><circle cx="343.6" cy="641.0"/><circle cx="353.4" cy="646.2"/><circle cx="345.6" cy="637.4"/><circle cx="352.8" cy="645.5"/><circle cx="348.3" cy="633.9"/><circle cx="348.8" cy="631.4"/><circle cx="346.9" cy="631.5"/><circle cx="351.7" cy="639.2"/><circle cx="347.4" cy="628.6"/><circle cx="344.5" cy="631.7"/></g>
<path d="M352.0,661.0 L352.0,641.6 L353.4,640.1 L354.4,638.4 L355.4,638.8 L356.4,637.4 L357.4,638.8 L358.4,638.3 L359.4,633.9 L360.4,634.7 L361.4,637.0 L362.4,634.0 L363.4,637.3 L364.1,638.7 L364.1,638.7 L364.1,661.0Z" fill="#66A61E"/><g class="p" fill="#66A61E" stroke="#66A61E"><circle cx="357.6" cy="636.1"/><circle cx="360.6" cy="635.4"/><circle cx="355.9" cy="637.8"/><circle cx="361.0" cy="637.8"/><circle cx="354.8" cy="637.6"/><circle cx="354.9" cy="639.0"/><circle cx="354.2" cy="637.0"/><circle cx="359.8" cy="630.6"/><circle cx="362.1" cy="630.3"/><circle cx="360.4" cy="633.9"/><circle cx="363.3" cy="634.2"/><circle cx="356.9" cy="633.7"/><circle cx="354.2" cy="636.5"/><circle cx="357.6" cy="638.3"/><circle cx="356.0" cy="632.8"/><circle cx="359.1" cy="629.3"/><circle cx="356.6" cy="632.6"/><circle cx="361.3" cy="636.5"/><circle cx="363.5" cy="631.5"/><circle cx="360.2" cy="635.7"/><circle cx="356.7" cy="637.0"/><circle cx="360.6" cy="626.2"/><circle cx="363.0" cy="630.2"/><circle cx="362.6" cy="625.3"/><circle cx="362.7" cy="622.2"/><circle cx="354.6" cy="628.2"/><circle cx="356.7" cy="617.7"/><circle cx="356.0" cy="621.6"/><circle cx="359.7" cy="622.2"/><circle cx="362.8" cy="621.6"/><circle cx="356.0" cy="624.4"/><circle cx="354.4" cy="625.0"/><circle cx="359.7" cy="625.5"/><circle cx="356.7" cy="628.4"/></g>
<path d="M362.7,661.0 L362.7,636.5 L364.1,635.0 L365.1,634.5 L366.1,636.5 L367.1,636.0 L368.1,639.4 L369.1,641.9 L370.1,641.1 L371.1,641.5 L372.1,641.5 L373.1,641.8 L373.2,641.1 L373.2,641.1 L373.2,661.0Z" fill="#E6AB02"/><g class="p" fill="#E6AB02" stroke="#E6AB02"><circle cx="365.5" cy="635.4"/><circle cx="373.4" cy="641.8"/><circle cx="373.2" cy="642.2"/><circle cx="373.0" cy="642.7"/><circle cx="364.1" cy="634.4"/><circle cx="371.7" cy="640.1"/><circle cx="368.1" cy="640.2"/><circle cx="364.0" cy="631.3"/><circle cx="372.3" cy="639.7"/><circle cx="367.6" cy="639.4"/><circle cx="370.1" cy="638.8"/><circle cx="369.1" cy="642.0"/><circle cx="371.3" cy="641.8"/><circle cx="368.7" cy="638.8"/><circle cx="369.5" cy="640.1"/><circle cx="365.1" cy="634.6"/><circle cx="368.6" cy="642.0"/><circle cx="367.2" cy="637.1"/><circle cx="373.0" cy="629.4"/><circle cx="370.1" cy="632.9"/><circle cx="373.3" cy="634.2"/><circle cx="367.2" cy="627.6"/><circle cx="366.6" cy="621.6"/><circle cx="371.1" cy="620.5"/><circle cx="372.6" cy="620.5"/><circle cx="364.3" cy="625.5"/><circle cx="372.6" cy="625.5"/><circle cx="365.0" cy="627.8"/><circle cx="367.3" cy="631.2"/><circle cx="370.4" cy="631.2"/></g>
<path d="M371.8,661.0 L371.8,640.8 L373.2,639.3 L374.2,638.0 L375.2,636.9 L376.2,637.9 L377.2,638.8 L378.2,638.1 L379.2,636.2 L380.2,637.5 L381.0,638.4 L381.0,638.4 L381.0,661.0Z" fill="#A6761D"/><g class="p" fill="#A6761D" stroke="#A6761D"><circle cx="375.4" cy="636.6"/><circle cx="373.4" cy="637.6"/><circle cx="373.6" cy="633.4"/><circle cx="379.5" cy="634.5"/><circle cx="375.6" cy="635.4"/><circle cx="381.4" cy="638.8"/><circle cx="381.3" cy="638.3"/><circle cx="374.7" cy="637.8"/><circle cx="379.3" cy="635.2"/><circle cx="376.8" cy="639.0"/><circle cx="376.7" cy="637.6"/><circle cx="376.1" cy="635.5"/><circle cx="373.8" cy="636.5"/><circle cx="375.8" cy="636.7"/><circle cx="373.9" cy="636.5"/><circle cx="372.9" cy="632.7"/><circle cx="377.6" cy="631.7"/><circle cx="379.9" cy="628.9"/><circle cx="377.6" cy="617.7"/><circle cx="377.2" cy="621.6"/><circle cx="377.2" cy="625.5"/><circle cx="380.2" cy="628.4"/><circle cx="374.2" cy="627.2"/></g>
<path d="M379.6,661.0 L379.6,635.4 L381.0,633.9 L382.0,633.3 L383.0,637.5 L384.0,638.0 L385.0,639.6 L386.0,641.6 L387.0,640.5 L388.0,637.6 L389.0,635.6 L390.0,635.8 L390.3,638.5 L390.3,638.5 L390.3,661.0Z" fill="#666666"/><g class="p" fill="#666666" stroke="#666666"><circle cx="383.9" cy="636.8"/><circle cx="386.8" cy="640.3"/><circle cx="390.0" cy="635.5"/><circle cx="382.0" cy="632.4"/><circle cx="389.8" cy="639.0"/><circle cx="385.5" cy="640.3"/><circle cx="388.8" cy="634.6"/><circle cx="384.4" cy="638.8"/><circle cx="383.0" cy="638.2"/><circle cx="380.6" cy="633.5"/><circle cx="390.1" cy="639.2"/><circle cx="390.7" cy="636.6"/><circle cx="386.4" cy="640.7"/><circle cx="385.8" cy="641.1"/><circle cx="380.7" cy="634.9"/><circle cx="384.2" cy="634.1"/><circle cx="381.2" cy="633.6"/><circle cx="386.7" cy="639.2"/><circle cx="386.0" cy="633.6"/><circle cx="383.1" cy="629.8"/><circle cx="386.3" cy="635.2"/><circle cx="387.4" cy="628.8"/><circle cx="388.3" cy="621.6"/><circle cx="388.6" cy="626.7"/><circle cx="388.6" cy="632.9"/><circle cx="381.7" cy="629.5"/></g>
<path d="M388.9,661.0 L388.9,638.2 L390.3,636.7 L391.3,634.1 L392.3,634.5 L393.3,633.7 L394.3,633.7 L395.3,633.6 L396.3,636.0 L396.6,635.9 L396.6,635.9 L396.6,661.0Z" fill="#1B9E77"/><g class="p" fill="#1B9E77" stroke="#1B9E77"><circle cx="391.9" cy="634.0"/><circle cx="394.7" cy="634.9"/><circle cx="392.3" cy="632.2"/><circle cx="393.4" cy="632.2"/><circle cx="389.9" cy="636.4"/><circle cx="396.4" cy="632.7"/><circle cx="393.9" cy="633.6"/><circle cx="391.5" cy="631.2"/><circle cx="393.6" cy="634.6"/><circle cx="390.5" cy="637.6"/><circle cx="396.8" cy="633.7"/><circle cx="394.1" cy="629.7"/><circle cx="391.7" cy="625.9"/><circle cx="392.3" cy="622.7"/><circle cx="393.9" cy="626.0"/><circle cx="390.6" cy="617.7"/><circle cx="391.6" cy="621.6"/><circle cx="396.2" cy="623.9"/><circle cx="390.6" cy="629.5"/><circle cx="395.9" cy="631.2"/></g>
<path d="M395.2,661.0 L395.2,640.1 L396.6,638.6 L397.6,636.7 L398.6,636.0 L399.6,635.0 L400.6,634.3 L401.6,631.8 L402.6,634.9 L403.6,637.2 L404.3,636.5 L404.3,636.5 L404.3,661.0Z" fill="#D95F02"/><g class="p" fill="#D95F02" stroke="#D95F02"><circle cx="396.7" cy="636.6"/><circle cx="403.3" cy="633.5"/><circle cx="401.1" cy="630.7"/><circle cx="403.7" cy="635.1"/><circle cx="398.5" cy="633.4"/><circle cx="401.3" cy="632.3"/><circle cx="400.9" cy="633.1"/><circle cx="402.2" cy="635.2"/><circle cx="404.0" cy="636.4"/><circle cx="401.8" cy="631.6"/><circle cx="398.9" cy="636.6"/><circle cx="404.0" cy="632.4"/><circle cx="401.6" cy="629.5"/><circle cx="399.4" cy="634.2"/><circle cx="399.6" cy="632.8"/><circle cx="402.3" cy="627.3"/><circle cx="402.5" cy="628.0"/><circle cx="396.6" cy="631.5"/><circle cx="397.7" cy="629.5"/></g>
<path d="M402.9,661.0 L402.9,642.4 L404.3,640.9 L405.3,641.2 L406.3,639.4 L407.3,640.3 L408.3,638.8 L409.3,640.0 L410.3,640.8 L411.1,642.7 L411.1,642.7 L411.1,661.0Z" fill="#7570B3"/><g class="p" fill="#7570B3" stroke="#7570B3"><circle cx="409.8" cy="636.9"/><circle cx="405.6" cy="639.1"/><circle cx="405.8" cy="640.4"/><circle cx="404.3" cy="636.0"/><circle cx="407.7" cy="637.8"/><circle cx="404.5" cy="637.4"/><circle cx="405.6" cy="640.0"/><circle cx="404.5" cy="637.2"/><circle cx="411.3" cy="641.6"/><circle cx="410.7" cy="643.2"/><circle cx="406.2" cy="639.4"/><circle cx="405.6" cy="639.3"/><circle cx="404.0" cy="641.4"/><circle cx="410.5" cy="632.2"/><circle cx="404.0" cy="634.5"/><circle cx="405.7" cy="630.2"/><circle cx="404.5" cy="621.6"/><circle cx="406.8" cy="622.2"/><circle cx="404.5" cy="625.5"/><circle cx="405.7" cy="630.0"/><circle cx="409.1" cy="628.4"/><circle cx="409.8" cy="630.0"/></g>
<path d="M409.7,661.0 L409.7,637.2 L411.1,635.7 L412.1,637.5 L413.1,635.0 L414.1,635.0 L415.1,633.9 L416.1,634.3 L417.1,636.3 L418.0,633.8 L418.0,633.8 L418.0,661.0Z" fill="#E7298A"/><g class="p" fill="#E7298A" stroke="#E7298A"><circle cx="415.2" cy="633.7"/><circle cx="413.3" cy="635.3"/><circle cx="413.8" cy="632.3"/><circle cx="417.5" cy="633.8"/><circle cx="417.4" cy="637.0"/><circle cx="417.2" cy="634.7"/><circle cx="411.9" cy="638.4"/><circle cx="415.6" cy="633.2"/><circle cx="413.2" cy="635.0"/><circle cx="417.5" cy="634.0"/><circle cx="413.3" cy="635.4"/><circle cx="413.1" cy="634.4"/><circle cx="413.3" cy="629.9"/><circle cx="416.8" cy="624.6"/><circle cx="410.8" cy="628.8"/><circle cx="418.2" cy="626.0"/><circle cx="415.5" cy="617.7"/><circle cx="413.6" cy="621.6"/><circle cx="413.2" cy="626.1"/><circle cx="414.4" cy="632.3"/></g>
<path d="M416.6,661.0 L416.6,636.7 L418.0,635.2 L419.0,634.0 L420.0,641.2 L421.0,639.5 L422.0,641.9 L423.0,645.7 L424.0,645.0 L425.0,647.7 L425.6,642.7 L425.6,642.7 L425.6,661.0Z" fill="#66A61E"/><g class="p" fill="#66A61E" stroke="#66A61E"><circle cx="425.2" cy="642.8"/><circle cx="425.6" cy="639.8"/><circle cx="417.9" cy="634.5"/><circle cx="423.6" cy="644.5"/><circle cx="425.6" cy="643.5"/><circle cx="423.2" cy="645.4"/><circle cx="425.0" cy="646.5"/><circle cx="418.6" cy="629.3"/><circle cx="425.4" cy="643.0"/><circle cx="418.4" cy="631.9"/><circle cx="426.0" cy="642.4"/><circle cx="425.5" cy="642.6"/><circle cx="420.6" cy="638.4"/><circle cx="422.5" cy="641.6"/><circle cx="421.0" cy="638.4"/><circle cx="419.0" cy="626.1"/><circle cx="420.4" cy="635.4"/><circle cx="420.2" cy="635.2"/><circle cx="419.4" cy="621.6"/><circle cx="420.5" cy="631.2"/><circle cx="425.0" cy="635.1"/></g>
<circle cx="66.00" cy="550.74" r="1.3" fill="#18916D" stroke="#18916D" stroke-width="0.4"/>
<circle cx="390.90" cy="578.86" r="1.3" fill="#18916D" stroke="#18916D" stroke-width="0.4"/>
<circle cx="404.50" cy="552.42" r="1.3" fill="#6B67A4" stroke="#6B67A4" stroke-width="0.4"/>
<line x1="36.4" x2="443.5" y1="586.12" y2="586.12" stroke="#FF0000" stroke-opacity="0.7" stroke-width="1.45" stroke-dasharray="3.7 2.96" stroke-dashoffset="0.1"/>
<rect x="36.4" y="545.6" width="407.1" height="118.79999999999995" fill="none" stroke="#7A7A7A" stroke-width="1.2"/>
<line x1="33.3" x2="36.4" y1="659.30" y2="659.30" stroke="#666" stroke-width="1"/>
<text x="30.8" y="663.05" text-anchor="end" font-size="10.4" fill="#4D4D4D" font-family="Liberation Sans, sans-serif">0.0</text>
<line x1="33.3" x2="36.4" y1="631.17" y2="631.17" stroke="#666" stroke-width="1"/>
<text x="30.8" y="634.92" text-anchor="end" font-size="10.4" fill="#4D4D4D" font-family="Liberation Sans, sans-serif">0.5</text>
<line x1="33.3" x2="36.4" y1="603.05" y2="603.05" stroke="#666" stroke-width="1"/>
<text x="30.8" y="606.80" text-anchor="end" font-size="10.4" fill="#4D4D4D" font-family="Liberation Sans, sans-serif">1.0</text>
<line x1="33.3" x2="36.4" y1="574.92" y2="574.92" stroke="#666" stroke-width="1"/>
<text x="30.8" y="578.67" text-anchor="end" font-size="10.4" fill="#4D4D4D" font-family="Liberation Sans, sans-serif">1.5</text>
<line x1="33.3" x2="36.4" y1="546.80" y2="546.80" stroke="#666" stroke-width="1"/>
<text x="30.8" y="550.55" text-anchor="end" font-size="10.4" fill="#4D4D4D" font-family="Liberation Sans, sans-serif">2.0</text>
<line x1="66.23" x2="66.23" y1="664.4" y2="667.5" stroke="#666" stroke-width="1"/>
<text x="66.23" y="677.80" text-anchor="middle" font-size="10.4" fill="#4D4D4D" font-family="Liberation Sans, sans-serif">1</text>
<line x1="107.28" x2="107.28" y1="664.4" y2="667.5" stroke="#666" stroke-width="1"/>
<text x="107.28" y="677.80" text-anchor="middle" font-size="10.4" fill="#4D4D4D" font-family="Liberation Sans, sans-serif">3</text>
<line x1="143.05" x2="143.05" y1="664.4" y2="667.5" stroke="#666" stroke-width="1"/>
<text x="143.05" y="677.80" text-anchor="middle" font-size="10.4" fill="#4D4D4D" font-family="Liberation Sans, sans-serif">5</text>
<line x1="177.73" x2="177.73" y1="664.4" y2="667.5" stroke="#666" stroke-width="1"/>
<text x="177.73" y="677.80" text-anchor="middle" font-size="10.4" fill="#4D4D4D" font-family="Liberation Sans, sans-serif">7</text>
<line x1="210.65" x2="210.65" y1="664.4" y2="667.5" stroke="#666" stroke-width="1"/>
<text x="210.65" y="677.80" text-anchor="middle" font-size="10.4" fill="#4D4D4D" font-family="Liberation Sans, sans-serif">9</text>
<line x1="241.82" x2="241.82" y1="664.4" y2="667.5" stroke="#666" stroke-width="1"/>
<text x="241.82" y="677.80" text-anchor="middle" font-size="10.4" fill="#4D4D4D" font-family="Liberation Sans, sans-serif">11</text>
<line x1="268.95" x2="268.95" y1="664.4" y2="667.5" stroke="#666" stroke-width="1"/>
<text x="268.95" y="677.80" text-anchor="middle" font-size="10.4" fill="#4D4D4D" font-family="Liberation Sans, sans-serif">13</text>
<line x1="293.73" x2="293.73" y1="664.4" y2="667.5" stroke="#666" stroke-width="1"/>
<text x="293.73" y="677.80" text-anchor="middle" font-size="10.4" fill="#4D4D4D" font-family="Liberation Sans, sans-serif">15</text>
<line x1="317.79" x2="317.79" y1="664.4" y2="667.5" stroke="#666" stroke-width="1"/>
<text x="317.79" y="677.80" text-anchor="middle" font-size="10.4" fill="#4D4D4D" font-family="Liberation Sans, sans-serif">17</text>
<line x1="337.97" x2="337.97" y1="664.4" y2="667.5" stroke="#666" stroke-width="1"/>
<text x="337.97" y="677.80" text-anchor="middle" font-size="10.4" fill="#4D4D4D" font-family="Liberation Sans, sans-serif">19</text>
<line x1="358.76" x2="358.76" y1="664.4" y2="667.5" stroke="#666" stroke-width="1"/>
<text x="358.76" y="677.80" text-anchor="middle" font-size="10.4" fill="#4D4D4D" font-family="Liberation Sans, sans-serif">21</text>
<line x1="377.12" x2="377.12" y1="664.4" y2="667.5" stroke="#666" stroke-width="1"/>
<text x="377.12" y="677.80" text-anchor="middle" font-size="10.4" fill="#4D4D4D" font-family="Liberation Sans, sans-serif">23</text>
<line x1="393.44" x2="393.44" y1="664.4" y2="667.5" stroke="#666" stroke-width="1"/>
<text x="393.44" y="677.80" text-anchor="middle" font-size="10.4" fill="#4D4D4D" font-family="Liberation Sans, sans-serif">25</text>
<line x1="407.72" x2="407.72" y1="664.4" y2="667.5" stroke="#666" stroke-width="1"/>
<text x="407.72" y="677.80" text-anchor="middle" font-size="10.4" fill="#4D4D4D" font-family="Liberation Sans, sans-serif">27</text>
<line x1="421.79" x2="421.79" y1="664.4" y2="667.5" stroke="#666" stroke-width="1"/>
<text x="421.79" y="677.80" text-anchor="middle" font-size="10.4" fill="#4D4D4D" font-family="Liberation Sans, sans-serif">29</text>
<text x="239.95" y="690.10" text-anchor="middle" font-size="10.4" fill="#1A1A1A" font-family="Liberation Sans, sans-serif">Chromosome</text>
<text transform="translate(9.7,605.00) rotate(-90)" text-anchor="middle" font-size="10.3" fill="#000" font-family="Liberation Sans, sans-serif">−<tspan dx="2.4">log</tspan><tspan font-size="7.3" dy="2.2">10</tspan><tspan dy="-2.2">(FDR)</tspan></text>
<text x="36.6" y="538.10" font-size="11.2" font-weight="bold" fill="#000" font-family="Liberation Sans, sans-serif">RTP</text>
<rect x="480.8" y="545.6" width="202.90000000000003" height="118.79999999999995" fill="#fff"/>
<line x1="480.8" x2="683.7" y1="642.45" y2="642.45" stroke="#EBEBEB" stroke-width="0.5"/>
<line x1="480.8" x2="683.7" y1="609.15" y2="609.15" stroke="#EBEBEB" stroke-width="0.5"/>
<line x1="480.8" x2="683.7" y1="575.85" y2="575.85" stroke="#EBEBEB" stroke-width="0.5"/>
<line x1="508.41" x2="508.41" y1="545.6" y2="664.4" stroke="#EBEBEB" stroke-width="0.5"/>
<line x1="546.33" x2="546.33" y1="545.6" y2="664.4" stroke="#EBEBEB" stroke-width="0.5"/>
<line x1="584.25" x2="584.25" y1="545.6" y2="664.4" stroke="#EBEBEB" stroke-width="0.5"/>
<line x1="622.17" x2="622.17" y1="545.6" y2="664.4" stroke="#EBEBEB" stroke-width="0.5"/>
<line x1="660.09" x2="660.09" y1="545.6" y2="664.4" stroke="#EBEBEB" stroke-width="0.5"/>
<line x1="480.8" x2="683.7" y1="659.10" y2="659.10" stroke="#EBEBEB" stroke-width="1"/>
<line x1="480.8" x2="683.7" y1="625.80" y2="625.80" stroke="#EBEBEB" stroke-width="1"/>
<line x1="480.8" x2="683.7" y1="592.50" y2="592.50" stroke="#EBEBEB" stroke-width="1"/>
<line x1="480.8" x2="683.7" y1="559.20" y2="559.20" stroke="#EBEBEB" stroke-width="1"/>
<line x1="489.45" x2="489.45" y1="545.6" y2="664.4" stroke="#EBEBEB" stroke-width="1"/>
<line x1="527.37" x2="527.37" y1="545.6" y2="664.4" stroke="#EBEBEB" stroke-width="1"/>
<line x1="565.29" x2="565.29" y1="545.6" y2="664.4" stroke="#EBEBEB" stroke-width="1"/>
<line x1="603.21" x2="603.21" y1="545.6" y2="664.4" stroke="#EBEBEB" stroke-width="1"/>
<line x1="641.13" x2="641.13" y1="545.6" y2="664.4" stroke="#EBEBEB" stroke-width="1"/>
<line x1="679.05" x2="679.05" y1="545.6" y2="664.4" stroke="#EBEBEB" stroke-width="1"/>
<clipPath id="qc3"><rect x="480.8" y="545.6" width="202.90000000000003" height="118.79999999999995"/></clipPath>
<line clip-path="url(#qc3)" x1="470.49" y1="667.43" x2="698.01" y2="567.53" stroke="#FF0000" stroke-width="1.2" stroke-dasharray="3.2 3.5" stroke-dashoffset="3.2"/>
<polyline points="577.4,612.5 575.5,613.9 573.6,615.3 571.7,616.6 569.8,617.6 567.9,618.7 566.0,619.8 564.2,620.7 562.3,621.7 560.4,622.6 558.5,623.5 556.6,624.4 554.7,625.4 552.8,626.3 550.9,627.2 549.0,628.2 547.1,629.1 545.2,630.0 543.3,631.0 541.4,631.9 539.5,632.8 537.6,633.8 535.7,634.7 533.8,635.6 531.9,636.6 530.0,637.5 528.1,638.4 526.2,639.4 524.3,640.4 522.4,641.5 520.5,642.5 518.6,643.5 516.8,644.5 514.9,645.5 513.0,646.5 511.1,647.5 509.2,648.6 507.3,649.6 505.4,650.6 503.5,651.6 501.6,652.6 499.7,653.6 497.8,654.6 495.9,655.7 494.0,656.7 492.1,657.7 490.2,658.7 489.4,659.1" fill="none" stroke="#000" stroke-width="3.2" stroke-linecap="round" stroke-linejoin="round"/>
<g fill="#000"><circle cx="674.9" cy="550.2" r="1.4"/><circle cx="656.8" cy="556.0" r="1.4"/><circle cx="648.4" cy="566.6" r="1.4"/><circle cx="642.8" cy="580.4" r="1.4"/><circle cx="638.7" cy="585.7" r="1.4"/><circle cx="635.4" cy="587.8" r="1.4"/><circle cx="632.6" cy="588.2" r="1.4"/><circle cx="630.3" cy="588.5" r="1.4"/><circle cx="628.2" cy="588.8" r="1.4"/><circle cx="626.4" cy="589.0" r="1.4"/><circle cx="624.7" cy="589.2" r="1.4"/><circle cx="623.2" cy="589.3" r="1.4"/><circle cx="621.9" cy="589.5" r="1.4"/><circle cx="620.6" cy="589.7" r="1.4"/><circle cx="619.4" cy="589.9" r="1.4"/><circle cx="618.3" cy="590.1" r="1.4"/><circle cx="617.3" cy="590.5" r="1.4"/><circle cx="616.3" cy="591.0" r="1.4"/><circle cx="615.4" cy="591.5" r="1.4"/><circle cx="614.5" cy="591.8" r="1.4"/><circle cx="613.7" cy="592.1" r="1.4"/><circle cx="612.9" cy="592.3" r="1.4"/><circle cx="612.2" cy="592.6" r="1.4"/><circle cx="611.5" cy="592.9" r="1.4"/><circle cx="610.8" cy="593.2" r="1.4"/><circle cx="610.1" cy="593.5" r="1.4"/><circle cx="609.5" cy="593.9" r="1.4"/><circle cx="608.9" cy="594.2" r="1.4"/><circle cx="608.3" cy="594.5" r="1.4"/><circle cx="607.7" cy="595.1" r="1.4"/><circle cx="607.2" cy="595.6" r="1.4"/><circle cx="606.6" cy="596.0" r="1.4"/><circle cx="606.1" cy="596.5" r="1.4"/><circle cx="605.6" cy="597.0" r="1.4"/><circle cx="605.1" cy="597.4" r="1.4"/><circle cx="604.7" cy="597.8" r="1.4"/><circle cx="604.2" cy="598.3" r="1.4"/><circle cx="603.8" cy="598.6" r="1.4"/><circle cx="603.3" cy="598.8" r="1.4"/><circle cx="602.9" cy="599.0" r="1.4"/><circle cx="602.5" cy="599.2" r="1.4"/><circle cx="602.1" cy="599.4" r="1.4"/><circle cx="601.7" cy="599.6" r="1.4"/><circle cx="601.3" cy="599.8" r="1.4"/><circle cx="601.0" cy="600.0" r="1.4"/><circle cx="600.6" cy="600.2" r="1.4"/><circle cx="600.2" cy="600.4" r="1.4"/><circle cx="599.9" cy="600.5" r="1.4"/><circle cx="599.5" cy="600.7" r="1.4"/><circle cx="599.2" cy="600.9" r="1.4"/><circle cx="598.9" cy="601.0" r="1.4"/><circle cx="598.5" cy="601.2" r="1.4"/><circle cx="598.2" cy="601.3" r="1.4"/><circle cx="597.9" cy="601.5" r="1.4"/><circle cx="597.6" cy="601.6" r="1.4"/><circle cx="597.3" cy="601.8" r="1.4"/><circle cx="597.0" cy="601.9" r="1.4"/><circle cx="596.7" cy="602.1" r="1.4"/><circle cx="596.4" cy="602.2" r="1.4"/><circle cx="596.2" cy="602.4" r="1.4"/><circle cx="595.9" cy="602.5" r="1.4"/><circle cx="595.6" cy="602.6" r="1.4"/><circle cx="595.4" cy="602.8" r="1.4"/><circle cx="595.1" cy="602.9" r="1.4"/><circle cx="594.8" cy="602.9" r="1.4"/><circle cx="594.6" cy="603.0" r="1.4"/><circle cx="594.3" cy="603.1" r="1.4"/><circle cx="594.1" cy="603.1" r="1.4"/><circle cx="593.8" cy="603.2" r="1.4"/><circle cx="593.6" cy="603.3" r="1.4"/><circle cx="593.4" cy="603.3" r="1.4"/><circle cx="593.1" cy="603.4" r="1.4"/><circle cx="592.9" cy="603.4" r="1.4"/><circle cx="592.7" cy="603.5" r="1.4"/><circle cx="592.5" cy="603.6" r="1.4"/><circle cx="592.2" cy="603.6" r="1.4"/><circle cx="592.0" cy="603.7" r="1.4"/><circle cx="591.8" cy="603.7" r="1.4"/><circle cx="591.6" cy="603.8" r="1.4"/><circle cx="591.4" cy="603.9" r="1.4"/><circle cx="591.2" cy="603.9" r="1.4"/><circle cx="591.0" cy="604.0" r="1.4"/><circle cx="590.8" cy="604.0" r="1.4"/><circle cx="590.6" cy="604.1" r="1.4"/><circle cx="590.4" cy="604.1" r="1.4"/><circle cx="590.2" cy="604.2" r="1.4"/><circle cx="590.0" cy="604.2" r="1.4"/><circle cx="589.8" cy="604.3" r="1.4"/><circle cx="589.6" cy="604.3" r="1.4"/><circle cx="589.4" cy="604.4" r="1.4"/><circle cx="589.3" cy="604.4" r="1.4"/><circle cx="589.1" cy="604.5" r="1.4"/><circle cx="588.9" cy="604.5" r="1.4"/><circle cx="588.7" cy="604.6" r="1.4"/><circle cx="588.6" cy="604.6" r="1.4"/><circle cx="588.4" cy="604.7" r="1.4"/><circle cx="588.2" cy="604.8" r="1.4"/><circle cx="588.0" cy="604.9" r="1.4"/><circle cx="587.9" cy="605.0" r="1.4"/><circle cx="587.7" cy="605.2" r="1.4"/><circle cx="587.5" cy="605.3" r="1.4"/><circle cx="587.4" cy="605.4" r="1.4"/><circle cx="587.2" cy="605.5" r="1.4"/><circle cx="587.1" cy="605.6" r="1.4"/><circle cx="586.9" cy="605.7" r="1.4"/><circle cx="586.7" cy="605.8" r="1.4"/><circle cx="586.6" cy="605.9" r="1.4"/><circle cx="586.4" cy="606.0" r="1.4"/><circle cx="586.3" cy="606.2" r="1.4"/><circle cx="586.1" cy="606.3" r="1.4"/><circle cx="586.0" cy="606.4" r="1.4"/><circle cx="585.8" cy="606.5" r="1.4"/><circle cx="585.7" cy="606.6" r="1.4"/><circle cx="585.5" cy="606.7" r="1.4"/><circle cx="585.4" cy="606.8" r="1.4"/><circle cx="585.2" cy="606.9" r="1.4"/><circle cx="585.1" cy="607.0" r="1.4"/><circle cx="585.0" cy="607.1" r="1.4"/><circle cx="584.8" cy="607.2" r="1.4"/><circle cx="584.7" cy="607.3" r="1.4"/><circle cx="584.5" cy="607.4" r="1.4"/><circle cx="584.4" cy="607.5" r="1.4"/><circle cx="584.3" cy="607.5" r="1.4"/><circle cx="584.1" cy="607.6" r="1.4"/><circle cx="584.0" cy="607.7" r="1.4"/><circle cx="583.9" cy="607.8" r="1.4"/><circle cx="583.7" cy="607.9" r="1.4"/><circle cx="583.6" cy="608.0" r="1.4"/><circle cx="583.5" cy="608.1" r="1.4"/><circle cx="583.4" cy="608.2" r="1.4"/><circle cx="583.2" cy="608.3" r="1.4"/><circle cx="583.1" cy="608.4" r="1.4"/><circle cx="583.0" cy="608.5" r="1.4"/><circle cx="582.9" cy="608.5" r="1.4"/><circle cx="582.7" cy="608.6" r="1.4"/><circle cx="582.6" cy="608.7" r="1.4"/><circle cx="582.5" cy="608.8" r="1.4"/><circle cx="582.4" cy="608.9" r="1.4"/><circle cx="582.3" cy="609.0" r="1.4"/><circle cx="582.1" cy="609.0" r="1.4"/><circle cx="582.0" cy="609.1" r="1.4"/><circle cx="581.9" cy="609.2" r="1.4"/><circle cx="581.8" cy="609.3" r="1.4"/><circle cx="581.7" cy="609.4" r="1.4"/><circle cx="581.6" cy="609.4" r="1.4"/><circle cx="581.4" cy="609.5" r="1.4"/><circle cx="581.3" cy="609.6" r="1.4"/><circle cx="581.2" cy="609.7" r="1.4"/><circle cx="581.1" cy="609.8" r="1.4"/><circle cx="581.0" cy="609.8" r="1.4"/><circle cx="580.9" cy="609.9" r="1.4"/><circle cx="580.8" cy="610.0" r="1.4"/><circle cx="580.7" cy="610.1" r="1.4"/><circle cx="580.6" cy="610.1" r="1.4"/><circle cx="580.5" cy="610.2" r="1.4"/><circle cx="580.3" cy="610.3" r="1.4"/><circle cx="580.2" cy="610.4" r="1.4"/><circle cx="580.1" cy="610.4" r="1.4"/><circle cx="580.0" cy="610.5" r="1.4"/><circle cx="579.9" cy="610.6" r="1.4"/><circle cx="579.8" cy="610.7" r="1.4"/><circle cx="579.7" cy="610.7" r="1.4"/><circle cx="579.6" cy="610.8" r="1.4"/><circle cx="579.5" cy="610.9" r="1.4"/><circle cx="579.4" cy="611.0" r="1.4"/><circle cx="579.3" cy="611.0" r="1.4"/><circle cx="579.2" cy="611.1" r="1.4"/><circle cx="579.1" cy="611.2" r="1.4"/><circle cx="579.0" cy="611.3" r="1.4"/><circle cx="578.9" cy="611.3" r="1.4"/><circle cx="578.8" cy="611.4" r="1.4"/><circle cx="578.7" cy="611.5" r="1.4"/><circle cx="578.6" cy="611.6" r="1.4"/><circle cx="578.5" cy="611.6" r="1.4"/><circle cx="578.4" cy="611.7" r="1.4"/><circle cx="578.4" cy="611.8" r="1.4"/><circle cx="578.3" cy="611.8" r="1.4"/><circle cx="578.2" cy="611.9" r="1.4"/><circle cx="578.1" cy="612.0" r="1.4"/><circle cx="578.0" cy="612.0" r="1.4"/><circle cx="577.9" cy="612.1" r="1.4"/><circle cx="577.8" cy="612.2" r="1.4"/><circle cx="577.7" cy="612.2" r="1.4"/><circle cx="577.6" cy="612.3" r="1.4"/><circle cx="577.5" cy="612.4" r="1.4"/><circle cx="577.4" cy="612.4" r="1.4"/><circle cx="577.4" cy="612.5" r="1.4"/><circle cx="577.3" cy="612.6" r="1.4"/><circle cx="577.2" cy="612.6" r="1.4"/><circle cx="577.1" cy="612.7" r="1.4"/><circle cx="577.0" cy="612.8" r="1.4"/><circle cx="576.9" cy="612.8" r="1.4"/><circle cx="576.8" cy="612.9" r="1.4"/><circle cx="576.7" cy="613.0" r="1.4"/></g>
<rect x="480.8" y="545.6" width="202.90000000000003" height="118.79999999999995" fill="none" stroke="#7A7A7A" stroke-width="1.2"/>
<line x1="477.7" x2="480.8" y1="659.10" y2="659.10" stroke="#666" stroke-width="1"/>
<text x="475.40" y="662.85" text-anchor="end" font-size="10.4" fill="#4D4D4D" font-family="Liberation Sans, sans-serif">0</text>
<line x1="477.7" x2="480.8" y1="625.80" y2="625.80" stroke="#666" stroke-width="1"/>
<text x="475.40" y="629.55" text-anchor="end" font-size="10.4" fill="#4D4D4D" font-family="Liberation Sans, sans-serif">2</text>
<line x1="477.7" x2="480.8" y1="592.50" y2="592.50" stroke="#666" stroke-width="1"/>
<text x="475.40" y="596.25" text-anchor="end" font-size="10.4" fill="#4D4D4D" font-family="Liberation Sans, sans-serif">4</text>
<line x1="477.7" x2="480.8" y1="559.20" y2="559.20" stroke="#666" stroke-width="1"/>
<text x="475.40" y="562.95" text-anchor="end" font-size="10.4" fill="#4D4D4D" font-family="Liberation Sans, sans-serif">6</text>
<line x1="489.45" x2="489.45" y1="664.4" y2="667.5" stroke="#666" stroke-width="1"/>
<text x="489.45" y="677.80" text-anchor="middle" font-size="10.4" fill="#4D4D4D" font-family="Liberation Sans, sans-serif">0</text>
<line x1="527.37" x2="527.37" y1="664.4" y2="667.5" stroke="#666" stroke-width="1"/>
<text x="527.37" y="677.80" text-anchor="middle" font-size="10.4" fill="#4D4D4D" font-family="Liberation Sans, sans-serif">1</text>
<line x1="565.29" x2="565.29" y1="664.4" y2="667.5" stroke="#666" stroke-width="1"/>
<text x="565.29" y="677.80" text-anchor="middle" font-size="10.4" fill="#4D4D4D" font-family="Liberation Sans, sans-serif">2</text>
<line x1="603.21" x2="603.21" y1="664.4" y2="667.5" stroke="#666" stroke-width="1"/>
<text x="603.21" y="677.80" text-anchor="middle" font-size="10.4" fill="#4D4D4D" font-family="Liberation Sans, sans-serif">3</text>
<line x1="641.13" x2="641.13" y1="664.4" y2="667.5" stroke="#666" stroke-width="1"/>
<text x="641.13" y="677.80" text-anchor="middle" font-size="10.4" fill="#4D4D4D" font-family="Liberation Sans, sans-serif">4</text>
<line x1="679.05" x2="679.05" y1="664.4" y2="667.5" stroke="#666" stroke-width="1"/>
<text x="679.05" y="677.80" text-anchor="middle" font-size="10.4" fill="#4D4D4D" font-family="Liberation Sans, sans-serif">5</text>
<text x="582.25" y="691.60" text-anchor="middle" font-size="10.4" fill="#1A1A1A" font-family="Liberation Sans, sans-serif" xml:space="preserve">Expected  − log<tspan font-size="7.3" dy="2.2">10</tspan><tspan dy="-2.2">(P)</tspan></text>
<text transform="translate(462.5,605.00) rotate(-90)" text-anchor="middle" font-size="10.4" fill="#1A1A1A" font-family="Liberation Sans, sans-serif" xml:space="preserve">Observed  − log<tspan font-size="7.3" dy="2.2">10</tspan><tspan dy="-2.2">(P)</tspan></text>
<text x="481.1" y="538.10" font-size="11.2" font-weight="bold" fill="#000" font-family="Liberation Sans, sans-serif">RTP</text>
<rect x="36.4" y="721.7" width="407.1" height="118.79999999999995" fill="#fff"/>
<line x1="36.4" x2="443.5" y1="819.82" y2="819.82" stroke="#EBEBEB" stroke-width="0.5"/>
<line x1="36.4" x2="443.5" y1="788.88" y2="788.88" stroke="#EBEBEB" stroke-width="0.5"/>
<line x1="36.4" x2="443.5" y1="757.92" y2="757.92" stroke="#EBEBEB" stroke-width="0.5"/>
<line x1="36.4" x2="443.5" y1="726.97" y2="726.97" stroke="#EBEBEB" stroke-width="0.5"/>
<line x1="45.70" x2="45.70" y1="721.7" y2="840.5" stroke="#EBEBEB" stroke-width="0.5"/>
<line x1="86.75" x2="86.75" y1="721.7" y2="840.5" stroke="#EBEBEB" stroke-width="0.5"/>
<line x1="125.16" x2="125.16" y1="721.7" y2="840.5" stroke="#EBEBEB" stroke-width="0.5"/>
<line x1="160.39" x2="160.39" y1="721.7" y2="840.5" stroke="#EBEBEB" stroke-width="0.5"/>
<line x1="194.19" x2="194.19" y1="721.7" y2="840.5" stroke="#EBEBEB" stroke-width="0.5"/>
<line x1="226.24" x2="226.24" y1="721.7" y2="840.5" stroke="#EBEBEB" stroke-width="0.5"/>
<line x1="255.38" x2="255.38" y1="721.7" y2="840.5" stroke="#EBEBEB" stroke-width="0.5"/>
<line x1="281.34" x2="281.34" y1="721.7" y2="840.5" stroke="#EBEBEB" stroke-width="0.5"/>
<line x1="305.76" x2="305.76" y1="721.7" y2="840.5" stroke="#EBEBEB" stroke-width="0.5"/>
<line x1="327.88" x2="327.88" y1="721.7" y2="840.5" stroke="#EBEBEB" stroke-width="0.5"/>
<line x1="348.37" x2="348.37" y1="721.7" y2="840.5" stroke="#EBEBEB" stroke-width="0.5"/>
<line x1="367.94" x2="367.94" y1="721.7" y2="840.5" stroke="#EBEBEB" stroke-width="0.5"/>
<line x1="385.28" x2="385.28" y1="721.7" y2="840.5" stroke="#EBEBEB" stroke-width="0.5"/>
<line x1="400.58" x2="400.58" y1="721.7" y2="840.5" stroke="#EBEBEB" stroke-width="0.5"/>
<line x1="414.75" x2="414.75" y1="721.7" y2="840.5" stroke="#EBEBEB" stroke-width="0.5"/>
<line x1="442.32" x2="442.32" y1="721.7" y2="840.5" stroke="#EBEBEB" stroke-width="0.5"/>
<line x1="36.4" x2="443.5" y1="835.30" y2="835.30" stroke="#EBEBEB" stroke-width="1"/>
<line x1="36.4" x2="443.5" y1="804.35" y2="804.35" stroke="#EBEBEB" stroke-width="1"/>
<line x1="36.4" x2="443.5" y1="773.40" y2="773.40" stroke="#EBEBEB" stroke-width="1"/>
<line x1="36.4" x2="443.5" y1="742.45" y2="742.45" stroke="#EBEBEB" stroke-width="1"/>
<path d="M53.0,837.0 L53.0,815.6 L54.4,814.1 L55.4,818.5 L56.4,817.9 L57.4,820.9 L58.4,821.0 L59.4,820.5 L60.4,815.0 L61.4,812.4 L62.4,811.8 L63.4,808.6 L64.4,811.0 L65.4,815.1 L66.4,813.0 L67.4,809.0 L68.4,804.7 L69.4,804.8 L70.4,804.9 L71.4,808.7 L72.4,806.0 L73.4,808.9 L74.4,810.6 L75.4,812.2 L76.4,813.5 L77.4,811.9 L78.0,816.2 L78.0,816.2 L78.0,837.0Z" fill="#1B9E77"/><g class="p" fill="#1B9E77" stroke="#1B9E77"><circle cx="62.9" cy="807.3"/><circle cx="64.5" cy="808.0"/><circle cx="61.5" cy="808.2"/><circle cx="75.2" cy="807.5"/><circle cx="61.3" cy="812.5"/><circle cx="72.6" cy="804.4"/><circle cx="66.6" cy="810.0"/><circle cx="67.4" cy="808.5"/><circle cx="73.8" cy="804.6"/><circle cx="58.8" cy="816.3"/><circle cx="72.2" cy="803.4"/><circle cx="71.7" cy="809.3"/><circle cx="55.9" cy="818.6"/><circle cx="68.4" cy="801.8"/><circle cx="62.5" cy="812.4"/><circle cx="75.2" cy="810.3"/><circle cx="74.5" cy="809.6"/><circle cx="54.4" cy="814.6"/><circle cx="66.9" cy="812.5"/><circle cx="61.5" cy="809.0"/><circle cx="68.4" cy="805.4"/><circle cx="72.1" cy="803.2"/><circle cx="71.8" cy="803.4"/><circle cx="77.5" cy="811.5"/><circle cx="71.8" cy="804.9"/><circle cx="57.2" cy="820.1"/><circle cx="69.6" cy="804.9"/><circle cx="54.7" cy="811.3"/><circle cx="61.4" cy="812.5"/><circle cx="63.7" cy="807.6"/><circle cx="71.9" cy="808.4"/><circle cx="69.3" cy="805.8"/><circle cx="61.2" cy="813.4"/><circle cx="69.9" cy="804.8"/><circle cx="68.2" cy="800.8"/><circle cx="59.9" cy="819.0"/><circle cx="74.5" cy="808.3"/><circle cx="55.2" cy="815.6"/><circle cx="66.5" cy="813.3"/><circle cx="65.0" cy="816.5"/><circle cx="70.5" cy="802.3"/><circle cx="55.5" cy="819.2"/><circle cx="56.1" cy="819.1"/><circle cx="74.7" cy="811.2"/><circle cx="77.9" cy="812.6"/><circle cx="59.1" cy="821.3"/><circle cx="77.0" cy="808.7"/><circle cx="77.9" cy="804.7"/><circle cx="67.8" cy="801.6"/><circle cx="56.4" cy="810.8"/><circle cx="70.2" cy="796.4"/><circle cx="60.3" cy="805.8"/><circle cx="61.0" cy="805.4"/><circle cx="57.4" cy="812.0"/><circle cx="71.7" cy="798.0"/><circle cx="77.6" cy="803.8"/><circle cx="55.9" cy="810.1"/><circle cx="75.4" cy="804.5"/><circle cx="68.1" cy="772.8"/><circle cx="68.1" cy="774.0"/><circle cx="68.1" cy="775.9"/><circle cx="54.4" cy="799.4"/><circle cx="56.7" cy="803.1"/><circle cx="62.8" cy="799.4"/><circle cx="66.7" cy="792.0"/><circle cx="69.3" cy="792.6"/><circle cx="73.3" cy="791.4"/><circle cx="71.0" cy="795.1"/><circle cx="73.3" cy="795.7"/><circle cx="74.5" cy="799.4"/><circle cx="60.5" cy="806.2"/></g>
<path d="M76.6,837.0 L76.6,814.3 L78.0,812.8 L79.0,809.5 L80.0,810.7 L81.0,814.7 L82.0,810.7 L83.0,810.9 L84.0,811.9 L85.0,812.9 L86.0,813.2 L87.0,810.2 L88.0,812.9 L89.0,815.6 L90.0,815.7 L91.0,813.5 L92.0,809.4 L93.0,807.0 L94.0,808.9 L95.0,806.6 L96.0,806.5 L97.0,811.4 L98.0,813.9 L98.3,815.3 L98.3,815.3 L98.3,837.0Z" fill="#D95F02"/><g class="p" fill="#D95F02" stroke="#D95F02"><circle cx="95.8" cy="803.0"/><circle cx="90.8" cy="812.2"/><circle cx="97.4" cy="811.0"/><circle cx="86.8" cy="806.9"/><circle cx="91.8" cy="809.5"/><circle cx="89.3" cy="814.0"/><circle cx="79.3" cy="805.7"/><circle cx="80.4" cy="811.6"/><circle cx="92.0" cy="808.7"/><circle cx="94.4" cy="809.9"/><circle cx="77.5" cy="808.7"/><circle cx="87.0" cy="806.4"/><circle cx="97.5" cy="809.0"/><circle cx="78.3" cy="812.9"/><circle cx="85.7" cy="811.9"/><circle cx="93.1" cy="804.0"/><circle cx="87.9" cy="812.5"/><circle cx="87.4" cy="808.9"/><circle cx="85.8" cy="813.5"/><circle cx="96.7" cy="809.8"/><circle cx="90.9" cy="807.7"/><circle cx="90.5" cy="813.5"/><circle cx="81.2" cy="816.0"/><circle cx="84.2" cy="811.7"/><circle cx="88.4" cy="814.0"/><circle cx="78.9" cy="806.6"/><circle cx="90.5" cy="811.6"/><circle cx="90.7" cy="811.4"/><circle cx="80.8" cy="813.8"/><circle cx="90.8" cy="811.1"/><circle cx="97.0" cy="809.8"/><circle cx="87.9" cy="811.4"/><circle cx="90.5" cy="812.0"/><circle cx="79.7" cy="807.8"/><circle cx="91.0" cy="813.4"/><circle cx="91.6" cy="810.7"/><circle cx="89.0" cy="815.4"/><circle cx="98.1" cy="813.4"/><circle cx="91.7" cy="807.4"/><circle cx="85.9" cy="814.0"/><circle cx="84.6" cy="803.4"/><circle cx="84.0" cy="804.2"/><circle cx="84.3" cy="804.8"/><circle cx="96.6" cy="802.5"/><circle cx="85.2" cy="805.2"/><circle cx="87.0" cy="802.3"/><circle cx="80.7" cy="807.5"/><circle cx="92.2" cy="801.1"/><circle cx="89.7" cy="806.7"/><circle cx="98.2" cy="806.3"/><circle cx="90.8" cy="793.2"/><circle cx="94.7" cy="793.8"/><circle cx="94.7" cy="799.4"/><circle cx="80.3" cy="799.4"/><circle cx="85.0" cy="802.5"/><circle cx="88.2" cy="805.0"/><circle cx="93.0" cy="799.4"/></g>
<path d="M96.9,837.0 L96.9,812.3 L98.3,810.8 L99.3,806.9 L100.3,804.0 L101.3,808.5 L102.3,813.0 L103.3,816.3 L104.3,818.4 L105.3,820.5 L106.3,819.4 L107.3,819.1 L108.3,818.3 L109.3,817.8 L110.3,819.7 L111.3,813.4 L112.3,813.0 L113.3,816.1 L114.3,814.3 L115.3,809.7 L116.3,811.6 L116.3,811.6 L116.3,837.0Z" fill="#7570B3"/><g class="p" fill="#7570B3" stroke="#7570B3"><circle cx="108.6" cy="818.8"/><circle cx="105.4" cy="817.1"/><circle cx="103.6" cy="812.7"/><circle cx="101.9" cy="807.4"/><circle cx="108.2" cy="817.7"/><circle cx="102.0" cy="812.5"/><circle cx="98.1" cy="807.0"/><circle cx="111.2" cy="810.0"/><circle cx="112.9" cy="815.9"/><circle cx="101.6" cy="804.4"/><circle cx="110.6" cy="817.9"/><circle cx="101.3" cy="808.7"/><circle cx="112.6" cy="810.7"/><circle cx="104.4" cy="817.3"/><circle cx="106.1" cy="818.5"/><circle cx="112.7" cy="813.6"/><circle cx="114.8" cy="810.1"/><circle cx="115.7" cy="809.9"/><circle cx="109.1" cy="818.8"/><circle cx="102.1" cy="812.0"/><circle cx="98.0" cy="809.2"/><circle cx="105.4" cy="819.7"/><circle cx="110.2" cy="818.8"/><circle cx="103.0" cy="813.2"/><circle cx="109.0" cy="818.3"/><circle cx="115.1" cy="806.3"/><circle cx="104.0" cy="816.5"/><circle cx="115.5" cy="810.4"/><circle cx="104.0" cy="812.0"/><circle cx="99.8" cy="803.6"/><circle cx="100.2" cy="800.7"/><circle cx="99.5" cy="803.1"/><circle cx="116.0" cy="806.9"/><circle cx="102.6" cy="813.4"/><circle cx="106.0" cy="815.6"/><circle cx="106.1" cy="809.7"/><circle cx="107.9" cy="809.7"/><circle cx="103.8" cy="810.6"/><circle cx="112.2" cy="803.1"/><circle cx="106.0" cy="808.7"/><circle cx="116.7" cy="803.0"/><circle cx="114.8" cy="803.4"/><circle cx="100.4" cy="796.8"/><circle cx="100.7" cy="777.1"/><circle cx="100.0" cy="793.8"/><circle cx="100.8" cy="799.4"/><circle cx="100.5" cy="803.1"/><circle cx="111.7" cy="791.4"/><circle cx="111.3" cy="793.8"/><circle cx="113.1" cy="806.8"/></g>
<path d="M114.9,837.0 L114.9,811.4 L116.3,809.9 L117.3,812.0 L118.3,810.6 L119.3,811.4 L120.3,810.4 L121.3,812.0 L122.3,812.8 L123.3,814.7 L124.3,815.7 L125.3,811.7 L126.3,810.4 L127.3,810.2 L128.3,813.7 L129.3,818.6 L130.3,819.7 L131.3,818.9 L132.3,814.9 L133.3,812.5 L134.1,813.0 L134.1,813.0 L134.1,837.0Z" fill="#E7298A"/><g class="p" fill="#E7298A" stroke="#E7298A"><circle cx="126.8" cy="811.3"/><circle cx="131.9" cy="812.0"/><circle cx="116.0" cy="810.7"/><circle cx="131.7" cy="819.2"/><circle cx="132.8" cy="808.6"/><circle cx="122.0" cy="813.5"/><circle cx="126.3" cy="810.4"/><circle cx="122.0" cy="809.8"/><circle cx="123.5" cy="812.8"/><circle cx="133.6" cy="813.7"/><circle cx="123.0" cy="815.8"/><circle cx="123.2" cy="812.0"/><circle cx="125.6" cy="812.7"/><circle cx="119.3" cy="808.0"/><circle cx="126.0" cy="809.8"/><circle cx="127.3" cy="810.1"/><circle cx="121.3" cy="806.5"/><circle cx="130.2" cy="816.5"/><circle cx="119.5" cy="807.5"/><circle cx="118.0" cy="809.1"/><circle cx="132.1" cy="816.0"/><circle cx="117.8" cy="808.1"/><circle cx="120.3" cy="809.8"/><circle cx="116.4" cy="809.4"/><circle cx="128.2" cy="810.2"/><circle cx="122.0" cy="811.6"/><circle cx="117.8" cy="811.4"/><circle cx="132.4" cy="816.0"/><circle cx="127.6" cy="811.0"/><circle cx="118.0" cy="810.8"/><circle cx="124.2" cy="816.7"/><circle cx="116.8" cy="811.4"/><circle cx="131.7" cy="817.5"/><circle cx="117.8" cy="811.5"/><circle cx="119.7" cy="812.2"/><circle cx="119.3" cy="803.1"/><circle cx="121.2" cy="804.4"/><circle cx="126.3" cy="802.2"/><circle cx="128.9" cy="811.3"/><circle cx="133.6" cy="805.5"/><circle cx="118.8" cy="802.9"/><circle cx="131.9" cy="807.6"/><circle cx="117.2" cy="801.7"/><circle cx="116.4" cy="788.3"/><circle cx="116.6" cy="800.0"/><circle cx="122.7" cy="806.8"/><circle cx="128.9" cy="806.8"/></g>
<path d="M132.7,837.0 L132.7,815.2 L134.1,813.7 L135.1,809.2 L136.1,807.3 L137.1,804.9 L138.1,806.4 L139.1,805.6 L140.1,806.9 L141.1,813.5 L142.1,810.2 L143.1,811.1 L144.1,810.3 L145.1,814.3 L146.1,807.5 L147.1,809.1 L148.1,809.5 L149.1,808.5 L150.1,813.3 L151.1,813.8 L152.0,816.6 L152.0,816.6 L152.0,837.0Z" fill="#66A61E"/><g class="p" fill="#66A61E" stroke="#66A61E"><circle cx="145.4" cy="814.8"/><circle cx="139.6" cy="803.1"/><circle cx="137.5" cy="802.6"/><circle cx="140.6" cy="807.3"/><circle cx="141.2" cy="809.4"/><circle cx="149.1" cy="809.6"/><circle cx="137.6" cy="805.8"/><circle cx="151.4" cy="813.8"/><circle cx="142.3" cy="808.7"/><circle cx="141.5" cy="812.5"/><circle cx="139.0" cy="805.8"/><circle cx="137.4" cy="802.3"/><circle cx="140.7" cy="813.1"/><circle cx="142.2" cy="805.0"/><circle cx="147.8" cy="807.8"/><circle cx="143.0" cy="807.8"/><circle cx="146.6" cy="805.7"/><circle cx="135.2" cy="806.5"/><circle cx="137.8" cy="806.6"/><circle cx="151.2" cy="813.5"/><circle cx="144.5" cy="807.8"/><circle cx="136.3" cy="805.5"/><circle cx="135.0" cy="804.7"/><circle cx="140.0" cy="807.8"/><circle cx="142.9" cy="811.7"/><circle cx="145.2" cy="813.1"/><circle cx="144.0" cy="809.2"/><circle cx="134.6" cy="813.5"/><circle cx="139.8" cy="806.1"/><circle cx="140.3" cy="807.9"/><circle cx="134.6" cy="809.1"/><circle cx="142.0" cy="810.7"/><circle cx="141.5" cy="812.2"/><circle cx="148.6" cy="810.7"/><circle cx="144.8" cy="810.1"/><circle cx="143.2" cy="800.7"/><circle cx="150.0" cy="803.0"/><circle cx="139.8" cy="799.6"/><circle cx="149.6" cy="798.7"/><circle cx="144.9" cy="801.8"/><circle cx="135.7" cy="800.3"/><circle cx="143.8" cy="802.1"/><circle cx="135.0" cy="802.1"/><circle cx="139.4" cy="768.4"/><circle cx="144.5" cy="773.4"/><circle cx="146.9" cy="788.3"/><circle cx="138.5" cy="789.5"/><circle cx="138.5" cy="793.8"/><circle cx="143.8" cy="794.4"/><circle cx="146.0" cy="795.7"/><circle cx="135.0" cy="799.4"/><circle cx="139.4" cy="798.8"/><circle cx="141.0" cy="799.4"/><circle cx="146.4" cy="800.0"/><circle cx="138.3" cy="788.9"/><circle cx="146.8" cy="788.9"/></g>
<path d="M150.6,837.0 L150.6,814.3 L152.0,812.8 L153.0,810.9 L154.0,809.3 L155.0,811.5 L156.0,810.8 L157.0,811.5 L158.0,810.3 L159.0,814.1 L160.0,814.8 L161.0,810.3 L162.0,809.2 L163.0,809.4 L164.0,811.6 L165.0,809.1 L166.0,812.0 L167.0,811.9 L168.0,814.8 L169.0,812.8 L169.5,807.9 L169.5,807.9 L169.5,837.0Z" fill="#E6AB02"/><g class="p" fill="#E6AB02" stroke="#E6AB02"><circle cx="154.3" cy="808.9"/><circle cx="153.4" cy="810.9"/><circle cx="157.9" cy="804.5"/><circle cx="161.8" cy="809.7"/><circle cx="156.6" cy="809.9"/><circle cx="162.7" cy="810.2"/><circle cx="157.2" cy="807.5"/><circle cx="156.3" cy="810.3"/><circle cx="156.5" cy="812.0"/><circle cx="152.3" cy="810.4"/><circle cx="158.6" cy="810.4"/><circle cx="167.8" cy="813.7"/><circle cx="161.7" cy="808.9"/><circle cx="164.4" cy="810.2"/><circle cx="157.2" cy="811.3"/><circle cx="158.3" cy="809.8"/><circle cx="163.3" cy="809.3"/><circle cx="159.7" cy="815.2"/><circle cx="156.9" cy="809.8"/><circle cx="160.3" cy="814.9"/><circle cx="166.1" cy="811.3"/><circle cx="163.5" cy="810.5"/><circle cx="167.6" cy="815.0"/><circle cx="160.4" cy="813.5"/><circle cx="151.6" cy="812.0"/><circle cx="151.6" cy="813.6"/><circle cx="169.2" cy="807.9"/><circle cx="156.9" cy="811.6"/><circle cx="161.5" cy="808.1"/><circle cx="155.1" cy="810.8"/><circle cx="154.8" cy="808.5"/><circle cx="160.4" cy="813.0"/><circle cx="154.2" cy="807.3"/><circle cx="161.9" cy="804.0"/><circle cx="152.1" cy="810.2"/><circle cx="162.2" cy="799.4"/><circle cx="164.3" cy="803.6"/><circle cx="168.6" cy="803.1"/><circle cx="151.7" cy="802.4"/><circle cx="162.4" cy="801.8"/><circle cx="169.0" cy="805.2"/><circle cx="157.8" cy="801.1"/><circle cx="153.7" cy="802.5"/><circle cx="153.0" cy="773.4"/><circle cx="158.0" cy="778.4"/><circle cx="162.5" cy="782.1"/><circle cx="152.6" cy="794.4"/><circle cx="156.1" cy="795.1"/><circle cx="160.5" cy="795.1"/><circle cx="168.4" cy="794.4"/><circle cx="152.6" cy="798.8"/><circle cx="157.0" cy="798.8"/><circle cx="161.4" cy="798.8"/><circle cx="167.5" cy="798.2"/><circle cx="169.3" cy="803.1"/></g>
<path d="M168.1,837.0 L168.1,812.1 L169.5,810.6 L170.5,808.1 L171.5,809.8 L172.5,812.1 L173.5,809.3 L174.5,806.1 L175.5,809.7 L176.5,810.8 L177.5,810.6 L178.5,808.7 L179.5,811.7 L180.5,810.2 L181.5,812.1 L182.5,812.9 L183.5,813.4 L184.5,813.1 L185.5,812.9 L186.0,814.8 L186.0,814.8 L186.0,837.0Z" fill="#A6761D"/><g class="p" fill="#A6761D" stroke="#A6761D"><circle cx="181.9" cy="810.5"/><circle cx="179.1" cy="812.0"/><circle cx="172.3" cy="809.5"/><circle cx="185.0" cy="812.3"/><circle cx="182.7" cy="807.1"/><circle cx="181.3" cy="812.9"/><circle cx="184.6" cy="810.8"/><circle cx="184.7" cy="813.2"/><circle cx="184.1" cy="814.0"/><circle cx="169.9" cy="811.1"/><circle cx="175.5" cy="810.3"/><circle cx="182.0" cy="807.5"/><circle cx="180.1" cy="805.2"/><circle cx="182.6" cy="811.0"/><circle cx="173.1" cy="810.5"/><circle cx="185.1" cy="810.8"/><circle cx="180.5" cy="806.6"/><circle cx="185.5" cy="807.8"/><circle cx="174.0" cy="802.4"/><circle cx="169.5" cy="811.8"/><circle cx="170.9" cy="808.0"/><circle cx="182.9" cy="811.1"/><circle cx="175.8" cy="810.3"/><circle cx="169.2" cy="810.0"/><circle cx="179.6" cy="811.1"/><circle cx="179.3" cy="808.5"/><circle cx="185.9" cy="813.8"/><circle cx="185.5" cy="809.5"/><circle cx="180.9" cy="807.5"/><circle cx="183.0" cy="809.1"/><circle cx="185.5" cy="813.6"/><circle cx="173.2" cy="810.5"/><circle cx="183.7" cy="803.1"/><circle cx="177.7" cy="803.0"/><circle cx="178.5" cy="801.6"/><circle cx="175.0" cy="798.4"/><circle cx="184.8" cy="806.1"/><circle cx="176.3" cy="797.8"/><circle cx="180.6" cy="803.0"/><circle cx="177.6" cy="803.2"/><circle cx="185.6" cy="781.4"/><circle cx="178.6" cy="788.3"/><circle cx="173.7" cy="794.4"/><circle cx="178.9" cy="794.4"/><circle cx="173.7" cy="798.8"/><circle cx="178.9" cy="798.2"/><circle cx="178.9" cy="801.9"/><circle cx="185.9" cy="800.0"/></g>
<path d="M184.6,837.0 L184.6,813.9 L186.0,812.4 L187.0,815.0 L188.0,813.1 L189.0,814.2 L190.0,810.3 L191.0,813.3 L192.0,813.9 L193.0,813.0 L194.0,813.9 L195.0,812.8 L196.0,817.8 L197.0,817.6 L198.0,815.9 L199.0,816.9 L200.0,817.7 L201.0,818.7 L202.0,816.4 L202.8,817.6 L202.8,817.6 L202.8,837.0Z" fill="#666666"/><g class="p" fill="#666666" stroke="#666666"><circle cx="195.6" cy="818.1"/><circle cx="190.7" cy="812.1"/><circle cx="199.5" cy="817.7"/><circle cx="203.0" cy="816.6"/><circle cx="201.9" cy="813.9"/><circle cx="193.1" cy="813.8"/><circle cx="186.3" cy="810.8"/><circle cx="200.2" cy="812.1"/><circle cx="194.1" cy="815.1"/><circle cx="203.2" cy="813.2"/><circle cx="195.4" cy="813.4"/><circle cx="197.6" cy="816.0"/><circle cx="199.2" cy="817.5"/><circle cx="199.5" cy="817.8"/><circle cx="201.5" cy="817.4"/><circle cx="198.1" cy="812.8"/><circle cx="202.5" cy="815.1"/><circle cx="193.3" cy="812.6"/><circle cx="187.2" cy="811.8"/><circle cx="189.0" cy="814.8"/><circle cx="192.1" cy="812.4"/><circle cx="203.2" cy="815.5"/><circle cx="200.7" cy="818.0"/><circle cx="191.2" cy="811.7"/><circle cx="191.9" cy="815.1"/><circle cx="189.2" cy="811.7"/><circle cx="187.6" cy="812.1"/><circle cx="188.8" cy="813.2"/><circle cx="193.5" cy="812.9"/><circle cx="189.1" cy="812.6"/><circle cx="196.2" cy="818.8"/><circle cx="201.4" cy="816.9"/><circle cx="199.9" cy="811.5"/><circle cx="194.7" cy="805.8"/><circle cx="198.1" cy="805.7"/><circle cx="201.2" cy="810.0"/><circle cx="190.7" cy="800.2"/><circle cx="185.7" cy="803.6"/><circle cx="186.4" cy="805.6"/><circle cx="193.4" cy="804.3"/><circle cx="196.6" cy="806.9"/><circle cx="200.8" cy="794.4"/><circle cx="199.9" cy="803.1"/><circle cx="191.2" cy="806.8"/></g>
<path d="M201.4,837.0 L201.4,814.5 L202.8,813.0 L203.8,817.3 L204.8,811.0 L205.8,811.0 L206.8,813.3 L207.8,813.0 L208.8,814.0 L209.8,814.4 L210.8,813.6 L211.8,817.6 L212.8,812.2 L213.8,809.4 L214.8,806.3 L215.8,812.2 L216.8,807.7 L217.8,806.5 L218.5,811.5 L218.5,811.5 L218.5,837.0Z" fill="#1B9E77"/><g class="p" fill="#1B9E77" stroke="#1B9E77"><circle cx="206.0" cy="810.0"/><circle cx="217.2" cy="807.4"/><circle cx="218.5" cy="809.0"/><circle cx="213.9" cy="808.9"/><circle cx="212.5" cy="806.7"/><circle cx="217.0" cy="806.6"/><circle cx="216.1" cy="811.5"/><circle cx="213.6" cy="807.6"/><circle cx="207.3" cy="811.3"/><circle cx="209.8" cy="814.6"/><circle cx="212.4" cy="807.7"/><circle cx="214.4" cy="804.8"/><circle cx="207.8" cy="808.8"/><circle cx="218.4" cy="812.5"/><circle cx="218.0" cy="811.7"/><circle cx="203.8" cy="816.5"/><circle cx="210.1" cy="815.3"/><circle cx="203.1" cy="809.4"/><circle cx="216.5" cy="806.2"/><circle cx="212.4" cy="813.2"/><circle cx="203.6" cy="815.7"/><circle cx="216.4" cy="803.3"/><circle cx="202.7" cy="812.5"/><circle cx="205.1" cy="809.8"/><circle cx="218.3" cy="810.4"/><circle cx="217.7" cy="805.3"/><circle cx="208.2" cy="809.8"/><circle cx="214.2" cy="807.7"/><circle cx="210.8" cy="811.3"/><circle cx="216.2" cy="812.6"/><circle cx="213.8" cy="808.4"/><circle cx="205.6" cy="798.0"/><circle cx="214.3" cy="798.1"/><circle cx="209.5" cy="807.2"/><circle cx="203.9" cy="804.3"/><circle cx="206.2" cy="803.8"/><circle cx="213.2" cy="802.0"/><circle cx="210.1" cy="806.3"/><circle cx="214.3" cy="793.2"/><circle cx="214.3" cy="797.5"/><circle cx="217.1" cy="798.8"/><circle cx="204.3" cy="805.0"/></g>
<path d="M217.1,837.0 L217.1,811.6 L218.5,810.1 L219.5,805.9 L220.5,807.7 L221.5,805.8 L222.5,803.9 L223.5,808.2 L224.5,808.4 L225.5,810.8 L226.5,809.9 L227.5,808.4 L228.5,811.3 L229.5,816.5 L230.5,814.9 L231.5,815.8 L232.5,814.9 L233.5,813.5 L233.9,813.0 L233.9,813.0 L233.9,837.0Z" fill="#D95F02"/><g class="p" fill="#D95F02" stroke="#D95F02"><circle cx="222.5" cy="798.6"/><circle cx="227.0" cy="807.2"/><circle cx="226.6" cy="807.5"/><circle cx="222.8" cy="804.9"/><circle cx="229.6" cy="815.4"/><circle cx="227.5" cy="808.1"/><circle cx="218.5" cy="809.8"/><circle cx="224.5" cy="806.2"/><circle cx="219.4" cy="801.6"/><circle cx="225.6" cy="806.0"/><circle cx="220.4" cy="807.5"/><circle cx="225.8" cy="807.2"/><circle cx="225.6" cy="811.0"/><circle cx="226.0" cy="810.1"/><circle cx="233.8" cy="813.4"/><circle cx="226.9" cy="805.2"/><circle cx="222.3" cy="801.3"/><circle cx="229.3" cy="816.1"/><circle cx="231.4" cy="816.7"/><circle cx="222.6" cy="801.4"/><circle cx="218.3" cy="805.9"/><circle cx="232.9" cy="815.7"/><circle cx="219.3" cy="807.0"/><circle cx="224.7" cy="808.8"/><circle cx="218.3" cy="810.2"/><circle cx="231.2" cy="813.7"/><circle cx="218.7" cy="807.7"/><circle cx="220.9" cy="806.7"/><circle cx="223.0" cy="804.9"/><circle cx="226.8" cy="808.7"/><circle cx="222.2" cy="794.8"/><circle cx="220.1" cy="800.0"/><circle cx="222.7" cy="795.7"/><circle cx="228.3" cy="804.3"/><circle cx="231.5" cy="807.0"/><circle cx="218.1" cy="802.6"/><circle cx="233.6" cy="806.4"/><circle cx="220.1" cy="767.8"/><circle cx="225.7" cy="778.4"/><circle cx="221.8" cy="782.7"/><circle cx="220.1" cy="787.0"/><circle cx="220.1" cy="793.2"/><circle cx="221.8" cy="794.4"/><circle cx="223.6" cy="796.9"/><circle cx="225.3" cy="798.8"/><circle cx="232.3" cy="798.8"/><circle cx="219.2" cy="801.9"/></g>
<path d="M232.5,837.0 L232.5,811.0 L233.9,809.5 L234.9,808.3 L235.9,805.6 L236.9,807.8 L237.9,803.4 L238.9,804.8 L239.9,807.3 L240.9,812.9 L241.9,813.7 L242.9,810.7 L243.9,810.6 L244.9,809.6 L245.9,808.6 L246.9,809.1 L247.9,815.3 L248.9,809.6 L249.8,811.7 L249.8,811.7 L249.8,837.0Z" fill="#7570B3"/><g class="p" fill="#7570B3" stroke="#7570B3"><circle cx="242.0" cy="809.1"/><circle cx="239.7" cy="806.3"/><circle cx="250.2" cy="811.8"/><circle cx="233.4" cy="810.5"/><circle cx="233.4" cy="810.6"/><circle cx="250.2" cy="809.3"/><circle cx="239.9" cy="806.9"/><circle cx="239.0" cy="804.3"/><circle cx="247.1" cy="808.5"/><circle cx="241.1" cy="812.0"/><circle cx="247.0" cy="810.1"/><circle cx="241.7" cy="812.8"/><circle cx="246.0" cy="808.0"/><circle cx="234.3" cy="807.5"/><circle cx="239.6" cy="806.7"/><circle cx="238.9" cy="805.9"/><circle cx="239.4" cy="807.5"/><circle cx="241.1" cy="810.8"/><circle cx="247.2" cy="804.2"/><circle cx="249.7" cy="812.1"/><circle cx="244.3" cy="804.0"/><circle cx="250.0" cy="810.2"/><circle cx="245.6" cy="805.3"/><circle cx="244.4" cy="808.7"/><circle cx="247.0" cy="810.0"/><circle cx="242.3" cy="812.6"/><circle cx="238.7" cy="805.0"/><circle cx="234.6" cy="805.8"/><circle cx="239.6" cy="808.6"/><circle cx="234.9" cy="808.6"/><circle cx="236.5" cy="807.4"/><circle cx="248.8" cy="799.8"/><circle cx="236.0" cy="798.8"/><circle cx="241.1" cy="801.7"/><circle cx="243.4" cy="799.5"/><circle cx="248.9" cy="802.4"/><circle cx="241.5" cy="805.8"/><circle cx="244.9" cy="801.7"/><circle cx="240.7" cy="780.2"/><circle cx="240.7" cy="792.6"/><circle cx="248.1" cy="792.6"/><circle cx="240.7" cy="794.4"/><circle cx="243.7" cy="795.7"/><circle cx="235.5" cy="798.8"/><circle cx="240.7" cy="798.8"/><circle cx="248.6" cy="799.4"/><circle cx="240.2" cy="803.1"/></g>
<path d="M248.4,837.0 L248.4,809.0 L249.8,807.5 L250.8,807.9 L251.8,809.4 L252.8,810.5 L253.8,808.0 L254.8,811.1 L255.8,808.4 L256.8,805.7 L257.8,813.0 L258.8,812.2 L259.8,811.1 L260.8,811.7 L261.8,815.9 L262.7,816.0 L262.7,816.0 L262.7,837.0Z" fill="#E7298A"/><g class="p" fill="#E7298A" stroke="#E7298A"><circle cx="250.6" cy="808.3"/><circle cx="249.5" cy="808.7"/><circle cx="254.5" cy="812.2"/><circle cx="258.3" cy="809.6"/><circle cx="259.6" cy="807.0"/><circle cx="254.7" cy="809.8"/><circle cx="252.4" cy="804.1"/><circle cx="257.0" cy="801.9"/><circle cx="259.6" cy="811.5"/><circle cx="254.6" cy="806.7"/><circle cx="251.5" cy="808.3"/><circle cx="261.7" cy="811.4"/><circle cx="260.6" cy="812.1"/><circle cx="261.1" cy="811.2"/><circle cx="255.1" cy="810.7"/><circle cx="249.4" cy="807.5"/><circle cx="262.6" cy="815.6"/><circle cx="262.2" cy="812.0"/><circle cx="257.6" cy="812.3"/><circle cx="261.3" cy="812.8"/><circle cx="257.5" cy="812.9"/><circle cx="253.8" cy="808.0"/><circle cx="257.9" cy="812.0"/><circle cx="261.3" cy="810.9"/><circle cx="253.8" cy="807.8"/><circle cx="261.2" cy="804.8"/><circle cx="262.1" cy="807.7"/><circle cx="251.6" cy="801.2"/><circle cx="260.4" cy="803.4"/><circle cx="257.9" cy="804.3"/><circle cx="261.2" cy="800.5"/><circle cx="251.6" cy="796.3"/><circle cx="253.4" cy="803.1"/></g>
<path d="M261.3,837.0 L261.3,815.3 L262.7,813.8 L263.7,808.9 L264.7,808.5 L265.7,808.6 L266.7,809.1 L267.7,813.2 L268.7,815.8 L269.7,814.4 L270.7,813.2 L271.7,811.2 L272.7,811.7 L273.7,813.7 L274.7,813.2 L275.2,808.4 L275.2,808.4 L275.2,837.0Z" fill="#66A61E"/><g class="p" fill="#66A61E" stroke="#66A61E"><circle cx="272.7" cy="809.2"/><circle cx="268.8" cy="814.5"/><circle cx="264.5" cy="806.5"/><circle cx="263.5" cy="806.5"/><circle cx="274.0" cy="814.4"/><circle cx="272.4" cy="811.6"/><circle cx="265.7" cy="806.7"/><circle cx="269.8" cy="811.8"/><circle cx="271.4" cy="809.7"/><circle cx="272.7" cy="809.6"/><circle cx="275.2" cy="811.9"/><circle cx="265.8" cy="809.5"/><circle cx="268.2" cy="812.5"/><circle cx="266.4" cy="806.0"/><circle cx="263.2" cy="813.2"/><circle cx="268.9" cy="815.3"/><circle cx="272.6" cy="807.2"/><circle cx="262.4" cy="814.7"/><circle cx="262.7" cy="814.7"/><circle cx="274.2" cy="813.6"/><circle cx="270.0" cy="813.7"/><circle cx="271.5" cy="810.4"/><circle cx="266.9" cy="809.1"/><circle cx="273.0" cy="810.1"/><circle cx="263.5" cy="802.0"/><circle cx="271.9" cy="802.3"/><circle cx="275.0" cy="805.5"/><circle cx="274.7" cy="803.0"/><circle cx="267.4" cy="806.3"/><circle cx="265.2" cy="798.1"/><circle cx="266.1" cy="773.4"/><circle cx="274.5" cy="788.3"/><circle cx="274.5" cy="792.0"/><circle cx="266.1" cy="792.0"/><circle cx="266.1" cy="795.1"/><circle cx="271.0" cy="794.4"/><circle cx="273.6" cy="798.2"/><circle cx="265.8" cy="801.3"/></g>
<path d="M273.8,837.0 L273.8,812.7 L275.2,811.2 L276.2,814.4 L277.2,813.8 L278.2,810.6 L279.2,815.2 L280.2,810.3 L281.2,808.4 L282.2,810.4 L283.2,812.9 L284.2,811.0 L285.2,813.8 L286.2,813.4 L287.2,808.7 L287.4,815.7 L287.4,815.7 L287.4,837.0Z" fill="#E6AB02"/><g class="p" fill="#E6AB02" stroke="#E6AB02"><circle cx="276.3" cy="812.4"/><circle cx="276.2" cy="815.4"/><circle cx="282.6" cy="811.0"/><circle cx="283.0" cy="811.2"/><circle cx="286.3" cy="813.5"/><circle cx="279.0" cy="810.9"/><circle cx="286.4" cy="813.5"/><circle cx="275.7" cy="815.2"/><circle cx="284.5" cy="809.1"/><circle cx="287.4" cy="808.2"/><circle cx="283.1" cy="808.6"/><circle cx="285.3" cy="813.6"/><circle cx="283.4" cy="808.3"/><circle cx="287.0" cy="805.7"/><circle cx="280.3" cy="811.1"/><circle cx="276.4" cy="815.0"/><circle cx="286.4" cy="807.4"/><circle cx="278.5" cy="808.1"/><circle cx="285.0" cy="812.2"/><circle cx="282.1" cy="810.8"/><circle cx="283.5" cy="811.6"/><circle cx="285.4" cy="812.9"/><circle cx="276.2" cy="814.7"/><circle cx="279.8" cy="808.9"/><circle cx="284.7" cy="805.6"/><circle cx="281.8" cy="802.7"/><circle cx="285.8" cy="805.8"/><circle cx="282.4" cy="799.4"/><circle cx="284.8" cy="806.6"/><circle cx="287.3" cy="805.9"/><circle cx="281.5" cy="788.3"/><circle cx="281.5" cy="793.8"/><circle cx="277.1" cy="798.8"/><circle cx="281.5" cy="799.4"/></g>
<path d="M286.0,837.0 L286.0,813.9 L287.4,812.4 L288.4,810.0 L289.4,808.8 L290.4,810.7 L291.4,810.3 L292.4,812.8 L293.4,812.5 L294.4,810.9 L295.4,810.9 L296.4,813.6 L297.4,811.3 L298.4,813.6 L299.4,810.3 L300.1,811.6 L300.1,811.6 L300.1,837.0Z" fill="#A6761D"/><g class="p" fill="#A6761D" stroke="#A6761D"><circle cx="299.4" cy="808.8"/><circle cx="296.8" cy="813.6"/><circle cx="292.9" cy="811.5"/><circle cx="291.4" cy="807.8"/><circle cx="290.2" cy="809.4"/><circle cx="299.6" cy="810.6"/><circle cx="289.3" cy="807.8"/><circle cx="299.9" cy="810.5"/><circle cx="292.2" cy="813.6"/><circle cx="289.4" cy="809.0"/><circle cx="298.8" cy="813.0"/><circle cx="297.1" cy="812.2"/><circle cx="294.2" cy="812.1"/><circle cx="299.3" cy="810.2"/><circle cx="297.0" cy="809.0"/><circle cx="299.8" cy="807.8"/><circle cx="296.8" cy="813.3"/><circle cx="298.4" cy="810.9"/><circle cx="290.6" cy="804.8"/><circle cx="299.5" cy="809.8"/><circle cx="287.5" cy="812.9"/><circle cx="300.4" cy="805.7"/><circle cx="298.5" cy="809.8"/><circle cx="294.8" cy="809.4"/><circle cx="291.0" cy="811.6"/><circle cx="290.6" cy="803.6"/><circle cx="288.5" cy="801.8"/><circle cx="293.8" cy="804.9"/><circle cx="289.9" cy="801.0"/><circle cx="296.3" cy="806.7"/><circle cx="298.6" cy="802.6"/><circle cx="289.9" cy="788.3"/><circle cx="292.0" cy="792.6"/><circle cx="294.7" cy="797.5"/><circle cx="299.0" cy="798.8"/><circle cx="288.5" cy="800.0"/></g>
<path d="M298.7,837.0 L298.7,813.8 L300.1,812.3 L301.1,813.4 L302.1,810.0 L303.1,808.5 L304.1,805.6 L305.1,806.1 L306.1,803.0 L307.1,805.4 L308.1,808.6 L309.1,809.2 L310.1,806.3 L311.1,810.3 L312.1,809.6 L312.2,806.7 L312.2,806.7 L312.2,837.0Z" fill="#666666"/><g class="p" fill="#666666" stroke="#666666"><circle cx="308.2" cy="807.0"/><circle cx="302.8" cy="807.8"/><circle cx="305.5" cy="806.7"/><circle cx="305.8" cy="802.3"/><circle cx="303.9" cy="806.3"/><circle cx="312.0" cy="806.5"/><circle cx="311.9" cy="808.9"/><circle cx="303.5" cy="808.6"/><circle cx="309.7" cy="805.6"/><circle cx="305.7" cy="801.9"/><circle cx="305.1" cy="804.1"/><circle cx="310.2" cy="807.1"/><circle cx="299.8" cy="812.8"/><circle cx="311.9" cy="807.6"/><circle cx="310.2" cy="805.8"/><circle cx="302.3" cy="806.5"/><circle cx="305.8" cy="803.0"/><circle cx="300.4" cy="810.6"/><circle cx="310.6" cy="811.1"/><circle cx="307.7" cy="809.7"/><circle cx="312.4" cy="803.1"/><circle cx="308.5" cy="809.6"/><circle cx="304.9" cy="805.3"/><circle cx="303.5" cy="808.4"/><circle cx="303.2" cy="799.4"/><circle cx="301.0" cy="805.7"/><circle cx="304.8" cy="797.2"/><circle cx="309.8" cy="799.3"/><circle cx="306.0" cy="795.6"/><circle cx="300.1" cy="805.3"/><circle cx="306.9" cy="788.3"/><circle cx="306.0" cy="793.2"/><circle cx="310.4" cy="793.8"/><circle cx="306.9" cy="797.5"/><circle cx="311.3" cy="800.6"/></g>
<path d="M310.8,837.0 L310.8,817.0 L312.2,815.5 L313.2,817.5 L314.2,813.8 L315.2,812.4 L316.2,813.3 L317.2,814.1 L318.2,815.0 L319.2,811.0 L320.2,813.1 L321.2,812.9 L322.2,812.2 L323.2,812.6 L323.4,810.9 L323.4,810.9 L323.4,837.0Z" fill="#1B9E77"/><g class="p" fill="#1B9E77" stroke="#1B9E77"><circle cx="311.9" cy="813.8"/><circle cx="321.6" cy="809.6"/><circle cx="321.4" cy="812.0"/><circle cx="314.6" cy="813.6"/><circle cx="321.6" cy="809.4"/><circle cx="317.6" cy="814.0"/><circle cx="312.3" cy="814.3"/><circle cx="314.2" cy="813.7"/><circle cx="321.6" cy="809.5"/><circle cx="315.8" cy="809.6"/><circle cx="317.2" cy="812.0"/><circle cx="322.9" cy="809.9"/><circle cx="320.4" cy="807.9"/><circle cx="319.7" cy="808.7"/><circle cx="319.6" cy="805.3"/><circle cx="320.7" cy="811.9"/><circle cx="315.3" cy="813.3"/><circle cx="323.3" cy="812.3"/><circle cx="312.3" cy="815.8"/><circle cx="316.2" cy="810.7"/><circle cx="312.9" cy="818.7"/><circle cx="316.8" cy="815.5"/><circle cx="323.2" cy="805.2"/><circle cx="319.8" cy="805.7"/><circle cx="312.7" cy="805.1"/><circle cx="318.3" cy="807.1"/><circle cx="320.4" cy="805.1"/><circle cx="319.2" cy="793.2"/><circle cx="313.9" cy="798.2"/><circle cx="318.3" cy="798.8"/></g>
<path d="M322.0,837.0 L322.0,813.5 L323.4,812.0 L324.4,812.5 L325.4,808.9 L326.4,810.7 L327.4,811.4 L328.4,810.5 L329.4,809.3 L330.4,810.8 L331.4,808.0 L332.4,807.4 L333.2,808.4 L333.2,808.4 L333.2,837.0Z" fill="#D95F02"/><g class="p" fill="#D95F02" stroke="#D95F02"><circle cx="327.4" cy="811.4"/><circle cx="327.5" cy="811.4"/><circle cx="327.9" cy="811.0"/><circle cx="331.7" cy="807.3"/><circle cx="329.0" cy="803.4"/><circle cx="332.0" cy="803.3"/><circle cx="332.1" cy="806.0"/><circle cx="325.8" cy="808.3"/><circle cx="326.7" cy="804.7"/><circle cx="329.0" cy="807.7"/><circle cx="324.3" cy="808.4"/><circle cx="328.2" cy="810.4"/><circle cx="333.6" cy="806.1"/><circle cx="326.1" cy="810.2"/><circle cx="326.4" cy="806.9"/><circle cx="326.6" cy="804.8"/><circle cx="327.3" cy="812.4"/><circle cx="331.5" cy="804.8"/><circle cx="330.5" cy="811.2"/><circle cx="327.7" cy="800.8"/><circle cx="327.7" cy="802.7"/><circle cx="327.0" cy="803.9"/><circle cx="331.7" cy="800.3"/><circle cx="329.7" cy="768.4"/><circle cx="329.7" cy="773.4"/><circle cx="324.4" cy="794.4"/><circle cx="329.7" cy="793.8"/><circle cx="333.2" cy="794.4"/><circle cx="324.4" cy="798.2"/><circle cx="327.1" cy="798.8"/><circle cx="328.8" cy="802.5"/></g>
<path d="M331.8,837.0 L331.8,812.8 L333.2,811.3 L334.2,811.5 L335.2,811.5 L336.2,812.5 L337.2,810.2 L338.2,811.9 L339.2,813.5 L340.2,810.4 L341.2,810.1 L342.2,810.4 L342.7,811.0 L342.7,811.0 L342.7,837.0Z" fill="#7570B3"/><g class="p" fill="#7570B3" stroke="#7570B3"><circle cx="340.8" cy="806.3"/><circle cx="341.1" cy="810.8"/><circle cx="334.6" cy="811.8"/><circle cx="337.5" cy="809.3"/><circle cx="336.4" cy="811.2"/><circle cx="339.4" cy="814.2"/><circle cx="333.8" cy="812.6"/><circle cx="332.7" cy="812.5"/><circle cx="333.8" cy="808.4"/><circle cx="334.6" cy="808.4"/><circle cx="342.3" cy="808.8"/><circle cx="336.1" cy="812.7"/><circle cx="335.8" cy="813.5"/><circle cx="337.0" cy="809.0"/><circle cx="333.7" cy="810.2"/><circle cx="335.5" cy="807.7"/><circle cx="342.6" cy="808.9"/><circle cx="342.5" cy="808.6"/><circle cx="341.5" cy="808.8"/><circle cx="334.3" cy="802.5"/><circle cx="337.0" cy="802.8"/><circle cx="342.0" cy="802.4"/><circle cx="337.3" cy="800.9"/><circle cx="334.6" cy="768.4"/><circle cx="334.6" cy="780.8"/><circle cx="334.1" cy="789.5"/><circle cx="334.1" cy="796.9"/><circle cx="342.3" cy="773.4"/><circle cx="342.3" cy="787.6"/><circle cx="342.3" cy="795.7"/><circle cx="342.3" cy="799.4"/><circle cx="335.8" cy="803.1"/></g>
<path d="M341.3,837.0 L341.3,814.0 L342.7,812.5 L343.7,812.7 L344.7,812.8 L345.7,813.0 L346.7,813.3 L347.7,816.5 L348.7,812.3 L349.7,812.3 L350.7,808.5 L351.7,807.5 L352.7,809.5 L353.4,808.1 L353.4,808.1 L353.4,837.0Z" fill="#E7298A"/><g class="p" fill="#E7298A" stroke="#E7298A"><circle cx="342.7" cy="812.1"/><circle cx="342.3" cy="806.6"/><circle cx="351.0" cy="806.8"/><circle cx="351.4" cy="804.0"/><circle cx="353.6" cy="804.6"/><circle cx="342.7" cy="812.7"/><circle cx="353.0" cy="802.9"/><circle cx="347.6" cy="814.8"/><circle cx="344.7" cy="813.6"/><circle cx="353.7" cy="805.1"/><circle cx="351.9" cy="806.7"/><circle cx="349.1" cy="807.3"/><circle cx="350.3" cy="808.3"/><circle cx="344.5" cy="809.2"/><circle cx="352.3" cy="808.9"/><circle cx="353.3" cy="807.7"/><circle cx="352.7" cy="807.8"/><circle cx="343.5" cy="813.4"/><circle cx="347.1" cy="810.7"/><circle cx="350.7" cy="805.6"/><circle cx="353.4" cy="805.7"/><circle cx="347.8" cy="807.5"/><circle cx="352.4" cy="801.0"/><circle cx="353.5" cy="799.7"/><circle cx="353.9" cy="796.1"/><circle cx="348.8" cy="801.8"/><circle cx="342.3" cy="774.0"/><circle cx="350.6" cy="788.3"/><circle cx="350.4" cy="788.3"/><circle cx="349.9" cy="796.9"/><circle cx="345.8" cy="799.4"/><circle cx="349.0" cy="801.3"/></g>
<path d="M352.0,837.0 L352.0,812.1 L353.4,810.6 L354.4,810.3 L355.4,806.6 L356.4,805.3 L357.4,805.1 L358.4,802.6 L359.4,806.1 L360.4,805.6 L361.4,808.7 L362.4,810.5 L363.4,812.9 L364.1,811.7 L364.1,811.7 L364.1,837.0Z" fill="#66A61E"/><g class="p" fill="#66A61E" stroke="#66A61E"><circle cx="364.4" cy="810.4"/><circle cx="353.6" cy="809.8"/><circle cx="361.1" cy="809.0"/><circle cx="359.8" cy="799.9"/><circle cx="357.6" cy="801.9"/><circle cx="355.6" cy="807.4"/><circle cx="359.1" cy="804.5"/><circle cx="358.4" cy="797.6"/><circle cx="359.1" cy="805.9"/><circle cx="354.6" cy="810.3"/><circle cx="357.9" cy="804.2"/><circle cx="358.4" cy="803.3"/><circle cx="361.7" cy="804.4"/><circle cx="355.4" cy="803.2"/><circle cx="363.4" cy="813.1"/><circle cx="364.1" cy="811.2"/><circle cx="357.2" cy="800.1"/><circle cx="354.4" cy="809.0"/><circle cx="356.7" cy="800.9"/><circle cx="358.5" cy="799.4"/><circle cx="355.2" cy="807.1"/><circle cx="361.9" cy="800.4"/><circle cx="360.9" cy="796.9"/><circle cx="358.7" cy="795.2"/><circle cx="364.5" cy="803.0"/><circle cx="357.5" cy="795.5"/><circle cx="355.6" cy="765.4"/><circle cx="354.1" cy="768.4"/><circle cx="358.5" cy="773.4"/><circle cx="361.7" cy="775.9"/><circle cx="354.1" cy="776.5"/><circle cx="354.1" cy="782.1"/><circle cx="358.5" cy="780.8"/><circle cx="358.5" cy="788.3"/><circle cx="354.1" cy="793.8"/><circle cx="361.7" cy="793.8"/><circle cx="354.7" cy="795.7"/><circle cx="360.5" cy="795.7"/><circle cx="354.1" cy="798.2"/><circle cx="359.0" cy="798.2"/><circle cx="362.5" cy="797.5"/></g>
<path d="M362.7,837.0 L362.7,809.3 L364.1,807.8 L365.1,813.0 L366.1,807.1 L367.1,805.9 L368.1,809.5 L369.1,810.1 L370.1,806.9 L371.1,811.1 L372.1,809.0 L373.1,810.8 L373.2,811.7 L373.2,811.7 L373.2,837.0Z" fill="#E6AB02"/><g class="p" fill="#E6AB02" stroke="#E6AB02"><circle cx="372.0" cy="810.2"/><circle cx="367.1" cy="804.0"/><circle cx="367.5" cy="806.8"/><circle cx="368.4" cy="808.9"/><circle cx="369.4" cy="809.6"/><circle cx="369.7" cy="802.8"/><circle cx="372.1" cy="804.5"/><circle cx="373.5" cy="812.0"/><circle cx="373.2" cy="811.2"/><circle cx="373.1" cy="808.4"/><circle cx="373.4" cy="811.3"/><circle cx="371.4" cy="810.0"/><circle cx="367.5" cy="804.9"/><circle cx="373.7" cy="811.7"/><circle cx="365.2" cy="813.9"/><circle cx="368.3" cy="807.0"/><circle cx="364.4" cy="808.9"/><circle cx="373.4" cy="805.4"/><circle cx="371.5" cy="802.9"/><circle cx="372.9" cy="802.0"/><circle cx="364.5" cy="794.9"/><circle cx="371.3" cy="803.4"/><circle cx="364.7" cy="788.9"/><circle cx="367.3" cy="798.2"/><circle cx="371.1" cy="803.1"/></g>
<path d="M371.8,837.0 L371.8,812.0 L373.2,810.5 L374.2,810.2 L375.2,813.7 L376.2,809.3 L377.2,809.3 L378.2,811.5 L379.2,810.8 L380.2,811.8 L381.0,811.2 L381.0,811.2 L381.0,837.0Z" fill="#A6761D"/><g class="p" fill="#A6761D" stroke="#A6761D"><circle cx="377.4" cy="805.5"/><circle cx="381.4" cy="812.1"/><circle cx="376.9" cy="810.2"/><circle cx="380.6" cy="809.3"/><circle cx="379.7" cy="807.3"/><circle cx="373.1" cy="808.8"/><circle cx="377.9" cy="811.0"/><circle cx="377.1" cy="809.9"/><circle cx="378.0" cy="809.6"/><circle cx="378.9" cy="804.5"/><circle cx="376.5" cy="806.6"/><circle cx="376.7" cy="809.6"/><circle cx="376.6" cy="809.4"/><circle cx="375.1" cy="814.6"/><circle cx="373.3" cy="805.0"/><circle cx="373.2" cy="798.4"/><circle cx="372.9" cy="799.6"/><circle cx="374.8" cy="802.9"/><circle cx="379.8" cy="778.4"/><circle cx="374.2" cy="789.5"/><circle cx="373.4" cy="792.0"/><circle cx="374.9" cy="796.3"/><circle cx="378.7" cy="796.3"/><circle cx="377.2" cy="798.2"/></g>
<path d="M379.6,837.0 L379.6,813.0 L381.0,811.5 L382.0,812.7 L383.0,812.6 L384.0,815.7 L385.0,813.7 L386.0,810.2 L387.0,808.5 L388.0,809.0 L389.0,809.3 L390.0,805.8 L390.3,807.6 L390.3,807.6 L390.3,837.0Z" fill="#666666"/><g class="p" fill="#666666" stroke="#666666"><circle cx="389.9" cy="800.1"/><circle cx="380.7" cy="808.8"/><circle cx="385.8" cy="808.8"/><circle cx="388.8" cy="805.0"/><circle cx="387.5" cy="805.2"/><circle cx="380.9" cy="811.9"/><circle cx="385.1" cy="814.5"/><circle cx="390.1" cy="801.3"/><circle cx="390.0" cy="805.8"/><circle cx="384.4" cy="811.6"/><circle cx="386.7" cy="806.4"/><circle cx="383.7" cy="814.4"/><circle cx="386.5" cy="805.1"/><circle cx="389.8" cy="803.8"/><circle cx="383.3" cy="813.0"/><circle cx="390.5" cy="807.3"/><circle cx="387.7" cy="809.5"/><circle cx="382.4" cy="814.4"/><circle cx="386.7" cy="801.2"/><circle cx="390.5" cy="794.6"/><circle cx="390.1" cy="793.4"/><circle cx="385.0" cy="802.5"/><circle cx="380.7" cy="788.3"/><circle cx="382.2" cy="794.4"/><circle cx="383.6" cy="798.2"/></g>
<path d="M388.9,837.0 L388.9,806.2 L390.3,804.7 L391.3,802.8 L392.3,805.9 L393.3,808.9 L394.3,811.2 L395.3,814.2 L396.3,811.4 L396.6,815.0 L396.6,815.0 L396.6,837.0Z" fill="#1B9E77"/><g class="p" fill="#1B9E77" stroke="#1B9E77"><circle cx="391.5" cy="800.7"/><circle cx="391.6" cy="801.0"/><circle cx="392.3" cy="807.0"/><circle cx="396.4" cy="809.4"/><circle cx="396.7" cy="812.4"/><circle cx="396.3" cy="810.3"/><circle cx="395.2" cy="813.3"/><circle cx="389.9" cy="802.5"/><circle cx="396.1" cy="815.7"/><circle cx="391.6" cy="800.0"/><circle cx="390.3" cy="801.6"/><circle cx="390.4" cy="803.3"/><circle cx="390.8" cy="792.3"/><circle cx="396.9" cy="802.7"/><circle cx="390.9" cy="794.4"/><circle cx="393.4" cy="788.9"/><circle cx="395.9" cy="787.6"/><circle cx="393.9" cy="793.2"/><circle cx="393.4" cy="798.2"/></g>
<path d="M395.2,837.0 L395.2,810.1 L396.6,808.6 L397.6,807.0 L398.6,807.4 L399.6,805.2 L400.6,812.4 L401.6,809.7 L402.6,810.3 L403.6,806.2 L404.3,806.9 L404.3,806.9 L404.3,837.0Z" fill="#D95F02"/><g class="p" fill="#D95F02" stroke="#D95F02"><circle cx="401.0" cy="811.6"/><circle cx="403.2" cy="805.8"/><circle cx="400.9" cy="809.5"/><circle cx="396.4" cy="807.0"/><circle cx="404.1" cy="803.4"/><circle cx="401.5" cy="807.1"/><circle cx="397.2" cy="802.9"/><circle cx="396.2" cy="807.9"/><circle cx="404.6" cy="803.0"/><circle cx="401.5" cy="810.6"/><circle cx="401.5" cy="809.1"/><circle cx="400.1" cy="806.8"/><circle cx="397.7" cy="808.0"/><circle cx="397.3" cy="806.4"/><circle cx="396.9" cy="806.8"/><circle cx="396.4" cy="795.6"/><circle cx="398.3" cy="796.9"/><circle cx="401.4" cy="796.6"/><circle cx="401.5" cy="781.4"/><circle cx="398.4" cy="788.3"/><circle cx="398.4" cy="793.8"/><circle cx="401.5" cy="795.1"/><circle cx="400.7" cy="798.2"/><circle cx="401.0" cy="799.4"/></g>
<path d="M402.9,837.0 L402.9,812.4 L404.3,810.9 L405.3,810.6 L406.3,814.0 L407.3,812.8 L408.3,814.6 L409.3,819.5 L410.3,822.3 L411.1,819.0 L411.1,819.0 L411.1,837.0Z" fill="#7570B3"/><g class="p" fill="#7570B3" stroke="#7570B3"><circle cx="405.1" cy="809.7"/><circle cx="406.8" cy="807.9"/><circle cx="408.1" cy="814.7"/><circle cx="407.0" cy="813.8"/><circle cx="410.4" cy="822.9"/><circle cx="405.7" cy="808.7"/><circle cx="407.6" cy="813.7"/><circle cx="411.1" cy="820.2"/><circle cx="409.5" cy="814.7"/><circle cx="405.9" cy="809.8"/><circle cx="407.6" cy="814.0"/><circle cx="405.7" cy="806.4"/><circle cx="407.4" cy="810.9"/><circle cx="409.6" cy="812.0"/><circle cx="411.4" cy="806.0"/><circle cx="408.7" cy="807.3"/><circle cx="409.1" cy="800.0"/><circle cx="406.0" cy="804.3"/></g>
<path d="M409.7,837.0 L409.7,817.0 L411.1,815.5 L412.1,812.4 L413.1,812.3 L414.1,806.1 L415.1,810.2 L416.1,807.9 L417.1,808.5 L418.0,807.1 L418.0,807.1 L418.0,837.0Z" fill="#E7298A"/><g class="p" fill="#E7298A" stroke="#E7298A"><circle cx="417.8" cy="806.1"/><circle cx="413.9" cy="806.2"/><circle cx="412.3" cy="813.4"/><circle cx="414.3" cy="806.2"/><circle cx="413.1" cy="812.9"/><circle cx="411.4" cy="814.8"/><circle cx="417.6" cy="807.2"/><circle cx="416.0" cy="805.8"/><circle cx="413.9" cy="804.6"/><circle cx="414.5" cy="804.5"/><circle cx="413.6" cy="803.5"/><circle cx="411.6" cy="812.3"/><circle cx="416.4" cy="807.1"/><circle cx="417.2" cy="800.7"/><circle cx="413.8" cy="797.9"/><circle cx="412.8" cy="804.1"/><circle cx="414.4" cy="794.4"/><circle cx="412.9" cy="796.9"/><circle cx="415.1" cy="797.5"/><circle cx="411.4" cy="801.3"/></g>
<path d="M416.6,837.0 L416.6,812.1 L418.0,810.6 L419.0,811.7 L420.0,810.0 L421.0,813.2 L422.0,814.3 L423.0,811.4 L424.0,810.4 L425.0,808.4 L425.6,807.7 L425.6,807.7 L425.6,837.0Z" fill="#66A61E"/><g class="p" fill="#66A61E" stroke="#66A61E"><circle cx="423.5" cy="807.1"/><circle cx="422.5" cy="809.8"/><circle cx="424.5" cy="810.5"/><circle cx="422.7" cy="807.8"/><circle cx="423.3" cy="808.5"/><circle cx="417.6" cy="804.9"/><circle cx="421.1" cy="812.4"/><circle cx="424.4" cy="803.8"/><circle cx="421.1" cy="814.0"/><circle cx="417.8" cy="810.0"/><circle cx="421.7" cy="811.6"/><circle cx="420.7" cy="812.0"/><circle cx="419.2" cy="811.1"/><circle cx="418.2" cy="810.0"/><circle cx="420.3" cy="808.3"/><circle cx="419.3" cy="804.1"/><circle cx="418.8" cy="801.2"/><circle cx="423.8" cy="802.4"/><circle cx="417.7" cy="788.9"/><circle cx="424.6" cy="790.7"/><circle cx="424.6" cy="795.7"/><circle cx="419.0" cy="798.2"/><circle cx="424.6" cy="801.3"/></g>
<circle cx="135.80" cy="726.36" r="1.3" fill="#5D981B" stroke="#5D981B" stroke-width="0.4"/>
<circle cx="354.10" cy="726.36" r="1.3" fill="#5D981B" stroke="#5D981B" stroke-width="0.4"/>
<circle cx="360.20" cy="738.12" r="1.3" fill="#5D981B" stroke="#5D981B" stroke-width="0.4"/>
<line x1="36.4" x2="443.5" y1="754.77" y2="754.77" stroke="#FF0000" stroke-opacity="0.75" stroke-width="1.4" stroke-dasharray="3.7 2.96" stroke-dashoffset="0.1"/>
<rect x="36.4" y="721.7" width="407.1" height="118.79999999999995" fill="none" stroke="#7A7A7A" stroke-width="1.2"/>
<line x1="33.3" x2="36.4" y1="835.30" y2="835.30" stroke="#666" stroke-width="1"/>
<text x="30.8" y="839.05" text-anchor="end" font-size="10.4" fill="#4D4D4D" font-family="Liberation Sans, sans-serif">0.0</text>
<line x1="33.3" x2="36.4" y1="804.35" y2="804.35" stroke="#666" stroke-width="1"/>
<text x="30.8" y="808.10" text-anchor="end" font-size="10.4" fill="#4D4D4D" font-family="Liberation Sans, sans-serif">0.5</text>
<line x1="33.3" x2="36.4" y1="773.40" y2="773.40" stroke="#666" stroke-width="1"/>
<text x="30.8" y="777.15" text-anchor="end" font-size="10.4" fill="#4D4D4D" font-family="Liberation Sans, sans-serif">1.0</text>
<line x1="33.3" x2="36.4" y1="742.45" y2="742.45" stroke="#666" stroke-width="1"/>
<text x="30.8" y="746.20" text-anchor="end" font-size="10.4" fill="#4D4D4D" font-family="Liberation Sans, sans-serif">1.5</text>
<line x1="66.23" x2="66.23" y1="840.5" y2="843.6" stroke="#666" stroke-width="1"/>
<text x="66.23" y="853.90" text-anchor="middle" font-size="10.4" fill="#4D4D4D" font-family="Liberation Sans, sans-serif">1</text>
<line x1="107.28" x2="107.28" y1="840.5" y2="843.6" stroke="#666" stroke-width="1"/>
<text x="107.28" y="853.90" text-anchor="middle" font-size="10.4" fill="#4D4D4D" font-family="Liberation Sans, sans-serif">3</text>
<line x1="143.05" x2="143.05" y1="840.5" y2="843.6" stroke="#666" stroke-width="1"/>
<text x="143.05" y="853.90" text-anchor="middle" font-size="10.4" fill="#4D4D4D" font-family="Liberation Sans, sans-serif">5</text>
<line x1="177.73" x2="177.73" y1="840.5" y2="843.6" stroke="#666" stroke-width="1"/>
<text x="177.73" y="853.90" text-anchor="middle" font-size="10.4" fill="#4D4D4D" font-family="Liberation Sans, sans-serif">7</text>
<line x1="210.65" x2="210.65" y1="840.5" y2="843.6" stroke="#666" stroke-width="1"/>
<text x="210.65" y="853.90" text-anchor="middle" font-size="10.4" fill="#4D4D4D" font-family="Liberation Sans, sans-serif">9</text>
<line x1="241.82" x2="241.82" y1="840.5" y2="843.6" stroke="#666" stroke-width="1"/>
<text x="241.82" y="853.90" text-anchor="middle" font-size="10.4" fill="#4D4D4D" font-family="Liberation Sans, sans-serif">11</text>
<line x1="268.95" x2="268.95" y1="840.5" y2="843.6" stroke="#666" stroke-width="1"/>
<text x="268.95" y="853.90" text-anchor="middle" font-size="10.4" fill="#4D4D4D" font-family="Liberation Sans, sans-serif">13</text>
<line x1="293.73" x2="293.73" y1="840.5" y2="843.6" stroke="#666" stroke-width="1"/>
<text x="293.73" y="853.90" text-anchor="middle" font-size="10.4" fill="#4D4D4D" font-family="Liberation Sans, sans-serif">15</text>
<line x1="317.79" x2="317.79" y1="840.5" y2="843.6" stroke="#666" stroke-width="1"/>
<text x="317.79" y="853.90" text-anchor="middle" font-size="10.4" fill="#4D4D4D" font-family="Liberation Sans, sans-serif">17</text>
<line x1="337.97" x2="337.97" y1="840.5" y2="843.6" stroke="#666" stroke-width="1"/>
<text x="337.97" y="853.90" text-anchor="middle" font-size="10.4" fill="#4D4D4D" font-family="Liberation Sans, sans-serif">19</text>
<line x1="358.76" x2="358.76" y1="840.5" y2="843.6" stroke="#666" stroke-width="1"/>
<text x="358.76" y="853.90" text-anchor="middle" font-size="10.4" fill="#4D4D4D" font-family="Liberation Sans, sans-serif">21</text>
<line x1="377.12" x2="377.12" y1="840.5" y2="843.6" stroke="#666" stroke-width="1"/>
<text x="377.12" y="853.90" text-anchor="middle" font-size="10.4" fill="#4D4D4D" font-family="Liberation Sans, sans-serif">23</text>
<line x1="393.44" x2="393.44" y1="840.5" y2="843.6" stroke="#666" stroke-width="1"/>
<text x="393.44" y="853.90" text-anchor="middle" font-size="10.4" fill="#4D4D4D" font-family="Liberation Sans, sans-serif">25</text>
<line x1="407.72" x2="407.72" y1="840.5" y2="843.6" stroke="#666" stroke-width="1"/>
<text x="407.72" y="853.90" text-anchor="middle" font-size="10.4" fill="#4D4D4D" font-family="Liberation Sans, sans-serif">27</text>
<line x1="421.79" x2="421.79" y1="840.5" y2="843.6" stroke="#666" stroke-width="1"/>
<text x="421.79" y="853.90" text-anchor="middle" font-size="10.4" fill="#4D4D4D" font-family="Liberation Sans, sans-serif">29</text>
<text x="239.95" y="866.20" text-anchor="middle" font-size="10.4" fill="#1A1A1A" font-family="Liberation Sans, sans-serif">Chromosome</text>
<text transform="translate(9.7,781.10) rotate(-90)" text-anchor="middle" font-size="10.3" fill="#000" font-family="Liberation Sans, sans-serif">−<tspan dx="2.4">log</tspan><tspan font-size="7.3" dy="2.2">10</tspan><tspan dy="-2.2">(FDR)</tspan></text>
<text x="36.6" y="714.20" font-size="11.2" font-weight="bold" fill="#000" font-family="Liberation Sans, sans-serif">RUWD</text>
<rect x="480.8" y="721.7" width="202.90000000000003" height="118.79999999999995" fill="#fff"/>
<line x1="480.8" x2="683.7" y1="818.08" y2="818.08" stroke="#EBEBEB" stroke-width="0.5"/>
<line x1="480.8" x2="683.7" y1="783.84" y2="783.84" stroke="#EBEBEB" stroke-width="0.5"/>
<line x1="480.8" x2="683.7" y1="749.60" y2="749.60" stroke="#EBEBEB" stroke-width="0.5"/>
<line x1="508.41" x2="508.41" y1="721.7" y2="840.5" stroke="#EBEBEB" stroke-width="0.5"/>
<line x1="546.33" x2="546.33" y1="721.7" y2="840.5" stroke="#EBEBEB" stroke-width="0.5"/>
<line x1="584.25" x2="584.25" y1="721.7" y2="840.5" stroke="#EBEBEB" stroke-width="0.5"/>
<line x1="622.17" x2="622.17" y1="721.7" y2="840.5" stroke="#EBEBEB" stroke-width="0.5"/>
<line x1="660.09" x2="660.09" y1="721.7" y2="840.5" stroke="#EBEBEB" stroke-width="0.5"/>
<line x1="480.8" x2="683.7" y1="835.20" y2="835.20" stroke="#EBEBEB" stroke-width="1"/>
<line x1="480.8" x2="683.7" y1="800.96" y2="800.96" stroke="#EBEBEB" stroke-width="1"/>
<line x1="480.8" x2="683.7" y1="766.72" y2="766.72" stroke="#EBEBEB" stroke-width="1"/>
<line x1="480.8" x2="683.7" y1="732.48" y2="732.48" stroke="#EBEBEB" stroke-width="1"/>
<line x1="489.45" x2="489.45" y1="721.7" y2="840.5" stroke="#EBEBEB" stroke-width="1"/>
<line x1="527.37" x2="527.37" y1="721.7" y2="840.5" stroke="#EBEBEB" stroke-width="1"/>
<line x1="565.29" x2="565.29" y1="721.7" y2="840.5" stroke="#EBEBEB" stroke-width="1"/>
<line x1="603.21" x2="603.21" y1="721.7" y2="840.5" stroke="#EBEBEB" stroke-width="1"/>
<line x1="641.13" x2="641.13" y1="721.7" y2="840.5" stroke="#EBEBEB" stroke-width="1"/>
<line x1="679.05" x2="679.05" y1="721.7" y2="840.5" stroke="#EBEBEB" stroke-width="1"/>
<clipPath id="qc4"><rect x="480.8" y="721.7" width="202.90000000000003" height="118.79999999999995"/></clipPath>
<line clip-path="url(#qc4)" x1="470.49" y1="843.76" x2="698.01" y2="741.04" stroke="#FF0000" stroke-width="1.2" stroke-dasharray="3.2 3.5" stroke-dashoffset="3.2"/>
<polyline points="577.4,785.4 575.5,786.4 573.6,787.4 571.7,788.3 569.8,789.3 567.9,791.0 566.0,792.8 564.2,794.3 562.3,795.4 560.4,796.4 558.5,797.4 556.6,798.4 554.7,799.4 552.8,800.4 550.9,801.4 549.0,802.5 547.1,803.5 545.2,804.5 543.3,805.5 541.4,806.5 539.5,807.5 537.6,808.5 535.7,809.5 533.8,810.6 531.9,811.6 530.0,812.6 528.1,813.6 526.2,814.6 524.3,815.7 522.4,816.8 520.5,817.8 518.6,818.9 516.8,819.9 514.9,821.0 513.0,822.1 511.1,823.1 509.2,824.2 507.3,825.2 505.4,826.3 503.5,827.4 501.6,828.4 499.7,829.5 497.8,830.5 495.9,831.6 494.0,832.7 492.1,833.7 490.2,834.8 489.4,835.2" fill="none" stroke="#000" stroke-width="3.2" stroke-linecap="round" stroke-linejoin="round"/>
<g fill="#000"><circle cx="674.9" cy="726.7" r="1.4"/><circle cx="656.8" cy="731.3" r="1.4"/><circle cx="648.4" cy="737.9" r="1.4"/><circle cx="642.8" cy="747.6" r="1.4"/><circle cx="638.7" cy="751.2" r="1.4"/><circle cx="635.4" cy="752.9" r="1.4"/><circle cx="632.6" cy="753.2" r="1.4"/><circle cx="630.3" cy="753.9" r="1.4"/><circle cx="628.2" cy="754.5" r="1.4"/><circle cx="626.4" cy="757.4" r="1.4"/><circle cx="624.7" cy="758.0" r="1.4"/><circle cx="623.2" cy="758.5" r="1.4"/><circle cx="621.9" cy="759.0" r="1.4"/><circle cx="620.6" cy="759.4" r="1.4"/><circle cx="619.4" cy="759.8" r="1.4"/><circle cx="618.3" cy="760.2" r="1.4"/><circle cx="617.3" cy="760.6" r="1.4"/><circle cx="616.3" cy="761.0" r="1.4"/><circle cx="615.4" cy="761.5" r="1.4"/><circle cx="614.5" cy="762.0" r="1.4"/><circle cx="613.7" cy="762.4" r="1.4"/><circle cx="612.9" cy="762.9" r="1.4"/><circle cx="612.2" cy="763.3" r="1.4"/><circle cx="611.5" cy="763.7" r="1.4"/><circle cx="610.8" cy="764.2" r="1.4"/><circle cx="610.1" cy="764.6" r="1.4"/><circle cx="609.5" cy="765.0" r="1.4"/><circle cx="608.9" cy="765.5" r="1.4"/><circle cx="608.3" cy="766.0" r="1.4"/><circle cx="607.7" cy="766.5" r="1.4"/><circle cx="607.2" cy="767.0" r="1.4"/><circle cx="606.6" cy="767.4" r="1.4"/><circle cx="606.1" cy="767.9" r="1.4"/><circle cx="605.6" cy="768.4" r="1.4"/><circle cx="605.1" cy="768.9" r="1.4"/><circle cx="604.7" cy="769.4" r="1.4"/><circle cx="604.2" cy="769.8" r="1.4"/><circle cx="603.8" cy="770.3" r="1.4"/><circle cx="603.3" cy="770.7" r="1.4"/><circle cx="602.9" cy="770.9" r="1.4"/><circle cx="602.5" cy="771.2" r="1.4"/><circle cx="602.1" cy="771.5" r="1.4"/><circle cx="601.7" cy="771.7" r="1.4"/><circle cx="601.3" cy="772.0" r="1.4"/><circle cx="601.0" cy="772.2" r="1.4"/><circle cx="600.6" cy="772.5" r="1.4"/><circle cx="600.2" cy="772.7" r="1.4"/><circle cx="599.9" cy="772.9" r="1.4"/><circle cx="599.5" cy="773.1" r="1.4"/><circle cx="599.2" cy="773.4" r="1.4"/><circle cx="598.9" cy="773.6" r="1.4"/><circle cx="598.5" cy="773.8" r="1.4"/><circle cx="598.2" cy="774.0" r="1.4"/><circle cx="597.9" cy="774.2" r="1.4"/><circle cx="597.6" cy="774.4" r="1.4"/><circle cx="597.3" cy="774.6" r="1.4"/><circle cx="597.0" cy="774.8" r="1.4"/><circle cx="596.7" cy="775.0" r="1.4"/><circle cx="596.4" cy="775.2" r="1.4"/><circle cx="596.2" cy="775.4" r="1.4"/><circle cx="595.9" cy="775.5" r="1.4"/><circle cx="595.6" cy="775.7" r="1.4"/><circle cx="595.4" cy="775.9" r="1.4"/><circle cx="595.1" cy="776.0" r="1.4"/><circle cx="594.8" cy="776.2" r="1.4"/><circle cx="594.6" cy="776.3" r="1.4"/><circle cx="594.3" cy="776.5" r="1.4"/><circle cx="594.1" cy="776.6" r="1.4"/><circle cx="593.8" cy="776.7" r="1.4"/><circle cx="593.6" cy="776.9" r="1.4"/><circle cx="593.4" cy="777.0" r="1.4"/><circle cx="593.1" cy="777.1" r="1.4"/><circle cx="592.9" cy="777.2" r="1.4"/><circle cx="592.7" cy="777.4" r="1.4"/><circle cx="592.5" cy="777.5" r="1.4"/><circle cx="592.2" cy="777.6" r="1.4"/><circle cx="592.0" cy="777.7" r="1.4"/><circle cx="591.8" cy="777.8" r="1.4"/><circle cx="591.6" cy="778.0" r="1.4"/><circle cx="591.4" cy="778.1" r="1.4"/><circle cx="591.2" cy="778.2" r="1.4"/><circle cx="591.0" cy="778.3" r="1.4"/><circle cx="590.8" cy="778.4" r="1.4"/><circle cx="590.6" cy="778.5" r="1.4"/><circle cx="590.4" cy="778.6" r="1.4"/><circle cx="590.2" cy="778.7" r="1.4"/><circle cx="590.0" cy="778.8" r="1.4"/><circle cx="589.8" cy="778.9" r="1.4"/><circle cx="589.6" cy="779.0" r="1.4"/><circle cx="589.4" cy="779.1" r="1.4"/><circle cx="589.3" cy="779.2" r="1.4"/><circle cx="589.1" cy="779.3" r="1.4"/><circle cx="588.9" cy="779.4" r="1.4"/><circle cx="588.7" cy="779.5" r="1.4"/><circle cx="588.6" cy="779.6" r="1.4"/><circle cx="588.4" cy="779.7" r="1.4"/><circle cx="588.2" cy="779.8" r="1.4"/><circle cx="588.0" cy="779.9" r="1.4"/><circle cx="587.9" cy="780.0" r="1.4"/><circle cx="587.7" cy="780.1" r="1.4"/><circle cx="587.5" cy="780.2" r="1.4"/><circle cx="587.4" cy="780.3" r="1.4"/><circle cx="587.2" cy="780.4" r="1.4"/><circle cx="587.1" cy="780.5" r="1.4"/><circle cx="586.9" cy="780.5" r="1.4"/><circle cx="586.7" cy="780.6" r="1.4"/><circle cx="586.6" cy="780.7" r="1.4"/><circle cx="586.4" cy="780.8" r="1.4"/><circle cx="586.3" cy="780.9" r="1.4"/><circle cx="586.1" cy="781.0" r="1.4"/><circle cx="586.0" cy="781.0" r="1.4"/><circle cx="585.8" cy="781.1" r="1.4"/><circle cx="585.7" cy="781.2" r="1.4"/><circle cx="585.5" cy="781.3" r="1.4"/><circle cx="585.4" cy="781.4" r="1.4"/><circle cx="585.2" cy="781.4" r="1.4"/><circle cx="585.1" cy="781.5" r="1.4"/><circle cx="585.0" cy="781.6" r="1.4"/><circle cx="584.8" cy="781.7" r="1.4"/><circle cx="584.7" cy="781.8" r="1.4"/><circle cx="584.5" cy="781.8" r="1.4"/><circle cx="584.4" cy="781.9" r="1.4"/><circle cx="584.3" cy="782.0" r="1.4"/><circle cx="584.1" cy="782.0" r="1.4"/><circle cx="584.0" cy="782.1" r="1.4"/><circle cx="583.9" cy="782.2" r="1.4"/><circle cx="583.7" cy="782.2" r="1.4"/><circle cx="583.6" cy="782.3" r="1.4"/><circle cx="583.5" cy="782.4" r="1.4"/><circle cx="583.4" cy="782.4" r="1.4"/><circle cx="583.2" cy="782.5" r="1.4"/><circle cx="583.1" cy="782.6" r="1.4"/><circle cx="583.0" cy="782.6" r="1.4"/><circle cx="582.9" cy="782.7" r="1.4"/><circle cx="582.7" cy="782.7" r="1.4"/><circle cx="582.6" cy="782.8" r="1.4"/><circle cx="582.5" cy="782.9" r="1.4"/><circle cx="582.4" cy="782.9" r="1.4"/><circle cx="582.3" cy="783.0" r="1.4"/><circle cx="582.1" cy="783.1" r="1.4"/><circle cx="582.0" cy="783.1" r="1.4"/><circle cx="581.9" cy="783.2" r="1.4"/><circle cx="581.8" cy="783.2" r="1.4"/><circle cx="581.7" cy="783.3" r="1.4"/><circle cx="581.6" cy="783.3" r="1.4"/><circle cx="581.4" cy="783.4" r="1.4"/><circle cx="581.3" cy="783.5" r="1.4"/><circle cx="581.2" cy="783.5" r="1.4"/><circle cx="581.1" cy="783.6" r="1.4"/><circle cx="581.0" cy="783.6" r="1.4"/><circle cx="580.9" cy="783.7" r="1.4"/><circle cx="580.8" cy="783.7" r="1.4"/><circle cx="580.7" cy="783.8" r="1.4"/><circle cx="580.6" cy="783.9" r="1.4"/><circle cx="580.5" cy="783.9" r="1.4"/><circle cx="580.3" cy="784.0" r="1.4"/><circle cx="580.2" cy="784.0" r="1.4"/><circle cx="580.1" cy="784.1" r="1.4"/><circle cx="580.0" cy="784.1" r="1.4"/><circle cx="579.9" cy="784.2" r="1.4"/><circle cx="579.8" cy="784.2" r="1.4"/><circle cx="579.7" cy="784.3" r="1.4"/><circle cx="579.6" cy="784.3" r="1.4"/><circle cx="579.5" cy="784.4" r="1.4"/><circle cx="579.4" cy="784.4" r="1.4"/><circle cx="579.3" cy="784.5" r="1.4"/><circle cx="579.2" cy="784.5" r="1.4"/><circle cx="579.1" cy="784.6" r="1.4"/><circle cx="579.0" cy="784.6" r="1.4"/><circle cx="578.9" cy="784.7" r="1.4"/><circle cx="578.8" cy="784.7" r="1.4"/><circle cx="578.7" cy="784.8" r="1.4"/><circle cx="578.6" cy="784.8" r="1.4"/><circle cx="578.5" cy="784.9" r="1.4"/><circle cx="578.4" cy="784.9" r="1.4"/><circle cx="578.4" cy="785.0" r="1.4"/><circle cx="578.3" cy="785.0" r="1.4"/><circle cx="578.2" cy="785.1" r="1.4"/><circle cx="578.1" cy="785.1" r="1.4"/><circle cx="578.0" cy="785.2" r="1.4"/><circle cx="577.9" cy="785.2" r="1.4"/><circle cx="577.8" cy="785.3" r="1.4"/><circle cx="577.7" cy="785.3" r="1.4"/><circle cx="577.6" cy="785.3" r="1.4"/><circle cx="577.5" cy="785.4" r="1.4"/><circle cx="577.4" cy="785.4" r="1.4"/><circle cx="577.4" cy="785.5" r="1.4"/><circle cx="577.3" cy="785.5" r="1.4"/><circle cx="577.2" cy="785.6" r="1.4"/><circle cx="577.1" cy="785.6" r="1.4"/><circle cx="577.0" cy="785.7" r="1.4"/><circle cx="576.9" cy="785.7" r="1.4"/><circle cx="576.8" cy="785.7" r="1.4"/><circle cx="576.7" cy="785.8" r="1.4"/></g>
<rect x="480.8" y="721.7" width="202.90000000000003" height="118.79999999999995" fill="none" stroke="#7A7A7A" stroke-width="1.2"/>
<line x1="477.7" x2="480.8" y1="835.20" y2="835.20" stroke="#666" stroke-width="1"/>
<text x="475.40" y="838.95" text-anchor="end" font-size="10.4" fill="#4D4D4D" font-family="Liberation Sans, sans-serif">0</text>
<line x1="477.7" x2="480.8" y1="800.96" y2="800.96" stroke="#666" stroke-width="1"/>
<text x="475.40" y="804.71" text-anchor="end" font-size="10.4" fill="#4D4D4D" font-family="Liberation Sans, sans-serif">2</text>
<line x1="477.7" x2="480.8" y1="766.72" y2="766.72" stroke="#666" stroke-width="1"/>
<text x="475.40" y="770.47" text-anchor="end" font-size="10.4" fill="#4D4D4D" font-family="Liberation Sans, sans-serif">4</text>
<line x1="477.7" x2="480.8" y1="732.48" y2="732.48" stroke="#666" stroke-width="1"/>
<text x="475.40" y="736.23" text-anchor="end" font-size="10.4" fill="#4D4D4D" font-family="Liberation Sans, sans-serif">6</text>
<line x1="489.45" x2="489.45" y1="840.5" y2="843.6" stroke="#666" stroke-width="1"/>
<text x="489.45" y="853.90" text-anchor="middle" font-size="10.4" fill="#4D4D4D" font-family="Liberation Sans, sans-serif">0</text>
<line x1="527.37" x2="527.37" y1="840.5" y2="843.6" stroke="#666" stroke-width="1"/>
<text x="527.37" y="853.90" text-anchor="middle" font-size="10.4" fill="#4D4D4D" font-family="Liberation Sans, sans-serif">1</text>
<line x1="565.29" x2="565.29" y1="840.5" y2="843.6" stroke="#666" stroke-width="1"/>
<text x="565.29" y="853.90" text-anchor="middle" font-size="10.4" fill="#4D4D4D" font-family="Liberation Sans, sans-serif">2</text>
<line x1="603.21" x2="603.21" y1="840.5" y2="843.6" stroke="#666" stroke-width="1"/>
<text x="603.21" y="853.90" text-anchor="middle" font-size="10.4" fill="#4D4D4D" font-family="Liberation Sans, sans-serif">3</text>
<line x1="641.13" x2="641.13" y1="840.5" y2="843.6" stroke="#666" stroke-width="1"/>
<text x="641.13" y="853.90" text-anchor="middle" font-size="10.4" fill="#4D4D4D" font-family="Liberation Sans, sans-serif">4</text>
<line x1="679.05" x2="679.05" y1="840.5" y2="843.6" stroke="#666" stroke-width="1"/>
<text x="679.05" y="853.90" text-anchor="middle" font-size="10.4" fill="#4D4D4D" font-family="Liberation Sans, sans-serif">5</text>
<text x="582.25" y="867.70" text-anchor="middle" font-size="10.4" fill="#1A1A1A" font-family="Liberation Sans, sans-serif" xml:space="preserve">Expected  − log<tspan font-size="7.3" dy="2.2">10</tspan><tspan dy="-2.2">(P)</tspan></text>
<text transform="translate(462.5,781.10) rotate(-90)" text-anchor="middle" font-size="10.4" fill="#1A1A1A" font-family="Liberation Sans, sans-serif" xml:space="preserve">Observed  − log<tspan font-size="7.3" dy="2.2">10</tspan><tspan dy="-2.2">(P)</tspan></text>
<text x="481.1" y="714.20" font-size="11.2" font-weight="bold" fill="#000" font-family="Liberation Sans, sans-serif">RUWD</text>
</svg></body></html>
